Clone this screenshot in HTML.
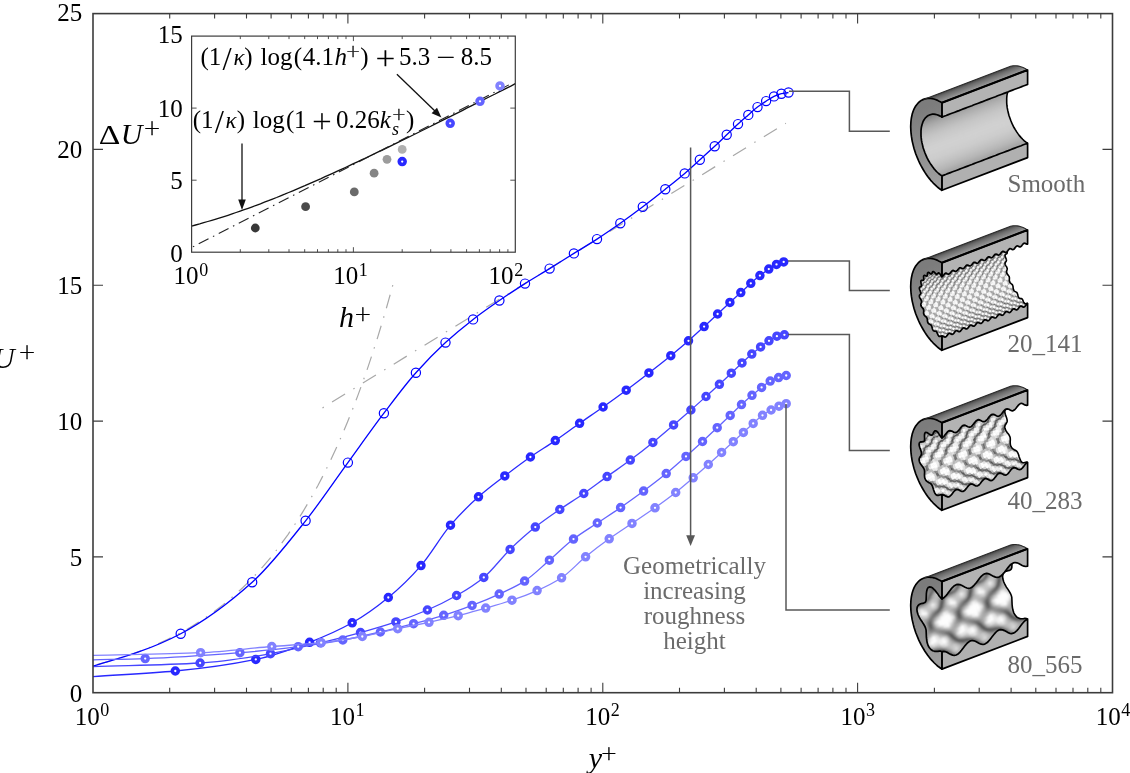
<!DOCTYPE html>
<html><head><meta charset="utf-8"><title>Velocity profiles</title>
<style>html,body{margin:0;padding:0;background:#fff}svg{display:block}</style></head>
<body><svg width="1130" height="773" viewBox="0 0 1130 773">
<defs><filter id="bl5" x="-5%" y="-5%" width="110%" height="110%"><feGaussianBlur stdDeviation="5"/></filter><filter id="bl7" x="-5%" y="-5%" width="110%" height="110%"><feGaussianBlur stdDeviation="7"/></filter><filter id="bl10" x="-5%" y="-5%" width="110%" height="110%"><feGaussianBlur stdDeviation="10"/></filter></defs>
<rect width="1130" height="773" fill="#fff"/>
<g transform="translate(941.9 146.5)">
<defs>
<linearGradient id="sa" gradientUnits="userSpaceOnUse" x1="-18.3" y1="-47.1" x2="-14.9" y2="-38.1"><stop offset="0" stop-color="#454545"/><stop offset=".3" stop-color="#6c6c6c"/><stop offset="1" stop-color="#a2a2a2"/></linearGradient>
<linearGradient id="fa" gradientUnits="userSpaceOnUse" x1="-30" y1="-35" x2="-5" y2="40"><stop offset="0" stop-color="#7c7c7c"/><stop offset="1" stop-color="#a0a0a0"/></linearGradient>
<clipPath id="ca"><path d="M0 -29.4L2.1 -30.2L4.3 -31L6.4 -31.9L8.6 -32.7L10.7 -33.5L12.9 -34.3L15 -35.1L17.1 -35.9L19.3 -36.8L21.4 -37.6L23.6 -38.4L25.7 -39.2L27.9 -40L30 -40.8L32.1 -41.7L34.3 -42.5L36.4 -43.3L38.6 -44.1L40.7 -44.9L42.9 -45.8L45 -46.6L47.1 -47.4L49.3 -48.2L51.4 -49L53.6 -49.8L55.7 -50.7L57.8 -51.5L60 -52.3L62.1 -53.1L64.3 -53.9L66.4 -54.7L68.6 -55.6L70.7 -56.4L72.8 -57.2L75 -58L77.1 -58.8L79.3 -59.6L81.4 -60.5L83.6 -61.3L85.7 -62.1L85.7 -62.1L84.1 -63.1L82.4 -63.8L80.8 -64.4L79.2 -64.8L77.7 -65L76.2 -65L74.8 -64.7L73.4 -64.3L72.1 -63.7L70.9 -62.9L69.8 -61.9L68.8 -60.8L67.9 -59.4L67 -57.9L66.4 -56.3L65.8 -54.5L65.3 -52.5L65 -50.5L64.8 -48.3L64.8 -46L64.8 -43.7L65 -41.3L65.3 -38.8L65.8 -36.3L66.4 -33.8L67 -31.2L67.9 -28.7L68.8 -26.2L69.8 -23.8L70.9 -21.3L72.1 -19L73.4 -16.8L74.8 -14.6L76.2 -12.6L77.7 -10.6L79.2 -8.9L80.8 -7.2L82.4 -5.7L84.1 -4.4L85.7 -3.3L85.7 -3.3L83.6 -2.5L81.4 -1.7L79.3 -0.8L77.1 0L75 0.8L72.8 1.6L70.7 2.4L68.6 3.2L66.4 4.1L64.3 4.9L62.1 5.7L60 6.5L57.8 7.3L55.7 8.1L53.6 9L51.4 9.8L49.3 10.6L47.1 11.4L45 12.2L42.9 13L40.7 13.9L38.6 14.7L36.4 15.5L34.3 16.3L32.1 17.1L30 18L27.9 18.8L25.7 19.6L23.6 20.4L21.4 21.2L19.3 22L17.1 22.9L15 23.7L12.9 24.5L10.7 25.3L8.6 26.1L6.4 26.9L4.3 27.8L2.1 28.6L0 29.4L0 29.4L-1.6 28.3L-3.3 27L-4.9 25.5L-6.5 23.8L-8 22.1L-9.5 20.1L-10.9 18.1L-12.3 15.9L-13.6 13.7L-14.8 11.4L-15.9 8.9L-16.9 6.5L-17.8 4L-18.7 1.5L-19.3 -1.1L-19.9 -3.6L-20.4 -6.1L-20.7 -8.6L-20.9 -11L-20.9 -13.3L-20.9 -15.6L-20.7 -17.8L-20.4 -19.8L-19.9 -21.8L-19.3 -23.6L-18.7 -25.2L-17.8 -26.7L-16.9 -28.1L-15.9 -29.2L-14.8 -30.2L-13.6 -31L-12.3 -31.6L-10.9 -32L-9.5 -32.3L-8 -32.3L-6.5 -32.1L-4.9 -31.7L-3.3 -31.1L-1.6 -30.4L0 -29.4z"/></clipPath>
</defs>
<path d="M0 -43.8L-1.5 -44.7L-3 -45.5L-4.5 -46.2L-6 -46.8L-7.5 -47.3L-8.9 -47.7L-10.3 -47.9L-11.7 -48.1L-13.1 -48.1L-14.5 -48L-15.8 -47.8L-17.1 -47.5L-18.3 -47.1L67.4 -79.8L68.6 -80.2L69.9 -80.5L71.2 -80.7L72.6 -80.8L74 -80.8L75.4 -80.6L76.8 -80.4L78.2 -80L79.7 -79.5L81.2 -78.9L82.7 -78.2L84.2 -77.4L85.7 -76.5z" fill="url(#sa)"/>
<g clip-path="url(#ca)">
<path d="M0 -29.4L2.1 -30.2L4.3 -31L6.4 -31.9L8.6 -32.7L10.7 -33.5L12.9 -34.3L15 -35.1L17.1 -35.9L19.3 -36.8L21.4 -37.6L23.6 -38.4L25.7 -39.2L27.9 -40L30 -40.8L32.1 -41.7L34.3 -42.5L36.4 -43.3L38.6 -44.1L40.7 -44.9L42.9 -45.8L45 -46.6L47.1 -47.4L49.3 -48.2L51.4 -49L53.6 -49.8L55.7 -50.7L57.8 -51.5L60 -52.3L62.1 -53.1L64.3 -53.9L66.4 -54.7L68.6 -55.6L70.7 -56.4L72.8 -57.2L75 -58L77.1 -58.8L79.3 -59.6L81.4 -60.5L83.6 -61.3L85.7 -62.1L85.7 -62.1L84.1 -63.1L82.4 -63.8L80.8 -64.4L79.2 -64.8L77.7 -65L76.2 -65L74.8 -64.7L73.4 -64.3L72.1 -63.7L70.9 -62.9L69.8 -61.9L68.8 -60.8L67.9 -59.4L67 -57.9L66.4 -56.3L65.8 -54.5L65.3 -52.5L65 -50.5L64.8 -48.3L64.8 -46L64.8 -43.7L65 -41.3L65.3 -38.8L65.8 -36.3L66.4 -33.8L67 -31.2L67.9 -28.7L68.8 -26.2L69.8 -23.8L70.9 -21.3L72.1 -19L73.4 -16.8L74.8 -14.6L76.2 -12.6L77.7 -10.6L79.2 -8.9L80.8 -7.2L82.4 -5.7L84.1 -4.4L85.7 -3.3L85.7 -3.3L83.6 -2.5L81.4 -1.7L79.3 -0.8L77.1 0L75 0.8L72.8 1.6L70.7 2.4L68.6 3.2L66.4 4.1L64.3 4.9L62.1 5.7L60 6.5L57.8 7.3L55.7 8.1L53.6 9L51.4 9.8L49.3 10.6L47.1 11.4L45 12.2L42.9 13L40.7 13.9L38.6 14.7L36.4 15.5L34.3 16.3L32.1 17.1L30 18L27.9 18.8L25.7 19.6L23.6 20.4L21.4 21.2L19.3 22L17.1 22.9L15 23.7L12.9 24.5L10.7 25.3L8.6 26.1L6.4 26.9L4.3 27.8L2.1 28.6L0 29.4L0 29.4L-1.6 28.3L-3.3 27L-4.9 25.5L-6.5 23.8L-8 22.1L-9.5 20.1L-10.9 18.1L-12.3 15.9L-13.6 13.7L-14.8 11.4L-15.9 8.9L-16.9 6.5L-17.8 4L-18.7 1.5L-19.3 -1.1L-19.9 -3.6L-20.4 -6.1L-20.7 -8.6L-20.9 -11L-20.9 -13.3L-20.9 -15.6L-20.7 -17.8L-20.4 -19.8L-19.9 -21.8L-19.3 -23.6L-18.7 -25.2L-17.8 -26.7L-16.9 -28.1L-15.9 -29.2L-14.8 -30.2L-13.6 -31L-12.3 -31.6L-10.9 -32L-9.5 -32.3L-8 -32.3L-6.5 -32.1L-4.9 -31.7L-3.3 -31.1L-1.6 -30.4L0 -29.4z" fill="#b4b4b4"/>
<g transform="scale(.1)" fill="currentColor" stroke="currentColor" stroke-width="5" stroke-linejoin="round" filter="url(#bl10)">
<path color="#d1d1d1" d="m-177 43l857-327 11 29-857 327z"/>
<path color="#d1d1d1" d="m-166 72l857-327 12 29-857 327z"/>
<path color="#d0d0d0" d="m-187 13l857-327 10 30-857 327z"/>
<path color="#cfcfcf" d="m-154 101l857-327 14 27-857 327z"/>
<path color="#cecece" d="m-195-16l857-327 8 29-857 327z"/>
<path color="#cdcdcd" d="m-140 128l857-327 14 27-857 327z"/>
<path color="#cbcbcb" d="m-201-46l857-327 6 30-857 327z"/>
<path color="#c9c9c9" d="m-126 155l857-327 16 25-857 327z"/>
<path color="#c7c7c7" d="m-205-75l857-327 4 29-857 327z"/>
<path color="#c4c4c4" d="m-110 180l857-327 17 24-857 327z"/>
<path color="#c2c2c2" d="m-208-103l857-327 3 28-857 327z"/>
<path color="#bfbfbf" d="m-93 204l857-327 18 22-857 327z"/>
<path color="#bcbcbc" d="m-209-131l857-327 1 28-857 327z"/>
<path color="#b9b9b9" d="m-75 226l857-327 18 21-857 327z"/>
<path color="#b5b5b5" d="m-209-158l857-327 0 27-857 327z"/>
<path color="#b2b2b2" d="m-57 247l857-327 19 18-857 327z"/>
<path color="#aeaeae" d="m-206-183l857-327-3 25-857 327z"/>
<path color="#aaa" d="m-38 265l857-327 19 16-857 327z"/>
<path color="#a7a7a7" d="m-202-206l857-327-4 23-857 327z"/>
<path color="#a3a3a3" d="m-19 281l857-327 19 13-857 327z"/>
<path color="#9f9f9f" d="m-196-228l857-327-6 22-857 327z"/>
<path color="#979797" d="m-188-248l857-327-8 20-857 327z"/>
<path color="#8f8f8f" d="m-179-266l857-327-9 18-857 327z"/>
<path color="#888" d="m-168-282l857-327-11 16-857 327z"/>
<path color="#818181" d="m-156-295l857-327-12 13-857 327z"/>
<path color="#7c7c7c" d="m-143-306l857-327-13 11-857 327z"/>
<path color="#777" d="m-128-314l857-327-15 8-857 327z"/>
<path color="#757575" d="m-113-320l857-327-15 6-857 327z"/>
</g></g>
<path d="M85.7 -62.1L84.1 -63.1L82.4 -63.8L80.8 -64.4L79.2 -64.8L77.7 -65L76.2 -65L74.8 -64.7L73.4 -64.3L72.1 -63.7L70.9 -62.9L69.8 -61.9L68.8 -60.8L67.9 -59.4L67 -57.9L66.4 -56.3L65.8 -54.5L65.3 -52.5L65 -50.5L64.8 -48.3L64.8 -46L64.8 -43.7L65 -41.3L65.3 -38.8L65.8 -36.3L66.4 -33.8L67 -31.2L67.9 -28.7L68.8 -26.2L69.8 -23.8L70.9 -21.3L72.1 -19L73.4 -16.8L74.8 -14.6L76.2 -12.6L77.7 -10.6L79.2 -8.9L80.8 -7.2L82.4 -5.7L84.1 -4.4L85.7 -3.3" fill="none" stroke="#000" stroke-width="1.6"/>
<path d="M0 -43.8L85.7 -76.5L85.7 -62.1L83.6 -61.3L81.4 -60.5L79.3 -59.6L77.1 -58.8L75 -58L72.8 -57.2L70.7 -56.4L68.6 -55.6L66.4 -54.7L64.3 -53.9L62.1 -53.1L60 -52.3L57.8 -51.5L55.7 -50.7L53.6 -49.8L51.4 -49L49.3 -48.2L47.1 -47.4L45 -46.6L42.9 -45.8L40.7 -44.9L38.6 -44.1L36.4 -43.3L34.3 -42.5L32.1 -41.7L30 -40.8L27.9 -40L25.7 -39.2L23.6 -38.4L21.4 -37.6L19.3 -36.8L17.1 -35.9L15 -35.1L12.9 -34.3L10.7 -33.5L8.6 -32.7L6.4 -31.9L4.3 -31L2.1 -30.2L0 -29.4z" fill="#b3b3b3" stroke="#000" stroke-width="1.7" stroke-linejoin="round"/>
<path d="M0 29.4L2.1 28.6L4.3 27.8L6.4 26.9L8.6 26.1L10.7 25.3L12.9 24.5L15 23.7L17.1 22.9L19.3 22L21.4 21.2L23.6 20.4L25.7 19.6L27.9 18.8L30 18L32.1 17.1L34.3 16.3L36.4 15.5L38.6 14.7L40.7 13.9L42.9 13L45 12.2L47.1 11.4L49.3 10.6L51.4 9.8L53.6 9L55.7 8.1L57.8 7.3L60 6.5L62.1 5.7L64.3 4.9L66.4 4.1L68.6 3.2L70.7 2.4L72.8 1.6L75 0.8L77.1 0L79.3 -0.8L81.4 -1.7L83.6 -2.5L85.7 -3.3L85.7 11.1L0 43.8z" fill="#b0b0b0" stroke="#000" stroke-width="1.7" stroke-linejoin="round"/>
<path d="M0 -43.8L-1.6 -44.8L-3.3 -45.6L-4.9 -46.4L-6.5 -47L-8.1 -47.5L-9.6 -47.8L-11.2 -48L-12.7 -48.1L-14.2 -48.1L-15.6 -47.9L-17 -47.6L-18.3 -47.1L-19.6 -46.6L-20.9 -45.9L-22.1 -45L-23.2 -44.1L-24.2 -43L-25.2 -41.8L-26.2 -40.5L-27 -39.1L-27.8 -37.6L-28.5 -36L-29.1 -34.3L-29.7 -32.4L-30.1 -30.5L-30.5 -28.6L-30.8 -26.5L-31 -24.4L-31.1 -22.2L-31.2 -19.9L-31.1 -17.6L-31 -15.2L-30.8 -12.8L-30.5 -10.3L-30.1 -7.9L-29.7 -5.4L-29.1 -2.9L-28.5 -0.4L-27.8 2.2L-27 4.7L-26.2 7.2L-25.2 9.7L-24.2 12.1L-23.2 14.5L-22.1 16.9L-20.9 19.2L-19.6 21.5L-18.3 23.7L-17 25.9L-15.6 28L-14.2 30L-12.7 31.9L-11.2 33.8L-9.6 35.5L-8.1 37.2L-6.5 38.7L-4.9 40.2L-3.3 41.5L-1.6 42.7L0 43.8L0 29.4L-1.6 28.3L-3.3 27L-4.9 25.5L-6.5 23.8L-8 22.1L-9.5 20.1L-10.9 18.1L-12.3 15.9L-13.6 13.7L-14.8 11.4L-15.9 8.9L-16.9 6.5L-17.8 4L-18.7 1.5L-19.3 -1.1L-19.9 -3.6L-20.4 -6.1L-20.7 -8.6L-20.9 -11L-20.9 -13.3L-20.9 -15.6L-20.7 -17.8L-20.4 -19.8L-19.9 -21.8L-19.3 -23.6L-18.7 -25.2L-17.8 -26.7L-16.9 -28.1L-15.9 -29.2L-14.8 -30.2L-13.6 -31L-12.3 -31.6L-10.9 -32L-9.5 -32.3L-8 -32.3L-6.5 -32.1L-4.9 -31.7L-3.3 -31.1L-1.6 -30.4L0 -29.4z" fill="url(#fa)" stroke="#000" stroke-width="1.7" stroke-linejoin="round"/>
<path d="M-18.3 -47.1L67.4 -79.8L68.6 -80.2L69.9 -80.5L71.2 -80.7L72.6 -80.8L74 -80.8L75.4 -80.6L76.8 -80.4L78.2 -80L79.7 -79.5L81.2 -78.9L82.7 -78.2L84.2 -77.4L85.7 -76.5" fill="none" stroke="#2a2a2a" stroke-width="1.1" stroke-linejoin="round"/>
<path d="M0 -43.8L85.7 -76.5" fill="none" stroke="#000" stroke-width="2.1"/>
</g>
<g transform="translate(941.9 306.5)">
<defs>
<linearGradient id="sb" gradientUnits="userSpaceOnUse" x1="-18.3" y1="-47.1" x2="-14.9" y2="-38.1"><stop offset="0" stop-color="#454545"/><stop offset=".3" stop-color="#6c6c6c"/><stop offset="1" stop-color="#a2a2a2"/></linearGradient>
<linearGradient id="fb" gradientUnits="userSpaceOnUse" x1="-30" y1="-35" x2="-5" y2="40"><stop offset="0" stop-color="#7c7c7c"/><stop offset="1" stop-color="#a0a0a0"/></linearGradient>
<clipPath id="cb"><path d="M0 -29.7L0.4 -30L0.9 -30.4L1.3 -30.9L1.8 -31.5L2.2 -32.1L2.7 -32.6L3.1 -33L3.6 -33.3L4 -33.3L4.5 -33.3L4.9 -33.1L5.4 -32.8L5.8 -32.6L6.2 -32.4L6.7 -32.3L7.1 -32.4L7.6 -32.7L8 -33.1L8.5 -33.6L8.9 -34.2L9.4 -34.8L9.8 -35.3L10.3 -35.7L10.7 -36L11.2 -36.1L11.6 -36L12.1 -35.8L12.5 -35.6L12.9 -35.3L13.4 -35.1L13.8 -35.1L14.3 -35.2L14.7 -35.4L15.2 -35.8L15.6 -36.3L16.1 -36.9L16.5 -37.5L17 -38L17.4 -38.4L17.9 -38.7L18.3 -38.8L18.7 -38.7L19.2 -38.5L19.6 -38.3L20.1 -38L20.5 -37.9L21 -37.8L21.4 -37.9L21.9 -38.1L22.3 -38.5L22.8 -39.1L23.2 -39.7L23.7 -40.2L24.1 -40.8L24.5 -41.2L25 -41.4L25.4 -41.5L25.9 -41.4L26.3 -41.3L26.8 -41L27.2 -40.8L27.7 -40.6L28.1 -40.5L28.6 -40.6L29 -40.9L29.5 -41.3L29.9 -41.8L30.4 -42.4L30.8 -43L31.2 -43.5L31.7 -43.9L32.1 -44.2L32.6 -44.2L33 -44.2L33.5 -44L33.9 -43.7L34.4 -43.5L34.8 -43.3L35.3 -43.2L35.7 -43.3L36.2 -43.6L36.6 -44L37 -44.5L37.5 -45.1L37.9 -45.7L38.4 -46.2L38.8 -46.6L39.3 -46.9L39.7 -47L40.2 -46.9L40.6 -46.7L41.1 -46.5L41.5 -46.2L42 -46L42.4 -46L42.9 -46.1L43.3 -46.3L43.7 -46.7L44.2 -47.2L44.6 -47.8L45.1 -48.4L45.5 -48.9L46 -49.3L46.4 -49.6L46.9 -49.7L47.3 -49.6L47.8 -49.4L48.2 -49.2L48.7 -48.9L49.1 -48.8L49.5 -48.7L50 -48.8L50.4 -49L50.9 -49.4L51.3 -50L51.8 -50.6L52.2 -51.1L52.7 -51.7L53.1 -52.1L53.6 -52.3L54 -52.4L54.5 -52.3L54.9 -52.2L55.3 -51.9L55.8 -51.7L56.2 -51.5L56.7 -51.4L57.1 -51.5L57.6 -51.8L58 -52.2L58.5 -52.7L58.9 -53.3L59.4 -53.9L59.8 -54.4L60.3 -54.8L60.7 -55.1L61.2 -55.1L61.6 -55.1L62 -54.9L62.5 -54.6L62.9 -54.4L63.4 -54.2L63.8 -54.1L64.3 -54.2L64.7 -54.5L65.2 -54.9L65.6 -55.4L66.1 -56L66.5 -56.6L67 -57.1L67.4 -57.5L67.8 -57.8L68.3 -57.9L68.7 -57.8L69.2 -57.6L69.6 -57.4L70.1 -57.1L70.5 -56.9L71 -56.9L71.4 -57L71.9 -57.2L72.3 -57.6L72.8 -58.1L73.2 -58.7L73.6 -59.3L74.1 -59.8L74.5 -60.2L75 -60.5L75.4 -60.6L75.9 -60.5L76.3 -60.3L76.8 -60.1L77.2 -59.8L77.7 -59.7L78.1 -59.6L78.6 -59.7L79 -59.9L79.5 -60.3L79.9 -60.9L80.3 -61.5L80.8 -62L81.2 -62.6L81.7 -63L82.1 -63.2L82.6 -63.3L83 -63.2L83.5 -63.1L83.9 -62.8L84.4 -62.6L84.8 -62.4L85.3 -62.3L85.7 -62.4L85.7 -62.4L85.4 -62.7L85 -63.2L84.6 -63.7L84.3 -64.3L83.9 -65L83.5 -65.5L83.1 -65.9L82.7 -66.2L82.4 -66.3L82 -66.2L81.7 -65.9L81.4 -65.6L81.1 -65.3L80.8 -65L80.5 -64.9L80.2 -64.9L79.9 -65.1L79.5 -65.4L79.1 -65.8L78.7 -66.4L78.2 -66.9L77.8 -67.3L77.4 -67.6L77 -67.7L76.7 -67.6L76.4 -67.4L76.2 -67L76 -66.5L75.8 -66L75.6 -65.6L75.4 -65.3L75.1 -65.2L74.8 -65.2L74.4 -65.4L74 -65.7L73.5 -66.1L73.1 -66.4L72.6 -66.7L72.2 -66.8L71.9 -66.8L71.6 -66.6L71.4 -66.2L71.3 -65.7L71.2 -65.1L71.2 -64.5L71.1 -63.9L70.9 -63.5L70.7 -63.2L70.5 -63.1L70.1 -63.2L69.7 -63.3L69.2 -63.5L68.8 -63.7L68.3 -63.8L68 -63.8L67.7 -63.6L67.5 -63.2L67.4 -62.7L67.4 -62.1L67.5 -61.4L67.5 -60.8L67.5 -60.1L67.5 -59.6L67.4 -59.2L67.2 -59L66.8 -58.9L66.5 -58.9L66 -58.9L65.6 -58.9L65.2 -58.8L64.9 -58.6L64.7 -58.3L64.6 -57.8L64.7 -57.2L64.8 -56.6L64.9 -55.8L65.1 -55.1L65.2 -54.5L65.3 -53.9L65.3 -53.4L65.1 -53.1L64.9 -52.8L64.6 -52.6L64.2 -52.4L63.8 -52.2L63.5 -52L63.3 -51.7L63.2 -51.2L63.2 -50.7L63.3 -50.1L63.5 -49.4L63.8 -48.7L64.1 -48L64.3 -47.3L64.5 -46.7L64.5 -46.2L64.5 -45.7L64.3 -45.3L64.1 -45L63.8 -44.6L63.5 -44.3L63.3 -43.9L63.2 -43.4L63.2 -42.9L63.3 -42.3L63.5 -41.7L63.8 -41.1L64.2 -40.4L64.6 -39.8L64.9 -39.2L65.1 -38.6L65.3 -38L65.3 -37.5L65.2 -37L65.1 -36.5L64.9 -36L64.8 -35.5L64.7 -35L64.6 -34.4L64.7 -33.9L64.9 -33.3L65.2 -32.7L65.6 -32.2L66 -31.6L66.5 -31.1L66.8 -30.6L67.2 -30.1L67.4 -29.5L67.5 -29L67.5 -28.4L67.5 -27.8L67.5 -27.2L67.4 -26.6L67.4 -26L67.5 -25.4L67.7 -24.8L68 -24.2L68.3 -23.8L68.8 -23.3L69.2 -22.9L69.7 -22.5L70.1 -22.1L70.5 -21.7L70.7 -21.2L70.9 -20.7L71.1 -20.1L71.2 -19.5L71.2 -18.8L71.3 -18.1L71.4 -17.4L71.6 -16.8L71.9 -16.2L72.2 -15.8L72.6 -15.4L73.1 -15.1L73.5 -14.9L74 -14.6L74.4 -14.4L74.8 -14.1L75.1 -13.7L75.4 -13.2L75.6 -12.6L75.8 -12L76 -11.3L76.2 -10.5L76.4 -9.9L76.7 -9.3L77 -8.8L77.4 -8.4L77.8 -8.2L78.2 -8.1L78.7 -8L79.1 -8L79.5 -7.9L79.9 -7.8L80.2 -7.5L80.5 -7.1L80.8 -6.6L81.1 -5.9L81.4 -5.2L81.7 -4.5L82 -3.9L82.4 -3.4L82.7 -3L83.1 -2.8L83.5 -2.7L83.9 -2.7L84.3 -2.9L84.6 -3L85 -3.1L85.4 -3.1L85.7 -3L85.7 -3L85.3 -2.7L84.8 -2.3L84.4 -1.8L83.9 -1.2L83.5 -0.6L83 -0.1L82.6 0.3L82.1 0.6L81.7 0.6L81.2 0.6L80.8 0.4L80.3 0.1L79.9 -0.1L79.5 -0.3L79 -0.4L78.6 -0.3L78.1 0L77.7 0.4L77.2 0.9L76.8 1.5L76.3 2.1L75.9 2.6L75.4 3L75 3.3L74.5 3.4L74.1 3.3L73.6 3.1L73.2 2.9L72.8 2.6L72.3 2.4L71.9 2.4L71.4 2.5L71 2.7L70.5 3.1L70.1 3.6L69.6 4.2L69.2 4.8L68.7 5.3L68.3 5.7L67.8 6L67.4 6.1L67 6L66.5 5.8L66.1 5.6L65.6 5.3L65.2 5.2L64.7 5.1L64.3 5.2L63.8 5.4L63.4 5.8L62.9 6.4L62.5 7L62 7.5L61.6 8.1L61.2 8.5L60.7 8.7L60.3 8.8L59.8 8.7L59.4 8.6L58.9 8.3L58.5 8.1L58 7.9L57.6 7.8L57.1 7.9L56.7 8.2L56.2 8.6L55.8 9.1L55.3 9.7L54.9 10.3L54.5 10.8L54 11.2L53.6 11.5L53.1 11.5L52.7 11.5L52.2 11.3L51.8 11L51.3 10.8L50.9 10.6L50.4 10.5L50 10.6L49.5 10.9L49.1 11.3L48.7 11.8L48.2 12.4L47.8 13L47.3 13.5L46.9 13.9L46.4 14.2L46 14.3L45.5 14.2L45.1 14L44.6 13.8L44.2 13.5L43.7 13.3L43.3 13.3L42.9 13.4L42.4 13.6L42 14L41.5 14.5L41.1 15.1L40.6 15.7L40.2 16.2L39.7 16.6L39.3 16.9L38.8 17L38.4 16.9L37.9 16.7L37.5 16.5L37 16.2L36.6 16.1L36.2 16L35.7 16.1L35.3 16.3L34.8 16.7L34.4 17.3L33.9 17.9L33.5 18.4L33 19L32.6 19.4L32.1 19.6L31.7 19.7L31.2 19.6L30.8 19.5L30.4 19.2L29.9 19L29.5 18.8L29 18.7L28.6 18.8L28.1 19.1L27.7 19.5L27.2 20L26.8 20.6L26.3 21.2L25.9 21.7L25.4 22.1L25 22.4L24.5 22.4L24.1 22.4L23.7 22.2L23.2 21.9L22.8 21.7L22.3 21.5L21.9 21.4L21.4 21.5L21 21.8L20.5 22.2L20.1 22.7L19.6 23.3L19.2 23.9L18.7 24.4L18.3 24.8L17.9 25.1L17.4 25.2L17 25.1L16.5 24.9L16.1 24.7L15.6 24.4L15.2 24.2L14.7 24.2L14.3 24.3L13.8 24.5L13.4 24.9L12.9 25.4L12.5 26L12.1 26.6L11.6 27.1L11.2 27.5L10.7 27.8L10.3 27.9L9.8 27.8L9.4 27.6L8.9 27.4L8.5 27.1L8 27L7.6 26.9L7.1 27L6.7 27.2L6.2 27.6L5.8 28.2L5.4 28.8L4.9 29.3L4.5 29.9L4 30.3L3.6 30.5L3.1 30.6L2.7 30.5L2.2 30.4L1.8 30.1L1.3 29.9L0.9 29.7L0.4 29.6L0 29.7L0 29.7L-0.3 29.6L-0.7 29.6L-1.1 29.7L-1.4 29.8L-1.8 30L-2.2 30L-2.6 29.9L-3 29.7L-3.3 29.3L-3.7 28.8L-4 28.2L-4.3 27.5L-4.6 26.8L-4.9 26.1L-5.2 25.6L-5.5 25.2L-5.8 24.9L-6.2 24.8L-6.6 24.7L-7 24.7L-7.5 24.6L-7.9 24.5L-8.3 24.3L-8.7 23.9L-9 23.4L-9.3 22.8L-9.5 22.2L-9.7 21.4L-9.9 20.7L-10.1 20.1L-10.3 19.5L-10.6 19L-10.9 18.6L-11.3 18.3L-11.7 18.1L-12.2 17.8L-12.6 17.6L-13.1 17.3L-13.5 16.9L-13.8 16.5L-14.1 15.9L-14.3 15.3L-14.4 14.6L-14.5 13.9L-14.5 13.2L-14.6 12.6L-14.8 12L-15 11.5L-15.2 11L-15.6 10.6L-16 10.2L-16.5 9.8L-16.9 9.4L-17.4 8.9L-17.7 8.5L-18 7.9L-18.2 7.3L-18.3 6.7L-18.3 6.1L-18.2 5.5L-18.2 4.9L-18.2 4.3L-18.2 3.7L-18.3 3.2L-18.5 2.6L-18.9 2.1L-19.2 1.6L-19.7 1.1L-20.1 0.5L-20.5 0L-20.8 -0.6L-21 -1.2L-21.1 -1.7L-21 -2.3L-20.9 -2.8L-20.8 -3.3L-20.6 -3.8L-20.5 -4.3L-20.4 -4.8L-20.4 -5.3L-20.6 -5.9L-20.8 -6.5L-21.1 -7.1L-21.5 -7.7L-21.9 -8.4L-22.2 -9L-22.4 -9.6L-22.5 -10.2L-22.5 -10.7L-22.4 -11.2L-22.2 -11.6L-21.9 -11.9L-21.6 -12.3L-21.4 -12.6L-21.2 -13L-21.2 -13.5L-21.2 -14L-21.4 -14.6L-21.6 -15.3L-21.9 -16L-22.2 -16.7L-22.4 -17.4L-22.5 -18L-22.5 -18.5L-22.4 -19L-22.2 -19.3L-21.9 -19.5L-21.5 -19.7L-21.1 -19.9L-20.8 -20.1L-20.6 -20.4L-20.4 -20.7L-20.4 -21.2L-20.5 -21.8L-20.6 -22.4L-20.8 -23.1L-20.9 -23.9L-21 -24.5L-21.1 -25.1L-21 -25.6L-20.8 -25.9L-20.5 -26.1L-20.1 -26.2L-19.7 -26.2L-19.2 -26.2L-18.9 -26.2L-18.5 -26.3L-18.3 -26.5L-18.2 -26.9L-18.2 -27.4L-18.2 -28.1L-18.2 -28.7L-18.3 -29.4L-18.3 -30L-18.2 -30.5L-18 -30.9L-17.7 -31.1L-17.4 -31.1L-16.9 -31L-16.5 -30.8L-16 -30.6L-15.6 -30.5L-15.2 -30.4L-15 -30.5L-14.8 -30.8L-14.6 -31.2L-14.5 -31.8L-14.5 -32.4L-14.4 -33L-14.3 -33.5L-14.1 -33.9L-13.8 -34.1L-13.5 -34.1L-13.1 -34L-12.6 -33.7L-12.2 -33.4L-11.7 -33L-11.3 -32.7L-10.9 -32.5L-10.6 -32.5L-10.3 -32.6L-10.1 -32.9L-9.9 -33.3L-9.7 -33.8L-9.5 -34.3L-9.3 -34.7L-9 -34.9L-8.7 -35L-8.3 -34.9L-7.9 -34.6L-7.5 -34.2L-7 -33.7L-6.6 -33.1L-6.2 -32.7L-5.8 -32.4L-5.5 -32.2L-5.2 -32.2L-4.9 -32.3L-4.6 -32.6L-4.3 -32.9L-4 -33.2L-3.7 -33.5L-3.3 -33.6L-3 -33.5L-2.6 -33.2L-2.2 -32.8L-1.8 -32.3L-1.4 -31.6L-1.1 -31L-0.7 -30.5L-0.3 -30L0 -29.7z"/></clipPath>
</defs>
<path d="M0 -43.8L-1.5 -44.7L-3 -45.5L-4.5 -46.2L-6 -46.8L-7.5 -47.3L-8.9 -47.7L-10.3 -47.9L-11.7 -48.1L-13.1 -48.1L-14.5 -48L-15.8 -47.8L-17.1 -47.5L-18.3 -47.1L67.4 -79.8L68.6 -80.2L69.9 -80.5L71.2 -80.7L72.6 -80.8L74 -80.8L75.4 -80.6L76.8 -80.4L78.2 -80L79.7 -79.5L81.2 -78.9L82.7 -78.2L84.2 -77.4L85.7 -76.5z" fill="url(#sb)"/>
<g clip-path="url(#cb)">
<path d="M0 -29.7L0.4 -30L0.9 -30.4L1.3 -30.9L1.8 -31.5L2.2 -32.1L2.7 -32.6L3.1 -33L3.6 -33.3L4 -33.3L4.5 -33.3L4.9 -33.1L5.4 -32.8L5.8 -32.6L6.2 -32.4L6.7 -32.3L7.1 -32.4L7.6 -32.7L8 -33.1L8.5 -33.6L8.9 -34.2L9.4 -34.8L9.8 -35.3L10.3 -35.7L10.7 -36L11.2 -36.1L11.6 -36L12.1 -35.8L12.5 -35.6L12.9 -35.3L13.4 -35.1L13.8 -35.1L14.3 -35.2L14.7 -35.4L15.2 -35.8L15.6 -36.3L16.1 -36.9L16.5 -37.5L17 -38L17.4 -38.4L17.9 -38.7L18.3 -38.8L18.7 -38.7L19.2 -38.5L19.6 -38.3L20.1 -38L20.5 -37.9L21 -37.8L21.4 -37.9L21.9 -38.1L22.3 -38.5L22.8 -39.1L23.2 -39.7L23.7 -40.2L24.1 -40.8L24.5 -41.2L25 -41.4L25.4 -41.5L25.9 -41.4L26.3 -41.3L26.8 -41L27.2 -40.8L27.7 -40.6L28.1 -40.5L28.6 -40.6L29 -40.9L29.5 -41.3L29.9 -41.8L30.4 -42.4L30.8 -43L31.2 -43.5L31.7 -43.9L32.1 -44.2L32.6 -44.2L33 -44.2L33.5 -44L33.9 -43.7L34.4 -43.5L34.8 -43.3L35.3 -43.2L35.7 -43.3L36.2 -43.6L36.6 -44L37 -44.5L37.5 -45.1L37.9 -45.7L38.4 -46.2L38.8 -46.6L39.3 -46.9L39.7 -47L40.2 -46.9L40.6 -46.7L41.1 -46.5L41.5 -46.2L42 -46L42.4 -46L42.9 -46.1L43.3 -46.3L43.7 -46.7L44.2 -47.2L44.6 -47.8L45.1 -48.4L45.5 -48.9L46 -49.3L46.4 -49.6L46.9 -49.7L47.3 -49.6L47.8 -49.4L48.2 -49.2L48.7 -48.9L49.1 -48.8L49.5 -48.7L50 -48.8L50.4 -49L50.9 -49.4L51.3 -50L51.8 -50.6L52.2 -51.1L52.7 -51.7L53.1 -52.1L53.6 -52.3L54 -52.4L54.5 -52.3L54.9 -52.2L55.3 -51.9L55.8 -51.7L56.2 -51.5L56.7 -51.4L57.1 -51.5L57.6 -51.8L58 -52.2L58.5 -52.7L58.9 -53.3L59.4 -53.9L59.8 -54.4L60.3 -54.8L60.7 -55.1L61.2 -55.1L61.6 -55.1L62 -54.9L62.5 -54.6L62.9 -54.4L63.4 -54.2L63.8 -54.1L64.3 -54.2L64.7 -54.5L65.2 -54.9L65.6 -55.4L66.1 -56L66.5 -56.6L67 -57.1L67.4 -57.5L67.8 -57.8L68.3 -57.9L68.7 -57.8L69.2 -57.6L69.6 -57.4L70.1 -57.1L70.5 -56.9L71 -56.9L71.4 -57L71.9 -57.2L72.3 -57.6L72.8 -58.1L73.2 -58.7L73.6 -59.3L74.1 -59.8L74.5 -60.2L75 -60.5L75.4 -60.6L75.9 -60.5L76.3 -60.3L76.8 -60.1L77.2 -59.8L77.7 -59.7L78.1 -59.6L78.6 -59.7L79 -59.9L79.5 -60.3L79.9 -60.9L80.3 -61.5L80.8 -62L81.2 -62.6L81.7 -63L82.1 -63.2L82.6 -63.3L83 -63.2L83.5 -63.1L83.9 -62.8L84.4 -62.6L84.8 -62.4L85.3 -62.3L85.7 -62.4L85.7 -62.4L85.4 -62.7L85 -63.2L84.6 -63.7L84.3 -64.3L83.9 -65L83.5 -65.5L83.1 -65.9L82.7 -66.2L82.4 -66.3L82 -66.2L81.7 -65.9L81.4 -65.6L81.1 -65.3L80.8 -65L80.5 -64.9L80.2 -64.9L79.9 -65.1L79.5 -65.4L79.1 -65.8L78.7 -66.4L78.2 -66.9L77.8 -67.3L77.4 -67.6L77 -67.7L76.7 -67.6L76.4 -67.4L76.2 -67L76 -66.5L75.8 -66L75.6 -65.6L75.4 -65.3L75.1 -65.2L74.8 -65.2L74.4 -65.4L74 -65.7L73.5 -66.1L73.1 -66.4L72.6 -66.7L72.2 -66.8L71.9 -66.8L71.6 -66.6L71.4 -66.2L71.3 -65.7L71.2 -65.1L71.2 -64.5L71.1 -63.9L70.9 -63.5L70.7 -63.2L70.5 -63.1L70.1 -63.2L69.7 -63.3L69.2 -63.5L68.8 -63.7L68.3 -63.8L68 -63.8L67.7 -63.6L67.5 -63.2L67.4 -62.7L67.4 -62.1L67.5 -61.4L67.5 -60.8L67.5 -60.1L67.5 -59.6L67.4 -59.2L67.2 -59L66.8 -58.9L66.5 -58.9L66 -58.9L65.6 -58.9L65.2 -58.8L64.9 -58.6L64.7 -58.3L64.6 -57.8L64.7 -57.2L64.8 -56.6L64.9 -55.8L65.1 -55.1L65.2 -54.5L65.3 -53.9L65.3 -53.4L65.1 -53.1L64.9 -52.8L64.6 -52.6L64.2 -52.4L63.8 -52.2L63.5 -52L63.3 -51.7L63.2 -51.2L63.2 -50.7L63.3 -50.1L63.5 -49.4L63.8 -48.7L64.1 -48L64.3 -47.3L64.5 -46.7L64.5 -46.2L64.5 -45.7L64.3 -45.3L64.1 -45L63.8 -44.6L63.5 -44.3L63.3 -43.9L63.2 -43.4L63.2 -42.9L63.3 -42.3L63.5 -41.7L63.8 -41.1L64.2 -40.4L64.6 -39.8L64.9 -39.2L65.1 -38.6L65.3 -38L65.3 -37.5L65.2 -37L65.1 -36.5L64.9 -36L64.8 -35.5L64.7 -35L64.6 -34.4L64.7 -33.9L64.9 -33.3L65.2 -32.7L65.6 -32.2L66 -31.6L66.5 -31.1L66.8 -30.6L67.2 -30.1L67.4 -29.5L67.5 -29L67.5 -28.4L67.5 -27.8L67.5 -27.2L67.4 -26.6L67.4 -26L67.5 -25.4L67.7 -24.8L68 -24.2L68.3 -23.8L68.8 -23.3L69.2 -22.9L69.7 -22.5L70.1 -22.1L70.5 -21.7L70.7 -21.2L70.9 -20.7L71.1 -20.1L71.2 -19.5L71.2 -18.8L71.3 -18.1L71.4 -17.4L71.6 -16.8L71.9 -16.2L72.2 -15.8L72.6 -15.4L73.1 -15.1L73.5 -14.9L74 -14.6L74.4 -14.4L74.8 -14.1L75.1 -13.7L75.4 -13.2L75.6 -12.6L75.8 -12L76 -11.3L76.2 -10.5L76.4 -9.9L76.7 -9.3L77 -8.8L77.4 -8.4L77.8 -8.2L78.2 -8.1L78.7 -8L79.1 -8L79.5 -7.9L79.9 -7.8L80.2 -7.5L80.5 -7.1L80.8 -6.6L81.1 -5.9L81.4 -5.2L81.7 -4.5L82 -3.9L82.4 -3.4L82.7 -3L83.1 -2.8L83.5 -2.7L83.9 -2.7L84.3 -2.9L84.6 -3L85 -3.1L85.4 -3.1L85.7 -3L85.7 -3L85.3 -2.7L84.8 -2.3L84.4 -1.8L83.9 -1.2L83.5 -0.6L83 -0.1L82.6 0.3L82.1 0.6L81.7 0.6L81.2 0.6L80.8 0.4L80.3 0.1L79.9 -0.1L79.5 -0.3L79 -0.4L78.6 -0.3L78.1 0L77.7 0.4L77.2 0.9L76.8 1.5L76.3 2.1L75.9 2.6L75.4 3L75 3.3L74.5 3.4L74.1 3.3L73.6 3.1L73.2 2.9L72.8 2.6L72.3 2.4L71.9 2.4L71.4 2.5L71 2.7L70.5 3.1L70.1 3.6L69.6 4.2L69.2 4.8L68.7 5.3L68.3 5.7L67.8 6L67.4 6.1L67 6L66.5 5.8L66.1 5.6L65.6 5.3L65.2 5.2L64.7 5.1L64.3 5.2L63.8 5.4L63.4 5.8L62.9 6.4L62.5 7L62 7.5L61.6 8.1L61.2 8.5L60.7 8.7L60.3 8.8L59.8 8.7L59.4 8.6L58.9 8.3L58.5 8.1L58 7.9L57.6 7.8L57.1 7.9L56.7 8.2L56.2 8.6L55.8 9.1L55.3 9.7L54.9 10.3L54.5 10.8L54 11.2L53.6 11.5L53.1 11.5L52.7 11.5L52.2 11.3L51.8 11L51.3 10.8L50.9 10.6L50.4 10.5L50 10.6L49.5 10.9L49.1 11.3L48.7 11.8L48.2 12.4L47.8 13L47.3 13.5L46.9 13.9L46.4 14.2L46 14.3L45.5 14.2L45.1 14L44.6 13.8L44.2 13.5L43.7 13.3L43.3 13.3L42.9 13.4L42.4 13.6L42 14L41.5 14.5L41.1 15.1L40.6 15.7L40.2 16.2L39.7 16.6L39.3 16.9L38.8 17L38.4 16.9L37.9 16.7L37.5 16.5L37 16.2L36.6 16.1L36.2 16L35.7 16.1L35.3 16.3L34.8 16.7L34.4 17.3L33.9 17.9L33.5 18.4L33 19L32.6 19.4L32.1 19.6L31.7 19.7L31.2 19.6L30.8 19.5L30.4 19.2L29.9 19L29.5 18.8L29 18.7L28.6 18.8L28.1 19.1L27.7 19.5L27.2 20L26.8 20.6L26.3 21.2L25.9 21.7L25.4 22.1L25 22.4L24.5 22.4L24.1 22.4L23.7 22.2L23.2 21.9L22.8 21.7L22.3 21.5L21.9 21.4L21.4 21.5L21 21.8L20.5 22.2L20.1 22.7L19.6 23.3L19.2 23.9L18.7 24.4L18.3 24.8L17.9 25.1L17.4 25.2L17 25.1L16.5 24.9L16.1 24.7L15.6 24.4L15.2 24.2L14.7 24.2L14.3 24.3L13.8 24.5L13.4 24.9L12.9 25.4L12.5 26L12.1 26.6L11.6 27.1L11.2 27.5L10.7 27.8L10.3 27.9L9.8 27.8L9.4 27.6L8.9 27.4L8.5 27.1L8 27L7.6 26.9L7.1 27L6.7 27.2L6.2 27.6L5.8 28.2L5.4 28.8L4.9 29.3L4.5 29.9L4 30.3L3.6 30.5L3.1 30.6L2.7 30.5L2.2 30.4L1.8 30.1L1.3 29.9L0.9 29.7L0.4 29.6L0 29.7L0 29.7L-0.3 29.6L-0.7 29.6L-1.1 29.7L-1.4 29.8L-1.8 30L-2.2 30L-2.6 29.9L-3 29.7L-3.3 29.3L-3.7 28.8L-4 28.2L-4.3 27.5L-4.6 26.8L-4.9 26.1L-5.2 25.6L-5.5 25.2L-5.8 24.9L-6.2 24.8L-6.6 24.7L-7 24.7L-7.5 24.6L-7.9 24.5L-8.3 24.3L-8.7 23.9L-9 23.4L-9.3 22.8L-9.5 22.2L-9.7 21.4L-9.9 20.7L-10.1 20.1L-10.3 19.5L-10.6 19L-10.9 18.6L-11.3 18.3L-11.7 18.1L-12.2 17.8L-12.6 17.6L-13.1 17.3L-13.5 16.9L-13.8 16.5L-14.1 15.9L-14.3 15.3L-14.4 14.6L-14.5 13.9L-14.5 13.2L-14.6 12.6L-14.8 12L-15 11.5L-15.2 11L-15.6 10.6L-16 10.2L-16.5 9.8L-16.9 9.4L-17.4 8.9L-17.7 8.5L-18 7.9L-18.2 7.3L-18.3 6.7L-18.3 6.1L-18.2 5.5L-18.2 4.9L-18.2 4.3L-18.2 3.7L-18.3 3.2L-18.5 2.6L-18.9 2.1L-19.2 1.6L-19.7 1.1L-20.1 0.5L-20.5 0L-20.8 -0.6L-21 -1.2L-21.1 -1.7L-21 -2.3L-20.9 -2.8L-20.8 -3.3L-20.6 -3.8L-20.5 -4.3L-20.4 -4.8L-20.4 -5.3L-20.6 -5.9L-20.8 -6.5L-21.1 -7.1L-21.5 -7.7L-21.9 -8.4L-22.2 -9L-22.4 -9.6L-22.5 -10.2L-22.5 -10.7L-22.4 -11.2L-22.2 -11.6L-21.9 -11.9L-21.6 -12.3L-21.4 -12.6L-21.2 -13L-21.2 -13.5L-21.2 -14L-21.4 -14.6L-21.6 -15.3L-21.9 -16L-22.2 -16.7L-22.4 -17.4L-22.5 -18L-22.5 -18.5L-22.4 -19L-22.2 -19.3L-21.9 -19.5L-21.5 -19.7L-21.1 -19.9L-20.8 -20.1L-20.6 -20.4L-20.4 -20.7L-20.4 -21.2L-20.5 -21.8L-20.6 -22.4L-20.8 -23.1L-20.9 -23.9L-21 -24.5L-21.1 -25.1L-21 -25.6L-20.8 -25.9L-20.5 -26.1L-20.1 -26.2L-19.7 -26.2L-19.2 -26.2L-18.9 -26.2L-18.5 -26.3L-18.3 -26.5L-18.2 -26.9L-18.2 -27.4L-18.2 -28.1L-18.2 -28.7L-18.3 -29.4L-18.3 -30L-18.2 -30.5L-18 -30.9L-17.7 -31.1L-17.4 -31.1L-16.9 -31L-16.5 -30.8L-16 -30.6L-15.6 -30.5L-15.2 -30.4L-15 -30.5L-14.8 -30.8L-14.6 -31.2L-14.5 -31.8L-14.5 -32.4L-14.4 -33L-14.3 -33.5L-14.1 -33.9L-13.8 -34.1L-13.5 -34.1L-13.1 -34L-12.6 -33.7L-12.2 -33.4L-11.7 -33L-11.3 -32.7L-10.9 -32.5L-10.6 -32.5L-10.3 -32.6L-10.1 -32.9L-9.9 -33.3L-9.7 -33.8L-9.5 -34.3L-9.3 -34.7L-9 -34.9L-8.7 -35L-8.3 -34.9L-7.9 -34.6L-7.5 -34.2L-7 -33.7L-6.6 -33.1L-6.2 -32.7L-5.8 -32.4L-5.5 -32.2L-5.2 -32.2L-4.9 -32.3L-4.6 -32.6L-4.3 -32.9L-4 -33.2L-3.7 -33.5L-3.3 -33.6L-3 -33.5L-2.6 -33.2L-2.2 -32.8L-1.8 -32.3L-1.4 -31.6L-1.1 -31L-0.7 -30.5L-0.3 -30L0 -29.7z" fill="#b4b4b4"/>
<g transform="scale(.1)" fill="currentColor" stroke="currentColor" stroke-width="5" stroke-linejoin="round" filter="url(#bl5)">
<path color="#a4a4a4" d="m665-245l11-4 15 19-17 7z"/>
<path color="#adadad" d="m656-266l19-7 1 24-11 4z"/>
<path color="#b0b0b0" d="m636-333l11-7 12 23-17 6z"/>
<path color="#b9b9b9" d="m694-182l18-7 6 26-13 1z"/>
<path color="#949494" d="m631-355l19-7-3 22-11 7z"/>
<path color="#f4f4f4" d="m649-288l24-8 2 23-19 7z"/>
<path color="#fbfbfb" d="m624-280l25-8 7 22-18 7z"/>
<path color="#efefef" d="m674-223l17-7 16 17-23 11z"/>
<path color="#fbfbfb" d="m642-311l17-6 14 21-24 8z"/>
<path color="#fafafa" d="m656-217l18-6 10 21-24 11z"/>
<path color="#ececec" d="m625-304l17-7 7 23-25 8z"/>
<path color="#8a8a8a" d="m705-162l13-1 17 14-18 7z"/>
<path color="#fdfdfd" d="m684-202l23-11 5 24-18 7z"/>
<path color="#ededed" d="m660-191l24-11 10 20-18 8z"/>
<path color="#afafaf" d="m638-259l18-7 9 21-12 5z"/>
<path color="#acacac" d="m653-240l12-5 9 22-18 6z"/>
<path color="#ababab" d="m613-275l11-5 14 21-17 6z"/>
<path color="#b5b5b5" d="m638-209l18-8 4 26-12 3z"/>
<path color="#a2a2a2" d="m606-297l19-7-1 24-11 5z"/>
<path color="#e5e5e5" d="m627-377l25-5-2 20-19 7z"/>
<path color="#989898" d="m648-188l12-3 16 17-18 6z"/>
<path color="#fff" d="m602-372l25-5 4 22-18 7z"/>
<path color="#969696" d="m626-326l10-7 6 22-17 7z"/>
<path color="#949494" d="m676-174l18-8 11 20-13 2z"/>
<path color="#d7d7d7" d="m717-142l18-7 16 11-22 14z"/>
<path color="#acacac" d="m622-420l10-10 9 24-17 7z"/>
<path color="#bdbdbd" d="m613-348l18-7 5 22-10 7z"/>
<path color="#f5f5f5" d="m621-253l17-6 15 19-24 9z"/>
<path color="#fff" d="m624-399l17-7 11 24-25 5z"/>
<path color="#fefefe" d="m699-136l18-6 12 18-22 14z"/>
<path color="#fbfbfb" d="m629-231l24-9 3 23-18 8z"/>
<path color="#f4f4f4" d="m605-221l24-10 9 22-18 7z"/>
<path color="#f3f3f3" d="m603-246l18-7 8 22-24 10z"/>
<path color="#d1d1d1" d="m607-392l17-7 3 22-25 5z"/>
<path color="#b4b4b4" d="m692-160l13-2 12 20-18 6z"/>
<path color="#b6b6b6" d="m742-106l18-7 10 25-15-1z"/>
<path color="#b0b0b0" d="m591-363l11-9 11 24-17 7z"/>
<path color="#fff" d="m729-124l22-14 9 25-18 7z"/>
<path color="#eee" d="m601-319l25-7-1 22-19 7z"/>
<path color="#fdfdfd" d="m576-313l25-6 5 22-18 7z"/>
<path color="#d4d4d4" d="m707-110l22-14 13 18-18 7z"/>
<path color="#e5e5e5" d="m658-168l18-6 16 14-22 12z"/>
<path color="#6d6d6d" d="m620-441l19-6-7 17-10 10z"/>
<path color="#fdfdfd" d="m596-341l17-7 13 22-25 7z"/>
<path color="#fdfdfd" d="m641-161l17-7 12 20-23 12z"/>
<path color="#b9b9b9" d="m681-129l18-7 8 26-14 0z"/>
<path color="#e1e1e1" d="m578-334l18-7 5 22-25 6z"/>
<path color="#a4a4a4" d="m593-217l12-4 15 19-18 6z"/>
<path color="#a2a2a2" d="m602-269l11-6 8 22-18 7z"/>
<path color="#adadad" d="m585-239l18-7 2 25-12 4z"/>
<path color="#a3a3a3" d="m620-202l18-7 10 21-12 2z"/>
<path color="#b8b8b8" d="m588-290l18-7 7 22-11 6z"/>
<path color="#828282" d="m588-385l19-7-5 20-11 9z"/>
<path color="#fefefe" d="m670-148l22-12 7 24-18 7z"/>
<path color="#e3e3e3" d="m647-136l23-12 11 19-18 7z"/>
<path color="#646464" d="m755-89l15 1 16 8-18 6z"/>
<path color="#b2b2b2" d="m636-186l12-2 10 20-17 7z"/>
<path color="#b0b0b0" d="m565-306l11-7 12 23-17 7z"/>
<path color="#787878" d="m693-110l14 0 17 11-18 6z"/>
<path color="#757575" d="m611-410l11-10 2 21-17 7z"/>
<path color="#b9b9b9" d="m623-154l18-7 6 25-13 2z"/>
<path color="#949494" d="m560-328l18-6-2 21-11 7z"/>
<path color="#f4f4f4" d="m577-261l25-8 1 23-18 7z"/>
<path color="#fbfbfb" d="m553-253l24-8 8 22-18 7z"/>
<path color="#efefef" d="m602-196l18-6 16 16-24 11z"/>
<path color="#fbfbfb" d="m571-283l17-7 14 21-25 8z"/>
<path color="#6f6f6f" d="m724-99l18-7 13 17-15-2z"/>
<path color="#fafafa" d="m585-189l17-7 10 21-23 11z"/>
<path color="#ececec" d="m553-277l18-6 6 22-24 8z"/>
<path color="#8a8a8a" d="m634-134l13-2 16 14-17 7z"/>
<path color="#c5c5c5" d="m620-462l25-1-6 16-19 6z"/>
<path color="#878787" d="m581-354l10-9 5 22-18 7z"/>
<path color="#fdfdfd" d="m612-175l24-11 5 25-18 7z"/>
<path color="#bdbdbd" d="m602-435l18-6 2 21-11 10z"/>
<path color="#ededed" d="m589-164l23-11 11 21-18 7z"/>
<path color="#fff" d="m594-460l26-2 0 21-18 6z"/>
<path color="#d7d7d7" d="m586-406l25-4-4 18-19 7z"/>
<path color="#838383" d="m663-122l18-7 12 19-13 0z"/>
<path color="#fff" d="m560-403l26-3 2 21-18 6z"/>
<path color="#afafaf" d="m567-232l18-7 8 22-11 4z"/>
<path color="#bfbfbf" d="m570-379l18-6 3 22-10 9z"/>
<path color="#acacac" d="m582-213l11-4 9 21-17 7z"/>
<path color="#b1b1b1" d="m768-74l18-6 16 5-20 16z"/>
<path color="#ababab" d="m542-248l11-5 14 21-18 6z"/>
<path color="#afafaf" d="m740-91l15 2 13 15-17 7z"/>
<path color="#c7c7c7" d="m706-93l18-6 16 8-21 15z"/>
<path color="#b5b5b5" d="m567-182l18-7 4 25-12 3z"/>
<path color="#fefefe" d="m620-481l17-8 8 26-25 1z"/>
<path color="#a2a2a2" d="m535-270l18-7 0 24-11 5z"/>
<path color="#fff" d="m751-67l17-7 14 15-20 16z"/>
<path color="#e5e5e5" d="m556-350l25-4-3 20-18 6z"/>
<path color="#fff" d="m585-427l17-8 9 25-25 4z"/>
<path color="#fff" d="m688-86l18-7 13 17-21 15z"/>
<path color="#989898" d="m577-161l12-3 16 17-18 6z"/>
<path color="#fff" d="m530-345l26-5 4 22-19 7z"/>
<path color="#b4b4b4" d="m680-110l13 0 13 17-18 7z"/>
<path color="#969696" d="m554-298l11-8 6 23-18 6z"/>
<path color="#a6a6a6" d="m584-448l10-12 8 25-17 8z"/>
<path color="#a7a7a7" d="m604-474l16-7 0 19-26 2z"/>
<path color="#9d9d9d" d="m622-501l10-13 5 25-17 8z"/>
<path color="#949494" d="m605-147l18-7 11 20-13 1z"/>
<path color="#bebebe" d="m568-420l17-7 1 21-26 3z"/>
<path color="#d7d7d7" d="m646-115l17-7 17 12-22 13z"/>
<path color="#acacac" d="m550-393l10-10 10 24-18 8z"/>
<path color="#bdbdbd" d="m541-321l19-7 5 22-11 8z"/>
<path color="#f5f5f5" d="m549-226l18-6 15 19-24 9z"/>
<path color="#fff" d="m552-371l18-8 11 25-25 4z"/>
<path color="#fefefe" d="m628-109l18-6 12 18-22 14z"/>
<path color="#fbfbfb" d="m558-204l24-9 3 24-18 7z"/>
<path color="#f4f4f4" d="m534-194l24-10 9 22-18 7z"/>
<path color="#f3f3f3" d="m532-219l17-7 9 22-24 10z"/>
<path color="#fff" d="m782-59l20-16 12 23-18 6z"/>
<path color="#fff" d="m719-76l21-15 11 24-18 7z"/>
<path color="#d1d1d1" d="m535-364l17-7 4 21-26 5z"/>
<path color="#b4b4b4" d="m621-133l13-1 12 19-18 6z"/>
<path color="#c1c1c1" d="m698-61l21-15 14 16-18 7z"/>
<path color="#afafaf" d="m733-60l18-7 11 24-15-2z"/>
<path color="#ababab" d="m762-43l20-16 14 13-18 7z"/>
<path color="#b6b6b6" d="m670-79l18-7 10 25-14-1z"/>
<path color="#b0b0b0" d="m520-336l10-9 11 24-17 7z"/>
<path color="#fff" d="m658-97l22-13 8 24-18 7z"/>
<path color="#eee" d="m529-292l25-6-1 21-18 7z"/>
<path color="#fdfdfd" d="m504-286l25-6 6 22-18 7z"/>
<path color="#a5a5a5" d="m796-46l18-6 13 22-17-3z"/>
<path color="#d4d4d4" d="m636-83l22-14 12 18-18 7z"/>
<path color="#5b5b5b" d="m585-468l19-6-10 14-10 12z"/>
<path color="#e5e5e5" d="m587-141l18-6 16 14-23 12z"/>
<path color="#6d6d6d" d="m549-414l19-6-8 17-10 10z"/>
<path color="#fdfdfd" d="m524-314l17-7 13 23-25 6z"/>
<path color="#fdfdfd" d="m569-134l18-7 11 20-22 13z"/>
<path color="#b9b9b9" d="m610-101l18-8 8 26-14 0z"/>
<path color="#535353" d="m624-519l19-6-11 11-10 13z"/>
<path color="#e1e1e1" d="m507-307l17-7 5 22-25 6z"/>
<path color="#a4a4a4" d="m522-190l12-4 15 19-18 6z"/>
<path color="#a2a2a2" d="m531-242l11-6 7 22-17 7z"/>
<path color="#adadad" d="m514-212l18-7 2 25-12 4z"/>
<path color="#a3a3a3" d="m549-175l18-7 10 21-13 2z"/>
<path color="#b8b8b8" d="m517-263l18-7 7 22-11 6z"/>
<path color="#828282" d="m517-358l18-6-5 19-10 9z"/>
<path color="#fefefe" d="m598-121l23-12 7 24-18 8z"/>
<path color="#e3e3e3" d="m576-108l22-13 12 20-18 7z"/>
<path color="#646464" d="m684-62l14 1 17 8-18 7z"/>
<path color="#626262" d="m574-436l10-12 1 21-17 7z"/>
<path color="#b2b2b2" d="m564-159l13-2 10 20-18 7z"/>
<path color="#575757" d="m747-45l15 2 16 4-17 7z"/>
<path color="#565656" d="m612-487l10-14-2 20-16 7z"/>
<path color="#b0b0b0" d="m493-278l11-8 13 23-18 7z"/>
<path color="#787878" d="m622-83l14 0 16 11-17 7z"/>
<path color="#757575" d="m540-383l10-10 2 22-17 7z"/>
<path color="#515151" d="m810-33l17 3 16 1-18 7z"/>
<path color="#b9b9b9" d="m551-127l18-7 7 26-14 1z"/>
<path color="#949494" d="m488-300l19-7-3 21-11 8z"/>
<path color="#f4f4f4" d="m506-234l25-8 1 23-18 7z"/>
<path color="#5c5c5c" d="m715-53l18-7 14 15-16-3z"/>
<path color="#fbfbfb" d="m481-226l25-8 8 22-19 7z"/>
<path color="#efefef" d="m531-169l18-6 15 16-23 11z"/>
<path color="#fbfbfb" d="m499-256l18-7 14 21-25 8z"/>
<path color="#6f6f6f" d="m652-72l18-7 14 17-15-2z"/>
<path color="#545454" d="m778-39l18-7 14 13-16-3z"/>
<path color="#fafafa" d="m514-162l17-7 10 21-23 11z"/>
<path color="#b8b8b8" d="m566-462l19-6-1 20-10 12z"/>
<path color="#ececec" d="m482-249l17-7 7 22-25 8z"/>
<path color="#8a8a8a" d="m562-107l14-1 16 14-18 6z"/>
<path color="#c5c5c5" d="m548-434l26-2-6 16-19 6z"/>
<path color="#878787" d="m510-327l10-9 4 22-17 7z"/>
<path color="#fdfdfd" d="m541-148l23-11 5 25-18 7z"/>
<path color="#bdbdbd" d="m530-408l19-6 1 21-10 10z"/>
<path color="#afafaf" d="m586-487l26 0-8 13-19 6z"/>
<path color="#ededed" d="m518-137l23-11 10 21-18 7z"/>
<path color="#afafaf" d="m605-513l19-6-2 18-10 14z"/>
<path color="#fff" d="m523-432l25-2 1 20-19 6z"/>
<path color="#fbfbfb" d="m561-486l25-1-1 19-19 6z"/>
<path color="#d7d7d7" d="m514-379l26-4-5 19-18 6z"/>
<path color="#838383" d="m592-94l18-7 12 18-14 0z"/>
<path color="#fff" d="m489-376l25-3 3 21-19 7z"/>
<path color="#9a9a9a" d="m628-536l25 0-10 11-19 6z"/>
<path color="#afafaf" d="m495-205l19-7 8 22-12 4z"/>
<path color="#bfbfbf" d="m498-351l19-7 3 22-10 9z"/>
<path color="#acacac" d="m510-186l12-4 9 21-17 7z"/>
<path color="#b1b1b1" d="m697-46l18-7 16 5-20 16z"/>
<path color="#ababab" d="m470-220l11-6 14 21-17 7z"/>
<path color="#a9a9a9" d="m731-48l16 3 14 13-18 7z"/>
<path color="#afafaf" d="m669-64l15 2 13 16-18 6z"/>
<path color="#f1f1f1" d="m602-537l26 1-4 17-19 6z"/>
<path color="#c7c7c7" d="m635-65l17-7 17 8-21 15z"/>
<path color="#9b9b9b" d="m761-32l17-7 16 3-19 16z"/>
<path color="#b5b5b5" d="m495-155l19-7 4 25-13 3z"/>
<path color="#fefefe" d="m549-454l17-8 8 26-26 2z"/>
<path color="#a2a2a2" d="m464-242l18-7-1 23-11 6z"/>
<path color="#fff" d="m679-40l18-6 14 14-20 16z"/>
<path color="#e5e5e5" d="m484-322l26-5-3 20-19 7z"/>
<path color="#fff" d="m513-400l17-8 10 25-26 4z"/>
<path color="#9f9f9f" d="m794-36l16 3 15 11-18 7z"/>
<path color="#fff" d="m617-59l18-6 13 16-21 15z"/>
<path color="#989898" d="m505-134l13-3 15 17-17 7z"/>
<path color="#fff" d="m459-318l25-4 4 22-18 6z"/>
<path color="#b4b4b4" d="m608-83l14 0 13 18-18 6z"/>
<path color="#969696" d="m483-271l10-7 6 22-17 7z"/>
<path color="#fbfbfb" d="m589-505l16-8 7 26-26 0z"/>
<path color="#a6a6a6" d="m513-421l10-11 7 24-17 8z"/>
<path color="#fbfbfb" d="m743-25l18-7 14 12-19 17z"/>
<path color="#a7a7a7" d="m532-447l17-7-1 20-25 2z"/>
<path color="#9d9d9d" d="m550-473l11-13 5 24-17 8z"/>
<path color="#888" d="m825-22l18-7 14-1-18 18z"/>
<path color="#949494" d="m533-120l18-7 11 20-13 1z"/>
<path color="#bebebe" d="m496-393l17-7 1 21-25 3z"/>
<path color="#d7d7d7" d="m574-88l18-6 16 11-22 14z"/>
<path color="#acacac" d="m479-366l10-10 9 25-17 7z"/>
<path color="#bdbdbd" d="m470-294l18-6 5 22-10 7z"/>
<path color="#f5f5f5" d="m478-198l17-7 15 19-24 10z"/>
<path color="#fff" d="m481-344l17-7 12 24-26 5z"/>
<path color="#fefefe" d="m556-81l18-7 12 19-21 13z"/>
<path color="#909090" d="m572-498l17-7-3 18-25 1z"/>
<path color="#fbfbfb" d="m486-176l24-10 4 24-19 7z"/>
<path color="#f0f0f0" d="m632-553l17-8 4 25-25 0z"/>
<path color="#f4f4f4" d="m462-167l24-9 9 21-18 7z"/>
<path color="#f3f3f3" d="m461-192l17-6 8 22-24 9z"/>
<path color="#fff" d="m711-32l20-16 12 23-18 7z"/>
<path color="#fff" d="m648-49l21-15 10 24-18 7z"/>
<path color="#909090" d="m592-523l10-14 3 24-16 8z"/>
<path color="#f0f0f0" d="m807-15l18-7 14 10-18 18z"/>
<path color="#d1d1d1" d="m464-337l17-7 3 22-25 4z"/>
<path color="#b4b4b4" d="m549-106l13-1 12 19-18 7z"/>
<path color="#c1c1c1" d="m627-34l21-15 13 16-18 7z"/>
<path color="#afafaf" d="m661-33l18-7 12 24-16-2z"/>
<path color="#ababab" d="m691-16l20-16 14 14-18 7z"/>
<path color="#f8f8f8" d="m775-20l19-16 13 21-18 7z"/>
<path color="#b6b6b6" d="m599-52l18-7 10 25-15-1z"/>
<path color="#b0b0b0" d="m449-309l10-9 11 24-17 7z"/>
<path color="#fff" d="m586-69l22-14 9 24-18 7z"/>
<path color="#eee" d="m458-265l25-6-1 22-18 7z"/>
<path color="#fdfdfd" d="m433-258l25-7 6 23-19 6z"/>
<path color="#858585" d="m615-545l17-8-4 17-26-1z"/>
<path color="#a5a5a5" d="m725-18l18-7 13 22-17-3z"/>
<path color="#d4d4d4" d="m565-56l21-13 13 17-18 7z"/>
<path color="#5b5b5b" d="m513-441l19-6-9 15-10 11z"/>
<path color="#e5e5e5" d="m516-113l17-7 16 14-22 13z"/>
<path color="#6d6d6d" d="m477-387l19-6-7 17-10 10z"/>
<path color="#fdfdfd" d="m453-287l17-7 13 23-25 6z"/>
<path color="#949494" d="m756-3l19-17 14 12-18 6z"/>
<path color="#fdfdfd" d="m498-107l18-6 11 20-23 12z"/>
<path color="#858585" d="m637-569l11-15 1 23-17 8z"/>
<path color="#b9b9b9" d="m538-74l18-7 9 25-14 0z"/>
<path color="#535353" d="m553-492l19-6-11 12-11 13z"/>
<path color="#e1e1e1" d="m436-280l17-7 5 22-25 7z"/>
<path color="#a4a4a4" d="m451-163l11-4 15 19-17 7z"/>
<path color="#a2a2a2" d="m459-215l11-5 8 22-17 6z"/>
<path color="#adadad" d="m442-185l19-7 1 25-11 4z"/>
<path color="#a3a3a3" d="m477-148l18-7 10 21-12 3z"/>
<path color="#b8b8b8" d="m445-236l19-6 6 22-11 5z"/>
<path color="#999" d="m789-8l18-7 14 21-18-5z"/>
<path color="#828282" d="m445-331l19-6-5 19-10 9z"/>
<path color="#fefefe" d="m527-93l22-13 7 25-18 7z"/>
<path color="#e3e3e3" d="m504-81l23-12 11 19-18 7z"/>
<path color="#646464" d="m612-35l15 1 16 8-17 7z"/>
<path color="#626262" d="m503-409l10-12 0 21-17 7z"/>
<path color="#b2b2b2" d="m493-131l12-3 11 21-18 6z"/>
<path color="#575757" d="m675-18l16 2 16 5-18 6z"/>
<path color="#565656" d="m540-460l10-13-1 19-17 7z"/>
<path color="#b0b0b0" d="m422-251l11-7 12 22-17 7z"/>
<path color="#4f4f4f" d="m596-539l19-6-13 8-10 14z"/>
<path color="#787878" d="m551-56l14 0 16 11-18 7z"/>
<path color="#757575" d="m469-355l10-11 2 22-17 7z"/>
<path color="#515151" d="m582-508l10-15-3 18-17 7z"/>
<path color="#515151" d="m739-6l17 3 15 1-18 7z"/>
<path color="#b9b9b9" d="m480-100l18-7 6 26-13 1z"/>
<path color="#949494" d="m417-273l19-7-3 22-11 7z"/>
<path color="#f4f4f4" d="m435-207l24-8 2 23-19 7z"/>
<path color="#5c5c5c" d="m643-26l18-7 14 15-16-3z"/>
<path color="#fbfbfb" d="m410-199l25-8 7 22-18 7z"/>
<path color="#efefef" d="m460-141l17-7 16 17-24 11z"/>
<path color="#fbfbfb" d="m428-229l17-7 14 21-24 8z"/>
<path color="#6f6f6f" d="m581-45l18-7 13 17-15-1z"/>
<path color="#545454" d="m707-11l18-7 14 12-17-3z"/>
<path color="#fafafa" d="m442-135l18-6 9 21-23 11z"/>
<path color="#b8b8b8" d="m494-434l19-7 0 20-10 12z"/>
<path color="#ececec" d="m411-222l17-7 7 22-25 8z"/>
<path color="#8a8a8a" d="m491-80l13-1 16 14-17 6z"/>
<path color="#c5c5c5" d="m477-407l26-2-7 16-19 6z"/>
<path color="#878787" d="m438-300l11-9 4 22-17 7z"/>
<path color="#fdfdfd" d="m469-120l24-11 5 24-18 7z"/>
<path color="#bdbdbd" d="m459-380l18-7 2 21-10 11z"/>
<path color="#afafaf" d="m515-460l25 0-8 13-19 6z"/>
<path color="#4c4c4c" d="m643-583l19-6-14 5-11 15z"/>
<path color="#ededed" d="m446-109l23-11 11 20-18 7z"/>
<path color="#4e4e4e" d="m626-553l11-16-5 16-17 8z"/>
<path color="#afafaf" d="m534-486l19-6-3 19-10 13z"/>
<path color="#fff" d="m451-405l26-2 0 20-18 7z"/>
<path color="#fbfbfb" d="m489-459l26-1-2 19-19 7z"/>
<path color="#d7d7d7" d="m443-352l26-3-5 18-19 6z"/>
<path color="#4f4f4f" d="m771-2l18-6 14 9-17-4z"/>
<path color="#838383" d="m520-67l18-7 13 18-14 0z"/>
<path color="#fff" d="m418-349l25-3 2 21-18 7z"/>
<path color="#9a9a9a" d="m556-509l26 1-10 10-19 6z"/>
<path color="#afafaf" d="m424-178l18-7 9 22-12 4z"/>
<path color="#bfbfbf" d="m427-324l18-7 4 22-11 9z"/>
<path color="#acacac" d="m439-159l12-4 9 22-18 6z"/>
<path color="#a4a4a4" d="m577-534l19-5-4 16-10 15z"/>
<path color="#b1b1b1" d="m626-19l17-7 16 5-20 16z"/>
<path color="#ababab" d="m399-193l11-6 14 21-18 7z"/>
<path color="#a9a9a9" d="m659-21l16 3 14 13-18 7z"/>
<path color="#afafaf" d="m597-36l15 1 14 16-18 6z"/>
<path color="#f1f1f1" d="m531-510l25 1-3 17-19 6z"/>
<path color="#c7c7c7" d="m563-38l18-7 16 9-21 15z"/>
<path color="#9b9b9b" d="m689-5l18-6 15 2-19 17z"/>
<path color="#b5b5b5" d="m424-128l18-7 4 26-12 2z"/>
<path color="#fefefe" d="m478-427l16-7 9 25-26 2z"/>
<path color="#a2a2a2" d="m392-215l19-7-1 23-11 6z"/>
<path color="#fff" d="m608-13l18-6 13 14-19 16z"/>
<path color="#e5e5e5" d="m413-295l25-5-2 20-19 7z"/>
<path color="#fff" d="m442-373l17-7 10 25-26 3z"/>
<path color="#9f9f9f" d="m722-9l17 3 14 11-18 7z"/>
<path color="#fff" d="m546-32l17-6 13 17-20 15z"/>
<path color="#989898" d="m434-107l12-2 16 16-18 7z"/>
<path color="#fff" d="m388-290l25-5 4 22-19 7z"/>
<path color="#8e8e8e" d="m601-555l25 2-11 8-19 6z"/>
<path color="#b4b4b4" d="m537-56l14 0 12 18-17 6z"/>
<path color="#969696" d="m411-244l11-7 6 22-17 7z"/>
<path color="#fbfbfb" d="m517-478l17-8 6 26-25 0z"/>
<path color="#a6a6a6" d="m441-393l10-12 8 25-17 7z"/>
<path color="#fbfbfb" d="m671 2l18-7 14 13-19 17z"/>
<path color="#a7a7a7" d="m461-419l17-8-1 20-26 2z"/>
<path color="#9d9d9d" d="m479-446l10-13 5 25-16 7z"/>
<path color="#888" d="m753 5l18-7 15-1-18 18z"/>
<path color="#949494" d="m462-93l18-7 11 20-13 1z"/>
<path color="#bebebe" d="m425-366l17-7 1 21-25 3z"/>
<path color="#d7d7d7" d="m503-61l17-6 17 11-22 14z"/>
<path color="#acacac" d="m407-338l11-11 9 25-17 7z"/>
<path color="#bdbdbd" d="m398-266l19-7 5 22-11 7z"/>
<path color="#979797" d="m624-578l19-5-6 14-11 16z"/>
<path color="#f5f5f5" d="m406-171l18-7 15 19-24 10z"/>
<path color="#e3e3e3" d="m576-557l25 2-5 16-19 5z"/>
<path color="#fff" d="m410-317l17-7 11 24-25 5z"/>
<path color="#fefefe" d="m485-54l18-7 12 19-22 14z"/>
<path color="#909090" d="m500-470l17-8-2 18-26 1z"/>
<path color="#fbfbfb" d="m415-149l24-10 3 24-18 7z"/>
<path color="#f0f0f0" d="m560-526l17-8 5 26-26-1z"/>
<path color="#f4f4f4" d="m391-140l24-9 9 21-18 7z"/>
<path color="#f3f3f3" d="m389-164l17-7 9 22-24 9z"/>
<path color="#fff" d="m639-5l20-16 12 23-18 7z"/>
<path color="#fff" d="m576-21l21-15 11 23-18 7z"/>
<path color="#909090" d="m521-496l10-14 3 24-17 8z"/>
<path color="#f0f0f0" d="m735 12l18-7 15 10-18 18z"/>
<path color="#d1d1d1" d="m393-310l17-7 3 22-25 5z"/>
<path color="#b4b4b4" d="m478-79l13-1 12 19-18 7z"/>
<path color="#c1c1c1" d="m556-6l20-15 14 15-18 7z"/>
<path color="#afafaf" d="m590-6l18-7 12 24-16-2z"/>
<path color="#7c7c7c" d="m650-597l24 3-12 5-19 6z"/>
<path color="#ababab" d="m620 11l19-16 14 14-17 7z"/>
<path color="#f8f8f8" d="m703 8l19-17 13 21-17 7z"/>
<path color="#b6b6b6" d="m528-24l18-8 10 26-15-2z"/>
<path color="#b0b0b0" d="m377-282l11-8 10 24-17 6z"/>
<path color="#fff" d="m515-42l22-14 9 24-18 8z"/>
<path color="#eee" d="m386-237l25-7 0 22-19 7z"/>
<path color="#fdfdfd" d="m361-231l25-6 6 22-18 7z"/>
<path color="#858585" d="m544-518l16-8-4 17-25-1z"/>
<path color="#a5a5a5" d="m653 9l18-7 13 23-16-4z"/>
<path color="#d4d4d4" d="m493-28l22-14 13 18-18 7z"/>
<path color="#5b5b5b" d="m442-413l19-6-10 14-10 12z"/>
<path color="#e5e5e5" d="m444-86l18-7 16 14-23 13z"/>
<path color="#6d6d6d" d="m406-359l19-7-7 17-11 11z"/>
<path color="#fdfdfd" d="m381-260l17-6 13 22-25 7z"/>
<path color="#dfdfdf" d="m607-570l17-8 2 25-25-2z"/>
<path color="#949494" d="m684 25l19-17 15 11-18 7z"/>
<path color="#fdfdfd" d="m427-80l17-6 11 20-22 12z"/>
<path color="#858585" d="m566-541l10-16 1 23-17 8z"/>
<path color="#cecece" d="m625-599l25 2-7 14-19 5z"/>
<path color="#b9b9b9" d="m467-47l18-7 8 26-14 0z"/>
<path color="#535353" d="m481-464l19-6-11 11-10 13z"/>
<path color="#e1e1e1" d="m364-253l17-7 5 23-25 6z"/>
<path color="#a4a4a4" d="m379-136l12-4 15 19-18 7z"/>
<path color="#a2a2a2" d="m388-187l11-6 7 22-17 7z"/>
<path color="#adadad" d="m371-157l18-7 2 24-12 4z"/>
<path color="#a3a3a3" d="m406-121l18-7 10 21-13 3z"/>
<path color="#b8b8b8" d="m374-208l18-7 7 22-11 6z"/>
<path color="#999" d="m718 19l17-7 15 21-18-4z"/>
<path color="#828282" d="m374-303l19-7-5 20-11 8z"/>
<path color="#fefefe" d="m455-66l23-13 7 25-18 7z"/>
<path color="#e3e3e3" d="m433-54l22-12 12 19-18 7z"/>
<path color="#646464" d="m541-8l15 2 16 7-18 7z"/>
<path color="#626262" d="m431-382l10-11 1 20-17 7z"/>
<path color="#b2b2b2" d="m421-104l13-3 10 21-17 6z"/>
<path color="#575757" d="m604 9l16 2 16 5-18 7z"/>
<path color="#565656" d="m469-433l10-13-1 19-17 8z"/>
<path color="#757575" d="m591-561l16-9-6 15-25-2z"/>
<path color="#b0b0b0" d="m351-224l10-7 13 23-18 6z"/>
<path color="#4f4f4f" d="m525-512l19-6-13 8-10 14z"/>
<path color="#787878" d="m479-28l14 0 17 11-18 6z"/>
<path color="#757575" d="m397-328l10-10 3 21-17 7z"/>
<path color="#515151" d="m510-481l11-15-4 18-17 8z"/>
<path color="#cacaca" d="m658-609l16-8 0 23-24-3z"/>
<path color="#515151" d="m668 21l16 4 16 1-18 6z"/>
<path color="#b9b9b9" d="m409-73l18-7 6 26-13 1z"/>
<path color="#7e7e7e" d="m614-583l11-16-1 21-17 8z"/>
<path color="#949494" d="m346-246l18-7-3 22-10 7z"/>
<path color="#f4f4f4" d="m363-179l25-8 1 23-18 7z"/>
<path color="#5c5c5c" d="m572 1l18-7 14 15-16-2z"/>
<path color="#fbfbfb" d="m339-171l24-8 8 22-19 7z"/>
<path color="#efefef" d="m388-114l18-7 15 17-23 11z"/>
<path color="#fbfbfb" d="m356-202l18-6 14 21-25 8z"/>
<path color="#6f6f6f" d="m510-17l18-7 13 16-15-1z"/>
<path color="#545454" d="m636 16l17-7 15 12-17-3z"/>
<path color="#fafafa" d="m371-108l17-6 10 21-23 11z"/>
<path color="#b8b8b8" d="m423-407l19-6-1 20-10 11z"/>
<path color="#ececec" d="m339-195l17-7 7 23-24 8z"/>
<path color="#8a8a8a" d="m420-53l13-1 16 14-18 7z"/>
<path color="#c5c5c5" d="m406-380l25-2-6 16-19 7z"/>
<path color="#878787" d="m367-273l10-9 4 22-17 7z"/>
<path color="#fdfdfd" d="m398-93l23-11 6 24-18 7z"/>
<path color="#bdbdbd" d="m387-353l19-6 1 21-10 10z"/>
<path color="#afafaf" d="m443-432l26-1-8 14-19 6z"/>
<path color="#4c4c4c" d="m572-556l19-5-15 4-10 16z"/>
<path color="#ededed" d="m375-82l23-11 11 20-19 8z"/>
<path color="#4e4e4e" d="m555-526l11-15-6 15-16 8z"/>
<path color="#afafaf" d="m463-459l18-5-2 18-10 13z"/>
<path color="#696969" d="m641-600l17-9-8 12-25-2z"/>
<path color="#fff" d="m380-378l26-2 0 21-19 6z"/>
<path color="#fbfbfb" d="m418-432l25 0-1 19-19 6z"/>
<path color="#d7d7d7" d="m372-325l25-3-4 18-19 7z"/>
<path color="#4f4f4f" d="m700 26l18-7 14 10-18-4z"/>
<path color="#838383" d="m449-40l18-7 12 19-14-1z"/>
<path color="#fff" d="m346-321l26-4 2 22-19 6z"/>
<path color="#9a9a9a" d="m485-482l25 1-10 11-19 6z"/>
<path color="#afafaf" d="m352-150l19-7 8 21-12 5z"/>
<path color="#bfbfbf" d="m355-297l19-6 3 21-10 9z"/>
<path color="#acacac" d="m367-131l12-5 9 22-17 6z"/>
<path color="#a4a4a4" d="m506-507l19-5-4 16-11 15z"/>
<path color="#b1b1b1" d="m554 8l18-7 16 6-20 16z"/>
<path color="#ababab" d="m327-166l12-5 13 21-17 6z"/>
<path color="#a9a9a9" d="m588 7l16 2 14 14-18 6z"/>
<path color="#afafaf" d="m526-9l15 1 13 16-18 7z"/>
<path color="#7a7a7a" d="m666-620l12-17-4 20-16 8z"/>
<path color="#f1f1f1" d="m460-483l25 1-4 18-18 5z"/>
<path color="#c7c7c7" d="m492-11l18-6 16 8-21 15z"/>
<path color="#9b9b9b" d="m618 23l18-7 15 2-19 17z"/>
<path color="#b5b5b5" d="m353-100l18-8 4 26-13 3z"/>
<path color="#fefefe" d="m406-400l17-7 8 25-25 2z"/>
<path color="#a2a2a2" d="m321-188l18-7 0 24-12 5z"/>
<path color="#fff" d="m536 15l18-7 14 15-20 16z"/>
<path color="#4c4c4c" d="m603-566l11-17-7 13-16 9z"/>
<path color="#e5e5e5" d="m341-268l26-5-3 20-18 7z"/>
<path color="#fff" d="m370-346l17-7 10 25-25 3z"/>
<path color="#9f9f9f" d="m651 18l17 3 14 11-18 7z"/>
<path color="#fff" d="m474-4l18-7 13 17-21 15z"/>
<path color="#989898" d="m362-79l13-3 15 17-17 6z"/>
<path color="#fff" d="m316-263l25-5 5 22-19 7z"/>
<path color="#8e8e8e" d="m530-528l25 2-11 8-19 6z"/>
<path color="#b4b4b4" d="m465-29l14 1 13 17-18 7z"/>
<path color="#969696" d="m340-217l11-7 5 22-17 7z"/>
<path color="#fbfbfb" d="m446-451l17-8 6 26-26 1z"/>
<path color="#4c4c4c" d="m622-595l19-5-16 1-11 16z"/>
<path color="#a6a6a6" d="m370-366l10-12 7 25-17 7z"/>
<path color="#fbfbfb" d="m600 29l18-6 14 12-19 17z"/>
<path color="#a7a7a7" d="m389-392l17-8 0 20-26 2z"/>
<path color="#9d9d9d" d="m408-419l10-13 5 25-17 7z"/>
<path color="#888" d="m682 32l18-6 14-1-18 17z"/>
<path color="#949494" d="m390-65l19-8 11 20-14 2z"/>
<path color="#bebebe" d="m353-338l17-8 2 21-26 4z"/>
<path color="#d7d7d7" d="m431-33l18-7 16 11-21 14z"/>
<path color="#acacac" d="m336-311l10-10 9 24-17 7z"/>
<path color="#bdbdbd" d="m327-239l19-7 5 22-11 7z"/>
<path color="#979797" d="m553-551l19-5-6 15-11 15z"/>
<path color="#f5f5f5" d="m335-144l17-6 15 19-24 9z"/>
<path color="#e3e3e3" d="m505-530l25 2-5 16-19 5z"/>
<path color="#fff" d="m338-290l17-7 12 24-26 5z"/>
<path color="#fefefe" d="m414-27l17-6 13 18-22 14z"/>
<path color="#909090" d="m429-443l17-8-3 19-25 0z"/>
<path color="#fbfbfb" d="m343-122l24-9 4 23-18 8z"/>
<path color="#f0f0f0" d="m489-499l17-8 4 26-25-1z"/>
<path color="#f4f4f4" d="m319-112l24-10 10 22-19 7z"/>
<path color="#f3f3f3" d="m318-137l17-7 8 22-24 10z"/>
<path color="#fff" d="m568 23l20-16 12 22-18 7z"/>
<path color="#fff" d="m505 6l21-15 10 24-18 7z"/>
<path color="#909090" d="m449-468l11-15 3 24-17 8z"/>
<path color="#f0f0f0" d="m664 39l18-7 14 10-18 18z"/>
<path color="#d1d1d1" d="m321-283l17-7 3 22-25 5z"/>
<path color="#b4b4b4" d="m406-51l14-2 11 20-17 6z"/>
<path color="#c1c1c1" d="m484 21l21-15 13 16-17 7z"/>
<path color="#afafaf" d="m518 22l18-7 12 24-16-3z"/>
<path color="#7c7c7c" d="m579-569l24 3-12 5-19 5z"/>
<path color="#ababab" d="m548 39l20-16 14 13-18 7z"/>
<path color="#f8f8f8" d="m632 35l19-17 13 21-18 7z"/>
<path color="#4c4c4c" d="m654-602l12-18-8 11-17 9z"/>
<path color="#b6b6b6" d="m456 3l18-7 10 25-15-1z"/>
<path color="#b0b0b0" d="m306-254l10-9 11 24-17 7z"/>
<path color="#fff" d="m444-15l21-14 9 25-18 7z"/>
<path color="#eee" d="m315-210l25-7-1 22-18 7z"/>
<path color="#fdfdfd" d="m290-204l25-6 6 22-19 7z"/>
<path color="#858585" d="m472-491l17-8-4 17-25-1z"/>
<path color="#a5a5a5" d="m582 36l18-7 13 23-17-3z"/>
<path color="#d4d4d4" d="m422-1l22-14 12 18-18 7z"/>
<path color="#5b5b5b" d="m370-386l19-6-9 14-10 12z"/>
<path color="#e5e5e5" d="m373-59l17-6 16 14-22 12z"/>
<path color="#6d6d6d" d="m335-332l18-6-7 17-10 10z"/>
<path color="#fdfdfd" d="m310-232l17-7 13 22-25 7z"/>
<path color="#dfdfdf" d="m536-542l17-9 2 25-25-2z"/>
<path color="#919191" d="m603-590l19-5-8 12-11 17z"/>
<path color="#949494" d="m613 52l19-17 14 11-18 7z"/>
<path color="#fdfdfd" d="m355-52l18-7 11 20-23 12z"/>
<path color="#858585" d="m494-514l11-16 1 23-17 8z"/>
<path color="#cecece" d="m554-572l25 3-7 13-19 5z"/>
<path color="#b9b9b9" d="m396-20l18-7 8 26-14 0z"/>
<path color="#535353" d="m410-437l19-6-11 11-10 13z"/>
<path color="#e1e1e1" d="m293-225l17-7 5 22-25 6z"/>
<path color="#a4a4a4" d="m308-108l11-4 15 19-17 6z"/>
<path color="#a2a2a2" d="m316-160l11-6 8 22-17 7z"/>
<path color="#adadad" d="m299-130l19-7 1 25-11 4z"/>
<path color="#a3a3a3" d="m334-93l19-7 9 21-12 2z"/>
<path color="#b8b8b8" d="m302-181l19-7 6 22-11 6z"/>
<path color="#999" d="m646 46l18-7 14 21-17-4z"/>
<path color="#828282" d="m303-276l18-7-5 20-10 9z"/>
<path color="#fefefe" d="m384-39l22-12 8 24-18 7z"/>
<path color="#e3e3e3" d="m361-27l23-12 12 19-18 7z"/>
<path color="#646464" d="m469 20l15 1 17 8-18 6z"/>
<path color="#626262" d="m360-354l10-12 0 20-17 8z"/>
<path color="#b2b2b2" d="m350-77l12-2 11 20-18 7z"/>
<path color="#575757" d="m532 36l16 3 16 4-18 7z"/>
<path color="#747474" d="m630-606l24 4-13 2-19 5z"/>
<path color="#565656" d="m397-406l11-13-2 19-17 8z"/>
<path color="#757575" d="m519-534l17-8-6 14-25-2z"/>
<path color="#b0b0b0" d="m279-197l11-7 12 23-17 7z"/>
<path color="#4f4f4f" d="m453-485l19-6-12 8-11 15z"/>
<path color="#787878" d="m408-1l14 0 16 11-18 6z"/>
<path color="#757575" d="m326-301l10-10 2 21-17 7z"/>
<path color="#515151" d="m439-454l10-14-3 17-17 8z"/>
<path color="#cacaca" d="m586-582l17-8 0 24-24-3z"/>
<path color="#515151" d="m596 49l17 3 15 1-17 7z"/>
<path color="#b9b9b9" d="m337-45l18-7 6 25-13 2z"/>
<path color="#7e7e7e" d="m543-556l11-16-1 21-17 9z"/>
<path color="#818181" d="m656-624l19-5-9 9-12 18z"/>
<path color="#949494" d="m274-219l19-6-3 21-11 7z"/>
<path color="#f4f4f4" d="m292-152l24-8 2 23-19 7z"/>
<path color="#5c5c5c" d="m501 29l17-7 14 14-16-2z"/>
<path color="#fbfbfb" d="m267-144l25-8 7 22-18 7z"/>
<path color="#efefef" d="m317-87l17-6 16 16-23 11z"/>
<path color="#b7b7b7" d="m607-610l23 4-8 11-19 5z"/>
<path color="#fbfbfb" d="m285-174l17-7 14 21-24 8z"/>
<path color="#6f6f6f" d="m438 10l18-7 13 17-15-2z"/>
<path color="#545454" d="m564 43l18-7 14 13-17-4z"/>
<path color="#fafafa" d="m299-80l18-7 10 21-24 11z"/>
<path color="#b8b8b8" d="m352-380l18-6 0 20-10 12z"/>
<path color="#ececec" d="m268-168l17-6 7 22-25 8z"/>
<path color="#8a8a8a" d="m348-25l13-2 17 14-18 7z"/>
<path color="#c5c5c5" d="m334-353l26-1-7 16-18 6z"/>
<path color="#878787" d="m295-245l11-9 4 22-17 7z"/>
<path color="#fdfdfd" d="m327-66l23-11 5 25-18 7z"/>
<path color="#bdbdbd" d="m316-326l19-6 1 21-10 10z"/>
<path color="#afafaf" d="m372-405l25-1-8 14-19 6z"/>
<path color="#4c4c4c" d="m500-529l19-5-14 4-11 16z"/>
<path color="#ededed" d="m303-55l24-11 10 21-18 7z"/>
<path color="#4e4e4e" d="m483-499l11-15-5 15-17 8z"/>
<path color="#afafaf" d="m391-431l19-6-2 18-11 13z"/>
<path color="#696969" d="m569-573l17-9-7 13-25-3z"/>
<path color="#fff" d="m309-351l25-2 1 21-19 6z"/>
<path color="#626262" d="m685-638l23 5-14-1-19 5z"/>
<path color="#fbfbfb" d="m346-405l26 0-2 19-18 6z"/>
<path color="#d7d7d7" d="m300-297l26-4-5 18-18 7z"/>
<path color="#4f4f4f" d="m628 53l18-7 15 10-18-4z"/>
<path color="#838383" d="m378-13l18-7 12 19-14 0z"/>
<path color="#fff" d="m275-294l25-3 3 21-19 6z"/>
<path color="#9a9a9a" d="m413-455l26 1-10 11-19 6z"/>
<path color="#afafaf" d="m281-123l18-7 9 22-12 4z"/>
<path color="#bfbfbf" d="m284-270l19-6 3 22-11 9z"/>
<path color="#b4b4b4" d="m640-616l16-8-2 22-24-4z"/>
<path color="#acacac" d="m296-104l12-4 9 21-18 7z"/>
<path color="#a4a4a4" d="m434-479l19-6-4 17-10 14z"/>
<path color="#b1b1b1" d="m483 35l18-6 15 5-19 16z"/>
<path color="#ababab" d="m256-139l11-5 14 21-17 6z"/>
<path color="#a9a9a9" d="m516 34l16 2 14 14-18 7z"/>
<path color="#afafaf" d="m454 18l15 2 14 15-18 7z"/>
<path color="#7a7a7a" d="m595-592l12-18-4 20-17 8z"/>
<path color="#f1f1f1" d="m388-456l25 1-3 18-19 6z"/>
<path color="#c7c7c7" d="m420 16l18-6 16 8-20 15z"/>
<path color="#9b9b9b" d="m546 50l18-7 15 2-19 17z"/>
<path color="#b5b5b5" d="m281-73l18-7 4 25-12 3z"/>
<path color="#fefefe" d="m335-372l17-8 8 26-26 1z"/>
<path color="#a2a2a2" d="m249-161l19-7-1 24-11 5z"/>
<path color="#fff" d="m465 42l18-7 14 15-20 16z"/>
<path color="#4c4c4c" d="m532-539l11-17-7 14-17 8z"/>
<path color="#e5e5e5" d="m270-241l25-4-2 20-19 6z"/>
<path color="#fff" d="m299-318l17-8 10 25-26 4z"/>
<path color="#9f9f9f" d="m579 45l17 4 15 11-18 6z"/>
<path color="#fff" d="m403 23l17-7 14 17-21 15z"/>
<path color="#9f9f9f" d="m662-642l23 4-10 9-19 5z"/>
<path color="#989898" d="m291-52l12-3 16 17-18 6z"/>
<path color="#fff" d="m245-236l25-5 4 22-18 7z"/>
<path color="#8e8e8e" d="m459-501l24 2-11 8-19 6z"/>
<path color="#b4b4b4" d="m394-1l14 0 12 17-17 7z"/>
<path color="#969696" d="m268-189l11-8 6 23-17 6z"/>
<path color="#fbfbfb" d="m374-424l17-7 6 25-25 1z"/>
<path color="#4c4c4c" d="m551-568l18-5-15 1-11 16z"/>
<path color="#a6a6a6" d="m298-339l11-12 7 25-17 8z"/>
<path color="#fbfbfb" d="m528 57l18-7 14 12-18 17z"/>
<path color="#a7a7a7" d="m318-365l17-7-1 19-25 2z"/>
<path color="#9d9d9d" d="m336-392l10-13 6 25-17 8z"/>
<path color="#888" d="m611 60l17-7 15-1-18 18z"/>
<path color="#949494" d="m319-38l18-7 11 20-13 1z"/>
<path color="#bebebe" d="m282-311l17-7 1 21-25 3z"/>
<path color="#d7d7d7" d="m360-6l18-7 16 12-22 13z"/>
<path color="#acacac" d="m265-284l10-10 9 24-17 8z"/>
<path color="#5c5c5c" d="m623-607l17-9-10 10-23-4z"/>
<path color="#bdbdbd" d="m256-212l18-7 5 22-11 8z"/>
<path color="#979797" d="m481-523l19-6-6 15-11 15z"/>
<path color="#f5f5f5" d="m264-117l17-6 15 19-24 9z"/>
<path color="#e3e3e3" d="m434-502l25 1-6 16-19 6z"/>
<path color="#fff" d="m267-262l17-8 11 25-25 4z"/>
<path color="#fefefe" d="m342 0l18-6 12 18-22 14z"/>
<path color="#909090" d="m358-416l16-8-2 19-26 0z"/>
<path color="#fbfbfb" d="m272-95l24-9 3 24-18 7z"/>
<path color="#f0f0f0" d="m418-471l16-8 5 25-26-1z"/>
<path color="#f4f4f4" d="m248-85l24-10 9 22-18 7z"/>
<path color="#f3f3f3" d="m246-110l18-7 8 22-24 10z"/>
<path color="#fff" d="m497 50l19-16 12 23-17 6z"/>
<path color="#fff" d="m434 33l20-15 11 24-18 7z"/>
<path color="#909090" d="m378-441l10-15 3 25-17 7z"/>
<path color="#f0f0f0" d="m593 66l18-6 14 10-18 17z"/>
<path color="#d1d1d1" d="m250-255l17-7 3 21-25 5z"/>
<path color="#b4b4b4" d="m335-24l13-1 12 19-18 6z"/>
<path color="#9c9c9c" d="m696-645l17-9-5 21-23-5z"/>
<path color="#c1c1c1" d="m413 48l21-15 13 16-18 7z"/>
<path color="#afafaf" d="m447 49l18-7 12 24-16-2z"/>
<path color="#7c7c7c" d="m507-542l25 3-13 5-19 5z"/>
<path color="#ababab" d="m477 66l20-16 14 13-18 7z"/>
<path color="#f8f8f8" d="m560 62l19-17 14 21-18 7z"/>
<path color="#4c4c4c" d="m583-575l12-17-9 10-17 9z"/>
<path color="#b6b6b6" d="m385 30l18-7 10 25-15-1z"/>
<path color="#6e6e6e" d="m650-624l12-18-6 18-16 8z"/>
<path color="#b0b0b0" d="m234-227l11-9 11 24-18 7z"/>
<path color="#fff" d="m372 12l22-13 9 24-18 7z"/>
<path color="#eee" d="m243-183l25-6 0 21-19 7z"/>
<path color="#fdfdfd" d="m218-177l25-6 6 22-18 7z"/>
<path color="#858585" d="m401-463l17-8-5 16-25-1z"/>
<path color="#a5a5a5" d="m511 63l17-6 14 22-17-3z"/>
<path color="#d4d4d4" d="m350 26l22-14 13 18-18 7z"/>
<path color="#5b5b5b" d="m299-359l19-6-9 14-11 12z"/>
<path color="#e5e5e5" d="m301-32l18-6 16 14-23 12z"/>
<path color="#6d6d6d" d="m263-305l19-6-7 17-10 10z"/>
<path color="#fdfdfd" d="m238-205l18-7 12 23-25 6z"/>
<path color="#dfdfdf" d="m465-515l16-8 2 24-24-2z"/>
<path color="#919191" d="m532-563l19-5-8 12-11 17z"/>
<path color="#949494" d="m542 79l18-17 15 11-18 7z"/>
<path color="#fdfdfd" d="m284-25l17-7 11 20-22 13z"/>
<path color="#858585" d="m423-487l11-15 0 23-16 8z"/>
<path color="#cecece" d="m483-545l24 3-7 13-19 6z"/>
<path color="#b9b9b9" d="m324 8l18-8 8 26-14 0z"/>
<path color="#535353" d="m339-410l19-6-12 11-10 13z"/>
<path color="#e1e1e1" d="m221-198l17-7 5 22-25 6z"/>
<path color="#a4a4a4" d="m236-81l12-4 15 19-18 6z"/>
<path color="#a2a2a2" d="m245-133l11-6 8 22-18 7z"/>
<path color="#adadad" d="m228-103l18-7 2 25-12 4z"/>
<path color="#a3a3a3" d="m263-66l18-7 10 21-12 2z"/>
<path color="#b8b8b8" d="m231-154l18-7 7 22-11 6z"/>
<path color="#999" d="m575 73l18-7 14 21-18-4z"/>
<path color="#828282" d="m231-249l19-6-5 19-11 9z"/>
<path color="#595959" d="m679-636l17-9-11 7-23-4z"/>
<path color="#fefefe" d="m312-12l23-12 7 24-18 8z"/>
<path color="#e3e3e3" d="m290 1l22-13 12 20-18 7z"/>
<path color="#646464" d="m398 47l15 1 16 8-18 7z"/>
<path color="#626262" d="m288-327l10-12 1 21-17 7z"/>
<path color="#b2b2b2" d="m279-50l12-2 10 20-17 7z"/>
<path color="#575757" d="m461 64l16 2 16 4-18 7z"/>
<path color="#747474" d="m559-579l24 4-14 2-18 5z"/>
<path color="#565656" d="m326-378l10-14-1 20-17 7z"/>
<path color="#757575" d="m448-507l17-8-6 14-25-1z"/>
<path color="#b0b0b0" d="m208-169l10-8 13 23-17 7z"/>
<path color="#4f4f4f" d="m382-458l19-5-13 7-10 15z"/>
<path color="#787878" d="m336 26l14 0 17 11-18 7z"/>
<path color="#757575" d="m254-274l11-10 2 22-17 7z"/>
<path color="#515151" d="m367-427l11-14-4 17-16 8z"/>
<path color="#cacaca" d="m515-554l17-9 0 24-25-3z"/>
<path color="#515151" d="m525 76l17 3 15 1-18 7z"/>
<path color="#b9b9b9" d="m266-18l18-7 6 26-13 1z"/>
<path color="#656565" d="m707-650l13-19-7 15-17 9z"/>
<path color="#7e7e7e" d="m471-528l12-17-2 22-16 8z"/>
<path color="#818181" d="m585-597l19-5-9 10-12 17z"/>
<path color="#949494" d="m203-191l18-7-3 21-10 8z"/>
<path color="#f4f4f4" d="m220-125l25-8 1 23-18 7z"/>
<path color="#5c5c5c" d="m429 56l18-7 14 15-16-3z"/>
<path color="#fbfbfb" d="m196-117l24-8 8 22-18 7z"/>
<path color="#efefef" d="m245-60l18-6 16 16-24 11z"/>
<path color="#b7b7b7" d="m535-582l24 3-8 11-19 5z"/>
<path color="#fbfbfb" d="m214-147l17-7 14 21-25 8z"/>
<path color="#6f6f6f" d="m367 37l18-7 13 17-15-2z"/>
<path color="#545454" d="m493 70l18-7 14 13-17-3z"/>
<path color="#fafafa" d="m228-53l17-7 10 21-23 11z"/>
<path color="#b8b8b8" d="m280-353l19-6-1 20-10 12z"/>
<path color="#ececec" d="m196-140l18-7 6 22-24 8z"/>
<path color="#8a8a8a" d="m277 2l13-1 16 14-18 6z"/>
<path color="#c5c5c5" d="m263-325l25-2-6 16-19 6z"/>
<path color="#878787" d="m224-218l10-9 4 22-17 7z"/>
<path color="#fdfdfd" d="m255-39l24-11 5 25-18 7z"/>
<path color="#bdbdbd" d="m244-299l19-6 2 21-11 10z"/>
<path color="#afafaf" d="m301-378l25 0-8 13-19 6z"/>
<path color="#4c4c4c" d="m429-501l19-6-14 5-11 15z"/>
<path color="#ededed" d="m232-28l23-11 11 21-18 7z"/>
<path color="#4e4e4e" d="m412-471l11-16-5 16-17 8z"/>
<path color="#afafaf" d="m320-404l19-6-3 18-10 14z"/>
<path color="#696969" d="m498-546l17-8-8 12-24-3z"/>
<path color="#fff" d="m237-323l26-2 0 20-19 6z"/>
<path color="#626262" d="m614-610l23 4-14-1-19 5z"/>
<path color="#fbfbfb" d="m275-377l26-1-2 19-19 6z"/>
<path color="#d7d7d7" d="m229-270l25-4-4 19-19 6z"/>
<path color="#4f4f4f" d="m557 80l18-7 14 10-18-4z"/>
<path color="#838383" d="m306 15l18-7 12 18-14 0z"/>
<path color="#fff" d="m203-267l26-3 2 21-19 7z"/>
<path color="#9a9a9a" d="m342-427l25 0-9 11-19 6z"/>
<path color="#afafaf" d="m210-96l18-7 8 22-11 4z"/>
<path color="#bfbfbf" d="m212-242l19-7 3 22-10 9z"/>
<path color="#b4b4b4" d="m568-589l17-8-2 22-24-4z"/>
<path color="#acacac" d="m225-77l11-4 9 21-17 7z"/>
<path color="#a4a4a4" d="m363-452l19-6-4 17-11 14z"/>
<path color="#b1b1b1" d="m411 63l18-7 16 5-20 16z"/>
<path color="#ababab" d="m185-111l11-6 14 21-18 7z"/>
<path color="#a9a9a9" d="m445 61l16 3 14 13-18 7z"/>
<path color="#afafaf" d="m383 45l15 2 13 16-17 6z"/>
<path color="#7a7a7a" d="m523-565l12-17-3 19-17 9z"/>
<path color="#f1f1f1" d="m317-428l25 1-3 17-19 6z"/>
<path color="#c7c7c7" d="m349 44l18-7 16 8-21 15z"/>
<path color="#9b9b9b" d="m475 77l18-7 15 3-19 16z"/>
<path color="#b5b5b5" d="m210-46l18-7 4 25-13 3z"/>
<path color="#757575" d="m641-626l19-5-10 7-13 18z"/>
<path color="#fefefe" d="m263-345l17-8 8 26-25 2z"/>
<path color="#a2a2a2" d="m178-133l18-7 0 23-11 6z"/>
<path color="#fff" d="m394 69l17-6 14 14-20 16z"/>
<path color="#4c4c4c" d="m460-512l11-16-6 13-17 8z"/>
<path color="#e5e5e5" d="m199-213l25-5-3 20-18 7z"/>
<path color="#fff" d="m227-291l17-8 10 25-25 4z"/>
<path color="#9f9f9f" d="m508 73l17 3 14 11-18 7z"/>
<path color="#fff" d="m331 50l18-6 13 16-21 15z"/>
<path color="#9f9f9f" d="m591-615l23 5-10 8-19 5z"/>
<path color="#989898" d="m219-25l13-3 16 17-18 7z"/>
<path color="#fff" d="m173-209l26-4 4 22-19 6z"/>
<path color="#8e8e8e" d="m387-473l25 2-11 8-19 5z"/>
<path color="#b4b4b4" d="m322 26l14 0 13 18-18 6z"/>
<path color="#969696" d="m197-162l11-7 6 22-18 7z"/>
<path color="#fbfbfb" d="m303-396l17-8 6 26-25 0z"/>
<path color="#4c4c4c" d="m479-541l19-5-15 1-12 17z"/>
<path color="#a6a6a6" d="m227-312l10-11 7 24-17 8z"/>
<path color="#fbfbfb" d="m457 84l18-7 14 12-19 17z"/>
<path color="#a7a7a7" d="m246-338l17-7 0 20-26 2z"/>
<path color="#9d9d9d" d="m265-364l10-13 5 24-17 8z"/>
<path color="#888" d="m539 87l18-7 14-1-18 18z"/>
<path color="#949494" d="m248-11l18-7 11 20-13 1z"/>
<path color="#bebebe" d="m210-284l17-7 2 21-26 3z"/>
<path color="#d7d7d7" d="m288 21l18-6 16 11-21 14z"/>
<path color="#acacac" d="m193-257l10-10 9 25-17 7z"/>
<path color="#5c5c5c" d="m551-580l17-9-9 10-24-3z"/>
<path color="#bdbdbd" d="m184-185l19-6 5 22-11 7z"/>
<path color="#979797" d="m410-496l19-5-6 14-11 16z"/>
<path color="#f5f5f5" d="m192-89l18-7 15 19-24 10z"/>
<path color="#e3e3e3" d="m362-475l25 2-5 15-19 6z"/>
<path color="#fff" d="m195-235l17-7 12 24-25 5z"/>
<path color="#565656" d="m671-637l23 5-15-4-19 5z"/>
<path color="#fefefe" d="m271 28l17-7 13 19-22 13z"/>
<path color="#909090" d="m286-389l17-7-2 18-26 1z"/>
<path color="#fbfbfb" d="m201-67l24-10 3 24-18 7z"/>
<path color="#f0f0f0" d="m346-444l17-8 4 25-25 0z"/>
<path color="#f4f4f4" d="m177-58l24-9 9 21-19 7z"/>
<path color="#f3f3f3" d="m175-83l17-6 9 22-24 9z"/>
<path color="#fff" d="m425 77l20-16 12 23-18 7z"/>
<path color="#fff" d="m362 60l21-15 11 24-18 7z"/>
<path color="#909090" d="m306-414l11-14 3 24-17 8z"/>
<path color="#f0f0f0" d="m521 94l18-7 14 10-17 18z"/>
<path color="#d1d1d1" d="m178-228l17-7 4 22-26 4z"/>
<path color="#b4b4b4" d="m264 3l13-1 11 19-17 7z"/>
<path color="#9c9c9c" d="m624-617l17-9-4 20-23-4z"/>
<path color="#c1c1c1" d="m341 75l21-15 14 16-18 7z"/>
<path color="#afafaf" d="m376 76l18-7 11 24-16-2z"/>
<path color="#7c7c7c" d="m436-515l24 3-12 5-19 6z"/>
<path color="#ababab" d="m405 93l20-16 14 14-18 7z"/>
<path color="#f8f8f8" d="m489 89l19-16 13 21-18 7z"/>
<path color="#4c4c4c" d="m511-548l12-17-8 11-17 8z"/>
<path color="#b6b6b6" d="m313 57l18-7 10 25-15-1z"/>
<path color="#6e6e6e" d="m578-597l13-18-6 18-17 8z"/>
<path color="#b0b0b0" d="m163-200l10-9 11 24-17 7z"/>
<path color="#fff" d="m301 40l21-14 9 24-18 7z"/>
<path color="#eee" d="m172-156l25-6-1 22-18 7z"/>
<path color="#fdfdfd" d="m147-149l25-7 6 23-19 6z"/>
<path color="#858585" d="m329-436l17-8-4 17-25-1z"/>
<path color="#a5a5a5" d="m439 91l18-7 13 22-17-3z"/>
<path color="#6a6a6a" d="m700-650l19-4-12 4-13 18z"/>
<path color="#d4d4d4" d="m279 53l22-13 12 17-18 7z"/>
<path color="#5b5b5b" d="m228-332l18-6-9 15-10 11z"/>
<path color="#e5e5e5" d="m230-4l18-7 16 14-23 13z"/>
<path color="#6d6d6d" d="m192-278l18-6-7 17-10 10z"/>
<path color="#fdfdfd" d="m167-178l17-7 13 23-25 6z"/>
<path color="#dfdfdf" d="m393-488l17-8 2 25-25-2z"/>
<path color="#919191" d="m460-536l19-5-8 13-11 16z"/>
<path color="#949494" d="m470 106l19-17 14 12-17 6z"/>
<path color="#fdfdfd" d="m212 2l18-6 11 20-23 12z"/>
<path color="#868686" d="m649-641l22 4-11 6-19 5z"/>
<path color="#858585" d="m351-460l11-15 1 23-17 8z"/>
<path color="#cecece" d="m411-518l25 3-7 14-19 5z"/>
<path color="#b9b9b9" d="m253 35l18-7 8 25-14 0z"/>
<path color="#535353" d="m267-383l19-6-11 12-10 13z"/>
<path color="#e1e1e1" d="m150-171l17-7 5 22-25 7z"/>
<path color="#a4a4a4" d="m165-54l12-4 14 19-17 7z"/>
<path color="#a2a2a2" d="m174-106l11-5 7 22-17 6z"/>
<path color="#adadad" d="m157-76l18-7 2 25-12 4z"/>
<path color="#a3a3a3" d="m191-39l19-7 9 21-12 3z"/>
<path color="#b8b8b8" d="m159-127l19-6 7 22-11 5z"/>
<path color="#999" d="m503 101l18-7 15 21-18-5z"/>
<path color="#828282" d="m160-222l18-6-5 19-10 9z"/>
<path color="#595959" d="m607-609l17-8-10 7-23-5z"/>
<path color="#fefefe" d="m241 16l23-13 7 25-18 7z"/>
<path color="#515151" d="m731-657l22 5-16-7-18 5z"/>
<path color="#e3e3e3" d="m218 28l23-12 12 19-18 7z"/>
<path color="#646464" d="m326 74l15 1 17 8-18 7z"/>
<path color="#626262" d="m217-300l10-12 0 21-17 7z"/>
<path color="#b2b2b2" d="m207-22l12-3 11 21-18 6z"/>
<path color="#575757" d="m389 91l16 2 16 5-18 6z"/>
<path color="#747474" d="m488-552l23 4-13 2-19 5z"/>
<path color="#565656" d="m255-351l10-13-2 19-17 7z"/>
<path color="#757575" d="m376-480l17-8-6 15-25-2z"/>
<path color="#b0b0b0" d="m136-142l11-7 12 22-17 7z"/>
<path color="#4f4f4f" d="m311-430l18-6-12 8-11 14z"/>
<path color="#848484" d="m683-641l17-9-6 18-23-5z"/>
<path color="#787878" d="m265 53l14 0 16 11-17 7z"/>
<path color="#757575" d="m183-246l10-11 2 22-17 7z"/>
<path color="#515151" d="m296-399l10-15-3 18-17 7z"/>
<path color="#cacaca" d="m443-527l17-9 0 24-24-3z"/>
<path color="#515151" d="m453 103l17 3 16 1-18 7z"/>
<path color="#b9b9b9" d="m194 9l18-7 6 26-13 1z"/>
<path color="#656565" d="m636-623l13-18-8 15-17 9z"/>
<path color="#7e7e7e" d="m400-501l11-17-1 22-17 8z"/>
<path color="#818181" d="m514-570l18-5-9 10-12 17z"/>
<path color="#949494" d="m131-164l19-7-3 22-11 7z"/>
<path color="#f4f4f4" d="m149-98l25-8 1 23-18 7z"/>
<path color="#5c5c5c" d="m358 83l18-7 13 15-15-3z"/>
<path color="#fbfbfb" d="m124-90l25-8 8 22-19 7z"/>
<path color="#efefef" d="m174-32l17-7 16 17-23 11z"/>
<path color="#b7b7b7" d="m464-555l24 3-9 11-19 5z"/>
<path color="#fbfbfb" d="m142-120l17-7 15 21-25 8z"/>
<path color="#6f6f6f" d="m295 64l18-7 13 17-14-1z"/>
<path color="#545454" d="m421 98l18-7 14 12-16-3z"/>
<path color="#fafafa" d="m156-26l18-6 10 21-24 11z"/>
<path color="#b8b8b8" d="m209-325l19-7-1 20-10 12z"/>
<path color="#ececec" d="m125-113l17-7 7 22-25 8z"/>
<path color="#8a8a8a" d="m205 29l13-1 17 14-18 6z"/>
<path color="#6f6f6f" d="m709-662l22 5-12 3-19 4z"/>
<path color="#c5c5c5" d="m191-298l26-2-7 16-18 6z"/>
<path color="#878787" d="m152-191l11-9 4 22-17 7z"/>
<path color="#fdfdfd" d="m184-11l23-11 5 24-18 7z"/>
<path color="#bdbdbd" d="m173-271l19-7 1 21-10 11z"/>
<path color="#afafaf" d="m229-351l26 0-9 13-18 6z"/>
<path color="#4c4c4c" d="m357-474l19-6-14 5-11 15z"/>
<path color="#ededed" d="m160 0l24-11 10 20-18 7z"/>
<path color="#4e4e4e" d="m341-444l10-16-5 16-17 8z"/>
<path color="#afafaf" d="m248-377l19-6-2 19-10 13z"/>
<path color="#696969" d="m427-519l16-8-7 12-25-3z"/>
<path color="#fff" d="m166-296l25-2 1 20-19 7z"/>
<path color="#505050" d="m666-632l17-9-12 4-22-4z"/>
<path color="#626262" d="m542-583l24 4-15-1-19 5z"/>
<path color="#fbfbfb" d="m204-350l25-1-1 19-19 7z"/>
<path color="#d7d7d7" d="m157-243l26-3-5 18-18 6z"/>
<path color="#4f4f4f" d="m486 107l17-6 15 9-18-4z"/>
<path color="#838383" d="m235 42l18-7 12 18-14 0z"/>
<path color="#fff" d="m132-240l25-3 3 21-19 7z"/>
<path color="#9a9a9a" d="m271-400l25 1-10 10-19 6z"/>
<path color="#afafaf" d="m138-69l19-7 8 22-12 4z"/>
<path color="#bfbfbf" d="m141-215l19-7 3 22-11 9z"/>
<path color="#6c6c6c" d="m744-658l17-10-8 16-22-5z"/>
<path color="#b4b4b4" d="m497-561l17-9-3 22-23-4z"/>
<path color="#acacac" d="m153-50l12-4 9 22-18 6z"/>
<path color="#a4a4a4" d="m292-425l19-5-5 16-10 15z"/>
<path color="#b1b1b1" d="m340 90l18-7 16 5-20 16z"/>
<path color="#ababab" d="m113-84l11-6 14 21-17 7z"/>
<path color="#a9a9a9" d="m374 88l15 3 14 13-17 7z"/>
<path color="#afafaf" d="m312 73l14 1 14 16-18 6z"/>
<path color="#7a7a7a" d="m452-538l12-17-4 19-17 9z"/>
<path color="#f1f1f1" d="m245-401l26 1-4 17-19 6z"/>
<path color="#c7c7c7" d="m278 71l17-7 17 9-21 15z"/>
<path color="#9b9b9b" d="m403 104l18-6 16 2-19 17z"/>
<path color="#b5b5b5" d="m138-19l18-7 4 26-12 2z"/>
<path color="#757575" d="m570-599l19-5-11 7-12 18z"/>
<path color="#fefefe" d="m192-318l17-7 8 25-26 2z"/>
<path color="#a2a2a2" d="m106-106l19-7-1 23-11 6z"/>
<path color="#5e5e5e" d="m695-643l14-19-9 12-17 9z"/>
<path color="#fff" d="m322 96l18-6 14 14-20 16z"/>
<path color="#4c4c4c" d="m389-485l11-16-7 13-17 8z"/>
<path color="#e5e5e5" d="m127-186l25-5-2 20-19 7z"/>
<path color="#fff" d="m156-264l17-7 10 25-26 3z"/>
<path color="#9f9f9f" d="m437 100l16 3 15 11-18 7z"/>
<path color="#fff" d="m260 77l18-6 13 17-21 15z"/>
<path color="#9f9f9f" d="m519-587l23 4-10 8-18 5z"/>
<path color="#989898" d="m148 2l12-2 16 16-17 7z"/>
<path color="#fff" d="m102-181l25-5 4 22-18 7z"/>
<path color="#8e8e8e" d="m316-446l25 2-12 8-18 6z"/>
<path color="#b4b4b4" d="m251 53l14 0 13 18-18 6z"/>
<path color="#969696" d="m126-135l10-7 6 22-17 7z"/>
<path color="#fbfbfb" d="m232-369l16-8 7 26-26 0z"/>
<path color="#4c4c4c" d="m408-513l19-6-16 1-11 17z"/>
<path color="#a6a6a6" d="m156-284l10-12 7 25-17 7z"/>
<path color="#fbfbfb" d="m386 111l17-7 15 13-19 17z"/>
<path color="#a7a7a7" d="m175-310l17-8-1 20-25 2z"/>
<path color="#9d9d9d" d="m193-337l11-13 5 25-17 7z"/>
<path color="#888" d="m468 114l18-7 14-1-18 18z"/>
<path color="#949494" d="m176 16l18-7 11 20-13 1z"/>
<path color="#bebebe" d="m139-257l17-7 1 21-25 3z"/>
<path color="#d7d7d7" d="m217 48l18-6 16 11-22 14z"/>
<path color="#acacac" d="m122-229l10-11 9 25-17 7z"/>
<path color="#5c5c5c" d="m480-553l17-8-9 9-24-3z"/>
<path color="#bdbdbd" d="m113-157l18-7 5 22-10 7z"/>
<path color="#979797" d="m339-469l18-5-6 14-10 16z"/>
<path color="#f5f5f5" d="m121-62l17-7 15 19-24 10z"/>
<path color="#e3e3e3" d="m291-448l25 2-5 16-19 5z"/>
<path color="#fff" d="m124-208l17-7 11 24-25 5z"/>
<path color="#565656" d="m600-609l22 4-15-4-18 5z"/>
<path color="#fefefe" d="m199 55l18-7 12 19-21 14z"/>
<path color="#909090" d="m215-361l17-8-3 18-25 1z"/>
<path color="#fbfbfb" d="m129-40l24-10 3 24-18 7z"/>
<path color="#4c4c4c" d="m727-649l17-9-13 1-22-5z"/>
<path color="#f0f0f0" d="m275-417l17-8 4 26-25-1z"/>
<path color="#f4f4f4" d="m105-31l24-9 9 21-18 7z"/>
<path color="#f3f3f3" d="m103-55l18-7 8 22-24 9z"/>
<path color="#fff" d="m354 104l20-16 12 23-18 7z"/>
<path color="#fff" d="m291 88l21-15 10 23-18 7z"/>
<path color="#909090" d="m235-387l10-14 3 24-16 8z"/>
<path color="#f0f0f0" d="m450 121l18-7 14 10-18 18z"/>
<path color="#d1d1d1" d="m107-201l17-7 3 22-25 5z"/>
<path color="#b4b4b4" d="m192 30l13-1 12 19-18 7z"/>
<path color="#9c9c9c" d="m553-590l17-9-4 20-24-4z"/>
<path color="#c1c1c1" d="m270 103l21-15 13 15-18 7z"/>
<path color="#afafaf" d="m304 103l18-7 12 24-16-2z"/>
<path color="#7c7c7c" d="m364-488l25 3-13 5-19 6z"/>
<path color="#ababab" d="m334 120l20-16 14 14-18 7z"/>
<path color="#f8f8f8" d="m418 117l19-17 13 21-18 7z"/>
<path color="#4c4c4c" d="m440-521l12-17-9 11-16 8z"/>
<path color="#b6b6b6" d="m242 85l18-8 10 26-15-2z"/>
<path color="#6e6e6e" d="m507-570l12-17-5 17-17 9z"/>
<path color="#b0b0b0" d="m91-173l11-8 11 24-17 6z"/>
<path color="#fff" d="m229 67l22-14 9 24-18 8z"/>
<path color="#eee" d="m101-128l25-7-1 22-19 7z"/>
<path color="#fdfdfd" d="m76-122l25-6 5 22-18 7z"/>
<path color="#858585" d="m258-409l17-8-4 17-26-1z"/>
<path color="#a5a5a5" d="m368 118l18-7 13 23-17-4z"/>
<path color="#6a6a6a" d="m629-623l18-4-11 4-14 18z"/>
<path color="#d4d4d4" d="m208 81l21-14 13 18-18 7z"/>
<path color="#5b5b5b" d="m156-304l19-6-9 14-10 12z"/>
<path color="#e5e5e5" d="m159 23l17-7 16 14-22 13z"/>
<path color="#6d6d6d" d="m120-250l19-7-7 17-10 11z"/>
<path color="#555" d="m757-658l15-19-11 9-17 10z"/>
<path color="#fdfdfd" d="m96-151l17-6 13 22-25 7z"/>
<path color="#dfdfdf" d="m322-461l17-8 2 25-25-2z"/>
<path color="#919191" d="m389-508l19-5-8 12-11 16z"/>
<path color="#949494" d="m399 134l19-17 14 11-18 7z"/>
<path color="#fdfdfd" d="m141 29l18-6 11 20-23 12z"/>
<path color="#868686" d="m577-614l23 5-11 5-19 5z"/>
<path color="#858585" d="m280-432l11-16 1 23-17 8z"/>
<path color="#cecece" d="m340-490l24 2-7 14-18 5z"/>
<path color="#b9b9b9" d="m181 62l18-7 9 26-14 0z"/>
<path color="#535353" d="m196-355l19-6-11 11-11 13z"/>
<path color="#e1e1e1" d="m78-144l18-7 5 23-25 6z"/>
<path color="#a4a4a4" d="m93-27l12-4 15 19-17 7z"/>
<path color="#a2a2a2" d="m102-78l11-6 8 22-18 7z"/>
<path color="#adadad" d="m85-48l18-7 2 24-12 4z"/>
<path color="#a3a3a3" d="m120-12l18-7 10 21-12 3z"/>
<path color="#b8b8b8" d="m88-99l18-7 7 22-11 6z"/>
<path color="#999" d="m432 128l18-7 14 21-18-4z"/>
<path color="#828282" d="m88-194l19-7-5 20-11 8z"/>
<path color="#595959" d="m536-581l17-9-11 7-23-4z"/>
<path color="#fefefe" d="m170 43l22-13 7 25-18 7z"/>
<path color="#515151" d="m660-630l21 5-15-7-19 5z"/>
<path color="#e3e3e3" d="m147 55l23-12 11 19-18 7z"/>
<path color="#646464" d="m255 101l15 2 16 7-17 7z"/>
<path color="#626262" d="m145-273l11-11 0 20-17 7z"/>
<path color="#b2b2b2" d="m136 5l12-3 11 21-18 6z"/>
<path color="#575757" d="m318 118l16 2 16 5-18 7z"/>
<path color="#747474" d="m416-524l24 3-13 2-19 6z"/>
<path color="#565656" d="m183-324l10-13-1 19-17 8z"/>
<path color="#757575" d="m305-452l17-9-6 15-25-2z"/>
<path color="#b0b0b0" d="m65-115l11-7 12 23-17 6z"/>
<path color="#4f4f4f" d="m239-403l19-6-13 8-10 14z"/>
<path color="#848484" d="m612-614l17-9-7 18-22-4z"/>
<path color="#787878" d="m194 81l14 0 16 11-18 6z"/>
<path color="#757575" d="m111-219l11-10 2 21-17 7z"/>
<path color="#515151" d="m224-372l11-15-3 18-17 8z"/>
<path color="#cacaca" d="m372-500l17-8 0 23-25-3z"/>
<path color="#515151" d="m382 130l17 4 15 1-18 6z"/>
<path color="#b9b9b9" d="m123 36l18-7 6 26-13 1z"/>
<path color="#656565" d="m564-596l13-18-7 15-17 9z"/>
<path color="#7e7e7e" d="m329-474l11-16-1 21-17 8z"/>
<path color="#5d5d5d" d="m690-640l18-5-13 2-14 18z"/>
<path color="#818181" d="m442-543l19-5-9 10-12 17z"/>
<path color="#949494" d="m60-137l18-7-2 22-11 7z"/>
<path color="#f4f4f4" d="m78-70l24-8 1 23-18 7z"/>
<path color="#5c5c5c" d="m286 110l18-7 14 15-16-2z"/>
<path color="#fbfbfb" d="m53-62l25-8 7 22-18 7z"/>
<path color="#efefef" d="m103-5l17-7 16 17-24 11z"/>
<path color="#b7b7b7" d="m392-528l24 4-8 11-19 5z"/>
<path color="#fbfbfb" d="m71-93l17-6 14 21-24 8z"/>
<path color="#6f6f6f" d="m224 92l18-7 13 16-15-1z"/>
<path color="#545454" d="m350 125l18-7 14 12-17-3z"/>
<path color="#fafafa" d="m85 1l18-6 9 21-23 11z"/>
<path color="#b8b8b8" d="m137-298l19-6 0 20-11 11z"/>
<path color="#ececec" d="m54-86l17-7 7 23-25 8z"/>
<path color="#8a8a8a" d="m134 56l13-1 16 14-17 7z"/>
<path color="#6f6f6f" d="m638-635l22 5-13 3-18 4z"/>
<path color="#c5c5c5" d="m120-271l25-2-6 16-19 7z"/>
<path color="#878787" d="m81-164l10-9 5 22-18 7z"/>
<path color="#fdfdfd" d="m112 16l24-11 5 24-18 7z"/>
<path color="#bdbdbd" d="m102-244l18-6 2 21-11 10z"/>
<path color="#afafaf" d="m158-323l25-1-8 14-19 6z"/>
<path color="#4c4c4c" d="m286-447l19-5-14 4-11 16z"/>
<path color="#ededed" d="m89 27l23-11 11 20-18 8z"/>
<path color="#4e4e4e" d="m269-417l11-15-5 15-17 8z"/>
<path color="#afafaf" d="m177-350l19-5-3 18-10 13z"/>
<path color="#4c4c4c" d="m721-645l21 5-15-9-19 4z"/>
<path color="#696969" d="m355-491l17-9-8 12-24-2z"/>
<path color="#fff" d="m94-269l26-2 0 21-18 6z"/>
<path color="#505050" d="m595-604l17-10-12 5-23-5z"/>
<path color="#626262" d="m471-556l23 4-14-1-19 5z"/>
<path color="#fbfbfb" d="m132-323l26 0-2 19-19 6z"/>
<path color="#d7d7d7" d="m86-216l25-3-4 18-19 7z"/>
<path color="#4f4f4f" d="m414 135l18-7 14 10-18-4z"/>
<path color="#838383" d="m163 69l18-7 13 19-14-1z"/>
<path color="#fff" d="m60-212l26-4 2 22-18 6z"/>
<path color="#9a9a9a" d="m199-373l25 1-9 11-19 6z"/>
<path color="#afafaf" d="m67-41l18-7 8 21-11 5z"/>
<path color="#bfbfbf" d="m70-188l18-6 3 21-10 9z"/>
<path color="#6c6c6c" d="m672-631l18-9-9 15-21-5z"/>
<path color="#b4b4b4" d="m425-534l17-9-2 22-24-3z"/>
<path color="#acacac" d="m82-22l11-5 10 22-18 6z"/>
<path color="#a4a4a4" d="m220-398l19-5-4 16-11 15z"/>
<path color="#b1b1b1" d="m269 117l17-7 16 6-20 16z"/>
<path color="#ababab" d="m42-57l11-5 14 21-18 6z"/>
<path color="#a9a9a9" d="m302 116l16 2 14 14-18 6z"/>
<path color="#afafaf" d="m240 100l15 1 14 16-18 7z"/>
<path color="#7a7a7a" d="m380-511l12-17-3 20-17 8z"/>
<path color="#f1f1f1" d="m174-374l25 1-3 18-19 5z"/>
<path color="#c7c7c7" d="m206 98l18-6 16 8-21 15z"/>
<path color="#9b9b9b" d="m332 132l18-7 15 2-19 17z"/>
<path color="#b5b5b5" d="m67 9l18-8 4 26-12 3z"/>
<path color="#757575" d="m498-572l19-5-10 7-13 18z"/>
<path color="#fefefe" d="m120-291l17-7 8 25-25 2z"/>
<path color="#a2a2a2" d="m35-79l19-7-1 24-11 5z"/>
<path color="#5e5e5e" d="m624-616l14-19-9 12-17 9z"/>
<path color="#fff" d="m251 124l18-7 13 15-20 16z"/>
<path color="#4c4c4c" d="m317-457l12-17-7 13-17 9z"/>
<path color="#e5e5e5" d="m56-159l25-5-3 20-18 7z"/>
<path color="#fff" d="m85-237l17-7 9 25-25 3z"/>
<path color="#9f9f9f" d="m365 127l17 3 14 11-18 7z"/>
<path color="#fff" d="m189 105l17-7 13 17-20 15z"/>
<path color="#9f9f9f" d="m448-560l23 4-10 8-19 5z"/>
<path color="#989898" d="m77 30l12-3 16 17-18 6z"/>
<path color="#fff" d="m30-154l26-5 4 22-19 7z"/>
<path color="#8e8e8e" d="m244-419l25 2-11 8-19 6z"/>
<path color="#b4b4b4" d="m180 80l14 1 12 17-17 7z"/>
<path color="#969696" d="m54-108l11-7 6 22-17 7z"/>
<path color="#fbfbfb" d="m160-342l17-8 6 26-25 1z"/>
<path color="#4c4c4c" d="m336-486l19-5-15 1-11 16z"/>
<path color="#a6a6a6" d="m84-257l10-12 8 25-17 7z"/>
<path color="#fbfbfb" d="m314 138l18-6 14 12-19 17z"/>
<path color="#a7a7a7" d="m104-283l16-8 0 20-26 2z"/>
<path color="#9d9d9d" d="m122-310l10-13 5 25-17 7z"/>
<path color="#888" d="m396 141l18-6 14-1-17 17z"/>
<path color="#949494" d="m105 44l18-8 11 20-13 2z"/>
<path color="#bebebe" d="m68-229l17-8 1 21-26 4z"/>
<path color="#5d5d5d" d="m701-649l20 4-13 0-18 5z"/>
<path color="#d7d7d7" d="m146 76l17-7 17 11-22 14z"/>
<path color="#acacac" d="m50-202l10-10 10 24-17 7z"/>
<path color="#5c5c5c" d="m409-525l16-9-9 10-24-4z"/>
<path color="#bdbdbd" d="m41-130l19-7 5 22-11 7z"/>
<path color="#979797" d="m267-442l19-5-6 15-11 15z"/>
<path color="#f5f5f5" d="m49-35l18-6 15 19-24 9z"/>
<path color="#e3e3e3" d="m219-421l25 2-5 16-19 5z"/>
<path color="#fff" d="m53-181l17-7 11 24-25 5z"/>
<path color="#565656" d="m528-582l23 5-15-4-19 4z"/>
<path color="#fefefe" d="m128 82l18-6 12 18-22 14z"/>
<path color="#909090" d="m143-334l17-8-2 19-26 0z"/>
<path color="#fbfbfb" d="m58-13l24-9 3 23-18 8z"/>
<path color="#4c4c4c" d="m655-622l17-9-12 1-22-5z"/>
<path color="#f0f0f0" d="m203-390l17-8 4 26-25-1z"/>
<path color="#f4f4f4" d="m34-3l24-10 9 22-18 7z"/>
<path color="#f3f3f3" d="m32-28l17-7 9 22-24 10z"/>
<path color="#fff" d="m282 132l20-16 12 22-18 7z"/>
<path color="#fff" d="m219 115l21-15 11 24-18 7z"/>
<path color="#909090" d="m163-359l11-15 3 24-17 8z"/>
<path color="#f0f0f0" d="m378 148l18-7 15 10-18 18z"/>
<path color="#d1d1d1" d="m35-174l18-7 3 22-26 5z"/>
<path color="#b4b4b4" d="m121 58l13-2 12 20-18 6z"/>
<path color="#9c9c9c" d="m482-563l16-9-4 20-23-4z"/>
<path color="#c1c1c1" d="m199 130l20-15 14 16-18 7z"/>
<path color="#afafaf" d="m233 131l18-7 11 24-15-3z"/>
<path color="#7c7c7c" d="m293-460l24 3-12 5-19 5z"/>
<path color="#ababab" d="m262 148l20-16 14 13-18 7z"/>
<path color="#f8f8f8" d="m346 144l19-17 13 21-17 7z"/>
<path color="#4c4c4c" d="m369-493l11-18-8 11-17 9z"/>
<path color="#b6b6b6" d="m171 112l18-7 10 25-15-1z"/>
<path color="#6e6e6e" d="m435-542l13-18-6 17-17 9z"/>
<path color="#b0b0b0" d="m20-145l10-9 11 24-17 7z"/>
<path color="#fff" d="m158 94l22-14 9 25-18 7z"/>
<path color="#eee" d="m29-101l25-7 0 22-19 7z"/>
<path color="#fdfdfd" d="m4-95l25-6 6 22-18 7z"/>
<path color="#858585" d="m187-382l16-8-4 17-25-1z"/>
<path color="#a5a5a5" d="m296 145l18-7 13 23-16-3z"/>
<path color="#6a6a6a" d="m557-595l19-5-12 4-13 19z"/>
<path color="#d4d4d4" d="m136 108l22-14 13 18-18 7z"/>
<path color="#5b5b5b" d="m85-277l19-6-10 14-10 12z"/>
<path color="#e5e5e5" d="m87 50l18-6 16 14-23 12z"/>
<path color="#6d6d6d" d="m49-223l19-6-8 17-10 10z"/>
<path color="#555" d="m686-631l15-18-11 9-18 9z"/>
<path color="#fdfdfd" d="m24-123l17-7 13 22-25 7z"/>
<path color="#dfdfdf" d="m250-433l17-9 2 25-25-2z"/>
<path color="#919191" d="m317-481l19-5-7 12-12 17z"/>
<path color="#949494" d="m327 161l19-17 15 11-18 7z"/>
<path color="#fdfdfd" d="m70 57l17-7 11 20-22 12z"/>
<path color="#868686" d="m506-587l22 5-11 5-19 5z"/>
<path color="#858585" d="m209-405l10-16 1 23-17 8z"/>
<path color="#cecece" d="m268-463l25 3-7 13-19 5z"/>
<path color="#b9b9b9" d="m110 89l18-7 8 26-14 0z"/>
<path color="#535353" d="m124-328l19-6-11 11-10 13z"/>
<path color="#e1e1e1" d="m7-116l17-7 5 22-25 6z"/>
<path color="#a4a4a4" d="m22 1l12-4 15 19-18 6z"/>
<path color="#a2a2a2" d="m31-51l11-6 7 22-17 7z"/>
<path color="#adadad" d="m14-21l18-7 2 25-12 4z"/>
<path color="#a3a3a3" d="m49 16l18-7 10 21-13 2z"/>
<path color="#b8b8b8" d="m17-72l18-7 7 22-11 6z"/>
<path color="#999" d="m361 155l17-7 15 21-18-4z"/>
<path color="#828282" d="m17-167l18-7-5 20-10 9z"/>
<path color="#595959" d="m465-554l17-9-11 7-23-4z"/>
<path color="#fefefe" d="m98 70l23-12 7 24-18 7z"/>
<path color="#515151" d="m588-603l22 5-15-6-19 4z"/>
<path color="#e3e3e3" d="m76 82l22-12 12 19-18 7z"/>
<path color="#646464" d="m184 129l15 1 16 8-18 6z"/>
<path color="#626262" d="m74-245l10-12 1 20-17 8z"/>
<path color="#b2b2b2" d="m64 32l13-2 10 20-17 7z"/>
<path color="#575757" d="m247 145l15 3 16 4-17 7z"/>
<path color="#747474" d="m345-497l24 4-14 2-19 5z"/>
<path color="#565656" d="m112-297l10-13-2 19-16 8z"/>
<path color="#757575" d="m234-425l16-8-6 14-25-2z"/>
<path color="#b0b0b0" d="m-7-88l11-7 13 23-18 7z"/>
<path color="#4f4f4f" d="m168-376l19-6-13 8-11 15z"/>
<path color="#848484" d="m540-586l17-9-6 18-23-5z"/>
<path color="#787878" d="m122 108l14 0 17 11-18 6z"/>
<path color="#757575" d="m40-192l10-10 3 21-18 7z"/>
<path color="#515151" d="m153-345l10-14-3 17-17 8z"/>
<path color="#cacaca" d="m301-473l16-8 0 24-24-3z"/>
<path color="#515151" d="m311 158l16 3 16 1-18 7z"/>
<path color="#b9b9b9" d="m51 64l19-7 6 25-13 2z"/>
<path color="#656565" d="m493-569l13-18-8 15-16 9z"/>
<path color="#7e7e7e" d="m257-447l11-16-1 21-17 9z"/>
<path color="#5d5d5d" d="m618-613l19-4-13 1-14 18z"/>
<path color="#818181" d="m371-515l19-5-10 9-11 18z"/>
<path color="#949494" d="m-12-110l19-6-3 21-11 7z"/>
<path color="#f4f4f4" d="m6-43l25-8 1 23-18 7z"/>
<path color="#5c5c5c" d="m215 138l18-7 14 14-16-2z"/>
<path color="#fbfbfb" d="m-18-35l24-8 8 22-19 7z"/>
<path color="#efefef" d="m31 22l18-6 15 16-23 11z"/>
<path color="#b7b7b7" d="m321-501l24 4-9 11-19 5z"/>
<path color="#fbfbfb" d="m-1-65l18-7 14 21-25 8z"/>
<path color="#6f6f6f" d="m153 119l18-7 13 17-15-2z"/>
<path color="#545454" d="m278 152l18-7 15 13-17-4z"/>
<path color="#fafafa" d="m14 29l17-7 10 21-23 11z"/>
<path color="#b8b8b8" d="m66-271l19-6-1 20-10 12z"/>
<path color="#ececec" d="m-18-59l17-6 7 22-24 8z"/>
<path color="#8a8a8a" d="m63 84l13-2 16 14-18 7z"/>
<path color="#6f6f6f" d="m567-607l21 4-12 3-19 5z"/>
<path color="#c5c5c5" d="m49-244l25-1-6 16-19 6z"/>
<path color="#878787" d="m10-136l10-9 4 22-17 7z"/>
<path color="#fdfdfd" d="m41 43l23-11 6 25-19 7z"/>
<path color="#bdbdbd" d="m30-217l19-6 1 21-10 10z"/>
<path color="#afafaf" d="m86-296l26-1-8 14-19 6z"/>
<path color="#4c4c4c" d="m215-420l19-5-15 4-10 16z"/>
<path color="#ededed" d="m18 54l23-11 10 21-18 7z"/>
<path color="#4e4e4e" d="m198-390l11-15-6 15-16 8z"/>
<path color="#afafaf" d="m106-322l18-6-2 18-10 13z"/>
<path color="#4c4c4c" d="m650-617l21 5-16-10-18 5z"/>
<path color="#696969" d="m284-464l17-9-8 13-25-3z"/>
<path color="#fff" d="m23-242l26-2 0 21-19 6z"/>
<path color="#505050" d="m523-577l17-9-12 4-22-5z"/>
<path color="#626262" d="m400-529l23 5-14-1-19 5z"/>
<path color="#fbfbfb" d="m61-296l25 0-1 19-19 6z"/>
<path color="#d7d7d7" d="m15-188l25-4-5 18-18 7z"/>
<path color="#4f4f4f" d="m343 162l18-7 14 10-18-4z"/>
<path color="#838383" d="m92 96l18-7 12 19-14 0z"/>
<path color="#fff" d="m-11-185l26-3 2 21-19 6z"/>
<path color="#9a9a9a" d="m128-346l25 1-10 11-19 6z"/>
<path color="#afafaf" d="m-5-14l19-7 8 22-12 4z"/>
<path color="#bfbfbf" d="m-2-161l19-6 3 22-10 9z"/>
<path color="#6c6c6c" d="m601-604l17-9-8 15-22-5z"/>
<path color="#b4b4b4" d="m354-507l17-8-2 22-24-4z"/>
<path color="#acacac" d="m10 5l12-4 9 21-17 7z"/>
<path color="#a4a4a4" d="m149-370l19-6-5 17-10 14z"/>
<path color="#b1b1b1" d="m197 144l18-6 16 5-20 16z"/>
<path color="#ababab" d="m-30-30l12-5 13 21-17 6z"/>
<path color="#a9a9a9" d="m231 143l16 2 14 14-18 7z"/>
<path color="#afafaf" d="m169 127l15 2 13 15-18 7z"/>
<path color="#7a7a7a" d="m309-483l12-18-4 20-16 8z"/>
<path color="#f1f1f1" d="m102-347l26 1-4 18-18 6z"/>
<path color="#c7c7c7" d="m135 125l18-6 16 8-21 15z"/>
<path color="#9b9b9b" d="m261 159l17-7 16 2-19 17z"/>
<path color="#b5b5b5" d="m-5 36l19-7 4 25-13 3z"/>
<path color="#757575" d="m427-545l19-4-11 7-12 18z"/>
<path color="#fefefe" d="m49-263l17-8 8 26-25 1z"/>
<path color="#a2a2a2" d="m-36-52l18-7 0 24-12 5z"/>
<path color="#5e5e5e" d="m553-589l14-18-10 12-17 9z"/>
<path color="#fff" d="m179 151l18-7 14 15-20 16z"/>
<path color="#4c4c4c" d="m246-430l11-17-7 14-16 8z"/>
<path color="#e5e5e5" d="m-16-132l26-4-3 20-19 6z"/>
<path color="#fff" d="m13-209l17-8 10 25-25 4z"/>
<path color="#9f9f9f" d="m294 154l17 4 14 11-18 6z"/>
<path color="#fff" d="m117 132l18-7 13 17-21 15z"/>
<path color="#9f9f9f" d="m376-533l24 4-10 9-19 5z"/>
<path color="#989898" d="m5 57l13-3 15 17-17 6z"/>
<path color="#fff" d="m-41-127l25-5 4 22-18 7z"/>
<path color="#8e8e8e" d="m173-392l25 2-11 8-19 6z"/>
<path color="#b4b4b4" d="m108 108l14 0 13 17-18 7z"/>
<path color="#969696" d="m-17-80l10-8 6 23-17 6z"/>
<path color="#fbfbfb" d="m89-315l17-7 6 25-26 1z"/>
<path color="#4c4c4c" d="m265-459l19-5-16 1-11 16z"/>
<path color="#a6a6a6" d="m13-230l10-12 7 25-17 8z"/>
<path color="#fbfbfb" d="m243 166l18-7 14 12-19 17z"/>
<path color="#a7a7a7" d="m32-256l17-7 0 19-26 2z"/>
<path color="#9d9d9d" d="m51-283l10-13 5 25-17 8z"/>
<path color="#888" d="m325 169l18-7 14-1-18 18z"/>
<path color="#949494" d="m33 71l18-7 12 20-14 1z"/>
<path color="#bebebe" d="m-4-202l17-7 2 21-26 3z"/>
<path color="#5d5d5d" d="m629-622l21 5-13 0-19 4z"/>
<path color="#d7d7d7" d="m74 103l18-7 16 12-22 13z"/>
<path color="#acacac" d="m-21-175l10-10 9 24-17 8z"/>
<path color="#5c5c5c" d="m337-498l17-9-9 10-24-4z"/>
<path color="#bdbdbd" d="m-30-103l18-7 5 22-10 8z"/>
<path color="#979797" d="m196-414l19-6-6 15-11 15z"/>
<path color="#f5f5f5" d="m-22-8l17-6 15 19-24 9z"/>
<path color="#e3e3e3" d="m148-393l25 1-5 16-19 6z"/>
<path color="#fff" d="m-19-153l17-8 12 25-26 4z"/>
<path color="#565656" d="m457-555l23 5-15-4-19 5z"/>
<path color="#fefefe" d="m57 109l17-6 12 18-21 14z"/>
<path color="#909090" d="m72-307l17-8-3 19-25 0z"/>
<path color="#fbfbfb" d="m-14 14l24-9 4 24-19 7z"/>
<path color="#4c4c4c" d="m584-595l17-9-13 1-21-4z"/>
<path color="#f0f0f0" d="m132-362l17-8 4 25-25-1z"/>
<path color="#f4f4f4" d="m-38 24l24-10 9 22-18 7z"/>
<path color="#f3f3f3" d="m-39-1l17-7 8 22-24 10z"/>
<path color="#fff" d="m211 159l20-16 12 23-18 6z"/>
<path color="#fff" d="m148 142l21-15 10 24-18 7z"/>
<path color="#909090" d="m92-332l10-15 4 25-17 7z"/>
<path color="#f0f0f0" d="m307 175l18-6 14 10-18 17z"/>
<path color="#d1d1d1" d="m-36-146l17-7 3 21-25 5z"/>
<path color="#b4b4b4" d="m49 85l14-1 11 19-17 6z"/>
<path color="#9c9c9c" d="m410-536l17-9-4 21-23-5z"/>
<path color="#c1c1c1" d="m127 157l21-15 13 16-18 7z"/>
<path color="#afafaf" d="m161 158l18-7 12 24-16-2z"/>
<path color="#7c7c7c" d="m221-433l25 3-12 5-19 5z"/>
<path color="#ababab" d="m191 175l20-16 14 13-18 7z"/>
<path color="#f8f8f8" d="m275 171l19-17 13 21-18 7z"/>
<path color="#4c4c4c" d="m297-466l12-17-8 10-17 9z"/>
<path color="#b6b6b6" d="m99 139l18-7 10 25-15-1z"/>
<path color="#6e6e6e" d="m364-515l12-18-5 18-17 8z"/>
<path color="#b0b0b0" d="m-51-118l10-9 11 24-17 7z"/>
<path color="#fff" d="m86 121l22-13 9 24-18 7z"/>
<path color="#eee" d="m-42-74l25-6-1 21-18 7z"/>
<path color="#fdfdfd" d="m-67-68l25-6 6 22-19 7z"/>
<path color="#858585" d="m115-354l17-8-4 16-26-1z"/>
<path color="#a5a5a5" d="m225 172l18-6 13 22-17-3z"/>
<path color="#6a6a6a" d="m486-568l19-5-12 4-13 19z"/>
<path color="#d4d4d4" d="m65 135l21-14 13 18-18 7z"/>
<path color="#5b5b5b" d="m13-250l19-6-9 14-10 12z"/>
<path color="#e5e5e5" d="m16 77l17-6 16 14-22 12z"/>
<path color="#6d6d6d" d="m-22-196l18-6-7 17-10 10z"/>
<path color="#555" d="m614-604l15-18-11 9-17 9z"/>
<path color="#fdfdfd" d="m-47-96l17-7 13 23-25 6z"/>
<path color="#dfdfdf" d="m179-406l17-8 2 24-25-2z"/>
<path color="#919191" d="m246-454l19-5-8 12-11 17z"/>
<path color="#949494" d="m256 188l19-17 14 11-18 7z"/>
<path color="#fdfdfd" d="m-2 84l18-7 11 20-23 13z"/>
<path color="#868686" d="m435-560l22 5-11 6-19 4z"/>
<path color="#858585" d="m137-378l11-15 1 23-17 8z"/>
<path color="#cecece" d="m197-436l24 3-6 13-19 6z"/>
<path color="#b9b9b9" d="m39 117l18-8 8 26-14 0z"/>
<path color="#535353" d="m53-301l19-6-11 11-10 13z"/>
<path color="#e1e1e1" d="m-64-89l17-7 5 22-25 6z"/>
<path color="#a4a4a4" d="m-49 28l11-4 15 19-17 6z"/>
<path color="#a2a2a2" d="m-41-24l11-6 8 22-17 7z"/>
<path color="#adadad" d="m-58 6l19-7 1 25-11 4z"/>
<path color="#a3a3a3" d="m-23 43l18-7 10 21-12 2z"/>
<path color="#b8b8b8" d="m-55-45l19-7 6 22-11 6z"/>
<path color="#999" d="m289 182l18-7 14 21-17-4z"/>
<path color="#828282" d="m-55-140l19-6-5 19-10 9z"/>
<path color="#595959" d="m393-527l17-9-10 7-24-4z"/>
<path color="#fefefe" d="m27 97l22-12 8 24-18 8z"/>
<path color="#515151" d="m517-575l21 5-15-7-18 4z"/>
<path color="#e3e3e3" d="m4 110l23-13 12 20-19 7z"/>
<path color="#646464" d="m112 156l15 1 16 8-17 7z"/>
<path color="#626262" d="m3-218l10-12 0 21-17 7z"/>
<path color="#b2b2b2" d="m-7 59l12-2 11 20-18 7z"/>
<path color="#575757" d="m175 173l16 2 16 4-18 7z"/>
<path color="#747474" d="m273-470l24 4-13 2-19 5z"/>
<path color="#565656" d="m40-269l11-14-2 20-17 7z"/>
<path color="#757575" d="m162-398l17-8-6 14-25-1z"/>
<path color="#b0b0b0" d="m-78-60l11-8 12 23-17 7z"/>
<path color="#4f4f4f" d="m96-349l19-5-13 7-10 15z"/>
<path color="#848484" d="m469-559l17-9-6 18-23-5z"/>
<path color="#787878" d="m51 135l14 0 16 11-18 7z"/>
<path color="#757575" d="m-31-165l10-10 2 22-17 7z"/>
<path color="#515151" d="m82-318l10-14-3 17-17 8z"/>
<path color="#cacaca" d="m229-445l17-9 0 24-25-3z"/>
<path color="#515151" d="m239 185l17 3 15 1-18 7z"/>
<path color="#b9b9b9" d="m-20 91l18-7 6 26-13 1z"/>
<path color="#656565" d="m421-541l14-19-8 15-17 9z"/>
<path color="#7e7e7e" d="m186-419l11-17-1 22-17 8z"/>
<path color="#5d5d5d" d="m547-586l18-4-12 1-15 19z"/>
<path color="#818181" d="m299-488l19-5-9 10-12 17z"/>
<path color="#949494" d="m-83-82l19-7-3 21-11 8z"/>
<path color="#f4f4f4" d="m-65-16l24-8 2 23-19 7z"/>
<path color="#5c5c5c" d="m143 165l18-7 14 15-16-3z"/>
<path color="#fbfbfb" d="m-90-8l25-8 7 22-18 7z"/>
<path color="#efefef" d="m-40 49l17-6 16 16-23 11z"/>
<path color="#b7b7b7" d="m249-473l24 3-8 11-19 5z"/>
<path color="#fbfbfb" d="m-72-38l17-7 14 21-24 8z"/>
<path color="#6f6f6f" d="m81 146l18-7 13 17-15-2z"/>
<path color="#545454" d="m207 179l18-7 14 13-17-3z"/>
<path color="#fafafa" d="m-58 56l18-7 10 21-24 11z"/>
<path color="#b8b8b8" d="m-5-244l18-6 0 20-10 12z"/>
<path color="#ececec" d="m-89-31l17-7 7 22-25 8z"/>
<path color="#8a8a8a" d="m-9 111l13-1 16 14-17 6z"/>
<path color="#6f6f6f" d="m495-580l22 5-12 2-19 5z"/>
<path color="#c5c5c5" d="m-23-216l26-2-7 16-18 6z"/>
<path color="#878787" d="m-62-109l11-9 4 22-17 7z"/>
<path color="#fdfdfd" d="m-30 70l23-11 5 25-18 7z"/>
<path color="#bdbdbd" d="m-41-190l19-6 1 21-10 10z"/>
<path color="#afafaf" d="m15-269l25 0-8 13-19 6z"/>
<path color="#4c4c4c" d="m143-392l19-6-14 5-11 15z"/>
<path color="#ededed" d="m-54 81l24-11 10 21-18 7z"/>
<path color="#4e4e4e" d="m126-362l11-16-5 16-17 8z"/>
<path color="#afafaf" d="m34-295l19-6-2 18-11 14z"/>
<path color="#4c4c4c" d="m578-590l21 5-15-10-19 5z"/>
<path color="#696969" d="m212-437l17-8-8 12-24-3z"/>
<path color="#fff" d="m-48-214l25-2 1 20-19 6z"/>
<path color="#505050" d="m452-550l17-9-12 4-22-5z"/>
<path color="#626262" d="m328-501l23 4-14-1-19 5z"/>
<path color="#fbfbfb" d="m-11-268l26-1-2 19-18 6z"/>
<path color="#d7d7d7" d="m-57-161l26-4-5 19-19 6z"/>
<path color="#4f4f4f" d="m271 189l18-7 15 10-18-4z"/>
<path color="#838383" d="m20 124l19-7 12 18-14 0z"/>
<path color="#fff" d="m-82-158l25-3 2 21-18 7z"/>
<path color="#9a9a9a" d="m56-318l26 0-10 11-19 6z"/>
<path color="#afafaf" d="m-76 13l18-7 9 22-12 4z"/>
<path color="#bfbfbf" d="m-73-133l18-7 4 22-11 9z"/>
<path color="#6c6c6c" d="m530-577l17-9-9 16-21-5z"/>
<path color="#b4b4b4" d="m283-480l16-8-2 22-24-4z"/>
<path color="#acacac" d="m-61 32l12-4 9 21-18 7z"/>
<path color="#a4a4a4" d="m77-343l19-6-4 17-10 14z"/>
<path color="#b1b1b1" d="m126 172l17-7 16 5-20 16z"/>
<path color="#ababab" d="m-101-2l11-6 14 21-17 7z"/>
<path color="#a9a9a9" d="m159 170l16 3 14 13-18 7z"/>
<path color="#afafaf" d="m97 154l15 2 14 16-18 6z"/>
<path color="#7a7a7a" d="m238-456l11-17-3 19-17 9z"/>
<path color="#f1f1f1" d="m31-319l25 1-3 17-19 6z"/>
<path color="#c7c7c7" d="m63 153l18-7 16 8-20 15z"/>
<path color="#9b9b9b" d="m189 186l18-7 15 3-19 16z"/>
<path color="#b5b5b5" d="m-76 63l18-7 4 25-12 3z"/>
<path color="#757575" d="m356-517l18-5-10 7-13 18z"/>
<path color="#fefefe" d="m-22-236l17-8 8 26-26 2z"/>
<path color="#a2a2a2" d="m-108-24l19-7-1 23-11 6z"/>
<path color="#5e5e5e" d="m481-562l14-18-9 12-17 9z"/>
<path color="#fff" d="m108 178l18-6 13 14-19 16z"/>
<path color="#4c4c4c" d="m175-403l11-16-7 13-17 8z"/>
<path color="#e5e5e5" d="m-87-104l25-5-2 20-19 7z"/>
<path color="#fff" d="m-58-182l17-8 10 25-26 4z"/>
<path color="#9f9f9f" d="m222 182l17 3 14 11-17 7z"/>
<path color="#fff" d="m46 159l17-6 14 16-21 15z"/>
<path color="#9f9f9f" d="m305-506l23 5-10 8-19 5z"/>
<path color="#989898" d="m-66 84l12-3 16 17-18 7z"/>
<path color="#fff" d="m-112-100l25-4 4 22-19 6z"/>
<path color="#8e8e8e" d="m101-364l25 2-11 8-19 5z"/>
<path color="#b4b4b4" d="m37 135l14 0 12 18-17 6z"/>
<path color="#969696" d="m-89-53l11-7 6 22-17 7z"/>
<path color="#fbfbfb" d="m17-287l17-8 6 26-25 0z"/>
<path color="#4c4c4c" d="m193-432l19-5-15 1-11 17z"/>
<path color="#a6a6a6" d="m-59-203l11-11 7 24-17 8z"/>
<path color="#fbfbfb" d="m171 193l18-7 14 12-18 17z"/>
<path color="#a7a7a7" d="m-39-229l17-7-1 20-25 2z"/>
<path color="#9d9d9d" d="m-21-255l10-13 6 24-17 8z"/>
<path color="#888" d="m253 196l18-7 15-1-18 18z"/>
<path color="#949494" d="m-38 98l18-7 11 20-13 1z"/>
<path color="#bebebe" d="m-75-175l17-7 1 21-25 3z"/>
<path color="#5d5d5d" d="m558-595l20 5-13 0-18 4z"/>
<path color="#d7d7d7" d="m3 130l17-6 17 11-22 14z"/>
<path color="#acacac" d="m-93-148l11-10 9 25-17 7z"/>
<path color="#5c5c5c" d="m266-471l17-9-10 10-24-3z"/>
<path color="#bdbdbd" d="m-102-76l19-6 5 22-11 7z"/>
<path color="#979797" d="m124-387l19-5-6 14-11 16z"/>
<path color="#f5f5f5" d="m-93 20l17-7 15 19-24 10z"/>
<path color="#e3e3e3" d="m77-366l24 2-5 15-19 6z"/>
<path color="#fff" d="m-90-126l17-7 11 24-25 5z"/>
<path color="#565656" d="m386-528l22 5-15-4-19 5z"/>
<path color="#fefefe" d="m-15 137l18-7 12 19-22 13z"/>
<path color="#909090" d="m0-280l17-7-2 18-26 1z"/>
<path color="#fbfbfb" d="m-85 42l24-10 3 24-18 7z"/>
<path color="#4c4c4c" d="m512-567l18-10-13 2-22-5z"/>
<path color="#f0f0f0" d="m61-335l16-8 5 25-26 0z"/>
<path color="#f4f4f4" d="m-109 51l24-9 9 21-18 7z"/>
<path color="#f3f3f3" d="m-111 26l18-6 8 22-24 9z"/>
<path color="#fff" d="m139 186l20-16 12 23-18 7z"/>
<path color="#fff" d="m77 169l20-15 11 24-18 7z"/>
<path color="#909090" d="m21-305l10-14 3 24-17 8z"/>
<path color="#f0f0f0" d="m236 203l17-7 15 10-18 18z"/>
<path color="#d1d1d1" d="m-107-119l17-7 3 22-25 4z"/>
<path color="#b4b4b4" d="m-22 112l13-1 12 19-18 7z"/>
<path color="#9c9c9c" d="m339-508l17-9-5 20-23-4z"/>
<path color="#c1c1c1" d="m56 184l21-15 13 16-18 7z"/>
<path color="#afafaf" d="m90 185l18-7 12 24-16-2z"/>
<path color="#7c7c7c" d="m150-406l25 3-13 5-19 6z"/>
<path color="#ababab" d="m120 202l19-16 14 14-17 7z"/>
<path color="#f8f8f8" d="m203 198l19-16 14 21-18 7z"/>
<path color="#4c4c4c" d="m226-439l12-17-9 11-17 8z"/>
<path color="#b6b6b6" d="m28 166l18-7 10 25-15-1z"/>
<path color="#6e6e6e" d="m292-488l13-18-6 18-16 8z"/>
<path color="#b0b0b0" d="m-123-91l11-9 10 24-17 7z"/>
<path color="#fff" d="m15 149l22-14 9 24-18 7z"/>
<path color="#eee" d="m-114-47l25-6 0 22-19 7z"/>
<path color="#fdfdfd" d="m-139-40l25-7 6 23-18 6z"/>
<path color="#858585" d="m44-327l17-8-5 17-25-1z"/>
<path color="#a5a5a5" d="m153 200l18-7 14 22-17-3z"/>
<path color="#6a6a6a" d="m414-541l19-4-12 4-13 18z"/>
<path color="#d4d4d4" d="m-7 162l22-13 13 17-18 7z"/>
<path color="#5b5b5b" d="m-58-223l19-6-9 15-11 11z"/>
<path color="#e5e5e5" d="m-56 105l18-7 16 14-23 13z"/>
<path color="#6d6d6d" d="m-94-169l19-6-7 17-11 10z"/>
<path color="#555" d="m543-576l15-19-11 9-17 9z"/>
<path color="#fdfdfd" d="m-119-69l17-7 13 23-25 6z"/>
<path color="#dfdfdf" d="m107-379l17-8 2 25-25-2z"/>
<path color="#919191" d="m175-427l18-5-7 13-11 16z"/>
<path color="#949494" d="m185 215l18-17 15 12-18 6z"/>
<path color="#fdfdfd" d="m-73 111l17-6 11 20-22 12z"/>
<path color="#868686" d="m363-532l23 4-12 6-18 5z"/>
<path color="#858585" d="m66-351l11-15 0 23-16 8z"/>
<path color="#cecece" d="m126-409l24 3-7 14-19 5z"/>
<path color="#b9b9b9" d="m-33 144l18-7 8 25-14 0z"/>
<path color="#535353" d="m-18-274l18-6-11 12-10 13z"/>
<path color="#e1e1e1" d="m-136-62l17-7 5 22-25 7z"/>
<path color="#a4a4a4" d="m-121 55l12-4 15 19-18 7z"/>
<path color="#a2a2a2" d="m-112 3l11-5 8 22-18 6z"/>
<path color="#adadad" d="m-129 33l18-7 2 25-12 4z"/>
<path color="#a3a3a3" d="m-94 70l18-7 10 21-13 3z"/>
<path color="#b8b8b8" d="m-126-18l18-6 7 22-11 5z"/>
<path color="#999" d="m218 210l18-7 14 21-18-5z"/>
<path color="#828282" d="m-126-113l19-6-5 19-11 9z"/>
<path color="#595959" d="m322-500l17-8-11 7-23-5z"/>
<path color="#fefefe" d="m-45 125l23-13 7 25-18 7z"/>
<path color="#515151" d="m445-548l22 5-15-7-19 5z"/>
<path color="#e3e3e3" d="m-67 137l22-12 12 19-18 7z"/>
<path color="#646464" d="m41 183l15 1 16 8-18 7z"/>
<path color="#626262" d="m-69-191l10-12 1 21-17 7z"/>
<path color="#b2b2b2" d="m-79 87l13-3 10 21-17 6z"/>
<path color="#575757" d="m104 200l16 2 16 5-18 6z"/>
<path color="#747474" d="m202-443l24 4-14 2-19 5z"/>
<path color="#565656" d="m-31-242l10-13-1 19-17 7z"/>
<path color="#757575" d="m91-371l16-8-6 15-24-2z"/>
<path color="#b0b0b0" d="m-149-33l10-7 13 22-17 7z"/>
<path color="#4f4f4f" d="m25-321l19-6-13 8-10 14z"/>
<path color="#848484" d="m397-532l17-9-6 18-22-5z"/>
<path color="#787878" d="m-21 162l14 0 17 11-18 7z"/>
<path color="#757575" d="m-103-137l10-11 3 22-17 7z"/>
<path color="#515151" d="m10-290l11-15-4 18-17 7z"/>
<path color="#cacaca" d="m158-418l17-9 0 24-25-3z"/>
<path color="#515151" d="m168 212l17 3 15 1-18 7z"/>
<path color="#b9b9b9" d="m-91 118l18-7 6 26-13 1z"/>
<path color="#656565" d="m350-514l13-18-7 15-17 9z"/>
<path color="#7e7e7e" d="m114-392l12-17-2 22-17 8z"/>
<path color="#5d5d5d" d="m475-559l19-4-13 1-14 19z"/>
<path color="#818181" d="m228-461l19-5-9 10-12 17z"/>
<path color="#949494" d="m-154-55l18-7-3 22-10 7z"/>
<path color="#f4f4f4" d="m-137 11l25-8 1 23-18 7z"/>
<path color="#5c5c5c" d="m72 192l18-7 14 15-16-3z"/>
<path color="#fbfbfb" d="m-161 19l24-8 8 22-18 7z"/>
<path color="#efefef" d="m-112 77l18-7 15 17-23 11z"/>
<path color="#b7b7b7" d="m178-446l24 3-9 11-18 5z"/>
<path color="#fbfbfb" d="m-143-11l17-7 14 21-25 8z"/>
<path color="#6f6f6f" d="m10 173l18-7 13 17-15-1z"/>
<path color="#545454" d="m136 207l17-7 15 12-17-3z"/>
<path color="#fafafa" d="m-129 83l17-6 10 21-23 11z"/>
<path color="#b8b8b8" d="m-77-216l19-7-1 20-10 12z"/>
<path color="#ececec" d="m-161-4l18-7 6 22-24 8z"/>
<path color="#8a8a8a" d="m-80 138l13-1 16 14-18 6z"/>
<path color="#6f6f6f" d="m424-553l21 5-12 3-19 4z"/>
<path color="#c5c5c5" d="m-94-189l25-2-6 16-19 6z"/>
<path color="#878787" d="m-133-82l10-9 4 22-17 7z"/>
<path color="#fdfdfd" d="m-102 98l23-11 6 24-18 7z"/>
<path color="#bdbdbd" d="m-113-162l19-7 1 21-10 11z"/>
<path color="#afafaf" d="m-57-242l26 0-8 13-19 6z"/>
<path color="#4c4c4c" d="m72-365l19-6-14 5-11 15z"/>
<path color="#ededed" d="m-125 109l23-11 11 20-19 7z"/>
<path color="#4e4e4e" d="m55-335l11-16-5 16-17 8z"/>
<path color="#afafaf" d="m-37-268l19-6-3 19-10 13z"/>
<path color="#4c4c4c" d="m507-563l21 5-16-9-18 4z"/>
<path color="#696969" d="m141-410l17-8-8 12-24-3z"/>
<path color="#fff" d="m-120-187l26-2 0 20-19 7z"/>
<path color="#505050" d="m380-523l17-9-11 4-23-4z"/>
<path color="#626262" d="m257-474l23 4-14-1-19 5z"/>
<path color="#fbfbfb" d="m-82-241l25-1-1 19-19 7z"/>
<path color="#d7d7d7" d="m-128-134l25-3-4 18-19 6z"/>
<path color="#4f4f4f" d="m200 216l18-6 14 9-18-4z"/>
<path color="#838383" d="m-51 151l18-7 12 18-14 0z"/>
<path color="#fff" d="m-154-131l26-3 2 21-19 7z"/>
<path color="#9a9a9a" d="m-15-291l25 1-10 10-18 6z"/>
<path color="#afafaf" d="m-147 40l18-7 8 22-12 4z"/>
<path color="#bfbfbf" d="m-145-106l19-7 3 22-10 9z"/>
<path color="#6c6c6c" d="m458-549l17-10-8 16-22-5z"/>
<path color="#b4b4b4" d="m211-452l17-9-2 22-24-4z"/>
<path color="#acacac" d="m-133 59l12-4 9 22-17 6z"/>
<path color="#a4a4a4" d="m6-316l19-5-4 16-11 15z"/>
<path color="#b1b1b1" d="m54 199l18-7 16 5-20 16z"/>
<path color="#ababab" d="m-172 25l11-6 14 21-18 7z"/>
<path color="#a9a9a9" d="m88 197l16 3 14 13-18 7z"/>
<path color="#afafaf" d="m26 182l15 1 13 16-18 6z"/>
<path color="#7a7a7a" d="m166-429l12-17-3 19-17 9z"/>
<path color="#f1f1f1" d="m-40-292l25 1-3 17-19 6z"/>
<path color="#c7c7c7" d="m-8 180l18-7 16 9-21 15z"/>
<path color="#9b9b9b" d="m118 213l18-6 15 2-19 17z"/>
<path color="#b5b5b5" d="m-147 90l18-7 4 26-13 2z"/>
<path color="#757575" d="m284-490l19-5-11 7-12 18z"/>
<path color="#fefefe" d="m-94-209l17-7 8 25-25 2z"/>
<path color="#a2a2a2" d="m-179 3l18-7 0 23-11 6z"/>
<path color="#5e5e5e" d="m410-534l14-19-10 12-17 9z"/>
<path color="#fff" d="m36 205l18-6 14 14-20 16z"/>
<path color="#4c4c4c" d="m103-376l11-16-7 13-16 8z"/>
<path color="#e5e5e5" d="m-158-77l25-5-3 20-18 7z"/>
<path color="#fff" d="m-130-155l17-7 10 25-25 3z"/>
<path color="#9f9f9f" d="m151 209l17 3 14 11-18 7z"/>
<path color="#fff" d="m-26 186l18-6 13 17-21 15z"/>
<path color="#9f9f9f" d="m234-478l23 4-10 8-19 5z"/>
<path color="#989898" d="m-138 111l13-2 15 16-17 7z"/>
<path color="#fff" d="m-184-72l26-5 4 22-19 7z"/>
<path color="#8e8e8e" d="m30-337l25 2-11 8-19 6z"/>
<path color="#b4b4b4" d="m-35 162l14 0 13 18-18 6z"/>
<path color="#969696" d="m-160-26l11-7 6 22-18 7z"/>
<path color="#fbfbfb" d="m-54-260l17-8 6 26-26 0z"/>
<path color="#4c4c4c" d="m122-404l19-6-15 1-12 17z"/>
<path color="#a6a6a6" d="m-130-175l10-12 7 25-17 7z"/>
<path color="#fbfbfb" d="m100 220l18-7 14 13-19 17z"/>
<path color="#a7a7a7" d="m-111-201l17-8 0 20-26 2z"/>
<path color="#9d9d9d" d="m-92-228l10-13 5 25-17 7z"/>
<path color="#888" d="m182 223l18-7 14-1-18 18z"/>
<path color="#949494" d="m-110 125l19-7 11 20-13 1z"/>
<path color="#bebebe" d="m-147-148l17-7 2 21-26 3z"/>
<path color="#5d5d5d" d="m486-568l21 5-13 0-19 4z"/>
<path color="#d7d7d7" d="m-69 157l18-6 16 11-21 14z"/>
<path color="#acacac" d="m-164-120l10-11 9 25-17 7z"/>
<path color="#5c5c5c" d="m194-444l17-8-9 9-24-3z"/>
<path color="#bdbdbd" d="m-173-48l19-7 5 22-11 7z"/>
<path color="#979797" d="m53-360l19-5-6 14-11 16z"/>
<path color="#f5f5f5" d="m-165 47l18-7 14 19-24 10z"/>
<path color="#e3e3e3" d="m5-339l25 2-5 16-19 5z"/>
<path color="#fff" d="m-162-99l17-7 12 24-25 5z"/>
<path color="#565656" d="m314-500l23 4-15-4-19 5z"/>
<path color="#fefefe" d="m-86 164l17-7 13 19-22 14z"/>
<path color="#909090" d="m-71-252l17-8-3 18-25 1z"/>
<path color="#fbfbfb" d="m-157 69l24-10 4 24-18 7z"/>
<path color="#4c4c4c" d="m441-540l17-9-13 1-21-5z"/>
<path color="#f0f0f0" d="m-11-308l17-8 4 26-25-1z"/>
<path color="#f4f4f4" d="m-181 78l24-9 10 21-19 7z"/>
<path color="#f3f3f3" d="m-182 54l17-7 8 22-24 9z"/>
<path color="#fff" d="m68 213l20-16 12 23-18 7z"/>
<path color="#fff" d="m5 197l21-15 10 23-17 7z"/>
<path color="#909090" d="m-51-278l11-14 3 24-17 8z"/>
<path color="#f0f0f0" d="m164 230l18-7 14 10-17 18z"/>
<path color="#d1d1d1" d="m-179-92l17-7 4 22-26 5z"/>
<path color="#b4b4b4" d="m-93 139l13-1 11 19-17 7z"/>
<path color="#9c9c9c" d="m267-481l17-9-4 20-23-4z"/>
<path color="#c1c1c1" d="m-16 212l21-15 14 15-18 7z"/>
<path color="#afafaf" d="m19 212l17-7 12 24-16-2z"/>
<path color="#7c7c7c" d="m79-379l24 3-12 5-19 6z"/>
<path color="#ababab" d="m48 229l20-16 14 14-18 7z"/>
<path color="#f8f8f8" d="m132 226l19-17 13 21-18 7z"/>
<path color="#4c4c4c" d="m154-412l12-17-8 11-17 8z"/>
<path color="#b6b6b6" d="m-44 194l18-8 10 26-15-2z"/>
<path color="#6e6e6e" d="m221-461l13-17-6 17-17 9z"/>
<path color="#b0b0b0" d="m-194-64l10-8 11 24-17 6z"/>
<path color="#fff" d="m-56 176l21-14 9 24-18 8z"/>
<path color="#eee" d="m-185-19l25-7-1 22-18 7z"/>
<path color="#fdfdfd" d="m-210-13l25-6 6 22-19 7z"/>
<path color="#858585" d="m-28-300l17-8-4 17-25-1z"/>
<path color="#a5a5a5" d="m82 227l18-7 13 23-17-4z"/>
<path color="#6a6a6a" d="m343-514l19-4-12 4-13 18z"/>
<path color="#d4d4d4" d="m-78 190l22-14 12 18-18 7z"/>
<path color="#5b5b5b" d="m-129-195l18-6-9 14-10 12z"/>
<path color="#e5e5e5" d="m-127 132l17-7 17 14-23 13z"/>
<path color="#6d6d6d" d="m-165-141l18-7-7 17-10 11z"/>
<path color="#555" d="m471-549l15-19-11 9-17 10z"/>
<path color="#fdfdfd" d="m-190-42l17-6 13 22-25 7z"/>
<path color="#dfdfdf" d="m36-352l17-8 2 25-25-2z"/>
<path color="#919191" d="m103-399l19-5-8 12-11 16z"/>
<path color="#949494" d="m113 243l19-17 14 11-18 7z"/>
<path color="#fdfdfd" d="m-145 138l18-6 11 20-23 12z"/>
<path color="#868686" d="m292-505l22 5-11 5-19 5z"/>
<path color="#858585" d="m-6-323l11-16 1 23-17 8z"/>
<path color="#cecece" d="m54-381l25 2-7 14-19 5z"/>
<path color="#b9b9b9" d="m-104 171l18-7 8 26-14 0z"/>
<path color="#535353" d="m-90-246l19-6-11 11-10 13z"/>
<path color="#e1e1e1" d="m-207-35l17-7 5 23-25 6z"/>
<path color="#a2a2a2" d="m-184 31l12-6 7 22-17 7z"/>
<path color="#a3a3a3" d="m-166 97l19-7 9 21-12 3z"/>
<path color="#b8b8b8" d="m-198 10l19-7 7 22-12 6z"/>
<path color="#999" d="m146 237l18-7 15 21-18-4z"/>
<path color="#828282" d="m-197-85l18-7-5 20-10 8z"/>
<path color="#595959" d="m250-472l17-9-10 7-23-4z"/>
<path color="#fefefe" d="m-116 152l23-13 7 25-18 7z"/>
<path color="#515151" d="m374-521l22 5-16-7-18 5z"/>
<path color="#e3e3e3" d="m-139 164l23-12 12 19-18 7z"/>
<path color="#646464" d="m-31 210l15 2 17 7-18 7z"/>
<path color="#626262" d="m-140-164l10-11 0 20-17 7z"/>
<path color="#b2b2b2" d="m-150 114l12-3 11 21-18 6z"/>
<path color="#575757" d="m32 227l16 2 16 5-18 7z"/>
<path color="#747474" d="m130-415l24 3-13 2-19 6z"/>
<path color="#565656" d="m-103-215l11-13-2 19-17 8z"/>
<path color="#757575" d="m19-343l17-9-6 15-25-2z"/>
<path color="#4f4f4f" d="m-47-294l19-6-12 8-11 14z"/>
<path color="#848484" d="m326-505l17-9-6 18-23-4z"/>
<path color="#787878" d="m-92 190l14 0 16 11-17 6z"/>
<path color="#757575" d="m-174-110l10-10 2 21-17 7z"/>
<path color="#515151" d="m-61-263l10-15-3 18-17 8z"/>
<path color="#cacaca" d="m86-391l17-8 0 23-24-3z"/>
<path color="#515151" d="m96 239l17 4 15 1-17 6z"/>
<path color="#656565" d="m279-487l13-18-8 15-17 9z"/>
<path color="#7e7e7e" d="m43-365l11-16-1 21-17 8z"/>
<path color="#5d5d5d" d="m404-531l18-5-12 2-14 18z"/>
<path color="#818181" d="m157-434l18-5-9 10-12 17z"/>
<path color="#5c5c5c" d="m1 219l18-7 13 15-16-2z"/>
<path color="#b7b7b7" d="m107-419l23 4-8 11-19 5z"/>
<path color="#6f6f6f" d="m-62 201l18-7 13 16-14-1z"/>
<path color="#545454" d="m64 234l18-7 14 12-17-3z"/>
<path color="#b8b8b8" d="m-148-189l19-6-1 20-10 11z"/>
<path color="#6f6f6f" d="m352-526l22 5-12 3-19 4z"/>
<path color="#c5c5c5" d="m-166-162l26-2-7 16-18 7z"/>
<path color="#878787" d="m-205-55l11-9 4 22-17 7z"/>
<path color="#bdbdbd" d="m-184-135l19-6 1 21-10 10z"/>
<path color="#afafaf" d="m-128-214l25-1-8 14-18 6z"/>
<path color="#4c4c4c" d="m0-338l19-5-14 4-11 16z"/>
<path color="#4e4e4e" d="m-16-308l10-15-5 15-17 8z"/>
<path color="#afafaf" d="m-109-241l19-5-2 18-11 13z"/>
<path color="#4c4c4c" d="m436-536l20 5-15-9-19 4z"/>
<path color="#696969" d="m70-382l16-9-7 12-25-2z"/>
<path color="#fff" d="m-191-160l25-2 1 21-19 6z"/>
<path color="#505050" d="m309-495l17-10-12 5-22-5z"/>
<path color="#626262" d="m185-447l24 4-15-1-19 5z"/>
<path color="#fbfbfb" d="m-153-214l25 0-1 19-19 6z"/>
<path color="#d7d7d7" d="m-200-107l26-3-5 18-18 7z"/>
<path color="#4f4f4f" d="m128 244l18-7 15 10-18-4z"/>
<path color="#838383" d="m-122 178l18-7 12 19-14-1z"/>
<path color="#fff" d="m-225-103l25-4 3 22-19 6z"/>
<path color="#9a9a9a" d="m-87-264l26 1-10 11-19 6z"/>
<path color="#bfbfbf" d="m-216-79l19-6 3 21-11 9z"/>
<path color="#6c6c6c" d="m387-522l17-9-8 15-22-5z"/>
<path color="#b4b4b4" d="m140-425l17-9-3 22-24-3z"/>
<path color="#a4a4a4" d="m-65-289l18-5-4 16-10 15z"/>
<path color="#b1b1b1" d="m-17 226l18-7 15 6-19 16z"/>
<path color="#a9a9a9" d="m16 225l16 2 14 14-17 6z"/>
<path color="#afafaf" d="m-45 209l14 1 14 16-18 7z"/>
<path color="#7a7a7a" d="m95-402l12-17-4 20-17 8z"/>
<path color="#f1f1f1" d="m-112-265l25 1-3 18-19 5z"/>
<path color="#c7c7c7" d="m-79 207l17-6 17 8-21 15z"/>
<path color="#9b9b9b" d="m46 241l18-7 15 2-18 17z"/>
<path color="#757575" d="m213-463l19-5-11 7-12 18z"/>
<path color="#fefefe" d="m-165-182l17-7 8 25-26 2z"/>
<path color="#5e5e5e" d="m338-507l14-19-9 12-17 9z"/>
<path color="#fff" d="m-35 233l18-7 14 15-20 16z"/>
<path color="#4c4c4c" d="m32-348l11-17-7 13-17 9z"/>
<path color="#fff" d="m-201-128l17-7 10 25-26 3z"/>
<path color="#9f9f9f" d="m79 236l17 3 15 11-18 7z"/>
<path color="#fff" d="m-97 214l18-7 13 17-21 15z"/>
<path color="#9f9f9f" d="m162-451l23 4-10 8-18 5z"/>
<path color="#8e8e8e" d="m-41-310l25 2-12 8-19 6z"/>
<path color="#b4b4b4" d="m-106 189l14 1 13 17-18 7z"/>
<path color="#fbfbfb" d="m-126-233l17-8 6 26-25 1z"/>
<path color="#4c4c4c" d="m51-377l19-5-16 1-11 16z"/>
<path color="#a6a6a6" d="m-201-148l10-12 7 25-17 7z"/>
<path color="#fbfbfb" d="m29 247l17-6 15 12-19 17z"/>
<path color="#a7a7a7" d="m-182-174l17-8-1 20-25 2z"/>
<path color="#9d9d9d" d="m-164-201l11-13 5 25-17 7z"/>
<path color="#888" d="m111 250l17-6 15-1-18 17z"/>
<path color="#bebebe" d="m-218-120l17-8 1 21-25 4z"/>
<path color="#5d5d5d" d="m415-540l21 4-14 0-18 5z"/>
<path color="#5c5c5c" d="m123-416l17-9-10 10-23-4z"/>
<path color="#979797" d="m-19-333l19-5-6 15-10 15z"/>
<path color="#e3e3e3" d="m-66-312l25 2-6 16-18 5z"/>
<path color="#565656" d="m243-473l22 5-15-4-18 4z"/>
<path color="#909090" d="m-142-225l16-8-2 19-25 0z"/>
<path color="#4c4c4c" d="m370-513l17-9-13 1-22-5z"/>
<path color="#f0f0f0" d="m-82-281l17-8 4 26-26-1z"/>
<path color="#fff" d="m-3 241l19-16 13 22-18 7z"/>
<path color="#fff" d="m-66 224l21-15 10 24-18 7z"/>
<path color="#909090" d="m-122-250l10-15 3 24-17 8z"/>
<path color="#f0f0f0" d="m93 257l18-7 14 10-18 18z"/>
<path color="#9c9c9c" d="m196-454l17-9-4 20-24-4z"/>
<path color="#c1c1c1" d="m-87 239l21-15 13 16-18 7z"/>
<path color="#afafaf" d="m-53 240l18-7 12 24-16-3z"/>
<path color="#7c7c7c" d="m7-351l25 3-13 5-19 5z"/>
<path color="#ababab" d="m-23 257l20-16 14 13-18 7z"/>
<path color="#f8f8f8" d="m61 253l18-17 14 21-18 7z"/>
<path color="#4c4c4c" d="m83-384l12-18-9 11-16 9z"/>
<path color="#6e6e6e" d="m150-433l12-18-5 17-17 9z"/>
<path color="#858585" d="m-99-273l17-8-5 17-25-1z"/>
<path color="#a5a5a5" d="m11 254l18-7 13 23-17-3z"/>
<path color="#6a6a6a" d="m272-486l18-5-11 4-14 19z"/>
<path color="#5b5b5b" d="m-201-168l19-6-9 14-10 12z"/>
<path color="#555" d="m400-522l15-18-11 9-17 9z"/>
<path color="#dfdfdf" d="m-35-324l16-9 3 25-25-2z"/>
<path color="#919191" d="m32-372l19-5-8 12-11 17z"/>
<path color="#949494" d="m42 270l19-17 14 11-18 7z"/>
<path color="#868686" d="m220-478l23 5-11 5-19 5z"/>
<path color="#858585" d="m-77-296l11-16 1 23-17 8z"/>
<path color="#cecece" d="m-17-354l24 3-7 13-19 5z"/>
<path color="#535353" d="m-161-219l19-6-11 11-11 13z"/>
<path color="#999" d="m75 264l18-7 14 21-18-4z"/>
<path color="#595959" d="m179-445l17-9-11 7-23-4z"/>
<path color="#515151" d="m303-494l21 5-15-6-19 4z"/>
<path color="#626262" d="m-212-136l11-12 0 20-17 8z"/>
<path color="#575757" d="m-39 254l16 3 16 4-18 7z"/>
<path color="#747474" d="m59-388l24 4-13 2-19 5z"/>
<path color="#565656" d="m-174-188l10-13-1 19-17 8z"/>
<path color="#757575" d="m-52-316l17-8-6 14-25-2z"/>
<path color="#4f4f4f" d="m-118-267l19-6-13 8-10 15z"/>
<path color="#848484" d="m255-477l17-9-7 18-22-5z"/>
<path color="#515151" d="m-133-236l11-14-4 17-16 8z"/>
<path color="#cacaca" d="m15-364l17-8 0 24-25-3z"/>
<path color="#515151" d="m25 267l17 3 15 1-18 7z"/>
<path color="#656565" d="m207-460l13-18-7 15-17 9z"/>
<path color="#7e7e7e" d="m-28-338l11-16-2 21-16 9z"/>
<path color="#5d5d5d" d="m333-504l18-4-13 1-14 18z"/>
<path color="#818181" d="m85-406l19-5-9 9-12 18z"/>
<path color="#5c5c5c" d="m-71 247l18-7 14 14-16-2z"/>
<path color="#b7b7b7" d="m35-392l24 4-8 11-19 5z"/>
<path color="#545454" d="m-7 261l18-7 14 13-17-4z"/>
<path color="#b8b8b8" d="m-220-162l19-6 0 20-11 12z"/>
<path color="#6f6f6f" d="m281-498l22 4-13 3-18 5z"/>
<path color="#afafaf" d="m-199-187l25-1-8 14-19 6z"/>
<path color="#4c4c4c" d="m-71-311l19-5-14 4-11 16z"/>
<path color="#4e4e4e" d="m-88-281l11-15-5 15-17 8z"/>
<path color="#afafaf" d="m-180-213l19-6-3 18-10 13z"/>
<path color="#4c4c4c" d="m364-508l21 5-15-10-19 5z"/>
<path color="#696969" d="m-2-355l17-9-8 13-24-3z"/>
<path color="#505050" d="m238-468l17-9-12 4-23-5z"/>
<path color="#626262" d="m114-420l23 5-14-1-19 5z"/>
<path color="#fbfbfb" d="m-225-187l26 0-2 19-19 6z"/>
<path color="#4f4f4f" d="m57 271l18-7 14 10-18-4z"/>
<path color="#9a9a9a" d="m-158-237l25 1-9 11-19 6z"/>
<path color="#6c6c6c" d="m315-495l18-9-9 15-21-5z"/>
<path color="#b4b4b4" d="m68-398l17-8-2 22-24-4z"/>
<path color="#a4a4a4" d="m-137-261l19-6-4 17-11 14z"/>
<path color="#a9a9a9" d="m-55 252l16 2 14 14-18 7z"/>
<path color="#7a7a7a" d="m23-374l12-18-3 20-17 8z"/>
<path color="#f1f1f1" d="m-183-238l25 1-3 18-19 6z"/>
<path color="#9b9b9b" d="m-25 268l18-7 15 2-19 17z"/>
<path color="#757575" d="m141-436l19-4-10 7-13 18z"/>
<path color="#5e5e5e" d="m267-480l14-18-9 12-17 9z"/>
<path color="#4c4c4c" d="m-40-321l12-17-7 14-17 8z"/>
<path color="#9f9f9f" d="m8 263l17 4 14 11-18 6z"/>
<path color="#9f9f9f" d="m91-424l23 4-10 9-19 5z"/>
<path color="#8e8e8e" d="m-113-283l25 2-11 8-19 6z"/>
<path color="#fbfbfb" d="m-197-206l17-7 6 25-25 1z"/>
<path color="#4c4c4c" d="m-21-350l19-5-15 1-11 16z"/>
<path color="#fbfbfb" d="m-43 275l18-7 14 12-19 17z"/>
<path color="#888" d="m39 278l18-7 14-1-17 18z"/>
<path color="#5d5d5d" d="m344-513l20 5-13 0-18 4z"/>
<path color="#5c5c5c" d="m51-389l17-9-9 10-24-4z"/>
<path color="#979797" d="m-90-305l19-6-6 15-11 15z"/>
<path color="#e3e3e3" d="m-138-284l25 1-5 16-19 6z"/>
<path color="#565656" d="m171-446l23 5-15-4-19 5z"/>
<path color="#909090" d="m-214-198l17-8-2 19-26 0z"/>
<path color="#4c4c4c" d="m298-486l17-9-12 1-22-4z"/>
<path color="#f0f0f0" d="m-154-253l17-8 4 25-25-1z"/>
<path color="#909090" d="m-194-223l11-15 3 25-17 7z"/>
<path color="#f0f0f0" d="m21 284l18-6 15 10-18 17z"/>
<path color="#9c9c9c" d="m124-427l17-9-4 21-23-5z"/>
<path color="#7c7c7c" d="m-64-324l24 3-12 5-19 5z"/>
<path color="#f8f8f8" d="m-11 280l19-17 13 21-18 7z"/>
<path color="#4c4c4c" d="m12-357l11-17-8 10-17 9z"/>
<path color="#6e6e6e" d="m78-406l13-18-6 18-17 8z"/>
<path color="#858585" d="m-170-245l16-8-4 16-25-1z"/>
<path color="#6a6a6a" d="m200-459l19-5-12 4-13 19z"/>
<path color="#555" d="m328-495l16-18-11 9-18 9z"/>
<path color="#dfdfdf" d="m-107-297l17-8 2 24-25-2z"/>
<path color="#919191" d="m-40-345l19-5-7 12-12 17z"/>
<path color="#949494" d="m-30 297l19-17 14 11-17 7z"/>
<path color="#868686" d="m149-451l22 5-11 6-19 4z"/>
<path color="#858585" d="m-149-269l11-15 1 23-17 8z"/>
<path color="#cecece" d="m-89-327l25 3-7 13-19 6z"/>
<path color="#999" d="m3 291l18-7 15 21-18-4z"/>
<path color="#595959" d="m108-418l16-9-10 7-23-4z"/>
<path color="#515151" d="m231-466l22 5-15-7-19 4z"/>
<path color="#747474" d="m-12-361l24 4-14 2-19 5z"/>
<path color="#757575" d="m-124-289l17-8-6 14-25-1z"/>
<path color="#4f4f4f" d="m-189-240l19-5-13 7-11 15z"/>
<path color="#848484" d="m183-450l17-9-6 18-23-5z"/>
<path color="#515151" d="m-204-209l10-14-3 17-17 8z"/>
<path color="#cacaca" d="m-57-336l17-9 0 24-24-3z"/>
<path color="#656565" d="m136-432l13-19-8 15-17 9z"/>
<path color="#7e7e7e" d="m-100-310l11-17-1 22-17 8z"/>
<path color="#5d5d5d" d="m261-477l19-4-13 1-14 19z"/>
<path color="#818181" d="m14-379l19-5-10 10-11 17z"/>
<path color="#b7b7b7" d="m-36-364l24 3-9 11-19 5z"/>
<path color="#6f6f6f" d="m210-471l21 5-12 2-19 5z"/>
<path color="#4c4c4c" d="m-142-283l18-6-14 5-11 15z"/>
<path color="#4e4e4e" d="m-159-253l10-16-5 16-16 8z"/>
<path color="#4c4c4c" d="m293-481l20 5-15-10-18 5z"/>
<path color="#696969" d="m-73-328l16-8-7 12-25-3z"/>
<path color="#505050" d="m166-441l17-9-12 4-22-5z"/>
<path color="#626262" d="m42-392l24 4-15-1-18 5z"/>
<path color="#4f4f4f" d="m-14 298l17-7 15 10-18-4z"/>
<path color="#6c6c6c" d="m244-468l17-9-8 16-22-5z"/>
<path color="#b4b4b4" d="m-3-371l17-8-2 22-24-4z"/>
<path color="#a4a4a4" d="m-208-234l19-6-5 17-10 14z"/>
<path color="#7a7a7a" d="m-48-347l12-17-4 19-17 9z"/>
<path color="#757575" d="m70-408l19-5-11 7-12 18z"/>
<path color="#5e5e5e" d="m195-453l15-18-10 12-17 9z"/>
<path color="#4c4c4c" d="m-111-294l11-16-7 13-17 8z"/>
<path color="#9f9f9f" d="m19-397l23 5-9 8-19 5z"/>
<path color="#8e8e8e" d="m-184-255l25 2-11 8-19 5z"/>
<path color="#4c4c4c" d="m-92-323l19-5-16 1-11 17z"/>
<path color="#5d5d5d" d="m272-486l21 5-13 0-19 4z"/>
<path color="#5c5c5c" d="m-20-362l17-9-9 10-24-3z"/>
<path color="#979797" d="m-161-278l19-5-7 14-10 16z"/>
<path color="#e3e3e3" d="m-209-257l25 2-5 15-19 6z"/>
<path color="#565656" d="m100-419l22 5-14-4-19 5z"/>
<path color="#4c4c4c" d="m227-458l17-10-13 2-21-5z"/>
<path color="#9c9c9c" d="m53-399l17-9-4 20-24-4z"/>
<path color="#7c7c7c" d="m-136-297l25 3-13 5-18 6z"/>
<path color="#4c4c4c" d="m-60-330l12-17-9 11-16 8z"/>
<path color="#6e6e6e" d="m7-379l12-18-5 18-17 8z"/>
<path color="#6a6a6a" d="m129-432l18-4-11 4-14 18z"/>
<path color="#555" d="m257-467l15-19-11 9-17 9z"/>
<path color="#dfdfdf" d="m-178-270l17-8 2 25-25-2z"/>
<path color="#919191" d="m-111-318l19-5-8 13-11 16z"/>
<path color="#868686" d="m78-423l22 4-11 6-19 5z"/>
<path color="#cecece" d="m-160-300l24 3-6 14-19 5z"/>
<path color="#595959" d="m36-391l17-8-11 7-23-5z"/>
<path color="#515151" d="m160-439l21 5-15-7-19 5z"/>
<path color="#747474" d="m-84-334l24 4-13 2-19 5z"/>
<path color="#757575" d="m-195-262l17-8-6 15-25-2z"/>
<path color="#848484" d="m112-423l17-9-7 18-22-5z"/>
<path color="#cacaca" d="m-128-309l17-9 0 24-25-3z"/>
<path color="#656565" d="m64-405l14-18-8 15-17 9z"/>
<path color="#7e7e7e" d="m-171-283l11-17-1 22-17 8z"/>
<path color="#5d5d5d" d="m190-450l18-4-13 1-14 19z"/>
<path color="#818181" d="m-58-352l19-5-9 10-12 17z"/>
<path color="#b7b7b7" d="m-108-337l24 3-8 11-19 5z"/>
<path color="#6f6f6f" d="m138-444l22 5-13 3-18 4z"/>
<path color="#4c4c4c" d="m221-454l21 5-15-9-19 4z"/>
<path color="#696969" d="m-145-301l17-8-8 12-24-3z"/>
<path color="#505050" d="m95-414l17-9-12 4-22-4z"/>
<path color="#626262" d="m-29-365l23 4-14-1-19 5z"/>
<path color="#6c6c6c" d="m172-440l18-10-9 16-21-5z"/>
<path color="#b4b4b4" d="m-75-343l17-9-2 22-24-4z"/>
<path color="#7a7a7a" d="m-119-320l11-17-3 19-17 9z"/>
<path color="#757575" d="m-1-381l18-5-10 7-13 18z"/>
<path color="#5e5e5e" d="m124-425l14-19-9 12-17 9z"/>
<path color="#4c4c4c" d="m-183-267l12-16-7 13-17 8z"/>
<path color="#9f9f9f" d="m-52-369l23 4-10 8-19 5z"/>
<path color="#4c4c4c" d="m-164-295l19-6-15 1-11 17z"/>
<path color="#5d5d5d" d="m201-459l20 5-13 0-18 4z"/>
<path color="#5c5c5c" d="m-91-335l16-8-9 9-24-3z"/>
<path color="#565656" d="m29-391l22 4-15-4-19 5z"/>
<path color="#4c4c4c" d="m155-431l17-9-12 1-22-5z"/>
<path color="#9c9c9c" d="m-18-372l17-9-5 20-23-4z"/>
<path color="#4c4c4c" d="m-131-303l12-17-9 11-17 8z"/>
<path color="#6e6e6e" d="m-65-352l13-17-6 17-17 9z"/>
<path color="#6a6a6a" d="m57-405l19-4-12 4-13 18z"/>
<path color="#555" d="m186-440l15-19-11 9-18 10z"/>
<path color="#919191" d="m-183-290l19-5-7 12-12 16z"/>
<path color="#868686" d="m6-396l23 5-12 5-18 5z"/>
<path color="#595959" d="m-35-363l17-9-11 7-23-4z"/>
<path color="#515151" d="m88-412l22 5-15-7-19 5z"/>
<path color="#747474" d="m-155-306l24 3-14 2-19 6z"/>
<path color="#848484" d="m40-396l17-9-6 18-22-4z"/>
<path color="#656565" d="m-7-378l13-18-7 15-17 9z"/>
<path color="#5d5d5d" d="m118-422l19-5-13 2-14 18z"/>
<path color="#818181" d="m-129-325l19-5-9 10-12 17z"/>
<path color="#b7b7b7" d="m-179-310l24 4-9 11-19 5z"/>
<path color="#6f6f6f" d="m67-417l21 5-12 3-19 4z"/>
<path color="#4c4c4c" d="m150-427l21 5-16-9-18 4z"/>
<path color="#505050" d="m23-386l17-10-11 5-23-5z"/>
<path color="#626262" d="m-100-338l23 4-14-1-19 5z"/>
<path color="#6c6c6c" d="m101-413l17-9-8 15-22-5z"/>
<path color="#b4b4b4" d="m-146-316l17-9-2 22-24-3z"/>
<path color="#757575" d="m-73-354l19-5-11 7-12 18z"/>
<path color="#5e5e5e" d="m53-398l14-19-10 12-17 9z"/>
<path color="#9f9f9f" d="m-124-342l24 4-10 8-19 5z"/>
<path color="#5d5d5d" d="m129-431l21 4-13 0-19 5z"/>
<path color="#5c5c5c" d="m-163-307l17-9-9 10-24-4z"/>
<path color="#565656" d="m-43-364l23 5-15-4-19 4z"/>
<path color="#4c4c4c" d="m84-404l17-9-13 1-21-5z"/>
<path color="#9c9c9c" d="m-90-345l17-9-4 20-23-4z"/>
<path color="#6e6e6e" d="m-136-324l12-18-5 17-17 9z"/>
<path color="#6a6a6a" d="m-14-377l19-5-12 4-13 19z"/>
<path color="#555" d="m114-413l15-18-11 9-17 9z"/>
<path color="#868686" d="m-65-369l22 5-11 5-19 5z"/>
<path color="#595959" d="m-107-336l17-9-10 7-24-4z"/>
<path color="#515151" d="m17-385l22 5-16-6-18 4z"/>
<path color="#848484" d="m-31-368l17-9-6 18-23-5z"/>
<path color="#656565" d="m-79-351l14-18-8 15-17 9z"/>
<path color="#5d5d5d" d="m47-395l18-4-12 1-14 18z"/>
<path color="#6f6f6f" d="m-5-389l22 4-12 3-19 5z"/>
<path color="#4c4c4c" d="m79-399l20 5-15-10-19 5z"/>
<path color="#505050" d="m-48-359l17-9-12 4-22-5z"/>
<path color="#6c6c6c" d="m30-386l17-9-8 15-22-5z"/>
<path color="#757575" d="m-144-327l19-4-11 7-13 18z"/>
<path color="#5e5e5e" d="m-19-371l14-18-9 12-17 9z"/>
<path color="#5d5d5d" d="m58-404l21 5-14 0-18 4z"/>
<path color="#565656" d="m-114-337l22 5-15-4-18 5z"/>
<path color="#4c4c4c" d="m12-377l18-9-13 1-22-4z"/>
<path color="#6a6a6a" d="m-85-350l18-5-12 4-13 19z"/>
<path color="#555" d="m43-386l15-18-11 9-17 9z"/>
<path color="#868686" d="m-137-342l23 5-11 6-19 4z"/>
<path color="#515151" d="m-55-357l22 5-15-7-19 4z"/>
<path color="#848484" d="m-102-341l17-9-7 18-22-5z"/>
<path color="#5d5d5d" d="m-25-368l19-4-13 1-14 19z"/>
<path color="#6f6f6f" d="m-76-362l21 5-12 2-18 5z"/>
<path color="#4c4c4c" d="m7-372l21 5-16-10-18 5z"/>
<path color="#505050" d="m-120-332l18-9-12 4-23-5z"/>
<path color="#6c6c6c" d="m-42-359l17-9-8 16-22-5z"/>
<path color="#5e5e5e" d="m-90-344l14-18-9 12-17 9z"/>
<path color="#5d5d5d" d="m-14-377l21 5-13 0-19 4z"/>
<path color="#4c4c4c" d="m-59-349l17-10-13 2-21-5z"/>
<path color="#555" d="m-29-358l15-19-11 9-17 9z"/>
<path color="#5d5d5d" d="m-96-341l19-4-13 1-14 19z"/>
<path color="#4c4c4c" d="m-64-345l20 5-15-9-18 4z"/>
<path color="#5d5d5d" d="m-85-350l21 5-13 0-19 4z"/>
</g></g>
<path d="M85.7 -62.4L85.4 -62.7L85 -63.2L84.6 -63.7L84.3 -64.3L83.9 -65L83.5 -65.5L83.1 -65.9L82.7 -66.2L82.4 -66.3L82 -66.2L81.7 -65.9L81.4 -65.6L81.1 -65.3L80.8 -65L80.5 -64.9L80.2 -64.9L79.9 -65.1L79.5 -65.4L79.1 -65.8L78.7 -66.4L78.2 -66.9L77.8 -67.3L77.4 -67.6L77 -67.7L76.7 -67.6L76.4 -67.4L76.2 -67L76 -66.5L75.8 -66L75.6 -65.6L75.4 -65.3L75.1 -65.2L74.8 -65.2L74.4 -65.4L74 -65.7L73.5 -66.1L73.1 -66.4L72.6 -66.7L72.2 -66.8L71.9 -66.8L71.6 -66.6L71.4 -66.2L71.3 -65.7L71.2 -65.1L71.2 -64.5L71.1 -63.9L70.9 -63.5L70.7 -63.2L70.5 -63.1L70.1 -63.2L69.7 -63.3L69.2 -63.5L68.8 -63.7L68.3 -63.8L68 -63.8L67.7 -63.6L67.5 -63.2L67.4 -62.7L67.4 -62.1L67.5 -61.4L67.5 -60.8L67.5 -60.1L67.5 -59.6L67.4 -59.2L67.2 -59L66.8 -58.9L66.5 -58.9L66 -58.9L65.6 -58.9L65.2 -58.8L64.9 -58.6L64.7 -58.3L64.6 -57.8L64.7 -57.2L64.8 -56.6L64.9 -55.8L65.1 -55.1L65.2 -54.5L65.3 -53.9L65.3 -53.4L65.1 -53.1L64.9 -52.8L64.6 -52.6L64.2 -52.4L63.8 -52.2L63.5 -52L63.3 -51.7L63.2 -51.2L63.2 -50.7L63.3 -50.1L63.5 -49.4L63.8 -48.7L64.1 -48L64.3 -47.3L64.5 -46.7L64.5 -46.2L64.5 -45.7L64.3 -45.3L64.1 -45L63.8 -44.6L63.5 -44.3L63.3 -43.9L63.2 -43.4L63.2 -42.9L63.3 -42.3L63.5 -41.7L63.8 -41.1L64.2 -40.4L64.6 -39.8L64.9 -39.2L65.1 -38.6L65.3 -38L65.3 -37.5L65.2 -37L65.1 -36.5L64.9 -36L64.8 -35.5L64.7 -35L64.6 -34.4L64.7 -33.9L64.9 -33.3L65.2 -32.7L65.6 -32.2L66 -31.6L66.5 -31.1L66.8 -30.6L67.2 -30.1L67.4 -29.5L67.5 -29L67.5 -28.4L67.5 -27.8L67.5 -27.2L67.4 -26.6L67.4 -26L67.5 -25.4L67.7 -24.8L68 -24.2L68.3 -23.8L68.8 -23.3L69.2 -22.9L69.7 -22.5L70.1 -22.1L70.5 -21.7L70.7 -21.2L70.9 -20.7L71.1 -20.1L71.2 -19.5L71.2 -18.8L71.3 -18.1L71.4 -17.4L71.6 -16.8L71.9 -16.2L72.2 -15.8L72.6 -15.4L73.1 -15.1L73.5 -14.9L74 -14.6L74.4 -14.4L74.8 -14.1L75.1 -13.7L75.4 -13.2L75.6 -12.6L75.8 -12L76 -11.3L76.2 -10.5L76.4 -9.9L76.7 -9.3L77 -8.8L77.4 -8.4L77.8 -8.2L78.2 -8.1L78.7 -8L79.1 -8L79.5 -7.9L79.9 -7.8L80.2 -7.5L80.5 -7.1L80.8 -6.6L81.1 -5.9L81.4 -5.2L81.7 -4.5L82 -3.9L82.4 -3.4L82.7 -3L83.1 -2.8L83.5 -2.7L83.9 -2.7L84.3 -2.9L84.6 -3L85 -3.1L85.4 -3.1L85.7 -3" fill="none" stroke="#000" stroke-width="1.6"/>
<path d="M0 -43.8L85.7 -76.5L85.7 -62.4L85.3 -62.3L84.8 -62.4L84.4 -62.6L83.9 -62.8L83.5 -63.1L83 -63.2L82.6 -63.3L82.1 -63.2L81.7 -63L81.2 -62.6L80.8 -62L80.3 -61.5L79.9 -60.9L79.5 -60.3L79 -59.9L78.6 -59.7L78.1 -59.6L77.7 -59.7L77.2 -59.8L76.8 -60.1L76.3 -60.3L75.9 -60.5L75.4 -60.6L75 -60.5L74.5 -60.2L74.1 -59.8L73.6 -59.3L73.2 -58.7L72.8 -58.1L72.3 -57.6L71.9 -57.2L71.4 -57L71 -56.9L70.5 -56.9L70.1 -57.1L69.6 -57.4L69.2 -57.6L68.7 -57.8L68.3 -57.9L67.8 -57.8L67.4 -57.5L67 -57.1L66.5 -56.6L66.1 -56L65.6 -55.4L65.2 -54.9L64.7 -54.5L64.3 -54.2L63.8 -54.1L63.4 -54.2L62.9 -54.4L62.5 -54.6L62 -54.9L61.6 -55.1L61.2 -55.1L60.7 -55.1L60.3 -54.8L59.8 -54.4L59.4 -53.9L58.9 -53.3L58.5 -52.7L58 -52.2L57.6 -51.8L57.1 -51.5L56.7 -51.4L56.2 -51.5L55.8 -51.7L55.3 -51.9L54.9 -52.2L54.5 -52.3L54 -52.4L53.6 -52.3L53.1 -52.1L52.7 -51.7L52.2 -51.1L51.8 -50.6L51.3 -50L50.9 -49.4L50.4 -49L50 -48.8L49.5 -48.7L49.1 -48.8L48.7 -48.9L48.2 -49.2L47.8 -49.4L47.3 -49.6L46.9 -49.7L46.4 -49.6L46 -49.3L45.5 -48.9L45.1 -48.4L44.6 -47.8L44.2 -47.2L43.7 -46.7L43.3 -46.3L42.9 -46.1L42.4 -46L42 -46L41.5 -46.2L41.1 -46.5L40.6 -46.7L40.2 -46.9L39.7 -47L39.3 -46.9L38.8 -46.6L38.4 -46.2L37.9 -45.7L37.5 -45.1L37 -44.5L36.6 -44L36.2 -43.6L35.7 -43.3L35.3 -43.2L34.8 -43.3L34.4 -43.5L33.9 -43.7L33.5 -44L33 -44.2L32.6 -44.2L32.1 -44.2L31.7 -43.9L31.2 -43.5L30.8 -43L30.4 -42.4L29.9 -41.8L29.5 -41.3L29 -40.9L28.6 -40.6L28.1 -40.5L27.7 -40.6L27.2 -40.8L26.8 -41L26.3 -41.3L25.9 -41.4L25.4 -41.5L25 -41.4L24.5 -41.2L24.1 -40.8L23.7 -40.2L23.2 -39.7L22.8 -39.1L22.3 -38.5L21.9 -38.1L21.4 -37.9L21 -37.8L20.5 -37.9L20.1 -38L19.6 -38.3L19.2 -38.5L18.7 -38.7L18.3 -38.8L17.9 -38.7L17.4 -38.4L17 -38L16.5 -37.5L16.1 -36.9L15.6 -36.3L15.2 -35.8L14.7 -35.4L14.3 -35.2L13.8 -35.1L13.4 -35.1L12.9 -35.3L12.5 -35.6L12.1 -35.8L11.6 -36L11.2 -36.1L10.7 -36L10.3 -35.7L9.8 -35.3L9.4 -34.8L8.9 -34.2L8.5 -33.6L8 -33.1L7.6 -32.7L7.1 -32.4L6.7 -32.3L6.2 -32.4L5.8 -32.6L5.4 -32.8L4.9 -33.1L4.5 -33.3L4 -33.3L3.6 -33.3L3.1 -33L2.7 -32.6L2.2 -32.1L1.8 -31.5L1.3 -30.9L0.9 -30.4L0.4 -30L0 -29.7z" fill="#b3b3b3" stroke="#000" stroke-width="1.7" stroke-linejoin="round"/>
<path d="M0 29.7L0.4 29.6L0.9 29.7L1.3 29.9L1.8 30.1L2.2 30.4L2.7 30.5L3.1 30.6L3.6 30.5L4 30.3L4.5 29.9L4.9 29.3L5.4 28.8L5.8 28.2L6.2 27.6L6.7 27.2L7.1 27L7.6 26.9L8 27L8.5 27.1L8.9 27.4L9.4 27.6L9.8 27.8L10.3 27.9L10.7 27.8L11.2 27.5L11.6 27.1L12.1 26.6L12.5 26L12.9 25.4L13.4 24.9L13.8 24.5L14.3 24.3L14.7 24.2L15.2 24.2L15.6 24.4L16.1 24.7L16.5 24.9L17 25.1L17.4 25.2L17.9 25.1L18.3 24.8L18.7 24.4L19.2 23.9L19.6 23.3L20.1 22.7L20.5 22.2L21 21.8L21.4 21.5L21.9 21.4L22.3 21.5L22.8 21.7L23.2 21.9L23.7 22.2L24.1 22.4L24.5 22.4L25 22.4L25.4 22.1L25.9 21.7L26.3 21.2L26.8 20.6L27.2 20L27.7 19.5L28.1 19.1L28.6 18.8L29 18.7L29.5 18.8L29.9 19L30.4 19.2L30.8 19.5L31.2 19.6L31.7 19.7L32.1 19.6L32.6 19.4L33 19L33.5 18.4L33.9 17.9L34.4 17.3L34.8 16.7L35.3 16.3L35.7 16.1L36.2 16L36.6 16.1L37 16.2L37.5 16.5L37.9 16.7L38.4 16.9L38.8 17L39.3 16.9L39.7 16.6L40.2 16.2L40.6 15.7L41.1 15.1L41.5 14.5L42 14L42.4 13.6L42.9 13.4L43.3 13.3L43.7 13.3L44.2 13.5L44.6 13.8L45.1 14L45.5 14.2L46 14.3L46.4 14.2L46.9 13.9L47.3 13.5L47.8 13L48.2 12.4L48.7 11.8L49.1 11.3L49.5 10.9L50 10.6L50.4 10.5L50.9 10.6L51.3 10.8L51.8 11L52.2 11.3L52.7 11.5L53.1 11.5L53.6 11.5L54 11.2L54.5 10.8L54.9 10.3L55.3 9.7L55.8 9.1L56.2 8.6L56.7 8.2L57.1 7.9L57.6 7.8L58 7.9L58.5 8.1L58.9 8.3L59.4 8.6L59.8 8.7L60.3 8.8L60.7 8.7L61.2 8.5L61.6 8.1L62 7.5L62.5 7L62.9 6.4L63.4 5.8L63.8 5.4L64.3 5.2L64.7 5.1L65.2 5.2L65.6 5.3L66.1 5.6L66.5 5.8L67 6L67.4 6.1L67.8 6L68.3 5.7L68.7 5.3L69.2 4.8L69.6 4.2L70.1 3.6L70.5 3.1L71 2.7L71.4 2.5L71.9 2.4L72.3 2.4L72.8 2.6L73.2 2.9L73.6 3.1L74.1 3.3L74.5 3.4L75 3.3L75.4 3L75.9 2.6L76.3 2.1L76.8 1.5L77.2 0.9L77.7 0.4L78.1 0L78.6 -0.3L79 -0.4L79.5 -0.3L79.9 -0.1L80.3 0.1L80.8 0.4L81.2 0.6L81.7 0.6L82.1 0.6L82.6 0.3L83 -0.1L83.5 -0.6L83.9 -1.2L84.4 -1.8L84.8 -2.3L85.3 -2.7L85.7 -3L85.7 11.1L0 43.8z" fill="#b0b0b0" stroke="#000" stroke-width="1.7" stroke-linejoin="round"/>
<path d="M0 -43.8L-1.6 -44.8L-3.3 -45.6L-4.9 -46.4L-6.5 -47L-8.1 -47.5L-9.6 -47.8L-11.2 -48L-12.7 -48.1L-14.2 -48.1L-15.6 -47.9L-17 -47.6L-18.3 -47.1L-19.6 -46.6L-20.9 -45.9L-22.1 -45L-23.2 -44.1L-24.2 -43L-25.2 -41.8L-26.2 -40.5L-27 -39.1L-27.8 -37.6L-28.5 -36L-29.1 -34.3L-29.7 -32.4L-30.1 -30.5L-30.5 -28.6L-30.8 -26.5L-31 -24.4L-31.1 -22.2L-31.2 -19.9L-31.1 -17.6L-31 -15.2L-30.8 -12.8L-30.5 -10.3L-30.1 -7.9L-29.7 -5.4L-29.1 -2.9L-28.5 -0.4L-27.8 2.2L-27 4.7L-26.2 7.2L-25.2 9.7L-24.2 12.1L-23.2 14.5L-22.1 16.9L-20.9 19.2L-19.6 21.5L-18.3 23.7L-17 25.9L-15.6 28L-14.2 30L-12.7 31.9L-11.2 33.8L-9.6 35.5L-8.1 37.2L-6.5 38.7L-4.9 40.2L-3.3 41.5L-1.6 42.7L0 43.8L0 29.7L-0.3 29.6L-0.7 29.6L-1.1 29.7L-1.4 29.8L-1.8 30L-2.2 30L-2.6 29.9L-3 29.7L-3.3 29.3L-3.7 28.8L-4 28.2L-4.3 27.5L-4.6 26.8L-4.9 26.1L-5.2 25.6L-5.5 25.2L-5.8 24.9L-6.2 24.8L-6.6 24.7L-7 24.7L-7.5 24.6L-7.9 24.5L-8.3 24.3L-8.7 23.9L-9 23.4L-9.3 22.8L-9.5 22.2L-9.7 21.4L-9.9 20.7L-10.1 20.1L-10.3 19.5L-10.6 19L-10.9 18.6L-11.3 18.3L-11.7 18.1L-12.2 17.8L-12.6 17.6L-13.1 17.3L-13.5 16.9L-13.8 16.5L-14.1 15.9L-14.3 15.3L-14.4 14.6L-14.5 13.9L-14.5 13.2L-14.6 12.6L-14.8 12L-15 11.5L-15.2 11L-15.6 10.6L-16 10.2L-16.5 9.8L-16.9 9.4L-17.4 8.9L-17.7 8.5L-18 7.9L-18.2 7.3L-18.3 6.7L-18.3 6.1L-18.2 5.5L-18.2 4.9L-18.2 4.3L-18.2 3.7L-18.3 3.2L-18.5 2.6L-18.9 2.1L-19.2 1.6L-19.7 1.1L-20.1 0.5L-20.5 0L-20.8 -0.6L-21 -1.2L-21.1 -1.7L-21 -2.3L-20.9 -2.8L-20.8 -3.3L-20.6 -3.8L-20.5 -4.3L-20.4 -4.8L-20.4 -5.3L-20.6 -5.9L-20.8 -6.5L-21.1 -7.1L-21.5 -7.7L-21.9 -8.4L-22.2 -9L-22.4 -9.6L-22.5 -10.2L-22.5 -10.7L-22.4 -11.2L-22.2 -11.6L-21.9 -11.9L-21.6 -12.3L-21.4 -12.6L-21.2 -13L-21.2 -13.5L-21.2 -14L-21.4 -14.6L-21.6 -15.3L-21.9 -16L-22.2 -16.7L-22.4 -17.4L-22.5 -18L-22.5 -18.5L-22.4 -19L-22.2 -19.3L-21.9 -19.5L-21.5 -19.7L-21.1 -19.9L-20.8 -20.1L-20.6 -20.4L-20.4 -20.7L-20.4 -21.2L-20.5 -21.8L-20.6 -22.4L-20.8 -23.1L-20.9 -23.9L-21 -24.5L-21.1 -25.1L-21 -25.6L-20.8 -25.9L-20.5 -26.1L-20.1 -26.2L-19.7 -26.2L-19.2 -26.2L-18.9 -26.2L-18.5 -26.3L-18.3 -26.5L-18.2 -26.9L-18.2 -27.4L-18.2 -28.1L-18.2 -28.7L-18.3 -29.4L-18.3 -30L-18.2 -30.5L-18 -30.9L-17.7 -31.1L-17.4 -31.1L-16.9 -31L-16.5 -30.8L-16 -30.6L-15.6 -30.5L-15.2 -30.4L-15 -30.5L-14.8 -30.8L-14.6 -31.2L-14.5 -31.8L-14.5 -32.4L-14.4 -33L-14.3 -33.5L-14.1 -33.9L-13.8 -34.1L-13.5 -34.1L-13.1 -34L-12.6 -33.7L-12.2 -33.4L-11.7 -33L-11.3 -32.7L-10.9 -32.5L-10.6 -32.5L-10.3 -32.6L-10.1 -32.9L-9.9 -33.3L-9.7 -33.8L-9.5 -34.3L-9.3 -34.7L-9 -34.9L-8.7 -35L-8.3 -34.9L-7.9 -34.6L-7.5 -34.2L-7 -33.7L-6.6 -33.1L-6.2 -32.7L-5.8 -32.4L-5.5 -32.2L-5.2 -32.2L-4.9 -32.3L-4.6 -32.6L-4.3 -32.9L-4 -33.2L-3.7 -33.5L-3.3 -33.6L-3 -33.5L-2.6 -33.2L-2.2 -32.8L-1.8 -32.3L-1.4 -31.6L-1.1 -31L-0.7 -30.5L-0.3 -30L0 -29.7z" fill="url(#fb)" stroke="#000" stroke-width="1.7" stroke-linejoin="round"/>
<path d="M-18.3 -47.1L67.4 -79.8L68.6 -80.2L69.9 -80.5L71.2 -80.7L72.6 -80.8L74 -80.8L75.4 -80.6L76.8 -80.4L78.2 -80L79.7 -79.5L81.2 -78.9L82.7 -78.2L84.2 -77.4L85.7 -76.5" fill="none" stroke="#2a2a2a" stroke-width="1.1" stroke-linejoin="round"/>
<path d="M0 -43.8L85.7 -76.5" fill="none" stroke="#000" stroke-width="2.1"/>
</g>
<g transform="translate(941.9 466.5)">
<defs>
<linearGradient id="sc" gradientUnits="userSpaceOnUse" x1="-18.3" y1="-47.1" x2="-14.9" y2="-38.1"><stop offset="0" stop-color="#454545"/><stop offset=".3" stop-color="#6c6c6c"/><stop offset="1" stop-color="#a2a2a2"/></linearGradient>
<linearGradient id="fc" gradientUnits="userSpaceOnUse" x1="-30" y1="-35" x2="-5" y2="40"><stop offset="0" stop-color="#7c7c7c"/><stop offset="1" stop-color="#a0a0a0"/></linearGradient>
<clipPath id="cc"><path d="M0 -28.6L0.9 -29.1L1.8 -29.9L2.7 -31L3.6 -32.2L4.5 -33.3L5.4 -34.4L6.2 -35.2L7.1 -35.7L8 -35.9L8.9 -35.7L9.8 -35.4L10.7 -34.9L11.6 -34.4L12.5 -34L13.4 -33.9L14.3 -34.1L15.2 -34.6L16.1 -35.4L17 -36.4L17.9 -37.6L18.7 -38.8L19.6 -39.8L20.5 -40.6L21.4 -41.2L22.3 -41.3L23.2 -41.2L24.1 -40.8L25 -40.3L25.9 -39.8L26.8 -39.5L27.7 -39.3L28.6 -39.5L29.5 -40L30.4 -40.8L31.2 -41.9L32.1 -43.1L33 -44.2L33.9 -45.3L34.8 -46.1L35.7 -46.6L36.6 -46.8L37.5 -46.6L38.4 -46.3L39.3 -45.8L40.2 -45.3L41.1 -44.9L42 -44.8L42.9 -45L43.7 -45.5L44.6 -46.3L45.5 -47.3L46.4 -48.5L47.3 -49.7L48.2 -50.7L49.1 -51.5L50 -52.1L50.9 -52.2L51.8 -52.1L52.7 -51.7L53.6 -51.2L54.5 -50.7L55.3 -50.4L56.2 -50.2L57.1 -50.4L58 -50.9L58.9 -51.7L59.8 -52.8L60.7 -54L61.6 -55.1L62.5 -56.2L63.4 -57L64.3 -57.5L65.2 -57.7L66.1 -57.5L67 -57.2L67.8 -56.7L68.7 -56.2L69.6 -55.8L70.5 -55.7L71.4 -55.9L72.3 -56.4L73.2 -57.2L74.1 -58.2L75 -59.4L75.9 -60.6L76.8 -61.6L77.7 -62.4L78.6 -63L79.5 -63.1L80.3 -63L81.2 -62.6L82.1 -62.1L83 -61.6L83.9 -61.3L84.8 -61.1L85.7 -61.3L85.7 -61.3L85 -61.9L84.3 -62.8L83.6 -63.9L82.8 -65.1L82 -66.3L81.2 -67.3L80.4 -68L79.6 -68.4L78.9 -68.4L78.3 -68L77.8 -67.4L77.3 -66.5L76.9 -65.6L76.5 -64.8L76 -64.2L75.5 -64L74.9 -64L74.1 -64.4L73.3 -65L72.4 -65.6L71.4 -66.3L70.5 -66.7L69.7 -66.8L69.1 -66.6L68.6 -66L68.4 -65.1L68.3 -63.9L68.3 -62.5L68.4 -61.2L68.4 -60L68.3 -59L68.1 -58.3L67.6 -57.8L67 -57.6L66.3 -57.5L65.4 -57.4L64.6 -57.3L63.9 -57L63.3 -56.5L63 -55.7L62.9 -54.7L63.1 -53.4L63.5 -52L64 -50.6L64.5 -49.2L64.9 -47.9L65.2 -46.7L65.3 -45.7L65.2 -44.8L64.9 -44L64.5 -43.3L64 -42.5L63.5 -41.7L63.1 -40.8L62.9 -39.8L63 -38.6L63.3 -37.4L63.9 -36.2L64.6 -35L65.4 -33.8L66.3 -32.7L67 -31.7L67.6 -30.7L68.1 -29.6L68.3 -28.6L68.4 -27.5L68.4 -26.3L68.3 -25L68.3 -23.7L68.4 -22.4L68.6 -21.1L69.1 -20L69.7 -18.9L70.5 -18.1L71.4 -17.4L72.4 -16.8L73.3 -16.3L74.1 -15.8L74.9 -15.2L75.5 -14.4L76 -13.5L76.5 -12.3L76.9 -11L77.3 -9.6L77.8 -8.2L78.3 -6.8L78.9 -5.6L79.6 -4.7L80.4 -4.1L81.2 -3.8L82 -3.8L82.8 -4L83.6 -4.2L84.3 -4.4L85 -4.4L85.7 -4.1L85.7 -4.1L84.8 -3.6L83.9 -2.8L83 -1.7L82.1 -0.5L81.2 0.6L80.3 1.7L79.5 2.5L78.6 3L77.7 3.2L76.8 3L75.9 2.7L75 2.2L74.1 1.7L73.2 1.3L72.3 1.2L71.4 1.4L70.5 1.9L69.6 2.7L68.7 3.7L67.8 4.9L67 6.1L66.1 7.1L65.2 7.9L64.3 8.5L63.4 8.6L62.5 8.5L61.6 8.1L60.7 7.6L59.8 7.1L58.9 6.8L58 6.6L57.1 6.8L56.2 7.3L55.3 8.1L54.5 9.2L53.6 10.4L52.7 11.5L51.8 12.6L50.9 13.4L50 13.9L49.1 14.1L48.2 13.9L47.3 13.6L46.4 13.1L45.5 12.6L44.6 12.2L43.7 12.1L42.9 12.3L42 12.8L41.1 13.6L40.2 14.6L39.3 15.8L38.4 17L37.5 18L36.6 18.8L35.7 19.4L34.8 19.5L33.9 19.4L33 19L32.1 18.5L31.2 18L30.4 17.7L29.5 17.5L28.6 17.7L27.7 18.2L26.8 19L25.9 20.1L25 21.3L24.1 22.4L23.2 23.5L22.3 24.3L21.4 24.8L20.5 25L19.6 24.8L18.7 24.5L17.9 24L17 23.5L16.1 23.1L15.2 23L14.3 23.2L13.4 23.7L12.5 24.5L11.6 25.5L10.7 26.7L9.8 27.9L8.9 28.9L8 29.7L7.1 30.3L6.2 30.4L5.4 30.3L4.5 29.9L3.6 29.4L2.7 28.9L1.8 28.6L0.9 28.4L0 28.6L0 28.6L-0.7 28.3L-1.4 28.3L-2.1 28.5L-2.9 28.7L-3.7 28.9L-4.5 28.9L-5.3 28.6L-6.1 28L-6.8 27.1L-7.4 25.9L-7.9 24.5L-8.4 23.1L-8.8 21.7L-9.2 20.4L-9.7 19.2L-10.2 18.3L-10.8 17.5L-11.6 16.9L-12.4 16.4L-13.3 15.9L-14.3 15.3L-15.2 14.6L-16 13.8L-16.6 12.7L-17.1 11.6L-17.3 10.3L-17.4 9L-17.4 7.7L-17.3 6.4L-17.3 5.2L-17.4 4.1L-17.6 3.1L-18.1 2L-18.7 1L-19.4 0L-20.3 -1.1L-21.1 -2.3L-21.8 -3.5L-22.4 -4.7L-22.7 -5.9L-22.8 -7.1L-22.6 -8.1L-22.2 -9L-21.7 -9.8L-21.2 -10.6L-20.8 -11.3L-20.5 -12.1L-20.4 -13L-20.5 -14L-20.8 -15.2L-21.2 -16.5L-21.7 -17.9L-22.2 -19.3L-22.6 -20.7L-22.8 -22L-22.7 -23L-22.4 -23.8L-21.8 -24.3L-21.1 -24.6L-20.3 -24.7L-19.4 -24.8L-18.7 -24.9L-18.1 -25.1L-17.6 -25.6L-17.4 -26.3L-17.3 -27.3L-17.3 -28.5L-17.4 -29.8L-17.4 -31.2L-17.3 -32.4L-17.1 -33.3L-16.6 -33.9L-16 -34.1L-15.2 -34L-14.3 -33.6L-13.3 -32.9L-12.4 -32.3L-11.6 -31.7L-10.8 -31.3L-10.2 -31.3L-9.7 -31.5L-9.2 -32.1L-8.8 -32.9L-8.4 -33.8L-7.9 -34.7L-7.4 -35.3L-6.8 -35.7L-6.1 -35.7L-5.3 -35.3L-4.5 -34.6L-3.7 -33.6L-2.9 -32.4L-2.1 -31.2L-1.4 -30.1L-0.7 -29.2L0 -28.6z"/></clipPath>
</defs>
<path d="M0 -43.8L-1.5 -44.7L-3 -45.5L-4.5 -46.2L-6 -46.8L-7.5 -47.3L-8.9 -47.7L-10.3 -47.9L-11.7 -48.1L-13.1 -48.1L-14.5 -48L-15.8 -47.8L-17.1 -47.5L-18.3 -47.1L67.4 -79.8L68.6 -80.2L69.9 -80.5L71.2 -80.7L72.6 -80.8L74 -80.8L75.4 -80.6L76.8 -80.4L78.2 -80L79.7 -79.5L81.2 -78.9L82.7 -78.2L84.2 -77.4L85.7 -76.5z" fill="url(#sc)"/>
<g clip-path="url(#cc)">
<path d="M0 -28.6L0.9 -29.1L1.8 -29.9L2.7 -31L3.6 -32.2L4.5 -33.3L5.4 -34.4L6.2 -35.2L7.1 -35.7L8 -35.9L8.9 -35.7L9.8 -35.4L10.7 -34.9L11.6 -34.4L12.5 -34L13.4 -33.9L14.3 -34.1L15.2 -34.6L16.1 -35.4L17 -36.4L17.9 -37.6L18.7 -38.8L19.6 -39.8L20.5 -40.6L21.4 -41.2L22.3 -41.3L23.2 -41.2L24.1 -40.8L25 -40.3L25.9 -39.8L26.8 -39.5L27.7 -39.3L28.6 -39.5L29.5 -40L30.4 -40.8L31.2 -41.9L32.1 -43.1L33 -44.2L33.9 -45.3L34.8 -46.1L35.7 -46.6L36.6 -46.8L37.5 -46.6L38.4 -46.3L39.3 -45.8L40.2 -45.3L41.1 -44.9L42 -44.8L42.9 -45L43.7 -45.5L44.6 -46.3L45.5 -47.3L46.4 -48.5L47.3 -49.7L48.2 -50.7L49.1 -51.5L50 -52.1L50.9 -52.2L51.8 -52.1L52.7 -51.7L53.6 -51.2L54.5 -50.7L55.3 -50.4L56.2 -50.2L57.1 -50.4L58 -50.9L58.9 -51.7L59.8 -52.8L60.7 -54L61.6 -55.1L62.5 -56.2L63.4 -57L64.3 -57.5L65.2 -57.7L66.1 -57.5L67 -57.2L67.8 -56.7L68.7 -56.2L69.6 -55.8L70.5 -55.7L71.4 -55.9L72.3 -56.4L73.2 -57.2L74.1 -58.2L75 -59.4L75.9 -60.6L76.8 -61.6L77.7 -62.4L78.6 -63L79.5 -63.1L80.3 -63L81.2 -62.6L82.1 -62.1L83 -61.6L83.9 -61.3L84.8 -61.1L85.7 -61.3L85.7 -61.3L85 -61.9L84.3 -62.8L83.6 -63.9L82.8 -65.1L82 -66.3L81.2 -67.3L80.4 -68L79.6 -68.4L78.9 -68.4L78.3 -68L77.8 -67.4L77.3 -66.5L76.9 -65.6L76.5 -64.8L76 -64.2L75.5 -64L74.9 -64L74.1 -64.4L73.3 -65L72.4 -65.6L71.4 -66.3L70.5 -66.7L69.7 -66.8L69.1 -66.6L68.6 -66L68.4 -65.1L68.3 -63.9L68.3 -62.5L68.4 -61.2L68.4 -60L68.3 -59L68.1 -58.3L67.6 -57.8L67 -57.6L66.3 -57.5L65.4 -57.4L64.6 -57.3L63.9 -57L63.3 -56.5L63 -55.7L62.9 -54.7L63.1 -53.4L63.5 -52L64 -50.6L64.5 -49.2L64.9 -47.9L65.2 -46.7L65.3 -45.7L65.2 -44.8L64.9 -44L64.5 -43.3L64 -42.5L63.5 -41.7L63.1 -40.8L62.9 -39.8L63 -38.6L63.3 -37.4L63.9 -36.2L64.6 -35L65.4 -33.8L66.3 -32.7L67 -31.7L67.6 -30.7L68.1 -29.6L68.3 -28.6L68.4 -27.5L68.4 -26.3L68.3 -25L68.3 -23.7L68.4 -22.4L68.6 -21.1L69.1 -20L69.7 -18.9L70.5 -18.1L71.4 -17.4L72.4 -16.8L73.3 -16.3L74.1 -15.8L74.9 -15.2L75.5 -14.4L76 -13.5L76.5 -12.3L76.9 -11L77.3 -9.6L77.8 -8.2L78.3 -6.8L78.9 -5.6L79.6 -4.7L80.4 -4.1L81.2 -3.8L82 -3.8L82.8 -4L83.6 -4.2L84.3 -4.4L85 -4.4L85.7 -4.1L85.7 -4.1L84.8 -3.6L83.9 -2.8L83 -1.7L82.1 -0.5L81.2 0.6L80.3 1.7L79.5 2.5L78.6 3L77.7 3.2L76.8 3L75.9 2.7L75 2.2L74.1 1.7L73.2 1.3L72.3 1.2L71.4 1.4L70.5 1.9L69.6 2.7L68.7 3.7L67.8 4.9L67 6.1L66.1 7.1L65.2 7.9L64.3 8.5L63.4 8.6L62.5 8.5L61.6 8.1L60.7 7.6L59.8 7.1L58.9 6.8L58 6.6L57.1 6.8L56.2 7.3L55.3 8.1L54.5 9.2L53.6 10.4L52.7 11.5L51.8 12.6L50.9 13.4L50 13.9L49.1 14.1L48.2 13.9L47.3 13.6L46.4 13.1L45.5 12.6L44.6 12.2L43.7 12.1L42.9 12.3L42 12.8L41.1 13.6L40.2 14.6L39.3 15.8L38.4 17L37.5 18L36.6 18.8L35.7 19.4L34.8 19.5L33.9 19.4L33 19L32.1 18.5L31.2 18L30.4 17.7L29.5 17.5L28.6 17.7L27.7 18.2L26.8 19L25.9 20.1L25 21.3L24.1 22.4L23.2 23.5L22.3 24.3L21.4 24.8L20.5 25L19.6 24.8L18.7 24.5L17.9 24L17 23.5L16.1 23.1L15.2 23L14.3 23.2L13.4 23.7L12.5 24.5L11.6 25.5L10.7 26.7L9.8 27.9L8.9 28.9L8 29.7L7.1 30.3L6.2 30.4L5.4 30.3L4.5 29.9L3.6 29.4L2.7 28.9L1.8 28.6L0.9 28.4L0 28.6L0 28.6L-0.7 28.3L-1.4 28.3L-2.1 28.5L-2.9 28.7L-3.7 28.9L-4.5 28.9L-5.3 28.6L-6.1 28L-6.8 27.1L-7.4 25.9L-7.9 24.5L-8.4 23.1L-8.8 21.7L-9.2 20.4L-9.7 19.2L-10.2 18.3L-10.8 17.5L-11.6 16.9L-12.4 16.4L-13.3 15.9L-14.3 15.3L-15.2 14.6L-16 13.8L-16.6 12.7L-17.1 11.6L-17.3 10.3L-17.4 9L-17.4 7.7L-17.3 6.4L-17.3 5.2L-17.4 4.1L-17.6 3.1L-18.1 2L-18.7 1L-19.4 0L-20.3 -1.1L-21.1 -2.3L-21.8 -3.5L-22.4 -4.7L-22.7 -5.9L-22.8 -7.1L-22.6 -8.1L-22.2 -9L-21.7 -9.8L-21.2 -10.6L-20.8 -11.3L-20.5 -12.1L-20.4 -13L-20.5 -14L-20.8 -15.2L-21.2 -16.5L-21.7 -17.9L-22.2 -19.3L-22.6 -20.7L-22.8 -22L-22.7 -23L-22.4 -23.8L-21.8 -24.3L-21.1 -24.6L-20.3 -24.7L-19.4 -24.8L-18.7 -24.9L-18.1 -25.1L-17.6 -25.6L-17.4 -26.3L-17.3 -27.3L-17.3 -28.5L-17.4 -29.8L-17.4 -31.2L-17.3 -32.4L-17.1 -33.3L-16.6 -33.9L-16 -34.1L-15.2 -34L-14.3 -33.6L-13.3 -32.9L-12.4 -32.3L-11.6 -31.7L-10.8 -31.3L-10.2 -31.3L-9.7 -31.5L-9.2 -32.1L-8.8 -32.9L-8.4 -33.8L-7.9 -34.7L-7.4 -35.3L-6.8 -35.7L-6.1 -35.7L-5.3 -35.3L-4.5 -34.6L-3.7 -33.6L-2.9 -32.4L-2.1 -31.2L-1.4 -30.1L-0.7 -29.2L0 -28.6z" fill="#b4b4b4"/>
<g transform="scale(.1)" fill="currentColor" stroke="currentColor" stroke-width="5" stroke-linejoin="round" filter="url(#bl7)">
<path color="#9d9d9d" d="m670-204l17-5 16 26-18 5z"/>
<path color="#b0b0b0" d="m663-233l20-8 4 32-17 5z"/>
<path color="#b5b5b5" d="m616-373l15-9 14 30-19 8z"/>
<path color="#8a8a8a" d="m685-178l18-5 22 16-22 9z"/>
<path color="#cacaca" d="m659-263l25-9-1 31-20 8z"/>
<path color="#828282" d="m614-400l18-9-1 27-15 9z"/>
<path color="#dcdcdc" d="m626-344l19-8 20 28-24 8z"/>
<path color="#828282" d="m645-227l18-6 7 29-12 2z"/>
<path color="#f1f1f1" d="m630-252l29-11 4 30-18 6z"/>
<path color="#fff" d="m589-270l30-10 11 28-26 10z"/>
<path color="#575757" d="m658-202l12-2 15 26-15 1z"/>
<path color="#fff" d="m619-280l34-10 6 27-29 11z"/>
<path color="#f6f6f6" d="m653-290l27-9 4 27-25 9z"/>
<path color="#f7f7f7" d="m587-299l26-9 6 28-30 10z"/>
<path color="#fbfbfb" d="m641-316l24-8 15 25-27 9z"/>
<path color="#fff" d="m613-308l28-8 12 26-34 10z"/>
<path color="#e2e2e2" d="m610-335l16-9 15 28-28 8z"/>
<path color="#9f9f9f" d="m670-177l15-1 18 20-22 8z"/>
<path color="#cecece" d="m570-262l19-8 15 28-21 7z"/>
<path color="#d9d9d9" d="m604-242l26-10 15 25-20 7z"/>
<path color="#a9a9a9" d="m703-158l22-9 21 13-24 13z"/>
<path color="#6d6d6d" d="m608-361l8-12 10 29-16 9z"/>
<path color="#b7b7b7" d="m567-291l20-8 2 29-19 8z"/>
<path color="#646464" d="m620-423l23-7-11 21-18 9z"/>
<path color="#f6f6f6" d="m681-150l22-8 19 17-28 18z"/>
<path color="#525252" d="m602-388l12-12 2 27-8 12z"/>
<path color="#adadad" d="m593-326l17-9 3 27-26 9z"/>
<path color="#fdfdfd" d="m660-141l21-9 13 27-26 16z"/>
<path color="#b5b5b5" d="m583-235l21-7 21 22-22 9z"/>
<path color="#8c8c8c" d="m625-220l20-7 13 25-14 3z"/>
<path color="#fcfcfc" d="m668-107l26-16 16 23-26 17z"/>
<path color="#fff" d="m694-123l28-18 15 21-27 20z"/>
<path color="#f2f2f2" d="m722-141l24-13 15 21-24 13z"/>
<path color="#bfbfbf" d="m654-173l16-4 11 27-21 9z"/>
<path color="#dbdbdb" d="m750-92l21-10 12 35-19 3z"/>
<path color="#fefefe" d="m737-120l24-13 10 31-21 10z"/>
<path color="#9e9e9e" d="m595-416l25-7-6 23-12 12z"/>
<path color="#828282" d="m644-199l14-3 12 25-16 4z"/>
<path color="#707070" d="m559-256l11-6 13 27-14 7z"/>
<path color="#dbdbdb" d="m638-133l22-8 8 34-20 6z"/>
<path color="#bfbfbf" d="m648-101l20-6 16 24-21 6z"/>
<path color="#8f8f8f" d="m764-64l19-3 18 24-20 0z"/>
<path color="#919191" d="m571-318l22-8-6 27-20 8z"/>
<path color="#707070" d="m551-283l16-8 3 29-11 6z"/>
<path color="#fbfbfb" d="m710-100l27-20 13 28-23 10z"/>
<path color="#c3c3c3" d="m569-228l14-7 20 24-24 9z"/>
<path color="#6e6e6e" d="m596-351l12-10 2 26-17 9z"/>
<path color="#8e8e8e" d="m625-444l27-5-9 19-23 7z"/>
<path color="#b3b3b3" d="m684-83l26-17 17 18-22 10z"/>
<path color="#c9c9c9" d="m603-211l22-9 19 21-23 9z"/>
<path color="#e2e2e2" d="m632-164l22-9 6 32-22 8z"/>
<path color="#e8e8e8" d="m590-444l35 0-5 21-25 7z"/>
<path color="#a1a1a1" d="m727-82l23-10 14 28-19-3z"/>
<path color="#bebebe" d="m544-310l27-8-4 27-16 8z"/>
<path color="#fcfcfc" d="m579-202l24-9 18 21-30 15z"/>
<path color="#848484" d="m587-377l15-11 6 27-12 10z"/>
<path color="#fff" d="m555-192l24-10 12 27-30 14z"/>
<path color="#d7d7d7" d="m571-409l24-7 7 28-15 11z"/>
<path color="#fff" d="m560-441l30-3 5 28-24 7z"/>
<path color="#fff" d="m561-161l30-14 13 25-28 14z"/>
<path color="#f0f0f0" d="m621-190l23-9 10 26-22 9z"/>
<path color="#6b6b6b" d="m663-77l21-6 21 11-21 8z"/>
<path color="#a5a5a5" d="m617-125l21-8 10 32-16-1z"/>
<path color="#505050" d="m781-43l20 0 20 5-21 5z"/>
<path color="#e7e7e7" d="m538-152l23-9 15 25-23 10z"/>
<path color="#fdfdfd" d="m604-150l28-14 6 31-21 8z"/>
<path color="#fff" d="m591-175l30-15 11 26-28 14z"/>
<path color="#e1e1e1" d="m533-184l22-8 6 31-23 9z"/>
<path color="#c5c5c5" d="m554-222l15-6 10 26-24 10z"/>
<path color="#5a5a5a" d="m632-102l16 1 15 24-16-2z"/>
<path color="#b5b5b5" d="m572-343l24-8-3 25-22 8z"/>
<path color="#ebebeb" d="m624-469l27-4 1 24-27 5z"/>
<path color="#4f4f4f" d="m745-67l19 3 17 21-19-8z"/>
<path color="#e2e2e2" d="m562-466l29-3-1 25-30 3z"/>
<path color="#dfdfdf" d="m540-432l20-9 11 32-21 8z"/>
<path color="#e1e1e1" d="m576-136l28-14 13 25-21 7z"/>
<path color="#f9f9f9" d="m591-469l33 0 1 25-35 0z"/>
<path color="#fff" d="m505-332l34-6 5 28-26 7z"/>
<path color="#f7f7f7" d="m539-338l33-5-1 25-27 8z"/>
<path color="#e1e1e1" d="m518-303l26-7 7 27-16 8z"/>
<path color="#6c6c6c" d="m549-249l10-7 10 28-15 6z"/>
<path color="#f0f0f0" d="m550-401l21-8 16 32-23 7z"/>
<path color="#5b5b5b" d="m705-72l22-10 18 15-19 0z"/>
<path color="#fefefe" d="m618-498l21-9 12 34-27 4z"/>
<path color="#7c7c7c" d="m535-275l16-8 8 27-10 7z"/>
<path color="#f0f0f0" d="m482-325l23-7 13 29-23 8z"/>
<path color="#f0f0f0" d="m564-370l23-7 9 26-24 8z"/>
<path color="#959595" d="m542-457l20-9-2 25-20 9z"/>
<path color="#f9f9f9" d="m505-359l30-6 4 27-34 6z"/>
<path color="#c7c7c7" d="m614-528l16-13 9 34-21 9z"/>
<path color="#9e9e9e" d="m553-126l23-10 20 18-21 8z"/>
<path color="#606060" d="m647-79l16 2 21 13-21 6z"/>
<path color="#fff" d="m535-365l29-5 8 27-33 5z"/>
<path color="#7a7a7a" d="m523-149l15-3 15 26-16 3z"/>
<path color="#b7b7b7" d="m533-215l21-7 1 30-22 8z"/>
<path color="#9b9b9b" d="m514-177l19-7 5 32-15 3z"/>
<path color="#c5c5c5" d="m482-352l23-7 0 27-23 7z"/>
<path color="#e2e2e2" d="m597-490l21-8 6 29-33 0z"/>
<path color="#505050" d="m762-51l19 8 19 10-21 1z"/>
<path color="#7c7c7c" d="m596-118l21-7 15 23-16-1z"/>
<path color="#f4f4f4" d="m532-391l18-10 14 31-29 5z"/>
<path color="#d5d5d5" d="m495-295l23-8 17 28-20 8z"/>
<path color="#8a8a8a" d="m531-417l9-15 10 31-18 10z"/>
<path color="#575757" d="m684-64l21-8 21 5-22 10z"/>
<path color="#4d4d4d" d="m800-33l21-5 19-5-22 13z"/>
<path color="#7b7b7b" d="m576-482l21-8-6 21-29 3z"/>
<path color="#6b6b6b" d="m618-551l15-14-3 24-16 13z"/>
<path color="#dbdbdb" d="m507-205l26-10 0 31-19 7z"/>
<path color="#969696" d="m470-314l12-11 13 30-17 9z"/>
<path color="#b5b5b5" d="m513-381l19-10 3 26-30 6z"/>
<path color="#8b8b8b" d="m537-123l16-3 22 16-22 9z"/>
<path color="#535353" d="m726-67l19 0 17 16-19-4z"/>
<path color="#c4c4c4" d="m529-241l20-8 5 27-21 7z"/>
<path color="#767676" d="m604-509l10-19 4 30-21 8z"/>
<path color="#575757" d="m616-103l16 1 15 23-16-3z"/>
<path color="#d1d1d1" d="m515-267l20-8 14 26-20 8z"/>
<path color="#e2e2e2" d="m478-286l17-9 20 28-26 8z"/>
<path color="#a9a9a9" d="m663-58l21-6 20 7-24 18z"/>
<path color="#4f4f4f" d="m531-442l11-15-2 25-9 15z"/>
<path color="#666" d="m467-341l15-11 0 27-12 11z"/>
<path color="#fcfcfc" d="m439-213l27-9 12 28-25 9z"/>
<path color="#4f4f4f" d="m554-473l22-9-14 16-20 9z"/>
<path color="#fff" d="m466-222l33-10 8 27-29 11z"/>
<path color="#919191" d="m779-32l21-1 18 3-22 19z"/>
<path color="#828282" d="m575-110l21-8 20 15-20 7z"/>
<path color="#f0f0f0" d="m478-194l29-11 7 28-19 7z"/>
<path color="#989898" d="m631-82l16 3 16 21-20 6z"/>
<path color="#fdfdfd" d="m499-232l30-9 4 26-26 10z"/>
<path color="#fff" d="m461-250l28-9 10 27-33 10z"/>
<path color="#6a6a6a" d="m493-373l20-8-8 22-23 7z"/>
<path color="#eaeaea" d="m437-242l24-8 5 28-27 9z"/>
<path color="#fff" d="m489-259l26-8 14 26-30 9z"/>
<path color="#8f8f8f" d="m743-55l19 4 17 19-21 4z"/>
<path color="#7f7f7f" d="m495-170l19-7 9 28-12 2z"/>
<path color="#f8f8f8" d="m643-52l20-6 17 19-24 19z"/>
<path color="#595959" d="m511-147l12-2 14 26-14 1z"/>
<path color="#d6d6d6" d="m462-277l16-9 11 27-28 9z"/>
<path color="#575757" d="m521-402l10-15 1 26-19 10z"/>
<path color="#a2a2a2" d="m704-57l22-10 17 12-22 11z"/>
<path color="#4c4c4c" d="m609-529l9-22-4 23-10 19z"/>
<path color="#4c4c4c" d="m630-564l20-10-17 9-15 14z"/>
<path color="#c5c5c5" d="m553-101l22-9 21 14-26 15z"/>
<path color="#c9c9c9" d="m453-185l25-9 17 24-20 8z"/>
<path color="#e8e8e8" d="m758-28l21-4 17 21-22 15z"/>
<path color="#ababab" d="m523-122l14-1 16 22-22 9z"/>
<path color="#a8a8a8" d="m423-205l16-8 14 28-18 7z"/>
<path color="#4d4d4d" d="m590-493l14-16-7 19-21 8z"/>
<path color="#777" d="m818-30l22-13 17 2-21 17z"/>
<path color="#f8f8f8" d="m656-20l24-19 17 18-24 23z"/>
<path color="#e2e2e2" d="m680-39l24-18 17 13-24 23z"/>
<path color="#fefefe" d="m531-92l22-9 17 20-28 19z"/>
<path color="#f4f4f4" d="m621-44l22-8 13 32-22 10z"/>
<path color="#565656" d="m532-465l22-8-12 16-11 15z"/>
<path color="#989898" d="m418-234l19-8 2 29-16 8z"/>
<path color="#707070" d="m469-366l24-7-11 21-15 11z"/>
<path color="#b9b9b9" d="m596-96l20-7 15 21-20 7z"/>
<path color="#646464" d="m462-303l8-11 8 28-16 9z"/>
<path color="#c0c0c0" d="m796-11l22-19 18 6-22 28z"/>
<path color="#dadada" d="m634-10l22-10 17 22-22 11z"/>
<path color="#e2e2e2" d="m611-75l20-7 12 30-22 8z"/>
<path color="#efefef" d="m721-44l22-11 15 27-21 9z"/>
<path color="#f9f9f9" d="m510-84l21-8 11 30-24 13z"/>
<path color="#9b9b9b" d="m444-269l18-8-1 27-24 8z"/>
<path color="#e9e9e9" d="m774 4l22-15 18 15-21 22z"/>
<path color="#f6f6f6" d="m518-49l24-13 16 23-24 14z"/>
<path color="#fff" d="m542-62l28-19 15 22-27 20z"/>
<path color="#ebebeb" d="m737-19l21-9 16 32-21 7z"/>
<path color="#b5b5b5" d="m435-178l18-7 22 23-22 8z"/>
<path color="#545454" d="m520-426l11-16 0 25-10 15z"/>
<path color="#fbfbfb" d="m570-81l26-15 15 21-26 16z"/>
<path color="#585858" d="m455-330l12-11 3 27-8 11z"/>
<path color="#fafafa" d="m697-21l24-23 16 25-23 14z"/>
<path color="#4e4e4e" d="m567-487l23-6-14 11-22 9z"/>
<path color="#9c9c9c" d="m475-162l20-8 16 23-17 5z"/>
<path color="#5e5e5e" d="m502-392l19-10-8 21-20 8z"/>
<path color="#4f4f4f" d="m611-553l19-11-12 13-9 22z"/>
<path color="#fff" d="m585-59l26-16 10 31-22 9z"/>
<path color="#ccc" d="m599-35l22-9 13 34-19 0z"/>
<path color="#c8c8c8" d="m505-117l18-5 8 30-21 8z"/>
<path color="#b8b8b8" d="m673 2l24-23 17 16-22 14z"/>
<path color="#afafaf" d="m753 11l21-7 19 22-22 5z"/>
<path color="#b7b7b7" d="m444-359l25-7-2 25-12 11z"/>
<path color="#ebebeb" d="m558-39l27-20 14 24-22 11z"/>
<path color="#505050" d="m596-512l13-17-5 20-14 16z"/>
<path color="#c7c7c7" d="m488-76l22-8 8 35-19 3z"/>
<path color="#999" d="m419-261l25-8-7 27-19 8z"/>
<path color="#9e9e9e" d="m511-457l21-8-1 23-11 16z"/>
<path color="#949494" d="m499-46l19-3 16 24-19 3z"/>
<path color="#a7a7a7" d="m494-142l17-5 12 25-18 5z"/>
<path color="#6e6e6e" d="m615-10l19 0 17 23-19-4z"/>
<path color="#8f8f8f" d="m536-488l31 1-13 14-22 8z"/>
<path color="#6a6a6a" d="m651 13l22-11 19 7-21 10z"/>
<path color="#c0c0c0" d="m714-5l23-14 16 30-21-1z"/>
<path color="#636363" d="m413-199l10-6 12 27-14 6z"/>
<path color="#acacac" d="m471-390l31-2-9 19-24 7z"/>
<path color="#4c4c4c" d="m644-573l26-2-20 1-20 10z"/>
<path color="#979797" d="m534-25l24-14 19 15-22 9z"/>
<path color="#cacaca" d="m421-172l14-6 18 24-25 10z"/>
<path color="#e1e1e1" d="m453-154l22-8 19 20-25 11z"/>
<path color="#6a6a6a" d="m403-226l15-8 5 29-10 6z"/>
<path color="#808080" d="m446-293l16-10 0 26-18 8z"/>
<path color="#f9f9f9" d="m436-389l35-1-2 24-25 7z"/>
<path color="#f0f0f0" d="m480-105l25-12 5 33-22 8z"/>
<path color="#fff" d="m428-144l25-10 16 23-31 15z"/>
<path color="#fefefe" d="m409-103l29-13 13 26-27 13z"/>
<path color="#f2f2f2" d="m504-490l32 2-4 23-21 8z"/>
<path color="#fcfcfc" d="m404-135l24-9 10 28-29 13z"/>
<path color="#b1b1b1" d="m500-417l20-9 1 24-19 10z"/>
<path color="#fff" d="m409-385l27-4 8 30-23 7z"/>
<path color="#fff" d="m438-116l31-15 11 26-29 15z"/>
<path color="#868686" d="m577-24l22-11 16 25-19-4z"/>
<path color="#d1d1d1" d="m392-253l27-8-1 27-15 8z"/>
<path color="#8d8d8d" d="m592-542l19-11-2 24-13 17z"/>
<path color="#fff" d="m469-131l25-11 11 25-25 12z"/>
<path color="#dfdfdf" d="m421-352l23-7 11 29-17 10z"/>
<path color="#7b7b7b" d="m614-576l30 3-14 9-19 11z"/>
<path color="#939393" d="m573-506l23-6-6 19-23 6z"/>
<path color="#fcfcfc" d="m451-90l29-15 8 29-20 8z"/>
<path color="#595959" d="m732 10l21 1 18 20-21-9z"/>
<path color="#a9a9a9" d="m438-320l17-10 7 27-16 10z"/>
<path color="#e6e6e6" d="m489-449l22-8 9 31-20 9z"/>
<path color="#c6c6c6" d="m389-96l20-7 15 26-20 7z"/>
<path color="#5f5f5f" d="m515-22l19-3 21 10-21 7z"/>
<path color="#606060" d="m692 9l22-14 18 15-21-2z"/>
<path color="#4c4c4c" d="m632 9l19 4 20 6-21 3z"/>
<path color="#f1f1f1" d="m481-483l23-7 7 33-22 8z"/>
<path color="#f4f4f4" d="m438-414l33 0 0 24-35 1z"/>
<path color="#c9c9c9" d="m384-127l20-8 5 32-20 7z"/>
<path color="#969696" d="m468-68l20-8 11 30-15-2z"/>
<path color="#f5f5f5" d="m471-414l29-3 2 25-31 2z"/>
<path color="#d0d0d0" d="m419-287l27-6-2 24-25 8z"/>
<path color="#d2d2d2" d="m411-410l27-4-2 25-27 4z"/>
<path color="#bdbdbd" d="m405-166l16-6 7 28-24 9z"/>
<path color="#fff" d="m353-276l31-6 8 29-25 7z"/>
<path color="#fefefe" d="m384-282l35-5 0 26-27 8z"/>
<path color="#c8c8c8" d="m540-509l33 3-6 19-31-1z"/>
<path color="#c9c9c9" d="m424-77l27-13 17 22-21 7z"/>
<path color="#d4d4d4" d="m508-513l32 4-4 21-32-2z"/>
<path color="#c1c1c1" d="m394-373l15-12 12 33-20 9z"/>
<path color="#d8d8d8" d="m587-576l27 0-3 23-19 11z"/>
<path color="#dedede" d="m367-246l25-7 11 27-17 8z"/>
<path color="#4f4f4f" d="m484-48l15 2 16 24-16-4z"/>
<path color="#4c4c4c" d="m596-14l19 4 17 19-19-8z"/>
<path color="#f6f6f6" d="m401-343l20-9 17 32-26 7z"/>
<path color="#fdfdfd" d="m468-441l21-8 11 32-29 3z"/>
<path color="#efefef" d="m354-303l27-6 3 27-31 6z"/>
<path color="#e4e4e4" d="m570-535l22-7 4 30-23 6z"/>
<path color="#6a6a6a" d="m655-585l27-1-12 11-26 2z"/>
<path color="#fff" d="m412-313l26-7 8 27-27 6z"/>
<path color="#515151" d="m555-15l22-9 19 10-20 3z"/>
<path color="#fff" d="m381-309l31-4 7 26-35 5z"/>
<path color="#ababab" d="m484-507l24-6-4 23-23 7z"/>
<path color="#d7d7d7" d="m334-267l19-9 14 30-21 9z"/>
<path color="#4c4c4c" d="m671 19l21-10 19-1-21 7z"/>
<path color="#828282" d="m401-192l12-7 8 27-16 6z"/>
<path color="#919191" d="m404-70l20-7 23 16-22 9z"/>
<path color="#929292" d="m386-218l17-8 10 27-12 7z"/>
<path color="#727272" d="m395-398l16-12-2 25-15 12z"/>
<path color="#aeaeae" d="m467-467l14-16 8 34-21 8z"/>
<path color="#c3c3c3" d="m447-433l21-8 3 27-33 0z"/>
<path color="#bdbdbd" d="m382-157l23-9-1 31-20 8z"/>
<path color="#a1a1a1" d="m622-595l33 10-11 12-30-3z"/>
<path color="#a5a5a5" d="m334-294l20-9-1 27-19 9z"/>
<path color="#eaeaea" d="m383-333l18-10 11 30-31 4z"/>
<path color="#e1e1e1" d="m546-529l24-6 3 29-33-3z"/>
<path color="#d3d3d3" d="m567-566l20-10 5 34-22 7z"/>
<path color="#6e6e6e" d="m499-26l16 4 19 14-20 6z"/>
<path color="#4c4c4c" d="m711 8l21 2 18 12-22-10z"/>
<path color="#8c8c8c" d="m365-120l19-7 5 31-12 2z"/>
<path color="#d6d6d6" d="m346-237l21-9 19 28-22 8z"/>
<path color="#626262" d="m377-94l12-2 15 26-15 2z"/>
<path color="#767676" d="m447-61l21-7 16 20-17 1z"/>
<path color="#5b5b5b" d="m613 1l19 8 18 13-21 2z"/>
<path color="#b9b9b9" d="m592-599l30 4-8 19-27 0z"/>
<path color="#696969" d="m534-8l21-7 21 4-22 14z"/>
<path color="#636363" d="m426-424l21-9-9 19-27 4z"/>
<path color="#555" d="m650 22l21-3 19-4-22 15z"/>
<path color="#848484" d="m522-524l24-5-6 20-32-4z"/>
<path color="#747474" d="m385-357l9-16 7 30-18 10z"/>
<path color="#e9e9e9" d="m354-147l28-10 2 30-19 7z"/>
<path color="#575757" d="m472-489l12-18-3 24-14 16z"/>
<path color="#949494" d="m364-324l19-9-2 24-27 6z"/>
<path color="#c2c2c2" d="m660-606l24-5-2 25-27 1z"/>
<path color="#939393" d="m389-68l15-2 21 18-22 9z"/>
<path color="#fff" d="m313-164l32-10 9 27-28 11z"/>
<path color="#e3e3e3" d="m377-184l24-8 4 26-23 9z"/>
<path color="#ececec" d="m364-210l22-8 15 26-24 8z"/>
<path color="#7e7e7e" d="m324-256l10-11 12 30-16 8z"/>
<path color="#656565" d="m576-11l20-3 17 15-19 1z"/>
<path color="#cecece" d="m514-2l20-6 20 11-25 19z"/>
<path color="#909090" d="m553-547l14-19 3 31-24 6z"/>
<path color="#e6e6e6" d="m330-229l16-8 18 27-27 9z"/>
<path color="#7f7f7f" d="m572-588l20-11-5 23-20 10z"/>
<path color="#5f5f5f" d="m457-448l10-19 1 26-21 8z"/>
<path color="#505050" d="m500-516l22-8-14 11-24 6z"/>
<path color="#fdfdfd" d="m310-193l27-8 8 27-32 10z"/>
<path color="#ececec" d="m289-155l24-9 13 28-22 8z"/>
<path color="#fff" d="m345-174l32-10 5 27-28 10z"/>
<path color="#6d6d6d" d="m467-47l17-1 15 22-17 0z"/>
<path color="#fff" d="m337-201l27-9 13 26-32 10z"/>
<path color="#b9b9b9" d="m629 24l21-2 18 8-22 19z"/>
<path color="#4c4c4c" d="m404-416l22-8-15 14-16 12z"/>
<path color="#e8e8e8" d="m326-136l28-11 11 27-19 7z"/>
<path color="#a1a1a1" d="m634-606l26 0-5 21-33-10z"/>
<path color="#929292" d="m425-52l22-9 20 14-22 10z"/>
<path color="#545454" d="m690 15l21-7 17 4-21 5z"/>
<path color="#d4d4d4" d="m287-185l23-8 3 29-24 9z"/>
<path color="#4c4c4c" d="m385-382l10-16-1 25-9 16z"/>
<path color="#565656" d="m320-283l14-11 0 27-10 11z"/>
<path color="#626262" d="m342-316l22-8-10 21-20 9z"/>
<path color="#b0b0b0" d="m482-26l17 0 15 24-21 7z"/>
<path color="#fafafa" d="m493 5l21-7 15 24-24 17z"/>
<path color="#b2b2b2" d="m594 2l19-1 16 23-21 5z"/>
<path color="#b2b2b2" d="m664-631l19-13 1 33-24 5z"/>
<path color="#5d5d5d" d="m609-603l25-3-12 11-30-4z"/>
<path color="#bfbfbf" d="m554 3l22-14 18 13-23 15z"/>
<path color="#e2e2e2" d="m403-43l22-9 20 15-27 17z"/>
<path color="#c2c2c2" d="m314-220l16-9 7 28-27 8z"/>
<path color="#828282" d="m346-113l19-7 12 26-13 3z"/>
<path color="#f6f6f6" d="m505 39l24-17 17 20-24 20z"/>
<path color="#eee" d="m529 22l25-19 17 14-25 25z"/>
<path color="#bcbcbc" d="m304-128l22-8 20 23-21 8z"/>
<path color="#efefef" d="m608 29l21-5 17 25-22 13z"/>
<path color="#909090" d="m668 30l22-15 17 2-21 23z"/>
<path color="#515151" d="m539-529l14-18-7 18-24 5z"/>
<path color="#4c4c4c" d="m481-506l19-10-16 9-12 18z"/>
<path color="#fff" d="m381-35l22-8 15 23-28 17z"/>
<path color="#515151" d="m373-343l12-14-2 24-19 9z"/>
<path color="#4f4f4f" d="m562-564l10-24-5 22-14 19z"/>
<path color="#b6b6b6" d="m375-66l14-2 14 25-22 8z"/>
<path color="#4c4c4c" d="m462-468l10-21-5 22-10 19z"/>
<path color="#4c4c4c" d="m441-435l16-13-10 15-21 9z"/>
<path color="#676767" d="m364-91l13-3 12 26-14 2z"/>
<path color="#d4d4d4" d="m646 49l22-19 18 10-22 27z"/>
<path color="#878787" d="m276-149l13-6 15 27-16 7z"/>
<path color="#e9e9e9" d="m471 13l22-8 12 34-21 6z"/>
<path color="#fff" d="m390-3l28-17 15 22-27 19z"/>
<path color="#dcdcdc" d="m445-37l22-10 15 21-22 10z"/>
<path color="#848484" d="m318-309l24-7-8 22-14 11z"/>
<path color="#676767" d="m382-408l22-8-9 18-10 16z"/>
<path color="#b8b8b8" d="m484 45l21-6 17 23-21 6z"/>
<path color="#7f7f7f" d="m270-177l17-8 2 30-13 6z"/>
<path color="#fdfdfd" d="m571 17l23-15 14 27-22 11z"/>
<path color="#f4f4f4" d="m460-16l22-10 11 31-22 8z"/>
<path color="#4c4c4c" d="m588-594l21-9-17 4-20 11z"/>
<path color="#e3e3e3" d="m624 62l22-13 18 18-21 18z"/>
<path color="#ececec" d="m360-26l21-9 9 32-22 10z"/>
<path color="#e0e0e0" d="m368 7l22-10 16 24-22 10z"/>
<path color="#fff" d="m418-20l27-17 15 21-27 18z"/>
<path color="#696969" d="m648-613l16-18-4 25-26 0z"/>
<path color="#929292" d="m293-212l21-8-4 27-23 8z"/>
<path color="#656565" d="m315-245l9-11 6 27-16 9z"/>
<path color="#e4e4e4" d="m586 40l22-11 16 33-21 4z"/>
<path color="#ececec" d="m546 42l25-25 15 23-22 15z"/>
<path color="#bababa" d="m288-121l16-7 21 23-23 9z"/>
<path color="#606060" d="m673-648l17-18-7 22-19 13z"/>
<path color="#fff" d="m433 2l27-18 11 29-22 10z"/>
<path color="#575757" d="m414-432l27-3-15 11-22 8z"/>
<path color="#9b9b9b" d="m522 62l24-20 18 13-22 13z"/>
<path color="#676767" d="m371-368l14-14 0 25-12 14z"/>
<path color="#737373" d="m350-336l23-7-9 19-22 8z"/>
<path color="#b1b1b1" d="m325-105l21-8 18 22-20 7z"/>
<path color="#d2d2d2" d="m406 21l27-19 16 21-22 11z"/>
<path color="#696969" d="m307-272l13-11 4 27-9 11z"/>
<path color="#d4d4d4" d="m354-59l21-7 6 31-21 9z"/>
<path color="#5a5a5a" d="m462-494l19-12-9 17-10 21z"/>
<path color="#b9b9b9" d="m449 23l22-10 13 32-18-2z"/>
<path color="#8b8b8b" d="m603 66l21-4 19 23-22-1z"/>
<path color="#4c4c4c" d="m631-597l17-16-14 7-25 3z"/>
<path color="#4c4c4c" d="m551-540l11-24-9 17-14 18z"/>
<path color="#cacaca" d="m293-303l25-6 2 26-13 11z"/>
<path color="#a9a9a9" d="m268-204l25-8-6 27-17 8z"/>
<path color="#b6b6b6" d="m382-435l32 3-10 16-22 8z"/>
<path color="#cdcdcd" d="m316-335l34-1-8 20-24 7z"/>
<path color="#b6b6b6" d="m339-19l21-7 8 33-17 1z"/>
<path color="#5d5d5d" d="m447-454l15-14-5 20-16 13z"/>
<path color="#b9b9b9" d="m361-400l21-8 3 26-14 14z"/>
<path color="#d2d2d2" d="m344-84l20-7 11 25-21 7z"/>
<path color="#595959" d="m501 68l21-6 20 6-21 7z"/>
<path color="#7f7f7f" d="m384 31l22-10 21 13-22 8z"/>
<path color="#a0a0a0" d="m564 55l22-15 17 26-21-3z"/>
<path color="#505050" d="m492-519l27 0-19 3-19 10z"/>
<path color="#f3f3f3" d="m302-96l23-9 19 21-28 13z"/>
<path color="#717171" d="m351 8l17-1 16 24-17 0z"/>
<path color="#fff" d="m283-334l33-1 2 26-25 6z"/>
<path color="#fff" d="m277-86l25-10 14 25-31 14z"/>
<path color="#585858" d="m466 43l18 2 17 23-18-7z"/>
<path color="#fafafa" d="m259-45l26-12 14 26-25 11z"/>
<path color="#cbcbcb" d="m273-116l15-5 14 25-25 10z"/>
<path color="#fff" d="m285-57l31-14 12 25-29 15z"/>
<path color="#f9f9f9" d="m328-46l26-13 6 33-21 7z"/>
<path color="#4c4c4c" d="m662-620l11-28-9 17-16 18z"/>
<path color="#f3f3f3" d="m254-77l23-9 8 29-26 12z"/>
<path color="#fdfdfd" d="m352-434l30-1 0 27-21 8z"/>
<path color="#999" d="m296-236l19-9-1 25-21 8z"/>
<path color="#626262" d="m267-142l9-7 12 28-15 5z"/>
<path color="#fff" d="m316-71l28-13 10 25-26 13z"/>
<path color="#f4f4f4" d="m260-327l23-7 10 31-22 8z"/>
<path color="#d5d5d5" d="m348-361l23-7 2 25-23 7z"/>
<path color="#6e6e6e" d="m255-169l15-8 6 28-9 7z"/>
<path color="#dedede" d="m240-196l28-8 2 27-15 8z"/>
<path color="#f3f3f3" d="m299-31l29-15 11 27-21 8z"/>
<path color="#a2a2a2" d="m462-522l30 3-11 13-19 12z"/>
<path color="#6d6d6d" d="m427 34l22-11 17 20-19-2z"/>
<path color="#adadad" d="m420-452l27-2-6 19-27 3z"/>
<path color="#ececec" d="m285-359l32-1-1 25-33 1z"/>
<path color="#aeaeae" d="m442-485l20-9 0 26-15 14z"/>
<path color="#e7e7e7" d="m271-295l22-8 14 31-20 9z"/>
<path color="#f9f9f9" d="m317-360l31-1 2 25-34 1z"/>
<path color="#535353" d="m531-529l20-11-12 11-20 10z"/>
<path color="#f5f5f5" d="m339-392l22-8 10 32-23 7z"/>
<path color="#fff" d="m230-225l35-5 3 26-28 8z"/>
<path color="#e8e8e8" d="m265-230l31-6-3 24-25 8z"/>
<path color="#515151" d="m542 68l22-13 18 8-21 1z"/>
<path color="#d3d3d3" d="m287-263l20-9 8 27-19 9z"/>
<path color="#cecece" d="m386-457l34 5-6 20-32-3z"/>
<path color="#fefefe" d="m203-219l27-6 10 29-24 7z"/>
<path color="#9d9d9d" d="m242-40l17-5 15 25-18 5z"/>
<path color="#525252" d="m554-564l17-15-9 15-11 24z"/>
<path color="#dfdfdf" d="m332-424l20-10 9 34-22 8z"/>
<path color="#5b5b5b" d="m367 31l17 0 21 11-20 7z"/>
<path color="#b8b8b8" d="m262-352l23-7-2 25-23 7z"/>
<path color="#4f4f4f" d="m582 63l21 3 18 18-21-12z"/>
<path color="#d1d1d1" d="m356-458l30 1-4 22-30 1z"/>
<path color="#b0b0b0" d="m234-70l20-7 5 32-17 5z"/>
<path color="#b1b1b1" d="m274-20l25-11 19 20-21 8z"/>
<path color="#4d4d4d" d="m483 61l18 7 20 7-21 2z"/>
<path color="#b7b7b7" d="m255-108l18-8 4 30-23 9z"/>
<path color="#888" d="m318-11l21-8 12 27-15-2z"/>
<path color="#fefefe" d="m229-252l30-5 6 27-35 5z"/>
<path color="#4c4c4c" d="m582-592l27 1-21-3-17 15z"/>
<path color="#dfdfdf" d="m203-246l26-6 1 27-27 6z"/>
<path color="#dfdfdf" d="m436-519l26-3 0 28-20 9z"/>
<path color="#f6f6f6" d="m318-384l21-8 9 31-31 1z"/>
<path color="#fff" d="m259-257l28-6 9 27-31 6z"/>
<path color="#d9d9d9" d="m216-189l24-7 15 27-18 8z"/>
<path color="#f7f7f7" d="m252-285l19-10 16 32-28 6z"/>
<path color="#a5a5a5" d="m248-313l12-14 11 32-19 10z"/>
<path color="#7d7d7d" d="m501-534l30 5-12 10-27 0z"/>
<path color="#f2f2f2" d="m419-478l23-7 5 31-27 2z"/>
<path color="#8a8a8a" d="m336-448l20-10-4 24-20 10z"/>
<path color="#4f4f4f" d="m405 42l22-8 20 7-21 6z"/>
<path color="#4c4c4c" d="m521 75l21-7 19-4-21 10z"/>
<path color="#b5b5b5" d="m187-209l16-10 13 30-18 9z"/>
<path color="#4d4d4d" d="m447 41l19 2 17 18-19-7z"/>
<path color="#4e4e4e" d="m336 6l15 2 16 23-16-4z"/>
<path color="#9c9c9c" d="m297-375l21-9-1 24-32 1z"/>
<path color="#afafaf" d="m468-543l33 9-9 15-30-3z"/>
<path color="#8a8a8a" d="m256-15l18-5 23 17-22 8z"/>
<path color="#9b9b9b" d="m533-554l21-10-3 24-20 11z"/>
<path color="#cacaca" d="m231-99l24-9-1 31-20 7z"/>
<path color="#929292" d="m321-406l11-18 7 32-21 8z"/>
<path color="#c6c6c6" d="m395-473l24-5 1 26-34-5z"/>
<path color="#a0a0a0" d="m251-135l16-7 6 26-18 8z"/>
<path color="#d4d4d4" d="m234-276l18-9 7 28-30 5z"/>
<path color="#afafaf" d="m237-161l18-8 12 27-16 7z"/>
<path color="#5a5a5a" d="m248-338l14-14-2 25-12 14z"/>
<path color="#4c4c4c" d="m625-592l22-5-16 0-22 6z"/>
<path color="#8b8b8b" d="m556-592l26 0-11 13-17 15z"/>
<path color="#828282" d="m186-236l17-10 0 27-16 10z"/>
<path color="#c3c3c3" d="m419-506l17-13 6 34-23 7z"/>
<path color="#dcdcdc" d="m198-180l18-9 21 28-25 9z"/>
<path color="#b0b0b0" d="m441-543l27 0-6 21-26 3z"/>
<path color="#818181" d="m351 27l16 4 18 18-21 6z"/>
<path color="#4c4c4c" d="m561 64l21-1 18 9-22-5z"/>
<path color="#868686" d="m385 49l20-7 21 5-23 17z"/>
<path color="#555" d="m276-367l21-8-12 16-23 7z"/>
<path color="#696969" d="m372-467l23-6-9 16-30-1z"/>
<path color="#787878" d="m297-3l21-8 18 17-18 4z"/>
<path color="#6c6c6c" d="m500 77l21-2 19-1-22 17z"/>
<path color="#828282" d="m216-63l18-7 8 30-12 1z"/>
<path color="#4f4f4f" d="m656-614l17-17-11 11-15 23z"/>
<path color="#717171" d="m464 54l19 7 17 16-20 2z"/>
<path color="#f1f1f1" d="m202-89l29-10 3 29-18 7z"/>
<path color="#fff" d="m161-106l30-10 11 27-27 10z"/>
<path color="#575757" d="m230-39l12-1 14 25-14 2z"/>
<path color="#7b7b7b" d="m214-267l20-9-5 24-26 6z"/>
<path color="#c2c2c2" d="m509-552l24-2-2 25-30-5z"/>
<path color="#fff" d="m191-116l33-10 7 27-29 10z"/>
<path color="#5c5c5c" d="m594-602l31 10-16 1-27-1z"/>
<path color="#f6f6f6" d="m224-126l27-9 4 27-24 9z"/>
<path color="#f7f7f7" d="m159-136l26-8 6 28-30 10z"/>
<path color="#fbfbfb" d="m212-152l25-9 14 26-27 9z"/>
<path color="#636363" d="m239-297l9-16 4 28-18 9z"/>
<path color="#4e4e4e" d="m326-428l10-20-4 24-11 18z"/>
<path color="#e9e9e9" d="m364 55l21-6 18 15-25 19z"/>
<path color="#bebebe" d="m533-586l23-6-2 28-21 10z"/>
<path color="#fff" d="m185-144l27-8 12 26-33 10z"/>
<path color="#e2e2e2" d="m182-171l16-9 14 28-27 8z"/>
<path color="#9f9f9f" d="m242-13l14-2 19 20-22 9z"/>
<path color="#4c4c4c" d="m685-644l24-2-20-6-16 21z"/>
<path color="#828282" d="m426 47l21-6 17 13-21 6z"/>
<path color="#717171" d="m406-486l13-20 0 28-24 5z"/>
<path color="#656565" d="m425-526l16-17-5 24-17 13z"/>
<path color="#4c4c4c" d="m351-458l21-9-16 9-20 10z"/>
<path color="#cecece" d="m141-99l20-7 14 27-20 8z"/>
<path color="#868686" d="m483-551l26-1-8 18-33-9z"/>
<path color="#525252" d="m310-388l11-18-3 22-21 9z"/>
<path color="#d9d9d9" d="m175-79l27-10 14 26-19 7z"/>
<path color="#d6d6d6" d="m480 79l20-2 18 14-22 18z"/>
<path color="#a9a9a9" d="m275 5l22-8 21 13-25 13z"/>
<path color="#6d6d6d" d="m179-198l8-11 11 29-16 9z"/>
<path color="#4e4e4e" d="m254-359l22-8-14 15-14 14z"/>
<path color="#626262" d="m540 74l21-10 17 3-21 11z"/>
<path color="#b7b7b7" d="m138-128l21-8 2 30-20 7z"/>
<path color="#959595" d="m564-612l30 10-12 10-26 0z"/>
<path color="#767676" d="m634-608l22-6-9 17-22 5z"/>
<path color="#909090" d="m318 10l18-4 15 21-18 3z"/>
<path color="#646464" d="m191-259l23-8-11 21-17 10z"/>
<path color="#fafafa" d="m343 62l21-7 14 28-23 14z"/>
<path color="#c8c8c8" d="m333 30l18-3 13 28-21 7z"/>
<path color="#f6f6f6" d="m253 14l22-9 18 18-27 18z"/>
<path color="#4c4c4c" d="m726-641l25 1-20-11-22 5z"/>
<path color="#f5f5f5" d="m378 83l25-19 17 16-25 24z"/>
<path color="#d3d3d3" d="m403 64l23-17 17 13-23 20z"/>
<path color="#4d4d4d" d="m238-322l10-16 0 25-9 16z"/>
<path color="#545454" d="m459-546l24-5-15 8-27 0z"/>
<path color="#9e9e9e" d="m516-570l17-16 0 32-24 2z"/>
<path color="#525252" d="m174-224l12-12 1 27-8 11z"/>
<path color="#d6d6d6" d="m443 60l21-6 16 25-22 7z"/>
<path color="#efefef" d="m355 97l23-14 17 21-23 16z"/>
<path color="#aaa" d="m518 91l22-17 17 4-21 26z"/>
<path color="#adadad" d="m165-163l17-8 3 27-26 8z"/>
<path color="#6f6f6f" d="m661-641l24-3-12 13-17 17z"/>
<path color="#fdfdfd" d="m231 23l22-9 13 27-27 15z"/>
<path color="#b5b5b5" d="m155-71l20-8 22 23-22 8z"/>
<path color="#efefef" d="m458 86l22-7 16 30-22 10z"/>
<path color="#e2e2e2" d="m496 109l22-18 18 13-22 25z"/>
<path color="#4c4c4c" d="m391-470l15-16-11 13-23 6z"/>
<path color="#8c8c8c" d="m197-56l19-7 14 24-15 4z"/>
<path color="#fcfcfc" d="m239 56l27-15 15 23-26 16z"/>
<path color="#888" d="m541-607l23-5-8 20-23 6z"/>
<path color="#858585" d="m607-611l27 3-9 16-31-10z"/>
<path color="#4c4c4c" d="m332-447l19-11-15 10-10 20z"/>
<path color="#535353" d="m224-285l15-12-5 21-20 9z"/>
<path color="#4c4c4c" d="m291-379l19-9-13 13-21 8z"/>
<path color="#fff" d="m266 41l27-18 15 21-27 20z"/>
<path color="#f2f2f2" d="m293 23l25-13 15 20-25 14z"/>
<path color="#bfbfbf" d="m226-10l16-3 11 27-22 9z"/>
<path color="#dbdbdb" d="m321 71l22-9 12 35-20 3z"/>
<path color="#4c4c4c" d="m416-501l9-25-6 20-13 20z"/>
<path color="#fff" d="m420 80l23-20 15 26-22 13z"/>
<path color="#4c4c4c" d="m315-408l11-20-5 22-11 18z"/>
<path color="#fefefe" d="m308 44l25-14 10 32-22 9z"/>
<path color="#9e9e9e" d="m167-253l24-6-5 23-12 12z"/>
<path color="#cfcfcf" d="m474 119l22-10 18 20-21 12z"/>
<path color="#4f4f4f" d="m698-654l28 13-17-5-24 2z"/>
<path color="#828282" d="m215-35l15-4 12 26-16 3z"/>
<path color="#818181" d="m232-351l22-8-6 21-10 16z"/>
<path color="#707070" d="m131-92l10-7 14 28-15 6z"/>
<path color="#4c4c4c" d="m440-535l19-11-18 3-16 17z"/>
<path color="#dbdbdb" d="m210 31l21-8 8 33-20 7z"/>
<path color="#bfbfbf" d="m219 63l20-7 16 24-20 7z"/>
<path color="#8f8f8f" d="m335 100l20-3 17 23-20 1z"/>
<path color="#575757" d="m500-552l16-18-7 18-26 1z"/>
<path color="#d4d4d4" d="m395 104l25-24 16 19-22 15z"/>
<path color="#919191" d="m142-155l23-8-6 27-21 8z"/>
<path color="#999" d="m640-632l21-9-5 27-22 6z"/>
<path color="#707070" d="m123-120l15-8 3 29-10 7z"/>
<path color="#fbfbfb" d="m281 64l27-20 13 27-22 10z"/>
<path color="#d6d6d6" d="m436 99l22-13 16 33-21 0z"/>
<path color="#5c5c5c" d="m581-614l26 3-13 9-30-10z"/>
<path color="#818181" d="m372 120l23-16 19 10-22 11z"/>
<path color="#c3c3c3" d="m140-65l15-6 20 23-24 10z"/>
<path color="#6e6e6e" d="m167-187l12-11 3 27-17 8z"/>
<path color="#6d6d6d" d="m261-378l30-1-15 12-22 8z"/>
<path color="#4c4c4c" d="m368-463l23-7-19 3-21 9z"/>
<path color="#535353" d="m740-646l24-1-13 7-25-1z"/>
<path color="#545454" d="m526-585l15-22-8 21-17 16z"/>
<path color="#8e8e8e" d="m196-281l28-4-10 18-23 8z"/>
<path color="#b3b3b3" d="m255 80l26-16 18 17-22 10z"/>
<path color="#c9c9c9" d="m175-48l22-8 18 21-23 9z"/>
<path color="#e2e2e2" d="m203-1l23-9 5 33-21 8z"/>
<path color="#888" d="m222-310l16-12 1 25-15 12z"/>
<path color="#777" d="m671-660l27 6-13 10-24 3z"/>
<path color="#e8e8e8" d="m162-280l34-1-5 22-24 6z"/>
<path color="#a1a1a1" d="m299 81l22-10 14 29-18-4z"/>
<path color="#dadada" d="m228-381l33 3-7 19-22 8z"/>
<path color="#6f6f6f" d="m313-436l19-11-6 19-11 20z"/>
<path color="#bebebe" d="m116-147l26-8-4 27-15 8z"/>
<path color="#fcfcfc" d="m151-38l24-10 17 22-30 14z"/>
<path color="#6d6d6d" d="m453 119l21 0 19 22-22-6z"/>
<path color="#848484" d="m159-214l15-10 5 26-12 11z"/>
<path color="#fff" d="m126-29l25-9 11 26-30 14z"/>
<path color="#6c6c6c" d="m621-618l19-14-6 24-27-3z"/>
<path color="#d7d7d7" d="m143-246l24-7 7 29-15 10z"/>
<path color="#fff" d="m131-278l31-2 5 27-24 7z"/>
<path color="#fff" d="m132 2l30-14 13 26-28 14z"/>
<path color="#4c4c4c" d="m403-480l13-21-10 15-15 16z"/>
<path color="#4c4c4c" d="m559-608l22-6-17 2-23 5z"/>
<path color="#4c4c4c" d="m423-519l17-16-15 9-9 25z"/>
<path color="#767676" d="m296-397l19-11-5 20-19 9z"/>
<path color="#f0f0f0" d="m192-26l23-9 11 25-23 9z"/>
<path color="#5d5d5d" d="m339-466l29 3-17 5-19 11z"/>
<path color="#d0d0d0" d="m211-343l21-8 6 29-16 12z"/>
<path color="#6b6b6b" d="m235 87l20-7 22 11-21 8z"/>
<path color="#a5a5a5" d="m189 38l21-7 9 32-16-1z"/>
<path color="#505050" d="m352 121l20-1 20 5-21 5z"/>
<path color="#7c7c7c" d="m414 114l22-15 17 20-20-2z"/>
<path color="#e7e7e7" d="m109 12l23-10 15 26-22 9z"/>
<path color="#fdfdfd" d="m175 14l28-15 7 32-21 7z"/>
<path color="#fff" d="m162-12l30-14 11 25-28 15z"/>
<path color="#e1e1e1" d="m105-20l21-9 6 31-23 10z"/>
<path color="#4f4f4f" d="m714-654l26 8-14 5-28-13z"/>
<path color="#fcfcfc" d="m201-377l27-4 4 30-21 8z"/>
<path color="#c5c5c5" d="m125-59l15-6 11 27-25 9z"/>
<path color="#5a5a5a" d="m203 62l16 1 16 24-16-3z"/>
<path color="#b5b5b5" d="m144-179l23-8-2 24-23 8z"/>
<path color="#ebebeb" d="m196-305l26-5 2 25-28 4z"/>
<path color="#4f4f4f" d="m317 96l18 4 17 21-18-9z"/>
<path color="#e2e2e2" d="m133-303l30-2-1 25-31 2z"/>
<path color="#626262" d="m651-649l20-11-10 19-21 9z"/>
<path color="#dfdfdf" d="m112-268l19-10 12 32-21 9z"/>
<path color="#e1e1e1" d="m147 28l28-14 14 24-21 8z"/>
<path color="#f9f9f9" d="m163-305l33 0 0 24-34 1z"/>
<path color="#bebebe" d="m266-399l30 2-5 18-30 1z"/>
<path color="#fff" d="m77-169l33-5 6 27-27 8z"/>
<path color="#c4c4c4" d="m310-468l29 2-7 19-19 11z"/>
<path color="#f7f7f7" d="m110-174l34-5-2 24-26 8z"/>
<path color="#e1e1e1" d="m89-139l27-8 7 27-16 9z"/>
<path color="#4c4c4c" d="m602-603l19-15-14 7-26-3z"/>
<path color="#d2d2d2" d="m232-404l34 5-5 21-33-3z"/>
<path color="#6c6c6c" d="m120-86l11-6 9 27-15 6z"/>
<path color="#676767" d="m753-658l21-9-10 20-24 1z"/>
<path color="#f0f0f0" d="m122-237l21-9 16 32-23 8z"/>
<path color="#ccc" d="m292-428l21-8 2 28-19 11z"/>
<path color="#5b5b5b" d="m277 91l22-10 18 15-19 0z"/>
<path color="#fefefe" d="m190-335l21-8 11 33-26 5z"/>
<path color="#7c7c7c" d="m107-111l16-9 8 28-11 6z"/>
<path color="#5c5c5c" d="m379-475l24-5-12 10-23 7z"/>
<path color="#f0f0f0" d="m53-161l24-8 12 30-22 8z"/>
<path color="#4c4c4c" d="m392 125l22-11 19 3-22 3z"/>
<path color="#f0f0f0" d="m136-206l23-8 8 27-23 8z"/>
<path color="#c4c4c4" d="m205-401l27-3-4 23-27 4z"/>
<path color="#959595" d="m114-294l19-9-2 25-19 10z"/>
<path color="#f9f9f9" d="m76-196l30-5 4 27-33 5z"/>
<path color="#c7c7c7" d="m185-364l16-13 10 34-21 8z"/>
<path color="#9e9e9e" d="m125 37l22-9 21 18-21 8z"/>
<path color="#606060" d="m405-505l18-14-7 18-13 21z"/>
<path color="#4d4d4d" d="m689-658l25 4-16 0-27-6z"/>
<path color="#606060" d="m219 84l16 3 21 12-21 6z"/>
<path color="#fff" d="m106-201l30-5 8 27-34 5z"/>
<path color="#7a7a7a" d="m95 15l14-3 16 25-17 4z"/>
<path color="#b7b7b7" d="m105-51l20-8 1 30-21 9z"/>
<path color="#4c4c4c" d="m433 117l20 2 18 16-21-11z"/>
<path color="#9b9b9b" d="m85-13l20-7 4 32-14 3z"/>
<path color="#c5c5c5" d="m54-188l22-8 1 27-24 8z"/>
<path color="#4c4c4c" d="m636-622l15-27-11 17-19 14z"/>
<path color="#e2e2e2" d="m168-326l22-9 6 30-33 0z"/>
<path color="#dcdcdc" d="m287-462l23-6 3 32-21 8z"/>
<path color="#575757" d="m430-538l27 2-17 1-17 16z"/>
<path color="#505050" d="m334 112l18 9 19 9-20 2z"/>
<path color="#909090" d="m347-482l32 7-11 12-29-3z"/>
<path color="#7c7c7c" d="m168 46l21-8 14 24-15-1z"/>
<path color="#f4f4f4" d="m103-228l19-9 14 31-30 5z"/>
<path color="#f1f1f1" d="m268-422l24-6 4 31-30-2z"/>
<path color="#d5d5d5" d="m67-131l22-8 18 28-21 8z"/>
<path color="#4e4e4e" d="m732-648l21-10-13 12-26-8z"/>
<path color="#8a8a8a" d="m102-253l10-15 10 31-19 9z"/>
<path color="#575757" d="m256 99l21-8 21 5-22 10z"/>
<path color="#4c4c4c" d="m525-570l16-21-15 6-11 29z"/>
<path color="#b7b7b7" d="m315-490l32 8-8 16-29-2z"/>
<path color="#4d4d4d" d="m371 130l21-5 19-5-21 13z"/>
<path color="#7b7b7b" d="m147-318l21-8-5 21-30 2z"/>
<path color="#6b6b6b" d="m189-387l16-14-4 24-16 13z"/>
<path color="#a5a5a5" d="m244-417l24-5-2 23-34-5z"/>
<path color="#dbdbdb" d="m78-41l27-10 0 31-20 7z"/>
<path color="#969696" d="m41-151l12-10 14 30-18 8z"/>
<path color="#b5b5b5" d="m383-498l22-7-2 25-24 5z"/>
<path color="#b5b5b5" d="m85-218l18-10 3 27-30 5z"/>
<path color="#8b8b8b" d="m108 41l17-4 22 17-22 9z"/>
<path color="#4c4c4c" d="m669-647l20-11-18-2-20 11z"/>
<path color="#535353" d="m298 96l19 0 17 16-19-3z"/>
<path color="#4e4e4e" d="m472-540l26 1-17 0-24 3z"/>
<path color="#c4c4c4" d="m101-78l19-8 5 27-20 8z"/>
<path color="#767676" d="m175-345l10-19 5 29-22 9z"/>
<path color="#a7a7a7" d="m405-537l25-1-7 19-18 14z"/>
<path color="#575757" d="m188 61l15 1 16 22-16-2z"/>
<path color="#d1d1d1" d="m86-103l21-8 13 25-19 8z"/>
<path color="#acacac" d="m272-445l15-17 5 34-24 6z"/>
<path color="#9b9b9b" d="m292-484l23-6-5 22-23 6z"/>
<path color="#e2e2e2" d="m49-123l18-8 19 28-26 8z"/>
<path color="#a9a9a9" d="m235 105l21-6 20 7-25 19z"/>
<path color="#4f4f4f" d="m102-278l12-16-2 26-10 15z"/>
<path color="#595959" d="m222-410l22-7-12 13-27 3z"/>
<path color="#666" d="m39-178l15-10-1 27-12 10z"/>
<path color="#fcfcfc" d="m10-49l27-9 13 27-25 10z"/>
<path color="#4f4f4f" d="m126-310l21-8-14 15-19 9z"/>
<path color="#fff" d="m37-58l34-10 7 27-28 10z"/>
<path color="#919191" d="m351 132l20-2 19 3-22 19z"/>
<path color="#4e4e4e" d="m411 120l22-3 17 7-22-1z"/>
<path color="#828282" d="m147 54l21-8 20 15-21 6z"/>
<path color="#f0f0f0" d="m50-31l28-10 7 28-18 7z"/>
<path color="#989898" d="m203 82l16 2 16 21-21 6z"/>
<path color="#b6b6b6" d="m357-497l26-1-4 23-32-7z"/>
<path color="#585858" d="m506-556l19-14-10 14-17 17z"/>
<path color="#fdfdfd" d="m71-68l30-10 4 27-27 10z"/>
<path color="#fff" d="m33-87l27-8 11 27-34 10z"/>
<path color="#6a6a6a" d="m64-209l21-9-9 22-22 8z"/>
<path color="#eaeaea" d="m9-79l24-8 4 29-27 9z"/>
<path color="#fff" d="m60-95l26-8 15 25-30 10z"/>
<path color="#6f6f6f" d="m441-552l31 12-15 4-27-2z"/>
<path color="#8f8f8f" d="m315 109l19 3 17 20-21 3z"/>
<path color="#7f7f7f" d="m67-6l18-7 10 28-12 1z"/>
<path color="#f8f8f8" d="m214 111l21-6 16 20-24 18z"/>
<path color="#bcbcbc" d="m384-527l21-10 0 32-22 7z"/>
<path color="#595959" d="m83 16l12-1 13 26-14 1z"/>
<path color="#d6d6d6" d="m34-114l15-9 11 28-27 8z"/>
<path color="#525252" d="m534-589l24-2-17 0-16 21z"/>
<path color="#6e6e6e" d="m331-496l26-1-10 15-32-8z"/>
<path color="#575757" d="m93-238l9-15 1 25-18 10z"/>
<path color="#a2a2a2" d="m276 106l22-10 17 13-22 11z"/>
<path color="#4c4c4c" d="m180-366l9-21-4 23-10 19z"/>
<path color="#5d5d5d" d="m259-425l13-20-4 23-24 5z"/>
<path color="#4c4c4c" d="m201-400l21-10-17 9-16 14z"/>
<path color="#c5c5c5" d="m125 63l22-9 20 13-26 16z"/>
<path color="#c9c9c9" d="m25-21l25-10 17 25-20 7z"/>
<path color="#e8e8e8" d="m330 135l21-3 17 20-22 16z"/>
<path color="#565656" d="m279-464l13-20-5 22-15 17z"/>
<path color="#ababab" d="m94 42l14-1 17 22-22 8z"/>
<path color="#a8a8a8" d="m-6-42l16-7 15 28-18 7z"/>
<path color="#4d4d4d" d="m162-330l13-15-7 19-21 8z"/>
<path color="#777" d="m390 133l21-13 17 3-21 17z"/>
<path color="#9c9c9c" d="m412-558l29 6-11 14-25 1z"/>
<path color="#f8f8f8" d="m227 143l24-18 18 18-25 23z"/>
<path color="#848484" d="m482-554l24-2-8 17-26-1z"/>
<path color="#e2e2e2" d="m251 125l25-19 17 14-24 23z"/>
<path color="#fefefe" d="m103 71l22-8 16 20-27 18z"/>
<path color="#f4f4f4" d="m193 119l21-8 13 32-22 10z"/>
<path color="#565656" d="m104-302l22-8-12 16-12 16z"/>
<path color="#989898" d="m-10-70l19-9 1 30-16 7z"/>
<path color="#707070" d="m40-202l24-7-10 21-15 10z"/>
<path color="#b9b9b9" d="m167 67l21-6 15 21-21 6z"/>
<path color="#646464" d="m33-139l8-12 8 28-15 9z"/>
<path color="#c0c0c0" d="m368 152l22-19 17 7-21 28z"/>
<path color="#4c4c4c" d="m574-590l27 6-20-10-23 3z"/>
<path color="#dadada" d="m205 153l22-10 17 23-22 10z"/>
<path color="#e2e2e2" d="m182 88l21-6 11 29-21 8z"/>
<path color="#4f4f4f" d="m309-489l22-7-16 6-23 6z"/>
<path color="#828282" d="m368-510l16-17-1 29-26 1z"/>
<path color="#efefef" d="m293 120l22-11 15 26-22 10z"/>
<path color="#f9f9f9" d="m81 80l22-9 11 30-25 13z"/>
<path color="#9b9b9b" d="m15-105l19-9-1 27-24 8z"/>
<path color="#e9e9e9" d="m346 168l22-16 18 16-22 22z"/>
<path color="#f6f6f6" d="m89 114l25-13 15 24-24 13z"/>
<path color="#fff" d="m114 101l27-18 16 22-28 20z"/>
<path color="#858585" d="m511-584l23-5-9 19-19 14z"/>
<path color="#ebebeb" d="m308 145l22-10 16 33-22 6z"/>
<path color="#b5b5b5" d="m7-14l18-7 22 22-23 9z"/>
<path color="#545454" d="m91-263l11-15 0 25-9 15z"/>
<path color="#fbfbfb" d="m141 83l26-16 15 21-25 17z"/>
<path color="#585858" d="m26-166l13-12 2 27-8 12z"/>
<path color="#4c4c4c" d="m241-412l18-13-15 8-22 7z"/>
<path color="#727272" d="m392-547l20-11-7 21-21 10z"/>
<path color="#777" d="m455-558l27 4-10 14-31-12z"/>
<path color="#4d4d4d" d="m614-590l20-11-13 6-20 11z"/>
<path color="#fafafa" d="m269 143l24-23 15 25-22 14z"/>
<path color="#4e4e4e" d="m139-323l23-7-15 12-21 8z"/>
<path color="#9c9c9c" d="m47 1l20-7 16 22-17 6z"/>
<path color="#5e5e5e" d="m73-229l20-9-8 20-21 9z"/>
<path color="#4f4f4f" d="m183-389l18-11-12 13-9 21z"/>
<path color="#fff" d="m157 105l25-17 11 31-22 10z"/>
<path color="#ccc" d="m171 129l22-10 12 34-19 0z"/>
<path color="#c8c8c8" d="m76 47l18-5 9 29-22 9z"/>
<path color="#b8b8b8" d="m244 166l25-23 17 16-22 14z"/>
<path color="#4c4c4c" d="m269-438l10-26-7 19-13 20z"/>
<path color="#afafaf" d="m324 174l22-6 18 22-21 5z"/>
<path color="#5a5a5a" d="m546-603l28 13-16-1-24 2z"/>
<path color="#b7b7b7" d="m16-196l24-6-1 24-13 12z"/>
<path color="#ebebeb" d="m129 125l28-20 14 24-22 10z"/>
<path color="#4c4c4c" d="m352-492l16-18-11 13-26 1z"/>
<path color="#505050" d="m167-348l13-18-5 21-13 15z"/>
<path color="#c7c7c7" d="m60 88l21-8 8 34-18 4z"/>
<path color="#999" d="m-9-97l24-8-6 26-19 9z"/>
<path color="#9e9e9e" d="m82-294l22-8-2 24-11 15z"/>
<path color="#949494" d="m71 118l18-4 16 24-19 3z"/>
<path color="#949494" d="m491-573l20-11-5 28-24 2z"/>
<path color="#a7a7a7" d="m66 22l17-6 11 26-18 5z"/>
<path color="#6e6e6e" d="m186 153l19 0 17 23-19-3z"/>
<path color="#4c4c4c" d="m646-618l22-6-16 0-18 23z"/>
<path color="#8f8f8f" d="m107-325l32 2-13 13-22 8z"/>
<path color="#545454" d="m430-559l25 1-14 6-29-6z"/>
<path color="#6a6a6a" d="m222 176l22-10 20 7-22 9z"/>
<path color="#c0c0c0" d="m286 159l22-14 16 29-20-1z"/>
<path color="#636363" d="m-15-36l9-6 13 28-14 5z"/>
<path color="#acacac" d="m42-226l31-3-9 20-24 7z"/>
<path color="#4c4c4c" d="m216-409l25-3-19 2-21 10z"/>
<path color="#979797" d="m105 138l24-13 20 14-22 10z"/>
<path color="#cacaca" d="m-7-9l14-5 17 24-24 10z"/>
<path color="#545454" d="m589-594l25 4-13 6-27-6z"/>
<path color="#e1e1e1" d="m24 10l23-9 19 21-26 11z"/>
<path color="#4e4e4e" d="m380-521l12-26-8 20-16 17z"/>
<path color="#6a6a6a" d="m-25-62l15-8 4 28-9 6z"/>
<path color="#808080" d="m18-130l15-9 1 25-19 9z"/>
<path color="#f9f9f9" d="m8-226l34 0-2 24-24 6z"/>
<path color="#f0f0f0" d="m51 58l25-11 5 33-21 8z"/>
<path color="#fff" d="m0 20l24-10 16 23-31 15z"/>
<path color="#fefefe" d="m-19 61l28-13 14 25-27 13z"/>
<path color="#f2f2f2" d="m75-326l32 1-3 23-22 8z"/>
<path color="#fcfcfc" d="m-24 29l24-9 9 28-28 13z"/>
<path color="#787878" d="m521-604l25 1-12 14-23 5z"/>
<path color="#b1b1b1" d="m72-253l19-10 2 25-20 9z"/>
<path color="#fff" d="m-19-221l27-5 8 30-23 8z"/>
<path color="#fff" d="m9 48l31-15 11 25-28 15z"/>
<path color="#868686" d="m149 139l22-10 15 24-18-3z"/>
<path color="#d1d1d1" d="m-36-90l27-7-1 27-15 8z"/>
<path color="#8d8d8d" d="m163-379l20-10-3 23-13 18z"/>
<path color="#5c5c5c" d="m472-558l19-15-9 19-27-4z"/>
<path color="#fff" d="m40 33l26-11 10 25-25 11z"/>
<path color="#dfdfdf" d="m-7-188l23-8 10 30-17 9z"/>
<path color="#5f5f5f" d="m624-610l22-8-12 17-20 11z"/>
<path color="#7b7b7b" d="m186-412l30 3-15 9-18 11z"/>
<path color="#4c4c4c" d="m409-549l21-10-18 1-20 11z"/>
<path color="#939393" d="m144-342l23-6-5 18-23 7z"/>
<path color="#4c4c4c" d="m253-422l16-16-10 13-18 13z"/>
<path color="#fcfcfc" d="m23 73l28-15 9 30-21 7z"/>
<path color="#595959" d="m304 173l20 1 19 21-22-10z"/>
<path color="#a9a9a9" d="m9-157l17-9 7 27-15 9z"/>
<path color="#e6e6e6" d="m61-286l21-8 9 31-19 10z"/>
<path color="#c6c6c6" d="m-39 68l20-7 15 25-20 7z"/>
<path color="#4c4c4c" d="m274-459l17-16-12 11-10 26z"/>
<path color="#5f5f5f" d="m86 141l19-3 22 11-21 7z"/>
<path color="#606060" d="m264 173l22-14 18 14-21-1z"/>
<path color="#4c4c4c" d="m203 173l19 3 20 6-21 4z"/>
<path color="#f1f1f1" d="m52-320l23-6 7 32-21 8z"/>
<path color="#f4f4f4" d="m9-251l33 0 0 25-34 0z"/>
<path color="#c9c9c9" d="m-45 37l21-8 5 32-20 7z"/>
<path color="#969696" d="m39 95l21-7 11 30-15-2z"/>
<path color="#f5f5f5" d="m42-251l30-2 1 24-31 3z"/>
<path color="#d0d0d0" d="m-10-123l28-7-3 25-24 8z"/>
<path color="#4e4e4e" d="m563-602l26 8-15 4-28-13z"/>
<path color="#d2d2d2" d="m-17-246l26-5-1 25-27 5z"/>
<path color="#bdbdbd" d="m-24-2l17-7 7 29-24 9z"/>
<path color="#fff" d="m-75-112l31-6 8 28-26 8z"/>
<path color="#fefefe" d="m-44-118l34-5 1 26-27 7z"/>
<path color="#c8c8c8" d="m112-346l32 4-5 19-32-2z"/>
<path color="#c9c9c9" d="m-4 86l27-13 16 22-21 8z"/>
<path color="#d4d4d4" d="m79-350l33 4-5 21-32-1z"/>
<path color="#575757" d="m503-586l18-18-10 20-20 11z"/>
<path color="#4c4c4c" d="m306-482l25-1-22-6-18 14z"/>
<path color="#c1c1c1" d="m-35-209l16-12 12 33-20 8z"/>
<path color="#d8d8d8" d="m158-413l28 1-3 23-20 10z"/>
<path color="#dedede" d="m-62-82l26-8 11 28-17 8z"/>
<path color="#4f4f4f" d="m56 116l15 2 15 23-15-4z"/>
<path color="#4c4c4c" d="m168 150l18 3 17 20-18-8z"/>
<path color="#f6f6f6" d="m-27-180l20-8 16 31-25 7z"/>
<path color="#fdfdfd" d="m40-277l21-9 11 33-30 2z"/>
<path color="#efefef" d="m-75-139l28-6 3 27-31 6z"/>
<path color="#5e5e5e" d="m603-600l21-10-10 20-25-4z"/>
<path color="#e4e4e4" d="m141-371l22-8 4 31-23 6z"/>
<path color="#6a6a6a" d="m226-422l27 0-12 10-25 3z"/>
<path color="#fff" d="m-16-150l25-7 9 27-28 7z"/>
<path color="#515151" d="m127 149l22-10 19 11-20 3z"/>
<path color="#fff" d="m-47-145l31-5 6 27-34 5z"/>
<path color="#ababab" d="m56-343l23-7-4 24-23 6z"/>
<path color="#d7d7d7" d="m-95-104l20-8 13 30-20 8z"/>
<path color="#4c4c4c" d="m242 182l22-9 19-1-22 6z"/>
<path color="#828282" d="m-28-29l13-7 8 27-17 7z"/>
<path color="#919191" d="m-24 93l20-7 22 17-21 8z"/>
<path color="#929292" d="m-42-54l17-8 10 26-13 7z"/>
<path color="#727272" d="m-34-234l17-12-2 25-16 12z"/>
<path color="#aeaeae" d="m39-304l13-16 9 34-21 9z"/>
<path color="#7c7c7c" d="m255-448l19-11-5 21-16 16z"/>
<path color="#c3c3c3" d="m18-269l22-8 2 26-33 0z"/>
<path color="#4c4c4c" d="m539-602l24 0-17-1-25-1z"/>
<path color="#bdbdbd" d="m-46 7l22-9 0 31-21 8z"/>
<path color="#a1a1a1" d="m193-431l33 9-10 13-30-3z"/>
<path color="#a5a5a5" d="m-95-131l20-8 0 27-20 8z"/>
<path color="#4c4c4c" d="m488-558l15-28-12 13-19 15z"/>
<path color="#4c4c4c" d="m348-483l19-11-15 2-21 9z"/>
<path color="#eaeaea" d="m-45-170l18-10 11 30-31 5z"/>
<path color="#e1e1e1" d="m117-366l24-5 3 29-32-4z"/>
<path color="#6b6b6b" d="m279-484l27 2-15 7-17 16z"/>
<path color="#d3d3d3" d="m138-403l20-10 5 34-22 8z"/>
<path color="#6e6e6e" d="m71 137l15 4 20 15-21 6z"/>
<path color="#4c4c4c" d="m283 172l21 1 17 12-21-9z"/>
<path color="#8c8c8c" d="m-64 44l19-7 6 31-13 2z"/>
<path color="#d6d6d6" d="m-82-74l20-8 20 28-23 8z"/>
<path color="#626262" d="m-52 70l13-2 15 25-15 2z"/>
<path color="#767676" d="m18 103l21-8 17 21-17 1z"/>
<path color="#5b5b5b" d="m185 165l18 8 18 13-20 1z"/>
<path color="#b9b9b9" d="m163-435l30 4-7 19-28-1z"/>
<path color="#4c4c4c" d="m582-590l21-10-14 6-26-8z"/>
<path color="#696969" d="m106 156l21-7 21 4-23 13z"/>
<path color="#636363" d="m-3-261l21-8-9 18-26 5z"/>
<path color="#555" d="m221 186l21-4 19-4-21 16z"/>
<path color="#4c4c4c" d="m376-510l17-19-13 8-13 27z"/>
<path color="#848484" d="m94-360l23-6-5 20-33-4z"/>
<path color="#747474" d="m-43-193l8-16 8 29-18 10z"/>
<path color="#e9e9e9" d="m-74 17l28-10 1 30-19 7z"/>
<path color="#575757" d="m43-326l13-17-4 23-13 16z"/>
<path color="#949494" d="m-64-160l19-10-2 25-28 6z"/>
<path color="#c2c2c2" d="m232-443l23-5-2 26-27 0z"/>
<path color="#525252" d="m319-489l29 6-17 0-25 1z"/>
<path color="#939393" d="m-39 95l15-2 21 18-22 9z"/>
<path color="#fff" d="m-116 0l32-10 10 27-28 10z"/>
<path color="#e3e3e3" d="m-51-20l23-9 4 27-22 9z"/>
<path color="#b8b8b8" d="m255-480l24-4-5 25-19 11z"/>
<path color="#ececec" d="m-65-46l23-8 14 25-23 9z"/>
<path color="#7e7e7e" d="m-104-92l9-12 13 30-17 9z"/>
<path color="#656565" d="m148 153l20-3 17 15-20 0z"/>
<path color="#cecece" d="m85 162l21-6 19 10-25 20z"/>
<path color="#909090" d="m125-384l13-19 3 32-24 5z"/>
<path color="#e6e6e6" d="m-99-65l17-9 17 28-27 8z"/>
<path color="#7f7f7f" d="m144-424l19-11-5 22-20 10z"/>
<path color="#5f5f5f" d="m29-285l10-19 1 27-22 8z"/>
<path color="#505050" d="m72-353l22-7-15 10-23 7z"/>
<path color="#fdfdfd" d="m-119-30l27-8 8 28-32 10z"/>
<path color="#ececec" d="m-139 8l23-8 14 27-23 9z"/>
<path color="#fff" d="m-84-10l33-10 5 27-28 10z"/>
<path color="#6d6d6d" d="m39 117l17-1 15 21-17 0z"/>
<path color="#fff" d="m-92-38l27-8 14 26-33 10z"/>
<path color="#b9b9b9" d="m201 187l20-1 19 8-23 19z"/>
<path color="#4c4c4c" d="m-24-253l21-8-14 15-17 12z"/>
<path color="#e8e8e8" d="m-102 27l28-10 10 27-18 6z"/>
<path color="#a1a1a1" d="m205-442l27-1-6 21-33-9z"/>
<path color="#929292" d="m-3 111l21-8 21 14-23 9z"/>
<path color="#545454" d="m261 178l22-6 17 4-21 5z"/>
<path color="#d4d4d4" d="m-141-21l22-9 3 30-23 8z"/>
<path color="#666" d="m356-500l20-10-9 16-19 11z"/>
<path color="#4c4c4c" d="m-44-218l10-16-1 25-8 16z"/>
<path color="#565656" d="m-108-119l13-12 0 27-9 12z"/>
<path color="#626262" d="m-86-153l22-7-11 21-20 8z"/>
<path color="#858585" d="m288-501l31 12-13 7-27-2z"/>
<path color="#b0b0b0" d="m54 137l17 0 14 25-21 6z"/>
<path color="#fafafa" d="m64 168l21-6 15 24-23 16z"/>
<path color="#b2b2b2" d="m165 165l20 0 16 22-21 5z"/>
<path color="#b2b2b2" d="m236-467l19-13 0 32-23 5z"/>
<path color="#5d5d5d" d="m181-440l24-2-12 11-30-4z"/>
<path color="#bfbfbf" d="m125 166l23-13 17 12-23 16z"/>
<path color="#e2e2e2" d="m-25 120l22-9 19 15-27 18z"/>
<path color="#c2c2c2" d="m-115-56l16-9 7 27-27 8z"/>
<path color="#828282" d="m-82 50l18-6 12 26-13 2z"/>
<path color="#5d5d5d" d="m383-534l24-2-14 7-17 19z"/>
<path color="#f6f6f6" d="m77 202l23-16 17 19-23 20z"/>
<path color="#eee" d="m100 186l25-20 17 15-25 24z"/>
<path color="#bcbcbc" d="m-125 36l23-9 20 23-21 8z"/>
<path color="#efefef" d="m180 192l21-5 16 26-21 13z"/>
<path color="#909090" d="m240 194l21-16 18 3-22 22z"/>
<path color="#515151" d="m111-365l14-19-8 18-23 6z"/>
<path color="#4c4c4c" d="m52-342l20-11-16 10-13 17z"/>
<path color="#fff" d="m-47 129l22-9 14 24-27 17z"/>
<path color="#515151" d="m-55-180l12-13-2 23-19 10z"/>
<path color="#989898" d="m262-502l26 1-9 17-24 4z"/>
<path color="#4f4f4f" d="m133-401l11-23-6 21-13 19z"/>
<path color="#b6b6b6" d="m-54 97l15-2 14 25-22 9z"/>
<path color="#4c4c4c" d="m485-541l18-20-15 3-16 23z"/>
<path color="#4c4c4c" d="m34-305l9-21-4 22-10 19z"/>
<path color="#4c4c4c" d="m13-272l16-13-11 16-21 8z"/>
<path color="#676767" d="m-65 72l13-2 13 25-15 2z"/>
<path color="#8a8a8a" d="m331-500l25 0-8 17-29-6z"/>
<path color="#d4d4d4" d="m217 213l23-19 17 9-21 28z"/>
<path color="#878787" d="m-152 15l13-7 14 28-16 6z"/>
<path color="#e9e9e9" d="m43 177l21-9 13 34-21 7z"/>
<path color="#fff" d="m-38 161l27-17 16 22-27 19z"/>
<path color="#dcdcdc" d="m16 126l23-9 15 20-23 10z"/>
<path color="#848484" d="m-111-146l25-7-9 22-13 12z"/>
<path color="#676767" d="m-46-245l22-8-10 19-10 16z"/>
<path color="#4c4c4c" d="m422-540l27 10-18-8-24 2z"/>
<path color="#b8b8b8" d="m56 209l21-7 17 23-21 6z"/>
<path color="#7f7f7f" d="m-158-13l17-8 2 29-13 7z"/>
<path color="#fdfdfd" d="m142 181l23-16 15 27-22 12z"/>
<path color="#f4f4f4" d="m31 147l23-10 10 31-21 9z"/>
<path color="#4c4c4c" d="m160-430l21-10-18 5-19 11z"/>
<path color="#e3e3e3" d="m196 226l21-13 19 18-22 17z"/>
<path color="#ececec" d="m-69 137l22-8 9 32-22 10z"/>
<path color="#e0e0e0" d="m-60 171l22-10 16 24-23 10z"/>
<path color="#fff" d="m-11 144l27-18 15 21-26 19z"/>
<path color="#696969" d="m220-449l16-18-4 24-27 1z"/>
<path color="#929292" d="m-135-48l20-8-4 26-22 9z"/>
<path color="#656565" d="m-113-81l9-11 5 27-16 9z"/>
<path color="#949494" d="m361-527l22-7-7 24-20 10z"/>
<path color="#e4e4e4" d="m158 204l22-12 16 34-21 3z"/>
<path color="#ececec" d="m117 205l25-24 16 23-22 14z"/>
<path color="#bababa" d="m-141 42l16-6 22 22-24 10z"/>
<path color="#676767" d="m304-505l27 5-12 11-31-12z"/>
<path color="#515151" d="m463-536l22-5-13 6-23 5z"/>
<path color="#606060" d="m245-485l17-17-7 22-19 13z"/>
<path color="#fff" d="m5 166l26-19 12 30-22 10z"/>
<path color="#575757" d="m-14-268l27-4-16 11-21 8z"/>
<path color="#9b9b9b" d="m94 225l23-20 19 13-22 13z"/>
<path color="#676767" d="m-57-204l13-14 1 25-12 13z"/>
<path color="#737373" d="m-79-173l24-7-9 20-22 7z"/>
<path color="#b1b1b1" d="m-103 58l21-8 17 22-20 7z"/>
<path color="#d2d2d2" d="m-22 185l27-19 16 21-23 10z"/>
<path color="#696969" d="m-121-108l13-11 4 27-9 11z"/>
<path color="#d4d4d4" d="m-74 105l20-8 7 32-22 8z"/>
<path color="#5a5a5a" d="m33-331l19-11-9 16-9 21z"/>
<path color="#b9b9b9" d="m21 187l22-10 13 32-19-3z"/>
<path color="#6a6a6a" d="m394-551l28 11-15 4-24 2z"/>
<path color="#8b8b8b" d="m175 229l21-3 18 22-21-1z"/>
<path color="#4c4c4c" d="m202-434l18-15-15 7-24 2z"/>
<path color="#4c4c4c" d="m122-377l11-24-8 17-14 19z"/>
<path color="#cacaca" d="m-135-139l24-7 3 27-13 11z"/>
<path color="#a9a9a9" d="m-161-40l26-8-6 27-17 8z"/>
<path color="#b6b6b6" d="m-47-271l33 3-10 15-22 8z"/>
<path color="#838383" d="m342-514l19-13-5 27-25 0z"/>
<path color="#cdcdcd" d="m-112-171l33-2-7 20-25 7z"/>
<path color="#b6b6b6" d="m-90 145l21-8 9 34-17 1z"/>
<path color="#5d5d5d" d="m18-290l16-15-5 20-16 13z"/>
<path color="#b9b9b9" d="m-68-237l22-8 2 27-13 14z"/>
<path color="#4f4f4f" d="m496-561l22-7-15 7-18 20z"/>
<path color="#505050" d="m280-502l24-3-16 4-26-1z"/>
<path color="#d2d2d2" d="m-85 79l20-7 11 25-20 8z"/>
<path color="#595959" d="m73 231l21-6 20 6-22 7z"/>
<path color="#7f7f7f" d="m-45 195l23-10 20 12-21 9z"/>
<path color="#a0a0a0" d="m136 218l22-14 17 25-21-2z"/>
<path color="#505050" d="m63-355l28 0-19 2-20 11z"/>
<path color="#f3f3f3" d="m-127 68l24-10 18 21-28 13z"/>
<path color="#717171" d="m-77 172l17-1 15 24-17 0z"/>
<path color="#fff" d="m-145-170l33-1 1 25-24 7z"/>
<path color="#fff" d="m-151 77l24-9 14 24-31 15z"/>
<path color="#585858" d="m37 206l19 3 17 22-19-7z"/>
<path color="#525252" d="m437-542l26 6-14 6-27-10z"/>
<path color="#fafafa" d="m-170 118l26-11 14 26-24 11z"/>
<path color="#cbcbcb" d="m-155 48l14-6 14 26-24 9z"/>
<path color="#fff" d="m-144 107l31-15 12 26-29 15z"/>
<path color="#f9f9f9" d="m-101 118l27-13 5 32-21 8z"/>
<path color="#4c4c4c" d="m233-456l12-29-9 18-16 18z"/>
<path color="#f3f3f3" d="m-174 86l23-9 7 30-26 11z"/>
<path color="#fdfdfd" d="m-76-271l29 0 1 26-22 8z"/>
<path color="#999" d="m-133-73l20-8-2 25-20 8z"/>
<path color="#626262" d="m-161 21l9-6 11 27-14 6z"/>
<path color="#fff" d="m-113 92l28-13 11 26-27 13z"/>
<path color="#6f6f6f" d="m371-546l23-5-11 17-22 7z"/>
<path color="#f4f4f4" d="m-169-163l24-7 10 31-22 8z"/>
<path color="#d5d5d5" d="m-80-197l23-7 2 24-24 7z"/>
<path color="#6e6e6e" d="m-173-5l15-8 6 28-9 6z"/>
<path color="#dedede" d="m-188-33l27-7 3 27-15 8z"/>
<path color="#f3f3f3" d="m-130 133l29-15 11 27-21 7z"/>
<path color="#515151" d="m323-499l19-15-11 14-27-5z"/>
<path color="#a2a2a2" d="m33-359l30 4-11 13-19 11z"/>
<path color="#6d6d6d" d="m-2 197l23-10 16 19-18-2z"/>
<path color="#adadad" d="m-9-288l27-2-5 18-27 4z"/>
<path color="#ececec" d="m-144-195l32-1 0 25-33 1z"/>
<path color="#686868" d="m474-553l22-8-11 20-22 5z"/>
<path color="#aeaeae" d="m13-321l20-10 1 26-16 15z"/>
<path color="#e7e7e7" d="m-157-131l22-8 14 31-20 9z"/>
<path color="#f9f9f9" d="m-112-196l32-1 1 24-33 2z"/>
<path color="#535353" d="m103-366l19-11-11 12-20 10z"/>
<path color="#f5f5f5" d="m-89-229l21-8 11 33-23 7z"/>
<path color="#fff" d="m-198-62l34-5 3 27-27 7z"/>
<path color="#e8e8e8" d="m-164-67l31-6-2 25-26 8z"/>
<path color="#515151" d="m114 231l22-13 18 9-21 0z"/>
<path color="#d3d3d3" d="m-141-99l20-9 8 27-20 8z"/>
<path color="#cecece" d="m-43-293l34 5-5 20-33-3z"/>
<path color="#fefefe" d="m-226-55l28-7 10 29-24 8z"/>
<path color="#525252" d="m126-400l17-15-10 14-11 24z"/>
<path color="#dfdfdf" d="m-96-261l20-10 8 34-21 8z"/>
<path color="#5b5b5b" d="m-62 195l17 0 22 11-21 6z"/>
<path color="#b8b8b8" d="m-167-189l23-6-1 25-24 7z"/>
<path color="#4f4f4f" d="m154 227l21 2 18 18-22-11z"/>
<path color="#d1d1d1" d="m-73-294l30 1-4 22-29 0z"/>
<path color="#b1b1b1" d="m-154 144l24-11 19 19-21 8z"/>
<path color="#4e4e4e" d="m412-549l25 7-15 2-28-11z"/>
<path color="#4d4d4d" d="m54 224l19 7 19 7-20 2z"/>
<path color="#b7b7b7" d="m-173 55l18-7 4 29-23 9z"/>
<path color="#888" d="m-111 152l21-7 13 27-15-2z"/>
<path color="#505050" d="m355-523l16-23-10 19-19 13z"/>
<path color="#fefefe" d="m-200-89l31-5 5 27-34 5z"/>
<path color="#4c4c4c" d="m154-428l26 1-20-3-17 15z"/>
<path color="#dfdfdf" d="m-225-82l25-7 2 27-28 7z"/>
<path color="#dfdfdf" d="m8-356l25-3 0 28-20 10z"/>
<path color="#f6f6f6" d="m-110-220l21-9 9 32-32 1z"/>
<path color="#fff" d="m-169-94l28-5 8 26-31 6z"/>
<path color="#d9d9d9" d="m-212-25l24-8 15 28-19 8z"/>
<path color="#f7f7f7" d="m-176-122l19-9 16 32-28 5z"/>
<path color="#a5a5a5" d="m-181-150l12-13 12 32-19 9z"/>
<path color="#7d7d7d" d="m73-370l30 4-12 11-28 0z"/>
<path color="#f2f2f2" d="m-9-315l22-6 5 31-27 2z"/>
<path color="#555" d="m453-542l21-11-11 17-26-6z"/>
<path color="#8a8a8a" d="m-92-284l19-10-3 23-20 10z"/>
<path color="#4f4f4f" d="m-23 206l21-9 21 7-21 7z"/>
<path color="#4c4c4c" d="m92 238l22-7 19-4-22 10z"/>
<path color="#4d4d4d" d="m19 204l18 2 17 18-18-6z"/>
<path color="#4e4e4e" d="m-92 170l15 2 15 23-15-4z"/>
<path color="#9c9c9c" d="m-131-212l21-8-2 24-32 1z"/>
<path color="#afafaf" d="m40-379l33 9-10 15-30-4z"/>
<path color="#9b9b9b" d="m105-391l21-9-4 23-19 11z"/>
<path color="#4c4c4c" d="m389-543l23-6-18-2-23 5z"/>
<path color="#929292" d="m-107-243l11-18 7 32-21 9z"/>
<path color="#c6c6c6" d="m-33-310l24-5 0 27-34-5z"/>
<path color="#a0a0a0" d="m-177 28l16-7 6 27-18 7z"/>
<path color="#d4d4d4" d="m-194-112l18-10 7 28-31 5z"/>
<path color="#afafaf" d="m-192 3l19-8 12 26-16 7z"/>
<path color="#5a5a5a" d="m-180-175l13-14-2 26-12 13z"/>
<path color="#4c4c4c" d="m196-429l23-5-17 0-22 7z"/>
<path color="#8b8b8b" d="m127-429l27 1-11 13-17 15z"/>
<path color="#c3c3c3" d="m-10-343l18-13 5 35-22 6z"/>
<path color="#b0b0b0" d="m13-379l27 0-7 20-25 3z"/>
<path color="#818181" d="m-77 191l15 4 18 17-21 6z"/>
<path color="#4c4c4c" d="m133 227l21 0 17 9-21-6z"/>
<path color="#868686" d="m-44 212l21-6 21 5-24 16z"/>
<path color="#555" d="m-153-204l22-8-13 17-23 6z"/>
<path color="#696969" d="m-57-304l24-6-10 17-30-1z"/>
<path color="#4c4c4c" d="m433-532l20-10-16 0-25-7z"/>
<path color="#787878" d="m-132 160l21-8 19 18-19 3z"/>
<path color="#6c6c6c" d="m72 240l20-2 19-1-22 18z"/>
<path color="#4f4f4f" d="m227-451l18-17-12 12-14 22z"/>
<path color="#717171" d="m36 218l18 6 18 16-21 3z"/>
<path color="#7b7b7b" d="m-214-103l20-9-6 23-25 7z"/>
<path color="#c2c2c2" d="m80-388l25-3-2 25-30-4z"/>
<path color="#5c5c5c" d="m166-439l30 10-16 2-26-1z"/>
<path color="#636363" d="m-189-134l8-16 5 28-18 10z"/>
<path color="#4e4e4e" d="m-103-264l11-20-4 23-11 18z"/>
<path color="#e9e9e9" d="m-65 218l21-6 18 15-25 20z"/>
<path color="#bebebe" d="m105-422l22-7-1 29-21 9z"/>
<path color="#4c4c4c" d="m256-481l24-1-19-6-16 20z"/>
<path color="#828282" d="m-2 211l21-7 17 14-21 5z"/>
<path color="#717171" d="m-22-323l12-20 1 28-24 5z"/>
<path color="#656565" d="m-3-363l16-16-5 23-18 13z"/>
<path color="#4c4c4c" d="m-78-295l21-9-16 10-19 10z"/>
<path color="#868686" d="m54-388l26 0-7 18-33-9z"/>
<path color="#525252" d="m-118-225l11-18-3 23-21 8z"/>
<path color="#d6d6d6" d="m51 243l21-3 17 15-22 17z"/>
<path color="#4e4e4e" d="m-174-196l21-8-14 15-13 14z"/>
<path color="#626262" d="m111 237l22-10 17 3-21 11z"/>
<path color="#959595" d="m135-449l31 10-12 11-27-1z"/>
<path color="#767676" d="m205-444l22-7-8 17-23 5z"/>
<path color="#909090" d="m-111 173l19-3 15 21-19 3z"/>
<path color="#fafafa" d="m-86 225l21-7 14 29-23 13z"/>
<path color="#c8c8c8" d="m-96 194l19-3 12 27-21 7z"/>
<path color="#4c4c4c" d="m298-478l24 2-19-11-23 5z"/>
<path color="#f5f5f5" d="m-51 247l25-20 17 16-25 25z"/>
<path color="#d3d3d3" d="m-26 227l24-16 17 12-24 20z"/>
<path color="#4d4d4d" d="m-190-158l10-17-1 25-8 16z"/>
<path color="#545454" d="m30-383l24-5-14 9-27 0z"/>
<path color="#9e9e9e" d="m87-407l18-15 0 31-25 3z"/>
<path color="#d6d6d6" d="m15 223l21-5 15 25-21 7z"/>
<path color="#efefef" d="m-74 260l23-13 17 21-22 16z"/>
<path color="#aaa" d="m89 255l22-18 18 4-22 26z"/>
<path color="#6f6f6f" d="m233-478l23-3-11 13-18 17z"/>
<path color="#efefef" d="m30 250l21-7 16 29-21 10z"/>
<path color="#e2e2e2" d="m67 272l22-17 18 12-21 26z"/>
<path color="#4c4c4c" d="m-38-306l16-17-11 13-24 6z"/>
<path color="#888" d="m112-444l23-5-8 20-22 7z"/>
<path color="#4c4c4c" d="m335-483l20-16-14 5-19 18z"/>
<path color="#858585" d="m179-447l26 3-9 15-30-10z"/>
<path color="#4c4c4c" d="m-97-284l19-11-14 11-11 20z"/>
<path color="#535353" d="m-205-122l16-12-5 22-20 9z"/>
<path color="#4c4c4c" d="m-138-215l20-10-13 13-22 8z"/>
<path color="#4c4c4c" d="m-13-337l10-26-7 20-12 20z"/>
<path color="#fff" d="m-9 243l24-20 15 27-22 13z"/>
<path color="#4c4c4c" d="m-113-244l10-20-4 21-11 18z"/>
<path color="#cfcfcf" d="m46 282l21-10 19 21-22 11z"/>
<path color="#4f4f4f" d="m269-490l29 12-18-4-24 1z"/>
<path color="#818181" d="m-196-188l22-8-6 21-10 17z"/>
<path color="#4c4c4c" d="m11-371l19-12-17 4-16 16z"/>
<path color="#575757" d="m72-389l15-18-7 19-26 0z"/>
<path color="#d4d4d4" d="m-34 268l25-25 17 20-23 14z"/>
<path color="#999" d="m212-468l21-10-6 27-22 7z"/>
<path color="#d6d6d6" d="m8 263l22-13 16 32-21 1z"/>
<path color="#4c4c4c" d="m367-511l22-6-18-6-16 24z"/>
<path color="#5c5c5c" d="m152-451l27 4-13 8-31-10z"/>
<path color="#818181" d="m-56 284l22-16 19 9-21 12z"/>
<path color="#6d6d6d" d="m-168-215l30 0-15 11-21 8z"/>
<path color="#4c4c4c" d="m-60-300l22-6-19 2-21 9z"/>
<path color="#535353" d="m312-483l23 0-13 7-24-2z"/>
<path color="#545454" d="m98-421l14-23-7 22-18 15z"/>
<path color="#888" d="m-206-146l16-12 1 24-16 12z"/>
<path color="#777" d="m243-497l26 7-13 9-23 3z"/>
<path color="#dadada" d="m-200-217l32 2-6 19-22 8z"/>
<path color="#6f6f6f" d="m-116-273l19-11-6 20-10 20z"/>
<path color="#6d6d6d" d="m25 283l21-1 18 22-21-6z"/>
<path color="#6c6c6c" d="m193-454l19-14-7 24-26-3z"/>
<path color="#4c4c4c" d="m-26-317l13-20-9 14-16 17z"/>
<path color="#555" d="m346-504l21-7-12 12-20 16z"/>
<path color="#4c4c4c" d="m130-444l22-7-17 2-23 5z"/>
<path color="#4c4c4c" d="m-6-355l17-16-14 8-10 26z"/>
<path color="#767676" d="m-133-234l20-10-5 19-20 10z"/>
<path color="#5d5d5d" d="m-90-302l30 2-18 5-19 11z"/>
<path color="#d0d0d0" d="m-218-180l22-8 6 30-16 12z"/>
<path color="#7c7c7c" d="m-15 277l23-14 17 20-21-2z"/>
<path color="#4f4f4f" d="m286-491l26 8-14 5-29-12z"/>
<path color="#fcfcfc" d="m-227-214l27-3 4 29-22 8z"/>
<path color="#626262" d="m223-485l20-12-10 19-21 10z"/>
<path color="#bebebe" d="m-163-235l30 1-5 19-30 0z"/>
<path color="#c4c4c4" d="m-119-304l29 2-7 18-19 11z"/>
<path color="#4c4c4c" d="m174-440l19-14-14 7-27-4z"/>
<path color="#d2d2d2" d="m-196-240l33 5-5 20-32-2z"/>
<path color="#676767" d="m325-495l21-9-11 21-23 0z"/>
<path color="#ccc" d="m-137-264l21-9 3 29-20 10z"/>
<path color="#5c5c5c" d="m-49-311l23-6-12 11-22 6z"/>
<path color="#4c4c4c" d="m-36 289l21-12 19 4-21 3z"/>
<path color="#c4c4c4" d="m-224-238l28-2-4 23-27 3z"/>
<path color="#606060" d="m-24-342l18-13-7 18-13 20z"/>
<path color="#4d4d4d" d="m261-494l25 3-17 1-26-7z"/>
<path color="#4c4c4c" d="m4 281l21 2 18 15-22-11z"/>
<path color="#4c4c4c" d="m207-458l16-27-11 17-19 14z"/>
<path color="#dcdcdc" d="m-142-298l23-6 3 31-21 9z"/>
<path color="#575757" d="m2-374l27 2-18 1-17 16z"/>
<path color="#909090" d="m-81-319l32 8-11 11-30-2z"/>
<path color="#f1f1f1" d="m-160-258l23-6 4 30-30-1z"/>
<path color="#4e4e4e" d="m304-484l21-11-13 12-26-8z"/>
<path color="#4c4c4c" d="m97-407l16-20-15 6-12 28z"/>
<path color="#b7b7b7" d="m-113-326l32 7-9 17-29-2z"/>
<path color="#a5a5a5" d="m-184-253l24-5-3 23-33-5z"/>
<path color="#b5b5b5" d="m-46-335l22-7-2 25-23 6z"/>
<path color="#4c4c4c" d="m240-484l21-10-18-3-20 12z"/>
<path color="#4e4e4e" d="m44-377l26 1-17 0-24 4z"/>
<path color="#a7a7a7" d="m-24-373l26-1-8 19-18 13z"/>
<path color="#acacac" d="m-157-282l15-16 5 34-23 6z"/>
<path color="#9b9b9b" d="m-137-321l24-5-6 22-23 6z"/>
<path color="#595959" d="m-207-247l23-6-12 13-28 2z"/>
<path color="#4e4e4e" d="m-17 284l21-3 17 6-21-1z"/>
<path color="#b6b6b6" d="m-71-333l25-2-3 24-32-8z"/>
<path color="#585858" d="m78-393l19-14-11 14-16 17z"/>
<path color="#6f6f6f" d="m12-388l32 11-15 5-27-2z"/>
<path color="#bcbcbc" d="m-44-364l20-9 0 31-22 7z"/>
<path color="#525252" d="m105-426l24-1-16 0-16 20z"/>
<path color="#6e6e6e" d="m-97-332l26-1-10 14-32-7z"/>
<path color="#5d5d5d" d="m-170-262l13-20-3 24-24 5z"/>
<path color="#565656" d="m-150-300l13-21-5 23-15 16z"/>
<path color="#9c9c9c" d="m-16-395l28 7-10 14-26 1z"/>
<path color="#848484" d="m54-390l24-3-8 17-26-1z"/>
<path color="#4c4c4c" d="m146-427l26 7-19-11-24 4z"/>
<path color="#4f4f4f" d="m-119-325l22-7-16 6-24 5z"/>
<path color="#828282" d="m-61-346l17-18-2 29-25 2z"/>
<path color="#858585" d="m83-421l22-5-8 19-19 14z"/>
<path color="#4c4c4c" d="m-187-248l17-14-14 9-23 6z"/>
<path color="#727272" d="m-36-383l20-12-8 22-20 9z"/>
<path color="#777" d="m27-395l27 5-10 13-32-11z"/>
<path color="#4d4d4d" d="m185-427l21-11-14 6-20 12z"/>
<path color="#4c4c4c" d="m-159-275l9-25-7 18-13 20z"/>
<path color="#5a5a5a" d="m117-439l29 12-17 0-24 1z"/>
<path color="#4c4c4c" d="m-77-329l16-17-10 13-26 1z"/>
<path color="#949494" d="m62-409l21-12-5 28-24 3z"/>
<path color="#4c4c4c" d="m217-454l22-7-16 0-17 23z"/>
<path color="#545454" d="m2-395l25 0-15 7-28-7z"/>
<path color="#545454" d="m160-430l25 3-13 7-26-7z"/>
<path color="#4e4e4e" d="m-49-357l13-26-8 19-17 18z"/>
<path color="#787878" d="m93-440l24 1-12 13-22 5z"/>
<path color="#5c5c5c" d="m44-395l18-14-8 19-27-5z"/>
<path color="#5f5f5f" d="m196-447l21-7-11 16-21 11z"/>
<path color="#4c4c4c" d="m-19-385l21-10-18 0-20 12z"/>
<path color="#4c4c4c" d="m-175-259l16-16-11 13-17 14z"/>
<path color="#4c4c4c" d="m-154-296l17-16-13 12-9 25z"/>
<path color="#4e4e4e" d="m134-439l26 9-14 3-29-12z"/>
<path color="#575757" d="m74-423l19-17-10 19-21 12z"/>
<path color="#4c4c4c" d="m-123-318l25-1-21-6-18 13z"/>
<path color="#5e5e5e" d="m175-437l21-10-11 20-25-3z"/>
<path color="#7c7c7c" d="m-173-284l19-12-5 21-16 16z"/>
<path color="#4c4c4c" d="m111-438l23-1-17 0-24-1z"/>
<path color="#4c4c4c" d="m60-394l14-29-12 14-18 14z"/>
<path color="#4c4c4c" d="m-81-319l20-12-16 2-21 10z"/>
<path color="#6b6b6b" d="m-150-320l27 2-14 6-17 16z"/>
<path color="#4c4c4c" d="m154-426l21-11-15 7-26-9z"/>
<path color="#4c4c4c" d="m-52-346l16-20-13 9-12 26z"/>
<path color="#525252" d="m-109-326l28 7-17 0-25 1z"/>
<path color="#b8b8b8" d="m-174-317l24-3-4 24-19 12z"/>
<path color="#666" d="m-73-336l21-10-9 15-20 12z"/>
<path color="#858585" d="m-141-337l32 11-14 8-27-2z"/>
<path color="#5d5d5d" d="m-45-370l23-2-14 6-16 20z"/>
<path color="#989898" d="m-167-339l26 2-9 17-24 3z"/>
<path color="#4c4c4c" d="m57-378l18-20-15 4-17 23z"/>
<path color="#8a8a8a" d="m-98-337l25 1-8 17-28-7z"/>
<path color="#4c4c4c" d="m-7-377l28 11-19-8-24 2z"/>
<path color="#949494" d="m-67-363l22-7-7 24-21 10z"/>
<path color="#676767" d="m-125-341l27 4-11 11-32-11z"/>
<path color="#515151" d="m34-372l23-6-14 7-22 5z"/>
<path color="#6a6a6a" d="m-34-387l27 10-15 5-23 2z"/>
<path color="#838383" d="m-87-350l20-13-6 27-25-1z"/>
<path color="#4f4f4f" d="m67-398l22-6-14 6-18 20z"/>
<path color="#505050" d="m-149-339l24-2-16 4-26-2z"/>
<path color="#525252" d="m9-379l25 7-13 6-28-11z"/>
<path color="#6f6f6f" d="m-57-382l23-5-11 17-22 7z"/>
<path color="#515151" d="m-106-335l19-15-11 13-27-4z"/>
<path color="#686868" d="m46-389l21-9-10 20-23 6z"/>
<path color="#4e4e4e" d="m-17-385l26 6-16 2-27-10z"/>
<path color="#505050" d="m-73-359l16-23-10 19-20 13z"/>
<path color="#555" d="m25-379l21-10-12 17-25-7z"/>
<path color="#4c4c4c" d="m-39-380l22-5-17-2-23 5z"/>
<path color="#4c4c4c" d="m4-369l21-10-16 0-26-6z"/>
<path color="#4c4c4c" d="m-93-320l19-15-14 4-18 18z"/>
<path color="#4c4c4c" d="m-61-348l22-6-18-6-17 25z"/>
<path color="#555" d="m-83-340l22-8-13 13-19 15z"/>
</g></g>
<path d="M85.7 -61.3L85 -61.9L84.3 -62.8L83.6 -63.9L82.8 -65.1L82 -66.3L81.2 -67.3L80.4 -68L79.6 -68.4L78.9 -68.4L78.3 -68L77.8 -67.4L77.3 -66.5L76.9 -65.6L76.5 -64.8L76 -64.2L75.5 -64L74.9 -64L74.1 -64.4L73.3 -65L72.4 -65.6L71.4 -66.3L70.5 -66.7L69.7 -66.8L69.1 -66.6L68.6 -66L68.4 -65.1L68.3 -63.9L68.3 -62.5L68.4 -61.2L68.4 -60L68.3 -59L68.1 -58.3L67.6 -57.8L67 -57.6L66.3 -57.5L65.4 -57.4L64.6 -57.3L63.9 -57L63.3 -56.5L63 -55.7L62.9 -54.7L63.1 -53.4L63.5 -52L64 -50.6L64.5 -49.2L64.9 -47.9L65.2 -46.7L65.3 -45.7L65.2 -44.8L64.9 -44L64.5 -43.3L64 -42.5L63.5 -41.7L63.1 -40.8L62.9 -39.8L63 -38.6L63.3 -37.4L63.9 -36.2L64.6 -35L65.4 -33.8L66.3 -32.7L67 -31.7L67.6 -30.7L68.1 -29.6L68.3 -28.6L68.4 -27.5L68.4 -26.3L68.3 -25L68.3 -23.7L68.4 -22.4L68.6 -21.1L69.1 -20L69.7 -18.9L70.5 -18.1L71.4 -17.4L72.4 -16.8L73.3 -16.3L74.1 -15.8L74.9 -15.2L75.5 -14.4L76 -13.5L76.5 -12.3L76.9 -11L77.3 -9.6L77.8 -8.2L78.3 -6.8L78.9 -5.6L79.6 -4.7L80.4 -4.1L81.2 -3.8L82 -3.8L82.8 -4L83.6 -4.2L84.3 -4.4L85 -4.4L85.7 -4.1" fill="none" stroke="#000" stroke-width="1.6"/>
<path d="M0 -43.8L85.7 -76.5L85.7 -61.3L84.8 -61.1L83.9 -61.3L83 -61.6L82.1 -62.1L81.2 -62.6L80.3 -63L79.5 -63.1L78.6 -63L77.7 -62.4L76.8 -61.6L75.9 -60.6L75 -59.4L74.1 -58.2L73.2 -57.2L72.3 -56.4L71.4 -55.9L70.5 -55.7L69.6 -55.8L68.7 -56.2L67.8 -56.7L67 -57.2L66.1 -57.5L65.2 -57.7L64.3 -57.5L63.4 -57L62.5 -56.2L61.6 -55.1L60.7 -54L59.8 -52.8L58.9 -51.7L58 -50.9L57.1 -50.4L56.2 -50.2L55.3 -50.4L54.5 -50.7L53.6 -51.2L52.7 -51.7L51.8 -52.1L50.9 -52.2L50 -52.1L49.1 -51.5L48.2 -50.7L47.3 -49.7L46.4 -48.5L45.5 -47.3L44.6 -46.3L43.7 -45.5L42.9 -45L42 -44.8L41.1 -44.9L40.2 -45.3L39.3 -45.8L38.4 -46.3L37.5 -46.6L36.6 -46.8L35.7 -46.6L34.8 -46.1L33.9 -45.3L33 -44.2L32.1 -43.1L31.2 -41.9L30.4 -40.8L29.5 -40L28.6 -39.5L27.7 -39.3L26.8 -39.5L25.9 -39.8L25 -40.3L24.1 -40.8L23.2 -41.2L22.3 -41.3L21.4 -41.2L20.5 -40.6L19.6 -39.8L18.7 -38.8L17.9 -37.6L17 -36.4L16.1 -35.4L15.2 -34.6L14.3 -34.1L13.4 -33.9L12.5 -34L11.6 -34.4L10.7 -34.9L9.8 -35.4L8.9 -35.7L8 -35.9L7.1 -35.7L6.2 -35.2L5.4 -34.4L4.5 -33.3L3.6 -32.2L2.7 -31L1.8 -29.9L0.9 -29.1L0 -28.6z" fill="#b3b3b3" stroke="#000" stroke-width="1.7" stroke-linejoin="round"/>
<path d="M0 28.6L0.9 28.4L1.8 28.6L2.7 28.9L3.6 29.4L4.5 29.9L5.4 30.3L6.2 30.4L7.1 30.3L8 29.7L8.9 28.9L9.8 27.9L10.7 26.7L11.6 25.5L12.5 24.5L13.4 23.7L14.3 23.2L15.2 23L16.1 23.1L17 23.5L17.9 24L18.7 24.5L19.6 24.8L20.5 25L21.4 24.8L22.3 24.3L23.2 23.5L24.1 22.4L25 21.3L25.9 20.1L26.8 19L27.7 18.2L28.6 17.7L29.5 17.5L30.4 17.7L31.2 18L32.1 18.5L33 19L33.9 19.4L34.8 19.5L35.7 19.4L36.6 18.8L37.5 18L38.4 17L39.3 15.8L40.2 14.6L41.1 13.6L42 12.8L42.9 12.3L43.7 12.1L44.6 12.2L45.5 12.6L46.4 13.1L47.3 13.6L48.2 13.9L49.1 14.1L50 13.9L50.9 13.4L51.8 12.6L52.7 11.5L53.6 10.4L54.5 9.2L55.3 8.1L56.2 7.3L57.1 6.8L58 6.6L58.9 6.8L59.8 7.1L60.7 7.6L61.6 8.1L62.5 8.5L63.4 8.6L64.3 8.5L65.2 7.9L66.1 7.1L67 6.1L67.8 4.9L68.7 3.7L69.6 2.7L70.5 1.9L71.4 1.4L72.3 1.2L73.2 1.3L74.1 1.7L75 2.2L75.9 2.7L76.8 3L77.7 3.2L78.6 3L79.5 2.5L80.3 1.7L81.2 0.6L82.1 -0.5L83 -1.7L83.9 -2.8L84.8 -3.6L85.7 -4.1L85.7 11.1L0 43.8z" fill="#b0b0b0" stroke="#000" stroke-width="1.7" stroke-linejoin="round"/>
<path d="M0 -43.8L-1.6 -44.8L-3.3 -45.6L-4.9 -46.4L-6.5 -47L-8.1 -47.5L-9.6 -47.8L-11.2 -48L-12.7 -48.1L-14.2 -48.1L-15.6 -47.9L-17 -47.6L-18.3 -47.1L-19.6 -46.6L-20.9 -45.9L-22.1 -45L-23.2 -44.1L-24.2 -43L-25.2 -41.8L-26.2 -40.5L-27 -39.1L-27.8 -37.6L-28.5 -36L-29.1 -34.3L-29.7 -32.4L-30.1 -30.5L-30.5 -28.6L-30.8 -26.5L-31 -24.4L-31.1 -22.2L-31.2 -19.9L-31.1 -17.6L-31 -15.2L-30.8 -12.8L-30.5 -10.3L-30.1 -7.9L-29.7 -5.4L-29.1 -2.9L-28.5 -0.4L-27.8 2.2L-27 4.7L-26.2 7.2L-25.2 9.7L-24.2 12.1L-23.2 14.5L-22.1 16.9L-20.9 19.2L-19.6 21.5L-18.3 23.7L-17 25.9L-15.6 28L-14.2 30L-12.7 31.9L-11.2 33.8L-9.6 35.5L-8.1 37.2L-6.5 38.7L-4.9 40.2L-3.3 41.5L-1.6 42.7L0 43.8L0 28.6L-0.7 28.3L-1.4 28.3L-2.1 28.5L-2.9 28.7L-3.7 28.9L-4.5 28.9L-5.3 28.6L-6.1 28L-6.8 27.1L-7.4 25.9L-7.9 24.5L-8.4 23.1L-8.8 21.7L-9.2 20.4L-9.7 19.2L-10.2 18.3L-10.8 17.5L-11.6 16.9L-12.4 16.4L-13.3 15.9L-14.3 15.3L-15.2 14.6L-16 13.8L-16.6 12.7L-17.1 11.6L-17.3 10.3L-17.4 9L-17.4 7.7L-17.3 6.4L-17.3 5.2L-17.4 4.1L-17.6 3.1L-18.1 2L-18.7 1L-19.4 0L-20.3 -1.1L-21.1 -2.3L-21.8 -3.5L-22.4 -4.7L-22.7 -5.9L-22.8 -7.1L-22.6 -8.1L-22.2 -9L-21.7 -9.8L-21.2 -10.6L-20.8 -11.3L-20.5 -12.1L-20.4 -13L-20.5 -14L-20.8 -15.2L-21.2 -16.5L-21.7 -17.9L-22.2 -19.3L-22.6 -20.7L-22.8 -22L-22.7 -23L-22.4 -23.8L-21.8 -24.3L-21.1 -24.6L-20.3 -24.7L-19.4 -24.8L-18.7 -24.9L-18.1 -25.1L-17.6 -25.6L-17.4 -26.3L-17.3 -27.3L-17.3 -28.5L-17.4 -29.8L-17.4 -31.2L-17.3 -32.4L-17.1 -33.3L-16.6 -33.9L-16 -34.1L-15.2 -34L-14.3 -33.6L-13.3 -32.9L-12.4 -32.3L-11.6 -31.7L-10.8 -31.3L-10.2 -31.3L-9.7 -31.5L-9.2 -32.1L-8.8 -32.9L-8.4 -33.8L-7.9 -34.7L-7.4 -35.3L-6.8 -35.7L-6.1 -35.7L-5.3 -35.3L-4.5 -34.6L-3.7 -33.6L-2.9 -32.4L-2.1 -31.2L-1.4 -30.1L-0.7 -29.2L0 -28.6z" fill="url(#fc)" stroke="#000" stroke-width="1.7" stroke-linejoin="round"/>
<path d="M-18.3 -47.1L67.4 -79.8L68.6 -80.2L69.9 -80.5L71.2 -80.7L72.6 -80.8L74 -80.8L75.4 -80.6L76.8 -80.4L78.2 -80L79.7 -79.5L81.2 -78.9L82.7 -78.2L84.2 -77.4L85.7 -76.5" fill="none" stroke="#2a2a2a" stroke-width="1.1" stroke-linejoin="round"/>
<path d="M0 -43.8L85.7 -76.5" fill="none" stroke="#000" stroke-width="2.1"/>
</g>
<g transform="translate(941.9 625.3)">
<defs>
<linearGradient id="sd" gradientUnits="userSpaceOnUse" x1="-18.3" y1="-47.1" x2="-14.9" y2="-38.1"><stop offset="0" stop-color="#454545"/><stop offset=".3" stop-color="#6c6c6c"/><stop offset="1" stop-color="#a2a2a2"/></linearGradient>
<linearGradient id="fd" gradientUnits="userSpaceOnUse" x1="-30" y1="-35" x2="-5" y2="40"><stop offset="0" stop-color="#7c7c7c"/><stop offset="1" stop-color="#a0a0a0"/></linearGradient>
<clipPath id="cd"><path d="M0 -26.4L1.8 -27.5L3.6 -29.1L5.4 -31.2L7.1 -33.5L8.9 -35.9L10.7 -38L12.5 -39.6L14.3 -40.6L16.1 -41L17.9 -40.7L19.6 -40L21.4 -39L23.2 -38L25 -37.3L26.8 -37L28.6 -37.3L30.4 -38.4L32.1 -40L33.9 -42.1L35.7 -44.4L37.5 -46.8L39.3 -48.9L41.1 -50.5L42.9 -51.5L44.6 -51.9L46.4 -51.6L48.2 -50.9L50 -49.9L51.8 -48.9L53.6 -48.2L55.3 -47.9L57.1 -48.2L58.9 -49.3L60.7 -50.9L62.5 -53L64.3 -55.3L66.1 -57.7L67.8 -59.8L69.6 -61.4L71.4 -62.4L73.2 -62.8L75 -62.5L76.8 -61.8L78.6 -60.8L80.3 -59.8L82.1 -59.1L83.9 -58.8L85.7 -59.1L85.7 -59.1L84.5 -60.2L83.1 -61.8L81.7 -63.9L80 -66.1L78.3 -68.2L76.5 -69.9L74.7 -70.9L73.2 -71.1L71.9 -70.4L71 -68.9L70.5 -66.8L70.2 -64.4L70.1 -61.9L70 -59.6L69.9 -57.7L69.4 -56.3L68.6 -55.4L67.5 -54.9L66.1 -54.6L64.5 -54.2L63 -53.5L61.8 -52.4L61 -50.8L60.7 -48.7L61 -46.2L61.8 -43.5L63 -40.8L64.5 -38.2L66.1 -35.9L67.5 -33.7L68.6 -31.8L69.4 -29.9L69.9 -27.9L70 -25.8L70.1 -23.4L70.2 -20.8L70.5 -18L71 -15.2L71.9 -12.5L73.2 -10.2L74.7 -8.5L76.5 -7.3L78.3 -6.7L80 -6.6L81.7 -6.7L83.1 -6.9L84.5 -6.8L85.7 -6.3L85.7 -6.3L83.9 -5.2L82.1 -3.6L80.3 -1.5L78.6 0.8L76.8 3.2L75 5.3L73.2 6.9L71.4 7.9L69.6 8.3L67.8 8L66.1 7.3L64.3 6.3L62.5 5.3L60.7 4.6L58.9 4.3L57.1 4.6L55.3 5.7L53.6 7.3L51.8 9.4L50 11.7L48.2 14.1L46.4 16.2L44.6 17.8L42.9 18.8L41.1 19.2L39.3 18.9L37.5 18.2L35.7 17.2L33.9 16.2L32.1 15.5L30.4 15.2L28.6 15.5L26.8 16.6L25 18.2L23.2 20.3L21.4 22.6L19.6 25L17.9 27.1L16.1 28.7L14.3 29.7L12.5 30.1L10.7 29.8L8.9 29.1L7.1 28.1L5.4 27.1L3.6 26.4L1.8 26.1L0 26.4L0 26.4L-1.2 25.9L-2.6 25.8L-4 26L-5.7 26.1L-7.4 26L-9.2 25.4L-11 24.2L-12.5 22.5L-13.8 20.2L-14.7 17.5L-15.2 14.7L-15.5 11.9L-15.6 9.3L-15.7 6.9L-15.8 4.8L-16.3 2.8L-17.1 0.9L-18.2 -1L-19.6 -3.2L-21.2 -5.5L-22.7 -8.1L-23.9 -10.8L-24.7 -13.5L-25 -16L-24.7 -18.1L-23.9 -19.7L-22.7 -20.8L-21.2 -21.5L-19.6 -21.9L-18.2 -22.2L-17.1 -22.7L-16.3 -23.6L-15.8 -25L-15.7 -26.9L-15.6 -29.2L-15.5 -31.7L-15.2 -34.1L-14.7 -36.2L-13.8 -37.7L-12.5 -38.4L-11 -38.2L-9.2 -37.2L-7.4 -35.5L-5.7 -33.4L-4 -31.2L-2.6 -29.1L-1.2 -27.5L0 -26.4z"/></clipPath>
</defs>
<path d="M0 -43.8L-1.5 -44.7L-3 -45.5L-4.5 -46.2L-6 -46.8L-7.5 -47.3L-8.9 -47.7L-10.3 -47.9L-11.7 -48.1L-13.1 -48.1L-14.5 -48L-15.8 -47.8L-17.1 -47.5L-18.3 -47.1L67.4 -79.8L68.6 -80.2L69.9 -80.5L71.2 -80.7L72.6 -80.8L74 -80.8L75.4 -80.6L76.8 -80.4L78.2 -80L79.7 -79.5L81.2 -78.9L82.7 -78.2L84.2 -77.4L85.7 -76.5z" fill="url(#sd)"/>
<g clip-path="url(#cd)">
<path d="M0 -26.4L1.8 -27.5L3.6 -29.1L5.4 -31.2L7.1 -33.5L8.9 -35.9L10.7 -38L12.5 -39.6L14.3 -40.6L16.1 -41L17.9 -40.7L19.6 -40L21.4 -39L23.2 -38L25 -37.3L26.8 -37L28.6 -37.3L30.4 -38.4L32.1 -40L33.9 -42.1L35.7 -44.4L37.5 -46.8L39.3 -48.9L41.1 -50.5L42.9 -51.5L44.6 -51.9L46.4 -51.6L48.2 -50.9L50 -49.9L51.8 -48.9L53.6 -48.2L55.3 -47.9L57.1 -48.2L58.9 -49.3L60.7 -50.9L62.5 -53L64.3 -55.3L66.1 -57.7L67.8 -59.8L69.6 -61.4L71.4 -62.4L73.2 -62.8L75 -62.5L76.8 -61.8L78.6 -60.8L80.3 -59.8L82.1 -59.1L83.9 -58.8L85.7 -59.1L85.7 -59.1L84.5 -60.2L83.1 -61.8L81.7 -63.9L80 -66.1L78.3 -68.2L76.5 -69.9L74.7 -70.9L73.2 -71.1L71.9 -70.4L71 -68.9L70.5 -66.8L70.2 -64.4L70.1 -61.9L70 -59.6L69.9 -57.7L69.4 -56.3L68.6 -55.4L67.5 -54.9L66.1 -54.6L64.5 -54.2L63 -53.5L61.8 -52.4L61 -50.8L60.7 -48.7L61 -46.2L61.8 -43.5L63 -40.8L64.5 -38.2L66.1 -35.9L67.5 -33.7L68.6 -31.8L69.4 -29.9L69.9 -27.9L70 -25.8L70.1 -23.4L70.2 -20.8L70.5 -18L71 -15.2L71.9 -12.5L73.2 -10.2L74.7 -8.5L76.5 -7.3L78.3 -6.7L80 -6.6L81.7 -6.7L83.1 -6.9L84.5 -6.8L85.7 -6.3L85.7 -6.3L83.9 -5.2L82.1 -3.6L80.3 -1.5L78.6 0.8L76.8 3.2L75 5.3L73.2 6.9L71.4 7.9L69.6 8.3L67.8 8L66.1 7.3L64.3 6.3L62.5 5.3L60.7 4.6L58.9 4.3L57.1 4.6L55.3 5.7L53.6 7.3L51.8 9.4L50 11.7L48.2 14.1L46.4 16.2L44.6 17.8L42.9 18.8L41.1 19.2L39.3 18.9L37.5 18.2L35.7 17.2L33.9 16.2L32.1 15.5L30.4 15.2L28.6 15.5L26.8 16.6L25 18.2L23.2 20.3L21.4 22.6L19.6 25L17.9 27.1L16.1 28.7L14.3 29.7L12.5 30.1L10.7 29.8L8.9 29.1L7.1 28.1L5.4 27.1L3.6 26.4L1.8 26.1L0 26.4L0 26.4L-1.2 25.9L-2.6 25.8L-4 26L-5.7 26.1L-7.4 26L-9.2 25.4L-11 24.2L-12.5 22.5L-13.8 20.2L-14.7 17.5L-15.2 14.7L-15.5 11.9L-15.6 9.3L-15.7 6.9L-15.8 4.8L-16.3 2.8L-17.1 0.9L-18.2 -1L-19.6 -3.2L-21.2 -5.5L-22.7 -8.1L-23.9 -10.8L-24.7 -13.5L-25 -16L-24.7 -18.1L-23.9 -19.7L-22.7 -20.8L-21.2 -21.5L-19.6 -21.9L-18.2 -22.2L-17.1 -22.7L-16.3 -23.6L-15.8 -25L-15.7 -26.9L-15.6 -29.2L-15.5 -31.7L-15.2 -34.1L-14.7 -36.2L-13.8 -37.7L-12.5 -38.4L-11 -38.2L-9.2 -37.2L-7.4 -35.5L-5.7 -33.4L-4 -31.2L-2.6 -29.1L-1.2 -27.5L0 -26.4z" fill="#b4b4b4"/>
<g transform="scale(.1)" fill="currentColor" stroke="currentColor" stroke-width="5" stroke-linejoin="round" filter="url(#bl10)">
<path color="#a7a7a7" d="m689-140l22-7 15 35-22 6z"/>
<path color="#ababab" d="m681-178l23-9 7 40-22 7z"/>
<path color="#8e8e8e" d="m704-106l22-6 21 27-22 5z"/>
<path color="#a9a9a9" d="m677-216l24-9 3 38-23 9z"/>
<path color="#777" d="m671-138l18-2 15 34-18-1z"/>
<path color="#969696" d="m659-171l22-7 8 38-18 2z"/>
<path color="#b0b0b0" d="m593-437l20-11 16 38-22 10z"/>
<path color="#656565" d="m725-80l22-5 25 15-23 6z"/>
<path color="#9b9b9b" d="m587-472l20-12 6 36-20 11z"/>
<path color="#5d5d5d" d="m686-107l18 1 21 26-19-1z"/>
<path color="#b7b7b7" d="m607-400l22-10 21 36-24 9z"/>
<path color="#b3b3b3" d="m651-205l26-11 4 38-22 7z"/>
<path color="#aeaeae" d="m674-249l26-10 1 34-24 9z"/>
<path color="#bdbdbd" d="m626-365l24-9 21 31-26 9z"/>
<path color="#d2d2d2" d="m644-237l30-12 3 33-26 11z"/>
<path color="#6f6f6f" d="m591-501l20-12-4 29-20 12z"/>
<path color="#909090" d="m578-424l15-13 14 37-19 10z"/>
<path color="#b6b6b6" d="m588-390l19-10 19 35-25 9z"/>
<path color="#fff" d="m520-266l33-10 10 33-33 12z"/>
<path color="#bfbfbf" d="m624-194l27-11 8 34-21 6z"/>
<path color="#848484" d="m638-165l21-6 12 33-17 1z"/>
<path color="#fcfcfc" d="m530-231l33-12 16 32-31 12z"/>
<path color="#4f4f4f" d="m706-81l19 1 24 16-22 2z"/>
<path color="#c6c6c6" d="m670-278l27-10 3 29-26 10z"/>
<path color="#fff" d="m563-243l37-12 11 31-32 13z"/>
<path color="#fdfdfd" d="m611-224l33-13 7 32-27 11z"/>
<path color="#fff" d="m553-276l37-10 10 31-37 12z"/>
<path color="#e5e5e5" d="m492-257l28-9 10 35-27 10z"/>
<path color="#d4d4d4" d="m645-334l26-9 16 28-27 10z"/>
<path color="#595959" d="m654-137l17-1 15 31-15-4z"/>
<path color="#686868" d="m575-456l12-16 6 35-15 13z"/>
<path color="#e3e3e3" d="m601-356l25-9 19 31-30 9z"/>
<path color="#fff" d="m600-255l36-12 8 30-33 13z"/>
<path color="#d4d4d4" d="m503-221l27-10 18 32-26 10z"/>
<path color="#f4f4f4" d="m579-211l32-13 13 30-26 11z"/>
<path color="#f7f7f7" d="m636-267l34-11 4 29-30 12z"/>
<path color="#eaeaea" d="m660-305l27-10 10 27-27 10z"/>
<path color="#fff" d="m590-286l37-10 9 29-36 12z"/>
<path color="#fafafa" d="m549-308l33-9 8 31-37 10z"/>
<path color="#4d4d4d" d="m749-64l23-6 25 4-24 9z"/>
<path color="#d7d7d7" d="m518-300l31-8 4 32-33 10z"/>
<path color="#fefefe" d="m615-325l30-9 15 29-33 9z"/>
<path color="#fff" d="m582-317l33-8 12 29-37 10z"/>
<path color="#fff" d="m627-296l33-9 10 27-34 11z"/>
<path color="#c6c6c6" d="m548-199l31-12 19 28-26 10z"/>
<path color="#f5f5f5" d="m575-348l26-8 14 31-33 8z"/>
<path color="#4d4d4d" d="m671-111l15 4 20 26-18-5z"/>
<path color="#b1b1b1" d="m598-183l26-11 14 29-20 6z"/>
<path color="#b2b2b2" d="m492-291l26-9 2 34-28 9z"/>
<path color="#aeaeae" d="m570-378l18-12 13 34-26 8z"/>
<path color="#a1a1a1" d="m472-248l20-9 11 36-21 8z"/>
<path color="#cecece" d="m549-339l26-9 7 31-33 9z"/>
<path color="#4f4f4f" d="m577-484l14-17-4 29-12 16z"/>
<path color="#a0a0a0" d="m482-213l21-8 19 32-21 8z"/>
<path color="#a6a6a6" d="m522-189l26-10 24 26-25 10z"/>
<path color="#727272" d="m567-408l11-16 10 34-18 12z"/>
<path color="#4e4e4e" d="m604-521l22-11-15 19-20 12z"/>
<path color="#767676" d="m618-159l20-6 16 28-17 0z"/>
<path color="#4e4e4e" d="m727-62l22-2 24 7-24 8z"/>
<path color="#a2a2a2" d="m524-330l25-9 0 31-31 8z"/>
<path color="#4e4e4e" d="m688-86l18 5 21 19-20-1z"/>
<path color="#8d8d8d" d="m471-282l21-9 0 34-20 9z"/>
<path color="#969696" d="m572-173l26-10 20 24-22 7z"/>
<path color="#4f4f4f" d="m566-437l9-19 3 32-11 16z"/>
<path color="#939393" d="m553-367l17-11 5 30-26 9z"/>
<path color="#929292" d="m501-181l21-8 25 26-23 8z"/>
<path color="#515151" d="m637-137l17 0 17 26-16-4z"/>
<path color="#858585" d="m500-321l24-9-6 30-26 9z"/>
<path color="#4c4c4c" d="m773-57l24-9 22-1-24 11z"/>
<path color="#6d6d6d" d="m458-239l14-9 10 35-14 7z"/>
<path color="#4c4c4c" d="m586-507l18-14-13 20-14 17z"/>
<path color="#767676" d="m468-206l14-7 19 32-18 6z"/>
<path color="#868686" d="m547-163l25-10 24 21-23 8z"/>
<path color="#676767" d="m707-63l20 1 22 13-23 8z"/>
<path color="#4d4d4d" d="m655-115l16 4 17 25-17-5z"/>
<path color="#4c4c4c" d="m567-465l10-19-2 28-9 19z"/>
<path color="#5c5c5c" d="m556-393l11-15 3 30-17 11z"/>
<path color="#707070" d="m596-152l22-7 19 22-18 3z"/>
<path color="#737373" d="m533-356l20-11-4 28-25 9z"/>
<path color="#757575" d="m476-312l24-9-8 30-21 9z"/>
<path color="#6d6d6d" d="m453-272l18-10 1 34-14 9z"/>
<path color="#575757" d="m749-49l24-8 22 1-24 16z"/>
<path color="#868686" d="m483-175l18-6 23 26-22 8z"/>
<path color="#5e5e5e" d="m671-91l17 5 19 23-21 0z"/>
<path color="#4c4c4c" d="m623-533l24-9-21 10-22 11z"/>
<path color="#878787" d="m524-155l23-8 26 19-24 10z"/>
<path color="#4c4c4c" d="m558-418l8-19 1 29-11 15z"/>
<path color="#5d5d5d" d="m619-134l18-3 18 22-18 0z"/>
<path color="#646464" d="m511-346l22-10-9 26-24 9z"/>
<path color="#8a8a8a" d="m726-41l23-8 22 9-26 17z"/>
<path color="#8c8c8c" d="m686-63l21 0 19 22-24 7z"/>
<path color="#4c4c4c" d="m570-491l16-16-9 23-10 19z"/>
<path color="#767676" d="m573-144l23-8 23 18-22 7z"/>
<path color="#757575" d="m454-303l22-9-5 30-18 10z"/>
<path color="#4e4e4e" d="m795-56l24-11 20-2-24 14z"/>
<path color="#4c4c4c" d="m598-525l25-8-19 12-18 14z"/>
<path color="#525252" d="m542-379l14-14-3 26-20 11z"/>
<path color="#999" d="m502-147l22-8 25 21-26 11z"/>
<path color="#5f5f5f" d="m457-200l11-6 15 31-15 5z"/>
<path color="#525252" d="m447-231l11-8 10 33-11 6z"/>
<path color="#666" d="m637-115l18 0 16 24-19-1z"/>
<path color="#b8b8b8" d="m702-34l24-7 19 18-25 18z"/>
<path color="#4c4c4c" d="m557-446l10-19-1 28-8 19z"/>
<path color="#848484" d="m468-170l15-5 19 28-21 7z"/>
<path color="#696969" d="m486-338l25-8-11 25-24 9z"/>
<path color="#6e6e6e" d="m771-40l24-16 20 1-25 22z"/>
<path color="#5e5e5e" d="m439-262l14-10 5 33-11 8z"/>
<path color="#828282" d="m652-92l19 1 15 28-21 1z"/>
<path color="#8c8c8c" d="m549-134l24-10 24 17-26 11z"/>
<path color="#a8a8a8" d="m665-62l21-1 16 29-23 8z"/>
<path color="#9d9d9d" d="m745-23l26-17 19 7-25 27z"/>
<path color="#b6b6b6" d="m481-140l21-7 21 24-27 12z"/>
<path color="#7f7f7f" d="m597-127l22-7 18 19-22 5z"/>
<path color="#4c4c4c" d="m642-541l26-7-21 6-24 9z"/>
<path color="#ccc" d="m679-26l23-8 18 29-24 16z"/>
<path color="#575757" d="m574-516l24-9-12 18-16 16z"/>
<path color="#828282" d="m432-293l22-10-1 31-14 10z"/>
<path color="#c1c1c1" d="m720-5l25-18 20 17-25 27z"/>
<path color="#4e4e4e" d="m546-402l12-16-2 25-14 14z"/>
<path color="#adadad" d="m523-123l26-11 22 18-29 16z"/>
<path color="#5a5a5a" d="m553-475l17-16-3 26-10 19z"/>
<path color="#595959" d="m521-368l21-11-9 23-22 10z"/>
<path color="#838383" d="m457-331l29-7-10 26-22 9z"/>
<path color="#6f6f6f" d="m815-55l24-14 18 6-24 15z"/>
<path color="#e0e0e0" d="m496-111l27-12 19 23-31 17z"/>
<path color="#d9d9d9" d="m696 11l24-16 20 26-24 22z"/>
<path color="#9a9a9a" d="m615-110l22-5 15 23-22 5z"/>
<path color="#c7c7c7" d="m460-132l21-8 15 29-27 12z"/>
<path color="#fff" d="m469-99l27-12 15 28-31 18z"/>
<path color="#4d4d4d" d="m612-539l30-2-19 8-25 8z"/>
<path color="#c6c6c6" d="m655-17l24-9 17 37-24 11z"/>
<path color="#b9b9b9" d="m642-55l23-7 14 36-24 9z"/>
<path color="#a6a6a6" d="m571-116l26-11 18 17-26 13z"/>
<path color="#888" d="m453-164l15-6 13 30-21 8z"/>
<path color="#909090" d="m790-33l25-22 18 7-24 25z"/>
<path color="#adadad" d="m630-87l22-5 13 30-23 7z"/>
<path color="#fff" d="m451-50l29-15 16 31-30 19z"/>
<path color="#fff" d="m480-65l31-18 17 27-32 22z"/>
<path color="#acacac" d="m427-324l30-7-3 28-22 10z"/>
<path color="#f1f1f1" d="m443-88l26-11 11 34-29 15z"/>
<path color="#5f5f5f" d="m543-429l14-17 1 28-12 16z"/>
<path color="#5e5e5e" d="m446-194l11-6 11 30-15 6z"/>
<path color="#858585" d="m550-508l24-8-4 25-17 16z"/>
<path color="#a4a4a4" d="m765-6l25-27 19 10-23 31z"/>
<path color="#c8c8c8" d="m672 22l24-11 20 32-24 14z"/>
<path color="#727272" d="m494-361l27-7-10 22-25 8z"/>
<path color="#eaeaea" d="m511-83l31-17 18 22-32 22z"/>
<path color="#c6c6c6" d="m542-100l29-16 18 19-29 19z"/>
<path color="#535353" d="m436-223l11-8 10 31-11 6z"/>
<path color="#b0b0b0" d="m740 21l25-27 21 14-24 31z"/>
<path color="#e6e6e6" d="m426-38l25-12 15 35-26 12z"/>
<path color="#666" d="m424-252l15-10 8 31-11 8z"/>
<path color="#727272" d="m580-539l32 0-14 14-24 9z"/>
<path color="#dfdfdf" d="m466-15l30-19 19 26-28 19z"/>
<path color="#b6b6b6" d="m716 43l24-22 22 18-24 25z"/>
<path color="#959595" d="m410-284l22-9 7 31-15 10z"/>
<path color="#e4e4e4" d="m496-34l32-22 17 25-30 23z"/>
<path color="#6d6d6d" d="m526-390l20-12-4 23-21 11z"/>
<path color="#d4d4d4" d="m589-97l26-13 15 23-26 13z"/>
<path color="#b6b6b6" d="m439-125l21-7 9 33-26 11z"/>
<path color="#c7c7c7" d="m418-78l25-10 8 38-25 12z"/>
<path color="#828282" d="m535-462l18-13 4 29-14 17z"/>
<path color="#989898" d="m461-356l33-5-8 23-29 7z"/>
<path color="#bdbdbd" d="m631-8l24-9 17 39-24 7z"/>
<path color="#d2d2d2" d="m397-317l30-7 5 31-22 9z"/>
<path color="#ccc" d="m617-44l25-11 13 38-24 9z"/>
<path color="#bfbfbf" d="m440-3l26-12 21 26-26 13z"/>
<path color="#e2e2e2" d="m604-74l26-13 12 32-25 11z"/>
<path color="#4c4c4c" d="m658-549l27-5-17 6-26 7z"/>
<path color="#efefef" d="m528-56l32-22 16 24-31 23z"/>
<path color="#f6f6f6" d="m560-78l29-19 15 23-28 20z"/>
<path color="#c1c1c1" d="m425-354l36-2-4 25-30 7z"/>
<path color="#a8a8a8" d="m692 57l24-14 22 21-24 15z"/>
<path color="#a7a7a7" d="m648 29l24-7 20 35-24 4z"/>
<path color="#f8f8f8" d="m388-351l37-3 2 30-30 7z"/>
<path color="#a7a7a7" d="m548-539l32 0-6 23-24 8z"/>
<path color="#a8a8a8" d="m526-499l24-9 3 33-18 13z"/>
<path color="#a7a7a7" d="m404-31l22-7 14 35-21 6z"/>
<path color="#fff" d="m576-54l28-20 13 30-26 17z"/>
<path color="#8f8f8f" d="m436-158l17-6 7 32-21 7z"/>
<path color="#fefefe" d="m355-346l33-5 9 34-28 8z"/>
<path color="#f3f3f3" d="m545-31l31-23 15 27-27 19z"/>
<path color="#939393" d="m523-417l20-12 3 27-20 12z"/>
<path color="#c3c3c3" d="m515-8l30-23 19 23-27 19z"/>
<path color="#e6e6e6" d="m591-27l26-17 14 36-24 10z"/>
<path color="#595959" d="m625-552l33 3-16 8-30 2z"/>
<path color="#aaa" d="m416-116l23-9 4 37-25 10z"/>
<path color="#cfcfcf" d="m369-309l28-8 13 33-22 10z"/>
<path color="#979797" d="m498-384l28-6-5 22-27 7z"/>
<path color="#ababab" d="m395-69l23-9 8 40-22 7z"/>
<path color="#a7a7a7" d="m487 11l28-19 22 19-26 16z"/>
<path color="#b0b0b0" d="m607 2l24-10 17 37-23 3z"/>
<path color="#8e8e8e" d="m419 3l21-6 21 27-22 5z"/>
<path color="#dcdcdc" d="m384-383l39 0 2 29-37 3z"/>
<path color="#ededed" d="m349-381l35-2 4 32-33 5z"/>
<path color="#a1a1a1" d="m388-274l22-10 14 32-17 9z"/>
<path color="#bfbfbf" d="m519-537l29-2 2 31-24 9z"/>
<path color="#b3b3b3" d="m463-382l35-2-4 23-33 5z"/>
<path color="#acacac" d="m513-451l22-11 8 33-20 12z"/>
<path color="#c4c4c4" d="m423-383l40 1-2 26-36 2z"/>
<path color="#7d7d7d" d="m668 61l24-4 22 22-24 3z"/>
<path color="#dadada" d="m328-339l27-7 14 37-25 8z"/>
<path color="#848484" d="m588-560l37 8-13 13-32 0z"/>
<path color="#747474" d="m432-187l14-7 7 30-17 6z"/>
<path color="#d2d2d2" d="m564-8l27-19 16 29-24 11z"/>
<path color="#878787" d="m461 24l26-13 24 16-25 12z"/>
<path color="#808080" d="m407-243l17-9 12 29-14 8z"/>
<path color="#b9b9b9" d="m502-490l24-9 9 37-22 11z"/>
<path color="#d0d0d0" d="m321-375l28-6 6 35-27 7z"/>
<path color="#7f7f7f" d="m625 32l23-3 20 32-23-4z"/>
<path color="#6f6f6f" d="m422-215l14-8 10 29-14 7z"/>
<path color="#bdbdbd" d="m344-301l25-8 19 35-23 9z"/>
<path color="#5f5f5f" d="m668-563l28-4-11 13-27 5z"/>
<path color="#c3c3c3" d="m495-411l28-6 3 27-28 6z"/>
<path color="#a7a7a7" d="m552-568l36 8-8 21-32 0z"/>
<path color="#a9a9a9" d="m391-107l25-9 2 38-23 9z"/>
<path color="#9a9a9a" d="m415-150l21-8 3 33-23 9z"/>
<path color="#a1a1a1" d="m537 11l27-19 19 21-24 11z"/>
<path color="#bebebe" d="m493-530l26-7 7 38-24 9z"/>
<path color="#777" d="m385-29l19-2 15 34-18-1z"/>
<path color="#bdbdbd" d="m387-412l37 2-1 27-39 0z"/>
<path color="#969696" d="m374-62l21-7 9 38-19 2z"/>
<path color="#d6d6d6" d="m462-409l33-2 3 27-35 2z"/>
<path color="#969696" d="m583 13l24-11 18 30-22 0z"/>
<path color="#b3b3b3" d="m353-410l34-2-3 29-35 2z"/>
<path color="#d3d3d3" d="m488-443l25-8 10 34-28 6z"/>
<path color="#c8c8c8" d="m424-410l38 1 1 27-40-1z"/>
<path color="#b8b8b8" d="m519-571l33 3-4 29-29 2z"/>
<path color="#b0b0b0" d="m307-328l21-11 16 38-22 10z"/>
<path color="#7c7c7c" d="m635-568l33 5-10 14-33-3z"/>
<path color="#656565" d="m439 29l22-5 25 15-23 6z"/>
<path color="#adadad" d="m365-265l23-9 19 31-21 9z"/>
<path color="#c4c4c4" d="m478-481l24-9 11 39-25 8z"/>
<path color="#9b9b9b" d="m301-363l20-12 7 36-21 11z"/>
<path color="#737373" d="m511 27l26-16 22 13-24 10z"/>
<path color="#5d5d5d" d="m401 2l18 1 20 26-19-1z"/>
<path color="#9b9b9b" d="m326-404l27-6-4 29-28 6z"/>
<path color="#b7b7b7" d="m322-291l22-10 21 36-25 9z"/>
<path color="#535353" d="m645 57l23 4 22 21-23-7z"/>
<path color="#b3b3b3" d="m365-96l26-11 4 38-21 7z"/>
<path color="#efefef" d="m458-439l30-4 7 32-33 2z"/>
<path color="#8d8d8d" d="m598-579l37 11-10 16-37-8z"/>
<path color="#9a9a9a" d="m411-179l21-8 4 29-21 8z"/>
<path color="#aeaeae" d="m389-140l26-10 1 34-25 9z"/>
<path color="#b0b0b0" d="m491-566l28-5 0 34-26 7z"/>
<path color="#b1b1b1" d="m471-519l22-11 9 40-24 9z"/>
<path color="#939393" d="m674-585l26-5-4 23-28 4z"/>
<path color="#a6a6a6" d="m386-234l21-9 15 28-20 9z"/>
<path color="#5a5a5a" d="m603 32l22 0 20 25-22-8z"/>
<path color="#c8c8c8" d="m427-437l31-2 4 30-38-1z"/>
<path color="#959595" d="m561-589l37 10-10 19-36-8z"/>
<path color="#a3a3a3" d="m402-206l20-9 10 28-21 8z"/>
<path color="#6a6a6a" d="m559 24l24-11 20 19-23 0z"/>
<path color="#bdbdbd" d="m340-256l25-9 21 31-27 9z"/>
<path color="#565656" d="m486 39l25-12 24 7-24 9z"/>
<path color="#c7c7c7" d="m455-471l23-10 10 38-30 4z"/>
<path color="#a5a5a5" d="m395-434l32-3-3 27-37-2z"/>
<path color="#d2d2d2" d="m358-128l31-12 2 33-26 11z"/>
<path color="#6f6f6f" d="m306-392l20-12-5 29-20 12z"/>
<path color="#909090" d="m293-315l14-13 15 37-20 10z"/>
<path color="#959595" d="m527-594l34 5-9 21-33-3z"/>
<path color="#b6b6b6" d="m302-281l20-10 18 35-25 9z"/>
<path color="#fff" d="m234-157l33-10 10 33-33 12z"/>
<path color="#bfbfbf" d="m338-85l27-11 9 34-21 6z"/>
<path color="#848484" d="m353-56l21-6 11 33-17 1z"/>
<path color="#9c9c9c" d="m643-588l31 3-6 22-33-5z"/>
<path color="#808080" d="m366-430l29-4-8 22-34 2z"/>
<path color="#fcfcfc" d="m244-122l33-12 16 32-30 12z"/>
<path color="#4f4f4f" d="m420 28l19 1 24 16-21 2z"/>
<path color="#c6c6c6" d="m384-169l27-10 4 29-26 10z"/>
<path color="#fff" d="m277-134l37-12 12 31-33 13z"/>
<path color="#fdfdfd" d="m326-115l32-13 7 32-27 11z"/>
<path color="#909090" d="m471-553l20-13 2 36-22 11z"/>
<path color="#fff" d="m267-167l37-10 10 31-37 12z"/>
<path color="#e5e5e5" d="m207-148l27-9 10 35-27 10z"/>
<path color="#d4d4d4" d="m359-225l27-9 16 28-28 10z"/>
<path color="#595959" d="m368-28l17-1 16 31-16-4z"/>
<path color="#686868" d="m289-347l12-16 6 35-14 13z"/>
<path color="#e3e3e3" d="m315-247l25-9 19 31-30 9z"/>
<path color="#9b9b9b" d="m453-503l18-16 7 38-23 10z"/>
<path color="#fff" d="m314-146l37-12 7 30-32 13z"/>
<path color="#aeaeae" d="m431-462l24-9 3 32-31 2z"/>
<path color="#d4d4d4" d="m217-112l27-10 19 32-27 10z"/>
<path color="#f4f4f4" d="m293-102l33-13 12 30-26 11z"/>
<path color="#f7f7f7" d="m351-158l33-11 5 29-31 12z"/>
<path color="#a2a2a2" d="m676-614l25-7-1 31-26 5z"/>
<path color="#eaeaea" d="m374-196l28-10 9 27-27 10z"/>
<path color="#fff" d="m304-177l37-10 10 29-37 12z"/>
<path color="#fafafa" d="m263-199l33-9 8 31-37 10z"/>
<path color="#4c4c4c" d="m623 49l22 8 22 18-24-12z"/>
<path color="#4d4d4d" d="m463 45l23-6 25 4-24 9z"/>
<path color="#8f8f8f" d="m609-595l34 7-8 20-37-11z"/>
<path color="#d7d7d7" d="m233-191l30-8 4 32-33 10z"/>
<path color="#828282" d="m500-591l27-3-8 23-28 5z"/>
<path color="#5e5e5e" d="m340-423l26-7-13 20-27 6z"/>
<path color="#fefefe" d="m329-216l30-9 15 29-33 9z"/>
<path color="#fff" d="m296-208l33-8 12 29-37 10z"/>
<path color="#4e4e4e" d="m535 34l24-10 21 8-23 3z"/>
<path color="#fff" d="m341-187l33-9 10 27-33 11z"/>
<path color="#c6c6c6" d="m263-90l30-12 19 28-26 10z"/>
<path color="#f5f5f5" d="m289-239l26-8 14 31-33 8z"/>
<path color="#4d4d4d" d="m385-2l16 4 19 26-17-5z"/>
<path color="#4d4d4d" d="m580 32l23 0 20 17-23-9z"/>
<path color="#b1b1b1" d="m312-74l26-11 15 29-21 6z"/>
<path color="#b2b2b2" d="m206-182l27-9 1 34-27 9z"/>
<path color="#aeaeae" d="m285-269l17-12 13 34-26 8z"/>
<path color="#7a7a7a" d="m575-602l34 7-11 16-37-10z"/>
<path color="#7b7b7b" d="m408-452l23-10-4 25-32 3z"/>
<path color="#a1a1a1" d="m186-139l21-9 10 36-20 8z"/>
<path color="#cecece" d="m264-230l25-9 7 31-33 9z"/>
<path color="#a1a1a1" d="m650-611l26-3-2 29-31-3z"/>
<path color="#4f4f4f" d="m292-375l14-17-5 29-12 16z"/>
<path color="#a0a0a0" d="m197-104l20-8 19 32-21 8z"/>
<path color="#646464" d="m457-531l14-22 0 34-18 16z"/>
<path color="#a6a6a6" d="m236-80l27-10 23 26-25 10z"/>
<path color="#727272" d="m282-299l11-16 9 34-17 12z"/>
<path color="#747474" d="m437-485l16-18 2 32-24 9z"/>
<path color="#5b5b5b" d="m480-576l20-15-9 25-20 13z"/>
<path color="#4e4e4e" d="m319-412l21-11-14 19-20 12z"/>
<path color="#767676" d="m332-50l21-6 15 28-16 0z"/>
<path color="#606060" d="m545-605l30 3-14 13-34-5z"/>
<path color="#4e4e4e" d="m442 47l21-2 24 7-23 8z"/>
<path color="#969696" d="m680-646l23-11-2 36-25 7z"/>
<path color="#4c4c4c" d="m511 43l24-9 22 1-23 7z"/>
<path color="#a2a2a2" d="m238-221l26-9-1 31-30 8z"/>
<path color="#4e4e4e" d="m403 23l17 5 22 19-21-1z"/>
<path color="#525252" d="m385-442l23-10-13 18-29 4z"/>
<path color="#8d8d8d" d="m185-173l21-9 1 34-21 9z"/>
<path color="#969696" d="m286-64l26-10 20 24-21 7z"/>
<path color="#838383" d="m622-609l28-2-7 23-34-7z"/>
<path color="#4f4f4f" d="m281-328l8-19 4 32-11 16z"/>
<path color="#939393" d="m267-258l18-11 4 30-25 9z"/>
<path color="#4c4c4c" d="m600 40l23 9 20 14-24-13z"/>
<path color="#929292" d="m215-72l21-8 25 26-23 8z"/>
<path color="#515151" d="m352-28l16 0 17 26-16-4z"/>
<path color="#505050" d="m518-601l27-4-18 11-27 3z"/>
<path color="#4c4c4c" d="m557 35l23-3 20 8-23-4z"/>
<path color="#858585" d="m214-212l24-9-5 30-27 9z"/>
<path color="#515151" d="m422-466l15-19-6 23-23 10z"/>
<path color="#868686" d="m658-634l22-12-4 32-26 3z"/>
<path color="#4c4c4c" d="m487 52l24-9 23-1-24 11z"/>
<path color="#4c4c4c" d="m361-433l24-9-19 12-26 7z"/>
<path color="#4e4e4e" d="m445-505l12-26-4 28-16 18z"/>
<path color="#4c4c4c" d="m466-553l14-23-9 23-14 22z"/>
<path color="#6d6d6d" d="m172-130l14-9 11 35-15 7z"/>
<path color="#575757" d="m594-607l28-2-13 14-34-7z"/>
<path color="#4c4c4c" d="m300-398l19-14-13 20-14 17z"/>
<path color="#767676" d="m182-97l15-7 18 32-17 6z"/>
<path color="#868686" d="m261-54l25-10 25 21-23 8z"/>
<path color="#676767" d="m421 46l21 1 22 13-24 8z"/>
<path color="#4d4d4d" d="m369-6l16 4 18 25-18-5z"/>
<path color="#4c4c4c" d="m281-356l11-19-3 28-8 19z"/>
<path color="#5c5c5c" d="m271-284l11-15 3 30-18 11z"/>
<path color="#707070" d="m311-43l21-7 20 22-19 3z"/>
<path color="#737373" d="m248-247l19-11-3 28-26 9z"/>
<path color="#757575" d="m688-675l22-13-7 31-23 11z"/>
<path color="#4c4c4c" d="m497-587l21-14-18 10-20 15z"/>
<path color="#757575" d="m191-203l23-9-8 30-21 9z"/>
<path color="#6d6d6d" d="m168-163l17-10 1 34-14 9z"/>
<path color="#575757" d="m464 60l23-8 23 1-25 16z"/>
<path color="#4c4c4c" d="m567-604l27-3-19 5-30-3z"/>
<path color="#5e5e5e" d="m636-620l22-14-8 23-28 2z"/>
<path color="#868686" d="m198-66l17-6 23 26-21 8z"/>
<path color="#5e5e5e" d="m385 18l18 5 18 23-20 0z"/>
<path color="#4c4c4c" d="m337-424l24-9-21 10-21 11z"/>
<path color="#4c4c4c" d="m534 42l23-7 20 1-23 4z"/>
<path color="#4c4c4c" d="m404-450l18-16-14 14-23 10z"/>
<path color="#878787" d="m238-46l23-8 27 19-25 10z"/>
<path color="#4c4c4c" d="m577 36l23 4 19 10-24-7z"/>
<path color="#4c4c4c" d="m272-309l9-19 1 29-11 15z"/>
<path color="#4c4c4c" d="m455-524l11-29-9 22-12 26z"/>
<path color="#4c4c4c" d="m434-480l11-25-8 20-15 19z"/>
<path color="#575757" d="m668-654l20-21-8 29-22 12z"/>
<path color="#5d5d5d" d="m333-25l19-3 17 22-18 0z"/>
<path color="#646464" d="m226-237l22-10-10 26-24 9z"/>
<path color="#8a8a8a" d="m440 68l24-8 21 9-25 17z"/>
<path color="#8c8c8c" d="m401 46l20 0 19 22-23 7z"/>
<path color="#4c4c4c" d="m284-382l16-16-8 23-11 19z"/>
<path color="#767676" d="m288-35l23-8 22 18-22 7z"/>
<path color="#4c4c4c" d="m614-607l22-13-14 11-28 2z"/>
<path color="#757575" d="m168-194l23-9-6 30-17 10z"/>
<path color="#4e4e4e" d="m510 53l24-11 20-2-25 14z"/>
<path color="#4c4c4c" d="m313-416l24-8-18 12-19 14z"/>
<path color="#525252" d="m256-270l15-14-4 26-19 11z"/>
<path color="#999" d="m217-38l21-8 25 21-26 11z"/>
<path color="#5f5f5f" d="m171-91l11-6 16 31-15 5z"/>
<path color="#525252" d="m161-122l11-8 10 33-11 6z"/>
<path color="#666" d="m351-6l18 0 16 24-19-1z"/>
<path color="#b8b8b8" d="m417 75l23-7 20 18-25 18z"/>
<path color="#4f4f4f" d="m701-692l22-16-13 20-22 13z"/>
<path color="#4c4c4c" d="m271-337l10-19 0 28-9 19z"/>
<path color="#848484" d="m183-61l15-5 19 28-21 7z"/>
<path color="#4c4c4c" d="m651-629l17-25-10 20-22 14z"/>
<path color="#696969" d="m200-229l26-8-12 25-23 9z"/>
<path color="#6e6e6e" d="m485 69l25-16 19 1-24 22z"/>
<path color="#5e5e5e" d="m153-153l15-10 4 33-11 8z"/>
<path color="#515151" d="m554 40l23-4 18 7-24 3z"/>
<path color="#828282" d="m366 17l19 1 16 28-22 1z"/>
<path color="#8c8c8c" d="m263-25l25-10 23 17-26 11z"/>
<path color="#a8a8a8" d="m379 47l22-1 16 29-24 8z"/>
<path color="#9d9d9d" d="m460 86l25-17 20 7-25 27z"/>
<path color="#b6b6b6" d="m196-31l21-7 20 24-27 12z"/>
<path color="#7f7f7f" d="m311-18l22-7 18 19-21 5z"/>
<path color="#4c4c4c" d="m356-432l26-7-21 6-24 9z"/>
<path color="#ccc" d="m393 83l24-8 18 29-25 16z"/>
<path color="#575757" d="m288-407l25-9-13 18-16 16z"/>
<path color="#828282" d="m147-184l21-10 0 31-15 10z"/>
<path color="#c1c1c1" d="m435 104l25-18 20 17-25 27z"/>
<path color="#4c4c4c" d="m683-667l18-25-13 17-20 21z"/>
<path color="#4e4e4e" d="m260-293l12-16-1 25-15 14z"/>
<path color="#adadad" d="m237-14l26-11 22 18-29 16z"/>
<path color="#5a5a5a" d="m268-366l16-16-3 26-10 19z"/>
<path color="#595959" d="m236-259l20-11-8 23-22 10z"/>
<path color="#838383" d="m172-222l28-7-9 26-23 9z"/>
<path color="#6f6f6f" d="m529 54l25-14 17 6-23 15z"/>
<path color="#e0e0e0" d="m210-2l27-12 19 23-30 17z"/>
<path color="#d9d9d9" d="m410 120l25-16 20 26-25 22z"/>
<path color="#9a9a9a" d="m330-1l21-5 15 23-22 5z"/>
<path color="#c7c7c7" d="m175-23l21-8 14 29-27 12z"/>
<path color="#fff" d="m183 10l27-12 16 28-31 18z"/>
<path color="#4d4d4d" d="m326-430l30-2-19 8-24 8z"/>
<path color="#c6c6c6" d="m369 92l24-9 17 37-24 11z"/>
<path color="#b9b9b9" d="m356 54l23-7 14 36-24 9z"/>
<path color="#a6a6a6" d="m285-7l26-11 19 17-26 13z"/>
<path color="#888" d="m168-55l15-6 13 30-21 8z"/>
<path color="#909090" d="m505 76l24-22 19 7-24 25z"/>
<path color="#adadad" d="m344 22l22-5 13 30-23 7z"/>
<path color="#4c4c4c" d="m399-445l21-13-16 8-22 11z"/>
<path color="#fff" d="m166 59l29-15 15 31-29 19z"/>
<path color="#fff" d="m195 44l31-18 16 27-32 22z"/>
<path color="#acacac" d="m142-215l30-7-4 28-21 10z"/>
<path color="#f1f1f1" d="m157 21l26-11 12 34-29 15z"/>
<path color="#5f5f5f" d="m257-320l14-17 1 28-12 16z"/>
<path color="#5e5e5e" d="m160-85l11-6 12 30-15 6z"/>
<path color="#4c4c4c" d="m721-695l22-16-20 3-22 16z"/>
<path color="#858585" d="m264-399l24-8-4 25-16 16z"/>
<path color="#a4a4a4" d="m480 103l25-27 19 10-24 31z"/>
<path color="#c8c8c8" d="m386 131l24-11 20 32-24 14z"/>
<path color="#727272" d="m209-252l27-7-10 22-26 8z"/>
<path color="#eaeaea" d="m226 26l30-17 18 22-32 22z"/>
<path color="#c6c6c6" d="m256 9l29-16 19 19-30 19z"/>
<path color="#4c4c4c" d="m430-472l14-24-10 16-14 22z"/>
<path color="#535353" d="m151-114l10-8 10 31-11 6z"/>
<path color="#b0b0b0" d="m455 130l25-27 20 14-24 31z"/>
<path color="#4c4c4c" d="m452-515l14-26-11 17-11 28z"/>
<path color="#e6e6e6" d="m140 71l26-12 15 35-26 12z"/>
<path color="#666" d="m138-143l15-10 8 31-10 8z"/>
<path color="#727272" d="m295-430l31 0-13 14-25 9z"/>
<path color="#dfdfdf" d="m181 94l29-19 20 26-29 19z"/>
<path color="#b6b6b6" d="m430 152l25-22 21 18-24 25z"/>
<path color="#959595" d="m125-175l22-9 6 31-15 10z"/>
<path color="#e4e4e4" d="m210 75l32-22 18 25-30 23z"/>
<path color="#6d6d6d" d="m240-281l20-12-4 23-20 11z"/>
<path color="#d4d4d4" d="m304 12l26-13 14 23-26 13z"/>
<path color="#b6b6b6" d="m153-16l22-7 8 33-26 11z"/>
<path color="#c7c7c7" d="m132 31l25-10 9 38-26 12z"/>
<path color="#828282" d="m249-353l19-13 3 29-14 17z"/>
<path color="#989898" d="m175-247l34-5-9 23-28 7z"/>
<path color="#bdbdbd" d="m346 101l23-9 17 39-24 7z"/>
<path color="#d2d2d2" d="m112-208l30-7 5 31-22 9z"/>
<path color="#ccc" d="m332 65l24-11 13 38-23 9z"/>
<path color="#bfbfbf" d="m155 106l26-12 20 26-25 13z"/>
<path color="#e2e2e2" d="m318 35l26-13 12 32-24 11z"/>
<path color="#4c4c4c" d="m372-440l27-5-17 6-26 7z"/>
<path color="#efefef" d="m242 53l32-22 16 24-30 23z"/>
<path color="#f6f6f6" d="m274 31l30-19 14 23-28 20z"/>
<path color="#c1c1c1" d="m139-245l36-2-3 25-30 7z"/>
<path color="#a8a8a8" d="m406 166l24-14 22 21-24 15z"/>
<path color="#a7a7a7" d="m362 138l24-7 20 35-24 4z"/>
<path color="#f8f8f8" d="m102-242l37-3 3 30-30 7z"/>
<path color="#a7a7a7" d="m263-430l32 0-7 23-24 8z"/>
<path color="#a8a8a8" d="m240-390l24-9 4 33-19 13z"/>
<path color="#a7a7a7" d="m118 78l22-7 15 35-22 6z"/>
<path color="#fff" d="m290 55l28-20 14 30-27 17z"/>
<path color="#8f8f8f" d="m150-49l18-6 7 32-22 7z"/>
<path color="#fefefe" d="m69-237l33-5 10 34-29 8z"/>
<path color="#4e4e4e" d="m410-458l20-14-10 14-21 13z"/>
<path color="#f3f3f3" d="m260 78l30-23 15 27-27 19z"/>
<path color="#939393" d="m237-308l20-12 3 27-20 12z"/>
<path color="#c3c3c3" d="m230 101l30-23 18 23-27 19z"/>
<path color="#e6e6e6" d="m305 82l27-17 14 36-24 10z"/>
<path color="#595959" d="m339-443l33 3-16 8-30 2z"/>
<path color="#aaa" d="m130-7l23-9 4 37-25 10z"/>
<path color="#cfcfcf" d="m83-200l29-8 13 33-23 10z"/>
<path color="#979797" d="m212-275l28-6-4 22-27 7z"/>
<path color="#ababab" d="m109 40l23-9 8 40-22 7z"/>
<path color="#4e4e4e" d="m436-494l16-21-8 19-14 24z"/>
<path color="#a7a7a7" d="m201 120l29-19 21 19-26 16z"/>
<path color="#4c4c4c" d="m459-538l20-16-13 13-14 26z"/>
<path color="#b0b0b0" d="m322 111l24-10 16 37-22 3z"/>
<path color="#8e8e8e" d="m133 112l22-6 21 27-22 5z"/>
<path color="#dcdcdc" d="m98-274l40 0 1 29-37 3z"/>
<path color="#ededed" d="m63-272l35-2 4 32-33 5z"/>
<path color="#a1a1a1" d="m102-165l23-10 13 32-17 9z"/>
<path color="#bfbfbf" d="m233-428l30-2 1 31-24 9z"/>
<path color="#b3b3b3" d="m177-273l35-2-3 23-34 5z"/>
<path color="#acacac" d="m228-342l21-11 8 33-20 12z"/>
<path color="#c4c4c4" d="m138-274l39 1-2 26-36 2z"/>
<path color="#7d7d7d" d="m382 170l24-4 22 22-23 3z"/>
<path color="#dadada" d="m42-230l27-7 14 37-25 8z"/>
<path color="#848484" d="m303-451l36 8-13 13-31 0z"/>
<path color="#747474" d="m146-78l14-7 8 30-18 6z"/>
<path color="#d2d2d2" d="m278 101l27-19 17 29-25 11z"/>
<path color="#878787" d="m176 133l25-13 24 16-25 12z"/>
<path color="#808080" d="m121-134l17-9 13 29-15 8z"/>
<path color="#b9b9b9" d="m216-381l24-9 9 37-21 11z"/>
<path color="#d0d0d0" d="m35-266l28-6 6 35-27 7z"/>
<path color="#7f7f7f" d="m340 141l22-3 20 32-22-4z"/>
<path color="#6f6f6f" d="m136-106l15-8 9 29-14 7z"/>
<path color="#4c4c4c" d="m493-566l26-4-20-1-20 17z"/>
<path color="#bdbdbd" d="m58-192l25-8 19 35-23 9z"/>
<path color="#5f5f5f" d="m383-454l27-4-11 13-27 5z"/>
<path color="#c3c3c3" d="m210-302l27-6 3 27-28 6z"/>
<path color="#a7a7a7" d="m266-459l37 8-8 21-32 0z"/>
<path color="#a9a9a9" d="m105 2l25-9 2 38-23 9z"/>
<path color="#9a9a9a" d="m129-41l21-8 3 33-23 9z"/>
<path color="#a1a1a1" d="m251 120l27-19 19 21-24 11z"/>
<path color="#bebebe" d="m207-421l26-7 7 38-24 9z"/>
<path color="#6b6b6b" d="m414-481l22-13-6 22-20 14z"/>
<path color="#777" d="m99 80l19-2 15 34-18-1z"/>
<path color="#bdbdbd" d="m101-303l38 2-1 27-40 0z"/>
<path color="#969696" d="m88 47l21-7 9 38-19 2z"/>
<path color="#d6d6d6" d="m176-300l34-2 2 27-35 2z"/>
<path color="#969696" d="m297 122l25-11 18 30-23 0z"/>
<path color="#616161" d="m438-523l21-15-7 23-16 21z"/>
<path color="#b3b3b3" d="m67-301l34-2-3 29-35 2z"/>
<path color="#d3d3d3" d="m202-334l26-8 9 34-27 6z"/>
<path color="#c8c8c8" d="m139-301l37 1 1 27-39-1z"/>
<path color="#b8b8b8" d="m233-462l33 3-3 29-30 2z"/>
<path color="#b0b0b0" d="m22-219l20-11 16 38-22 10z"/>
<path color="#7c7c7c" d="m349-459l34 5-11 14-33-3z"/>
<path color="#656565" d="m154 138l22-5 24 15-23 6z"/>
<path color="#adadad" d="m79-156l23-9 19 31-21 9z"/>
<path color="#c4c4c4" d="m192-372l24-9 12 39-26 8z"/>
<path color="#9b9b9b" d="m16-254l19-12 7 36-20 11z"/>
<path color="#737373" d="m225 136l26-16 22 13-24 10z"/>
<path color="#555" d="m467-561l26-5-14 12-20 16z"/>
<path color="#5d5d5d" d="m115 111l18 1 21 26-20-1z"/>
<path color="#9b9b9b" d="m40-295l27-6-4 29-28 6z"/>
<path color="#b7b7b7" d="m36-182l22-10 21 36-24 9z"/>
<path color="#535353" d="m360 166l22 4 23 21-24-7z"/>
<path color="#b3b3b3" d="m79 13l26-11 4 38-21 7z"/>
<path color="#efefef" d="m173-330l29-4 8 32-34 2z"/>
<path color="#8d8d8d" d="m312-470l37 11-10 16-36-8z"/>
<path color="#9a9a9a" d="m126-70l20-8 4 29-21 8z"/>
<path color="#aeaeae" d="m103-31l26-10 1 34-25 9z"/>
<path color="#b0b0b0" d="m206-457l27-5 0 34-26 7z"/>
<path color="#b1b1b1" d="m185-410l22-11 9 40-24 9z"/>
<path color="#939393" d="m388-476l26-5-4 23-27 4z"/>
<path color="#a6a6a6" d="m100-125l21-9 15 28-20 9z"/>
<path color="#5a5a5a" d="m317 141l23 0 20 25-23-8z"/>
<path color="#c8c8c8" d="m141-328l32-2 3 30-37-1z"/>
<path color="#959595" d="m275-480l37 10-9 19-37-8z"/>
<path color="#8b8b8b" d="m415-512l23-11-2 29-22 13z"/>
<path color="#a3a3a3" d="m116-97l20-9 10 28-20 8z"/>
<path color="#6a6a6a" d="m273 133l24-11 20 19-23 0z"/>
<path color="#4c4c4c" d="m508-574l31 7-20-3-26 4z"/>
<path color="#bdbdbd" d="m55-147l24-9 21 31-26 9z"/>
<path color="#565656" d="m200 148l25-12 24 7-24 9z"/>
<path color="#c7c7c7" d="m169-362l23-10 10 38-29 4z"/>
<path color="#a5a5a5" d="m110-325l31-3-2 27-38-2z"/>
<path color="#d2d2d2" d="m73-19l30-12 2 33-26 11z"/>
<path color="#7e7e7e" d="m442-555l25-6-8 23-21 15z"/>
<path color="#4c4c4c" d="m627-564l22-16-15 3-22 15z"/>
<path color="#6f6f6f" d="m20-283l20-12-5 29-19 12z"/>
<path color="#909090" d="m7-206l15-13 14 37-19 10z"/>
<path color="#959595" d="m242-485l33 5-9 21-33-3z"/>
<path color="#b6b6b6" d="m17-172l19-10 19 35-25 9z"/>
<path color="#fff" d="m-52-48l34-10 10 33-33 12z"/>
<path color="#bfbfbf" d="m53 24l26-11 9 34-21 6z"/>
<path color="#848484" d="m67 53l21-6 11 33-16 1z"/>
<path color="#9c9c9c" d="m357-479l31 3-5 22-34-5z"/>
<path color="#808080" d="m80-321l30-4-9 22-34 2z"/>
<path color="#fcfcfc" d="m-41-13l33-12 15 32-30 12z"/>
<path color="#4f4f4f" d="m134 137l20 1 23 16-21 2z"/>
<path color="#c6c6c6" d="m98-60l28-10 3 29-26 10z"/>
<path color="#fff" d="m-8-25l36-12 12 31-33 13z"/>
<path color="#fdfdfd" d="m40-6l33-13 6 32-26 11z"/>
<path color="#909090" d="m185-444l21-13 1 36-22 11z"/>
<path color="#fff" d="m-18-58l37-10 9 31-36 12z"/>
<path color="#e5e5e5" d="m-79-39l27-9 11 35-28 10z"/>
<path color="#d4d4d4" d="m74-116l26-9 16 28-27 10z"/>
<path color="#595959" d="m83 81l16-1 16 31-16-4z"/>
<path color="#686868" d="m3-238l13-16 6 35-15 13z"/>
<path color="#4c4c4c" d="m557-566l29 7-19-6-28-2z"/>
<path color="#e3e3e3" d="m30-138l25-9 19 31-31 9z"/>
<path color="#9b9b9b" d="m168-394l17-16 7 38-23 10z"/>
<path color="#fff" d="m28-37l37-12 8 30-33 13z"/>
<path color="#aeaeae" d="m146-353l23-9 4 32-32 2z"/>
<path color="#d4d4d4" d="m-69-3l28-10 18 32-26 10z"/>
<path color="#f4f4f4" d="m7 7l33-13 13 30-27 11z"/>
<path color="#f7f7f7" d="m65-49l33-11 5 29-30 12z"/>
<path color="#a2a2a2" d="m391-505l24-7-1 31-26 5z"/>
<path color="#eaeaea" d="m89-87l27-10 10 27-28 10z"/>
<path color="#636363" d="m478-581l30 7-15 8-26 5z"/>
<path color="#4c4c4c" d="m663-592l21-21-16 7-19 26z"/>
<path color="#fff" d="m19-68l36-10 10 29-37 12z"/>
<path color="#fafafa" d="m-23-90l33-9 9 31-37 10z"/>
<path color="#4c4c4c" d="m337 158l23 8 21 18-24-12z"/>
<path color="#4d4d4d" d="m177 154l23-6 25 4-23 9z"/>
<path color="#8f8f8f" d="m323-486l34 7-8 20-37-11z"/>
<path color="#d7d7d7" d="m-53-82l30-8 5 32-34 10z"/>
<path color="#828282" d="m214-482l28-3-9 23-27 5z"/>
<path color="#5e5e5e" d="m55-314l25-7-13 20-27 6z"/>
<path color="#fefefe" d="m43-107l31-9 15 29-34 9z"/>
<path color="#fff" d="m10-99l33-8 12 29-36 10z"/>
<path color="#4e4e4e" d="m249 143l24-10 21 8-22 3z"/>
<path color="#fff" d="m55-78l34-9 9 27-33 11z"/>
<path color="#c6c6c6" d="m-23 19l30-12 19 28-26 10z"/>
<path color="#4c4c4c" d="m602-562l25-2-15 2-26 3z"/>
<path color="#949494" d="m417-548l25-7-4 32-23 11z"/>
<path color="#f5f5f5" d="m4-130l26-8 13 31-33 8z"/>
<path color="#4d4d4d" d="m99 107l16 4 19 26-17-5z"/>
<path color="#4d4d4d" d="m294 141l23 0 20 17-23-9z"/>
<path color="#b1b1b1" d="m26 35l27-11 14 29-21 6z"/>
<path color="#b2b2b2" d="m-79-73l26-9 1 34-27 9z"/>
<path color="#aeaeae" d="m-1-160l18-12 13 34-26 8z"/>
<path color="#7a7a7a" d="m290-493l33 7-11 16-37-10z"/>
<path color="#7b7b7b" d="m122-343l24-10-5 25-31 3z"/>
<path color="#a1a1a1" d="m-99-30l20-9 10 36-20 8z"/>
<path color="#cecece" d="m-22-121l26-9 6 31-33 9z"/>
<path color="#4d4d4d" d="m525-580l32 14-18-1-31-7z"/>
<path color="#a1a1a1" d="m364-502l27-3-3 29-31-3z"/>
<path color="#4f4f4f" d="m6-266l14-17-4 29-13 16z"/>
<path color="#a0a0a0" d="m-89 5l20-8 20 32-22 8z"/>
<path color="#646464" d="m171-422l14-22 0 34-17 16z"/>
<path color="#4c4c4c" d="m640-578l23-14-14 12-22 16z"/>
<path color="#a6a6a6" d="m-49 29l26-10 23 26-24 10z"/>
<path color="#848484" d="m449-584l29 3-11 20-25 6z"/>
<path color="#727272" d="m-4-190l11-16 10 34-18 12z"/>
<path color="#747474" d="m152-376l16-18 1 32-23 9z"/>
<path color="#5b5b5b" d="m194-467l20-15-8 25-21 13z"/>
<path color="#4e4e4e" d="m33-303l22-11-15 19-20 12z"/>
<path color="#767676" d="m46 59l21-6 16 28-17 0z"/>
<path color="#606060" d="m259-496l31 3-15 13-33-5z"/>
<path color="#4e4e4e" d="m156 156l21-2 25 7-24 8z"/>
<path color="#969696" d="m394-537l23-11-2 36-24 7z"/>
<path color="#4c4c4c" d="m225 152l24-9 23 1-24 7z"/>
<path color="#a2a2a2" d="m-47-112l25-9-1 31-30 8z"/>
<path color="#4d4d4d" d="m573-569l29 7-16 3-29-7z"/>
<path color="#4e4e4e" d="m117 132l17 5 22 19-21-1z"/>
<path color="#525252" d="m99-333l23-10-12 18-30 4z"/>
<path color="#8d8d8d" d="m-101-64l22-9 0 34-20 9z"/>
<path color="#969696" d="m0 45l26-10 20 24-21 7z"/>
<path color="#838383" d="m336-500l28-2-7 23-34-7z"/>
<path color="#4f4f4f" d="m-5-219l8-19 4 32-11 16z"/>
<path color="#939393" d="m-19-149l18-11 5 30-26 9z"/>
<path color="#5f5f5f" d="m493-594l32 14-17 6-30-7z"/>
<path color="#535353" d="m615-574l25-4-13 14-25 2z"/>
<path color="#4c4c4c" d="m314 149l23 9 20 14-24-13z"/>
<path color="#929292" d="m-71 37l22-8 25 26-23 8z"/>
<path color="#878787" d="m424-579l25-5-7 29-25 7z"/>
<path color="#515151" d="m66 81l17 0 16 26-15-4z"/>
<path color="#505050" d="m232-492l27-4-17 11-28 3z"/>
<path color="#4c4c4c" d="m272 144l22-3 20 8-23-4z"/>
<path color="#858585" d="m-72-103l25-9-6 30-26 9z"/>
<path color="#515151" d="m136-357l16-19-6 23-24 10z"/>
<path color="#868686" d="m372-525l22-12-3 32-27 3z"/>
<path color="#4c4c4c" d="m202 161l23-9 23-1-24 11z"/>
<path color="#4c4c4c" d="m75-324l24-9-19 12-25 7z"/>
<path color="#4e4e4e" d="m160-396l11-26-3 28-16 18z"/>
<path color="#4c4c4c" d="m180-444l14-23-9 23-14 22z"/>
<path color="#6d6d6d" d="m-114-21l15-9 10 35-14 7z"/>
<path color="#575757" d="m308-498l28-2-13 14-33-7z"/>
<path color="#4c4c4c" d="m15-289l18-14-13 20-14 17z"/>
<path color="#4d4d4d" d="m542-583l31 14-16 3-32-14z"/>
<path color="#767676" d="m-103 12l14-7 18 32-17 6z"/>
<path color="#868686" d="m-24 55l24-10 25 21-23 8z"/>
<path color="#676767" d="m135 155l21 1 22 13-23 8z"/>
<path color="#4d4d4d" d="m84 103l15 4 18 25-17-5z"/>
<path color="#4c4c4c" d="m-4-247l10-19-3 28-8 19z"/>
<path color="#5c5c5c" d="m-15-175l11-15 3 30-18 11z"/>
<path color="#6b6b6b" d="m463-602l30 8-15 13-29-3z"/>
<path color="#707070" d="m25 66l21-7 20 22-19 3z"/>
<path color="#737373" d="m-38-138l19-11-3 28-25 9z"/>
<path color="#757575" d="m402-566l22-13-7 31-23 11z"/>
<path color="#4c4c4c" d="m211-478l21-14-18 10-20 15z"/>
<path color="#575757" d="m588-576l27 2-13 12-29-7z"/>
<path color="#757575" d="m-95-94l23-9-7 30-22 9z"/>
<path color="#6d6d6d" d="m-118-54l17-10 2 34-15 9z"/>
<path color="#575757" d="m178 169l24-8 22 1-25 16z"/>
<path color="#4c4c4c" d="m282-495l26-3-18 5-31-3z"/>
<path color="#5e5e5e" d="m350-511l22-14-8 23-28 2z"/>
<path color="#868686" d="m-88 43l17-6 24 26-22 8z"/>
<path color="#5e5e5e" d="m100 127l17 5 18 23-20 0z"/>
<path color="#4c4c4c" d="m51-315l24-9-20 10-22 11z"/>
<path color="#4c4c4c" d="m248 151l24-7 19 1-23 4z"/>
<path color="#4c4c4c" d="m118-341l18-16-14 14-23 10z"/>
<path color="#878787" d="m-47 63l23-8 26 19-25 10z"/>
<path color="#4c4c4c" d="m291 145l23 4 19 10-24-7z"/>
<path color="#4f4f4f" d="m512-597l30 14-17 3-32-14z"/>
<path color="#606060" d="m437-599l26-3-14 18-25 5z"/>
<path color="#4c4c4c" d="m-13-200l8-19 1 29-11 15z"/>
<path color="#4c4c4c" d="m169-415l11-29-9 22-11 26z"/>
<path color="#4c4c4c" d="m149-371l11-25-8 20-16 19z"/>
<path color="#575757" d="m383-545l19-21-8 29-22 12z"/>
<path color="#5d5d5d" d="m47 84l19-3 18 22-18 0z"/>
<path color="#646464" d="m-60-128l22-10-9 26-25 9z"/>
<path color="#8a8a8a" d="m155 177l23-8 21 9-25 17z"/>
<path color="#8c8c8c" d="m115 155l20 0 20 22-24 7z"/>
<path color="#4c4c4c" d="m-2-273l17-16-9 23-10 19z"/>
<path color="#4d4d4d" d="m561-583l27 7-15 7-31-14z"/>
<path color="#767676" d="m2 74l23-8 22 18-22 7z"/>
<path color="#4c4c4c" d="m328-498l22-13-14 11-28 2z"/>
<path color="#757575" d="m-117-85l22-9-6 30-17 10z"/>
<path color="#4e4e4e" d="m224 162l24-11 20-2-24 14z"/>
<path color="#4c4c4c" d="m27-307l24-8-18 12-18 14z"/>
<path color="#525252" d="m-29-161l14-14-4 26-19 11z"/>
<path color="#999" d="m-69 71l22-8 24 21-26 11z"/>
<path color="#5f5f5f" d="m-114 18l11-6 15 31-15 5z"/>
<path color="#525252" d="m-124-13l10-8 11 33-11 6z"/>
<path color="#666" d="m66 103l18 0 16 24-20-1z"/>
<path color="#4d4d4d" d="m483-605l29 8-19 3-30-8z"/>
<path color="#b8b8b8" d="m131 184l24-7 19 18-25 18z"/>
<path color="#4f4f4f" d="m416-583l21-16-13 20-22 13z"/>
<path color="#4c4c4c" d="m-15-228l11-19-1 28-8 19z"/>
<path color="#848484" d="m-103 48l15-5 19 28-21 7z"/>
<path color="#4c4c4c" d="m366-520l17-25-11 20-22 14z"/>
<path color="#696969" d="m-86-120l26-8-12 25-23 9z"/>
<path color="#6e6e6e" d="m199 178l25-16 20 1-25 22z"/>
<path color="#5e5e5e" d="m-133-44l15-10 4 33-10 8z"/>
<path color="#515151" d="m268 149l23-4 18 7-23 3z"/>
<path color="#828282" d="m80 126l20 1 15 28-21 1z"/>
<path color="#8c8c8c" d="m-23 84l25-10 23 17-25 11z"/>
<path color="#a8a8a8" d="m94 156l21-1 16 29-23 8z"/>
<path color="#4c4c4c" d="m533-590l28 7-19 0-30-14z"/>
<path color="#9d9d9d" d="m174 195l25-17 20 7-25 27z"/>
<path color="#b6b6b6" d="m-90 78l21-7 20 24-27 12z"/>
<path color="#7f7f7f" d="m25 91l22-7 19 19-22 5z"/>
<path color="#4c4c4c" d="m71-323l25-7-21 6-24 9z"/>
<path color="#ccc" d="m108 192l23-8 18 29-25 16z"/>
<path color="#575757" d="m3-298l24-9-12 18-17 16z"/>
<path color="#828282" d="m-139-75l22-10-1 31-15 10z"/>
<path color="#c1c1c1" d="m149 213l25-18 20 17-25 27z"/>
<path color="#4c4c4c" d="m398-558l18-25-14 17-19 21z"/>
<path color="#4e4e4e" d="m-26-184l13-16-2 25-14 14z"/>
<path color="#adadad" d="m-49 95l26-11 23 18-29 16z"/>
<path color="#4c4c4c" d="m457-602l26-3-20 3-26 3z"/>
<path color="#5a5a5a" d="m-18-257l16-16-2 26-11 19z"/>
<path color="#595959" d="m-50-150l21-11-9 23-22 10z"/>
<path color="#838383" d="m-114-113l28-7-9 26-22 9z"/>
<path color="#6f6f6f" d="m244 163l24-14 18 6-24 15z"/>
<path color="#e0e0e0" d="m-76 107l27-12 20 23-31 17z"/>
<path color="#d9d9d9" d="m124 229l25-16 20 26-25 22z"/>
<path color="#9a9a9a" d="m44 108l22-5 14 23-22 5z"/>
<path color="#c7c7c7" d="m-111 86l21-8 14 29-27 12z"/>
<path color="#fff" d="m-103 119l27-12 16 28-31 18z"/>
<path color="#4d4d4d" d="m41-321l30-2-20 8-24 8z"/>
<path color="#c6c6c6" d="m84 201l24-9 16 37-24 11z"/>
<path color="#b9b9b9" d="m71 163l23-7 14 36-24 9z"/>
<path color="#a6a6a6" d="m0 102l25-11 19 17-26 13z"/>
<path color="#888" d="m-118 54l15-6 13 30-21 8z"/>
<path color="#909090" d="m219 185l25-22 18 7-24 25z"/>
<path color="#4c4c4c" d="m506-593l27 3-21-7-29-8z"/>
<path color="#adadad" d="m58 131l22-5 14 30-23 7z"/>
<path color="#4c4c4c" d="m114-336l20-13-16 8-22 11z"/>
<path color="#fff" d="m-120 168l29-15 16 31-30 19z"/>
<path color="#fff" d="m-91 153l31-18 17 27-32 22z"/>
<path color="#acacac" d="m-144-106l30-7-3 28-22 10z"/>
<path color="#f1f1f1" d="m-129 130l26-11 12 34-29 15z"/>
<path color="#5f5f5f" d="m-28-211l13-17 2 28-13 16z"/>
<path color="#5e5e5e" d="m-125 24l11-6 11 30-15 6z"/>
<path color="#4c4c4c" d="m435-586l22-16-20 3-21 16z"/>
<path color="#858585" d="m-22-290l25-8-5 25-16 16z"/>
<path color="#a4a4a4" d="m194 212l25-27 19 10-24 31z"/>
<path color="#c8c8c8" d="m100 240l24-11 20 32-24 14z"/>
<path color="#727272" d="m-77-143l27-7-10 22-26 8z"/>
<path color="#eaeaea" d="m-60 135l31-17 17 22-31 22z"/>
<path color="#c6c6c6" d="m-29 118l29-16 18 19-30 19z"/>
<path color="#4c4c4c" d="m145-363l14-24-10 16-15 22z"/>
<path color="#535353" d="m-135-5l11-8 10 31-11 6z"/>
<path color="#b0b0b0" d="m169 239l25-27 20 14-24 31z"/>
<path color="#4c4c4c" d="m167-406l14-26-12 17-10 28z"/>
<path color="#e6e6e6" d="m-146 180l26-12 15 35-26 12z"/>
<path color="#666" d="m-147-34l14-10 9 31-11 8z"/>
<path color="#727272" d="m9-321l32 0-14 14-24 9z"/>
<path color="#dfdfdf" d="m-105 203l30-19 19 26-29 19z"/>
<path color="#b6b6b6" d="m144 261l25-22 21 18-23 25z"/>
<path color="#959595" d="m-161-66l22-9 6 31-14 10z"/>
<path color="#e4e4e4" d="m-75 184l32-22 17 25-30 23z"/>
<path color="#6d6d6d" d="m-45-172l19-12-3 23-21 11z"/>
<path color="#d4d4d4" d="m18 121l26-13 14 23-25 13z"/>
<path color="#b6b6b6" d="m-133 93l22-7 8 33-26 11z"/>
<path color="#c7c7c7" d="m-153 140l24-10 9 38-26 12z"/>
<path color="#828282" d="m-36-244l18-13 3 29-13 17z"/>
<path color="#989898" d="m-110-138l33-5-9 23-28 7z"/>
<path color="#bdbdbd" d="m60 210l24-9 16 39-23 7z"/>
<path color="#d2d2d2" d="m-174-99l30-7 5 31-22 9z"/>
<path color="#ccc" d="m46 174l25-11 13 38-24 9z"/>
<path color="#bfbfbf" d="m-131 215l26-12 20 26-25 13z"/>
<path color="#e2e2e2" d="m33 144l25-13 13 32-25 11z"/>
<path color="#4c4c4c" d="m86-331l28-5-18 6-25 7z"/>
<path color="#efefef" d="m-43 162l31-22 16 24-30 23z"/>
<path color="#f6f6f6" d="m-12 140l30-19 15 23-29 20z"/>
<path color="#c1c1c1" d="m-147-136l37-2-4 25-30 7z"/>
<path color="#a8a8a8" d="m120 275l24-14 23 21-24 15z"/>
<path color="#a7a7a7" d="m77 247l23-7 20 35-23 4z"/>
<path color="#f8f8f8" d="m-183-133l36-3 3 30-30 7z"/>
<path color="#a7a7a7" d="m-23-321l32 0-6 23-25 8z"/>
<path color="#a8a8a8" d="m-46-281l24-9 4 33-18 13z"/>
<path color="#fff" d="m4 164l29-20 13 30-26 17z"/>
<path color="#8f8f8f" d="m-135 60l17-6 7 32-22 7z"/>
<path color="#fefefe" d="m-216-128l33-5 9 34-28 8z"/>
<path color="#4e4e4e" d="m124-349l21-14-11 14-20 13z"/>
<path color="#f3f3f3" d="m-26 187l30-23 16 27-27 19z"/>
<path color="#939393" d="m-49-199l21-12 2 27-19 12z"/>
<path color="#c3c3c3" d="m-56 210l30-23 19 23-28 19z"/>
<path color="#e6e6e6" d="m20 191l26-17 14 36-24 10z"/>
<path color="#595959" d="m53-334l33 3-15 8-30 2z"/>
<path color="#aaa" d="m-156 102l23-9 4 37-24 10z"/>
<path color="#cfcfcf" d="m-202-91l28-8 13 33-22 10z"/>
<path color="#979797" d="m-73-166l28-6-5 22-27 7z"/>
<path color="#4e4e4e" d="m150-385l17-21-8 19-14 24z"/>
<path color="#a7a7a7" d="m-85 229l29-19 21 19-26 16z"/>
<path color="#4c4c4c" d="m173-429l20-16-12 13-14 26z"/>
<path color="#b0b0b0" d="m36 220l24-10 17 37-23 3z"/>
<path color="#dcdcdc" d="m-187-165l39 0 1 29-36 3z"/>
<path color="#ededed" d="m-222-163l35-2 4 32-33 5z"/>
<path color="#a1a1a1" d="m-183-56l22-10 14 32-17 9z"/>
<path color="#bfbfbf" d="m-53-319l30-2 1 31-24 9z"/>
<path color="#b3b3b3" d="m-109-164l36-2-4 23-33 5z"/>
<path color="#acacac" d="m-58-233l22-11 8 33-21 12z"/>
<path color="#c4c4c4" d="m-148-165l39 1-1 26-37 2z"/>
<path color="#7d7d7d" d="m97 279l23-4 23 22-24 3z"/>
<path color="#dadada" d="m-244-121l28-7 14 37-26 8z"/>
<path color="#848484" d="m17-342l36 8-12 13-32 0z"/>
<path color="#747474" d="m-140 31l15-7 7 30-17 6z"/>
<path color="#d2d2d2" d="m-7 210l27-19 16 29-24 11z"/>
<path color="#878787" d="m-110 242l25-13 24 16-24 12z"/>
<path color="#808080" d="m-164-25l17-9 12 29-14 8z"/>
<path color="#b9b9b9" d="m-70-272l24-9 10 37-22 11z"/>
<path color="#d0d0d0" d="m-250-157l28-6 6 35-28 7z"/>
<path color="#7f7f7f" d="m54 250l23-3 20 32-23-4z"/>
<path color="#6f6f6f" d="m-149 3l14-8 10 29-15 7z"/>
<path color="#4c4c4c" d="m207-457l26-4-20-1-20 17z"/>
<path color="#bdbdbd" d="m-228-83l26-8 19 35-24 9z"/>
<path color="#5f5f5f" d="m97-345l27-4-10 13-28 5z"/>
<path color="#c3c3c3" d="m-76-193l27-6 4 27-28 6z"/>
<path color="#a7a7a7" d="m-20-350l37 8-8 21-32 0z"/>
<path color="#9a9a9a" d="m-157 68l22-8 2 33-23 9z"/>
<path color="#a1a1a1" d="m-35 229l28-19 19 21-24 11z"/>
<path color="#bebebe" d="m-79-312l26-7 7 38-24 9z"/>
<path color="#6b6b6b" d="m129-372l21-13-5 22-21 14z"/>
<path color="#bdbdbd" d="m-184-194l37 2-1 27-39 0z"/>
<path color="#d6d6d6" d="m-110-191l34-2 3 27-36 2z"/>
<path color="#969696" d="m12 231l24-11 18 30-23 0z"/>
<path color="#616161" d="m153-414l20-15-6 23-17 21z"/>
<path color="#b3b3b3" d="m-218-192l34-2-3 29-35 2z"/>
<path color="#d3d3d3" d="m-84-225l26-8 9 34-27 6z"/>
<path color="#c8c8c8" d="m-147-192l37 1 1 27-39-1z"/>
<path color="#b8b8b8" d="m-53-353l33 3-3 29-30 2z"/>
<path color="#7c7c7c" d="m64-350l33 5-11 14-33-3z"/>
<path color="#adadad" d="m-207-47l24-9 19 31-22 9z"/>
<path color="#c4c4c4" d="m-93-263l23-9 12 39-26 8z"/>
<path color="#737373" d="m-61 245l26-16 23 13-25 10z"/>
<path color="#555" d="m181-452l26-5-14 12-20 16z"/>
<path color="#9b9b9b" d="m-246-186l28-6-4 29-28 6z"/>
<path color="#535353" d="m74 275l23 4 22 21-24-7z"/>
<path color="#efefef" d="m-113-221l29-4 8 32-34 2z"/>
<path color="#8d8d8d" d="m27-361l37 11-11 16-36-8z"/>
<path color="#9a9a9a" d="m-160 39l20-8 5 29-22 8z"/>
<path color="#b0b0b0" d="m-80-348l27-5 0 34-26 7z"/>
<path color="#b1b1b1" d="m-100-301l21-11 9 40-23 9z"/>
<path color="#939393" d="m102-367l27-5-5 23-27 4z"/>
<path color="#a6a6a6" d="m-186-16l22-9 15 28-21 9z"/>
<path color="#5a5a5a" d="m31 250l23 0 20 25-23-8z"/>
<path color="#c8c8c8" d="m-145-219l32-2 3 30-37-1z"/>
<path color="#959595" d="m-10-371l37 10-10 19-37-8z"/>
<path color="#8b8b8b" d="m130-403l23-11-3 29-21 13z"/>
<path color="#a3a3a3" d="m-170 12l21-9 9 28-20 8z"/>
<path color="#6a6a6a" d="m-12 242l24-11 19 19-22 0z"/>
<path color="#4c4c4c" d="m223-465l30 7-20-3-26 4z"/>
<path color="#565656" d="m-85 257l24-12 24 7-23 9z"/>
<path color="#c7c7c7" d="m-117-253l24-10 9 38-29 4z"/>
<path color="#a5a5a5" d="m-176-216l31-3-2 27-37-2z"/>
<path color="#7e7e7e" d="m156-446l25-6-8 23-20 15z"/>
<path color="#4c4c4c" d="m342-455l22-16-16 3-21 15z"/>
<path color="#959595" d="m-44-376l34 5-10 21-33-3z"/>
<path color="#9c9c9c" d="m71-370l31 3-5 22-33-5z"/>
<path color="#808080" d="m-205-212l29-4-8 22-34 2z"/>
<path color="#909090" d="m-100-335l20-13 1 36-21 11z"/>
<path color="#4c4c4c" d="m271-457l30 7-19-6-29-2z"/>
<path color="#9b9b9b" d="m-118-285l18-16 7 38-24 10z"/>
<path color="#aeaeae" d="m-140-244l23-9 4 32-32 2z"/>
<path color="#a2a2a2" d="m105-396l25-7-1 31-27 5z"/>
<path color="#636363" d="m192-472l31 7-16 8-26 5z"/>
<path color="#4c4c4c" d="m377-483l21-21-16 7-18 26z"/>
<path color="#4c4c4c" d="m51 267l23 8 21 18-24-12z"/>
<path color="#8f8f8f" d="m38-377l33 7-7 20-37-11z"/>
<path color="#828282" d="m-71-373l27-3-9 23-27 5z"/>
<path color="#5e5e5e" d="m-231-205l26-7-13 20-28 6z"/>
<path color="#4e4e4e" d="m-37 252l25-10 21 8-23 3z"/>
<path color="#4c4c4c" d="m316-453l26-2-15 2-26 3z"/>
<path color="#949494" d="m132-439l24-7-3 32-23 11z"/>
<path color="#4d4d4d" d="m9 250l22 0 20 17-22-9z"/>
<path color="#7a7a7a" d="m4-384l34 7-11 16-37-10z"/>
<path color="#7b7b7b" d="m-163-234l23-10-5 25-31 3z"/>
<path color="#4d4d4d" d="m239-471l32 14-18-1-30-7z"/>
<path color="#a1a1a1" d="m78-393l27-3-3 29-31-3z"/>
<path color="#646464" d="m-115-313l15-22 0 34-18 16z"/>
<path color="#4c4c4c" d="m354-469l23-14-13 12-22 16z"/>
<path color="#848484" d="m164-475l28 3-11 20-25 6z"/>
<path color="#747474" d="m-134-267l16-18 1 32-23 9z"/>
<path color="#5b5b5b" d="m-92-358l21-15-9 25-20 13z"/>
<path color="#606060" d="m-27-387l31 3-14 13-34-5z"/>
<path color="#969696" d="m108-428l24-11-2 36-25 7z"/>
<path color="#4c4c4c" d="m-60 261l23-9 23 1-24 7z"/>
<path color="#4d4d4d" d="m287-460l29 7-15 3-30-7z"/>
<path color="#525252" d="m-187-224l24-10-13 18-29 4z"/>
<path color="#838383" d="m50-391l28-2-7 23-33-7z"/>
<path color="#5f5f5f" d="m207-485l32 14-16 6-31-7z"/>
<path color="#535353" d="m329-465l25-4-12 14-26 2z"/>
<path color="#4c4c4c" d="m29 258l22 9 20 14-23-13z"/>
<path color="#878787" d="m138-470l26-5-8 29-24 7z"/>
<path color="#505050" d="m-53-383l26-4-17 11-27 3z"/>
<path color="#4c4c4c" d="m-14 253l23-3 20 8-23-4z"/>
<path color="#515151" d="m-150-248l16-19-6 23-23 10z"/>
<path color="#868686" d="m86-416l22-12-3 32-27 3z"/>
<path color="#4c4c4c" d="m-210-215l23-9-18 12-26 7z"/>
<path color="#4e4e4e" d="m-126-287l11-26-3 28-16 18z"/>
<path color="#4c4c4c" d="m-106-335l14-23-8 23-15 22z"/>
<path color="#575757" d="m23-389l27-2-12 14-34-7z"/>
<path color="#4d4d4d" d="m257-474l30 14-16 3-32-14z"/>
<path color="#6b6b6b" d="m178-493l29 8-15 13-28-3z"/>
<path color="#757575" d="m116-457l22-13-6 31-24 11z"/>
<path color="#4c4c4c" d="m-74-369l21-14-18 10-21 15z"/>
<path color="#575757" d="m303-467l26 2-13 12-29-7z"/>
<path color="#4c4c4c" d="m-4-386l27-3-19 5-31-3z"/>
<path color="#5e5e5e" d="m65-402l21-14-8 23-28 2z"/>
<path color="#4c4c4c" d="m-38 260l24-7 20 1-24 4z"/>
<path color="#4c4c4c" d="m-168-232l18-16-13 14-24 10z"/>
<path color="#4c4c4c" d="m6 254l23 4 19 10-24-7z"/>
<path color="#4f4f4f" d="m226-488l31 14-18 3-32-14z"/>
<path color="#606060" d="m152-490l26-3-14 18-26 5z"/>
<path color="#4c4c4c" d="m-116-306l10-29-9 22-11 26z"/>
<path color="#4c4c4c" d="m-137-262l11-25-8 20-16 19z"/>
<path color="#575757" d="m97-436l19-21-8 29-22 12z"/>
<path color="#4d4d4d" d="m275-474l28 7-16 7-30-14z"/>
<path color="#4c4c4c" d="m43-389l22-13-15 11-27 2z"/>
<path color="#4d4d4d" d="m197-496l29 8-19 3-29-8z"/>
<path color="#4f4f4f" d="m130-474l22-16-14 20-22 13z"/>
<path color="#4c4c4c" d="m80-411l17-25-11 20-21 14z"/>
<path color="#515151" d="m-18 258l24-4 18 7-24 3z"/>
<path color="#4c4c4c" d="m247-481l28 7-18 0-31-14z"/>
<path color="#4c4c4c" d="m112-449l18-25-14 17-19 21z"/>
<path color="#4c4c4c" d="m172-493l25-3-19 3-26 3z"/>
<path color="#4c4c4c" d="m221-484l26 3-21-7-29-8z"/>
<path color="#4c4c4c" d="m-172-227l20-13-16 8-21 11z"/>
<path color="#4c4c4c" d="m150-477l22-16-20 3-22 16z"/>
<path color="#4c4c4c" d="m-141-254l14-24-10 16-15 22z"/>
<path color="#4c4c4c" d="m-119-297l14-26-11 17-11 28z"/>
<path color="#4e4e4e" d="m-161-240l20-14-11 14-20 13z"/>
<path color="#4e4e4e" d="m-136-276l17-21-8 19-14 24z"/>
<path color="#4c4c4c" d="m-112-320l20-16-13 13-14 26z"/>
<path color="#4c4c4c" d="m-78-348l26-4-21-1-19 17z"/>
<path color="#6b6b6b" d="m-157-263l21-13-5 22-20 14z"/>
<path color="#616161" d="m-133-305l21-15-7 23-17 21z"/>
<path color="#555" d="m-104-343l26-5-14 12-20 16z"/>
<path color="#8b8b8b" d="m-156-294l23-11-3 29-21 13z"/>
<path color="#4c4c4c" d="m-63-356l30 7-19-3-26 4z"/>
<path color="#7e7e7e" d="m-130-337l26-6-8 23-21 15z"/>
<path color="#4c4c4c" d="m56-346l22-16-15 3-22 15z"/>
<path color="#4c4c4c" d="m-15-348l30 7-19-6-29-2z"/>
<path color="#636363" d="m-93-363l30 7-15 8-26 5z"/>
<path color="#4c4c4c" d="m91-374l21-21-15 7-19 26z"/>
<path color="#4c4c4c" d="m30-344l26-2-15 2-26 3z"/>
<path color="#949494" d="m-154-330l24-7-3 32-23 11z"/>
<path color="#4d4d4d" d="m-47-362l32 14-18-1-30-7z"/>
<path color="#4c4c4c" d="m68-360l23-14-13 12-22 16z"/>
<path color="#848484" d="m-122-366l29 3-11 20-26 6z"/>
<path color="#4d4d4d" d="m2-351l28 7-15 3-30-7z"/>
<path color="#5f5f5f" d="m-78-376l31 14-16 6-30-7z"/>
<path color="#535353" d="m44-356l24-4-12 14-26 2z"/>
<path color="#878787" d="m-147-361l25-5-8 29-24 7z"/>
<path color="#4d4d4d" d="m-29-365l31 14-17 3-32-14z"/>
<path color="#6b6b6b" d="m-108-384l30 8-15 13-29-3z"/>
<path color="#575757" d="m17-358l27 2-14 12-28-7z"/>
<path color="#4f4f4f" d="m-60-379l31 14-18 3-31-14z"/>
<path color="#606060" d="m-134-381l26-3-14 18-25 5z"/>
<path color="#4d4d4d" d="m-11-365l28 7-15 7-31-14z"/>
<path color="#4d4d4d" d="m-88-387l28 8-18 3-30-8z"/>
<path color="#4c4c4c" d="m-38-372l27 7-18 0-31-14z"/>
<path color="#4c4c4c" d="m-114-384l26-3-20 3-26 3z"/>
<path color="#4c4c4c" d="m-65-375l27 3-22-7-28-8z"/>
</g></g>
<path d="M85.7 -59.1L84.5 -60.2L83.1 -61.8L81.7 -63.9L80 -66.1L78.3 -68.2L76.5 -69.9L74.7 -70.9L73.2 -71.1L71.9 -70.4L71 -68.9L70.5 -66.8L70.2 -64.4L70.1 -61.9L70 -59.6L69.9 -57.7L69.4 -56.3L68.6 -55.4L67.5 -54.9L66.1 -54.6L64.5 -54.2L63 -53.5L61.8 -52.4L61 -50.8L60.7 -48.7L61 -46.2L61.8 -43.5L63 -40.8L64.5 -38.2L66.1 -35.9L67.5 -33.7L68.6 -31.8L69.4 -29.9L69.9 -27.9L70 -25.8L70.1 -23.4L70.2 -20.8L70.5 -18L71 -15.2L71.9 -12.5L73.2 -10.2L74.7 -8.5L76.5 -7.3L78.3 -6.7L80 -6.6L81.7 -6.7L83.1 -6.9L84.5 -6.8L85.7 -6.3" fill="none" stroke="#000" stroke-width="1.6"/>
<path d="M0 -43.8L85.7 -76.5L85.7 -59.1L83.9 -58.8L82.1 -59.1L80.3 -59.8L78.6 -60.8L76.8 -61.8L75 -62.5L73.2 -62.8L71.4 -62.4L69.6 -61.4L67.8 -59.8L66.1 -57.7L64.3 -55.3L62.5 -53L60.7 -50.9L58.9 -49.3L57.1 -48.2L55.3 -47.9L53.6 -48.2L51.8 -48.9L50 -49.9L48.2 -50.9L46.4 -51.6L44.6 -51.9L42.9 -51.5L41.1 -50.5L39.3 -48.9L37.5 -46.8L35.7 -44.4L33.9 -42.1L32.1 -40L30.4 -38.4L28.6 -37.3L26.8 -37L25 -37.3L23.2 -38L21.4 -39L19.6 -40L17.9 -40.7L16.1 -41L14.3 -40.6L12.5 -39.6L10.7 -38L8.9 -35.9L7.1 -33.5L5.4 -31.2L3.6 -29.1L1.8 -27.5L0 -26.4z" fill="#b3b3b3" stroke="#000" stroke-width="1.7" stroke-linejoin="round"/>
<path d="M0 26.4L1.8 26.1L3.6 26.4L5.4 27.1L7.1 28.1L8.9 29.1L10.7 29.8L12.5 30.1L14.3 29.7L16.1 28.7L17.9 27.1L19.6 25L21.4 22.6L23.2 20.3L25 18.2L26.8 16.6L28.6 15.5L30.4 15.2L32.1 15.5L33.9 16.2L35.7 17.2L37.5 18.2L39.3 18.9L41.1 19.2L42.9 18.8L44.6 17.8L46.4 16.2L48.2 14.1L50 11.7L51.8 9.4L53.6 7.3L55.3 5.7L57.1 4.6L58.9 4.3L60.7 4.6L62.5 5.3L64.3 6.3L66.1 7.3L67.8 8L69.6 8.3L71.4 7.9L73.2 6.9L75 5.3L76.8 3.2L78.6 0.8L80.3 -1.5L82.1 -3.6L83.9 -5.2L85.7 -6.3L85.7 11.1L0 43.8z" fill="#b0b0b0" stroke="#000" stroke-width="1.7" stroke-linejoin="round"/>
<path d="M0 -43.8L-1.6 -44.8L-3.3 -45.6L-4.9 -46.4L-6.5 -47L-8.1 -47.5L-9.6 -47.8L-11.2 -48L-12.7 -48.1L-14.2 -48.1L-15.6 -47.9L-17 -47.6L-18.3 -47.1L-19.6 -46.6L-20.9 -45.9L-22.1 -45L-23.2 -44.1L-24.2 -43L-25.2 -41.8L-26.2 -40.5L-27 -39.1L-27.8 -37.6L-28.5 -36L-29.1 -34.3L-29.7 -32.4L-30.1 -30.5L-30.5 -28.6L-30.8 -26.5L-31 -24.4L-31.1 -22.2L-31.2 -19.9L-31.1 -17.6L-31 -15.2L-30.8 -12.8L-30.5 -10.3L-30.1 -7.9L-29.7 -5.4L-29.1 -2.9L-28.5 -0.4L-27.8 2.2L-27 4.7L-26.2 7.2L-25.2 9.7L-24.2 12.1L-23.2 14.5L-22.1 16.9L-20.9 19.2L-19.6 21.5L-18.3 23.7L-17 25.9L-15.6 28L-14.2 30L-12.7 31.9L-11.2 33.8L-9.6 35.5L-8.1 37.2L-6.5 38.7L-4.9 40.2L-3.3 41.5L-1.6 42.7L0 43.8L0 26.4L-1.2 25.9L-2.6 25.8L-4 26L-5.7 26.1L-7.4 26L-9.2 25.4L-11 24.2L-12.5 22.5L-13.8 20.2L-14.7 17.5L-15.2 14.7L-15.5 11.9L-15.6 9.3L-15.7 6.9L-15.8 4.8L-16.3 2.8L-17.1 0.9L-18.2 -1L-19.6 -3.2L-21.2 -5.5L-22.7 -8.1L-23.9 -10.8L-24.7 -13.5L-25 -16L-24.7 -18.1L-23.9 -19.7L-22.7 -20.8L-21.2 -21.5L-19.6 -21.9L-18.2 -22.2L-17.1 -22.7L-16.3 -23.6L-15.8 -25L-15.7 -26.9L-15.6 -29.2L-15.5 -31.7L-15.2 -34.1L-14.7 -36.2L-13.8 -37.7L-12.5 -38.4L-11 -38.2L-9.2 -37.2L-7.4 -35.5L-5.7 -33.4L-4 -31.2L-2.6 -29.1L-1.2 -27.5L0 -26.4z" fill="url(#fd)" stroke="#000" stroke-width="1.7" stroke-linejoin="round"/>
<path d="M-18.3 -47.1L67.4 -79.8L68.6 -80.2L69.9 -80.5L71.2 -80.7L72.6 -80.8L74 -80.8L75.4 -80.6L76.8 -80.4L78.2 -80L79.7 -79.5L81.2 -78.9L82.7 -78.2L84.2 -77.4L85.7 -76.5" fill="none" stroke="#2a2a2a" stroke-width="1.1" stroke-linejoin="round"/>
<path d="M0 -43.8L85.7 -76.5" fill="none" stroke="#000" stroke-width="2.1"/>
</g>
<path d="M392.8 285.2L387.8 303.2L382.8 320.4L377.8 336.8L372.8 352.5L367.8 367.6L362.8 381.9L357.8 395.6L352.8 408.7L347.8 421.3L342.8 433.2L337.8 444.7L332.8 455.6L327.8 466.1L322.8 476.1L317.8 485.7L312.8 494.8L307.8 503.5L302.8 511.9L297.8 519.9L292.8 527.5L287.8 534.8L282.8 541.7L277.8 548.4L272.9 554.8L267.9 560.9L262.9 566.7L257.9 572.2L252.9 577.6L247.9 582.6L242.9 587.5L237.9 592.1L232.9 596.6L227.9 600.8L222.9 604.9L217.9 608.7L212.9 612.5L207.9 616L202.9 619.4L197.9 622.6L192.9 625.7L187.9 628.7L182.9 631.5L177.9 634.2L172.9 636.8L167.9 639.2L162.9 641.6L157.9 643.9L153 646L148 648.1L143 650L138 651.9L133 653.7L128 655.4L123 657.1L118 658.7L113 660.2L108 661.6L103 663L98 664.3L93 665.5" fill="none" stroke="#a8a8a8" stroke-width="1.2" stroke-dasharray="1.5 8.4 14 8.4"/>
<path d="M322.5 407.9L785.9 123.2" fill="none" stroke="#a8a8a8" stroke-width="1.2" stroke-dasharray="1.5 9.7 15.3 9.7"/>
<path d="M93 666.1C108 661.5 122.9 657.6 137.9 652.2C152.2 647.1 166.4 641.3 180.7 633.7C204.5 621.1 228.4 603.5 252.2 582.2C270 566.3 287.8 543.2 305.6 520.8C319.7 503.1 333.8 482 347.9 462.6C359.9 446.1 371.9 429 383.9 413.2C394.6 399.2 405.2 384.8 415.9 372.8C425.8 361.7 435.6 351.7 445.5 342.6C454.7 334.1 463.9 326.5 473.1 319.4C481.9 312.6 490.6 306.5 499.4 300.5C507.9 294.6 516.5 289 525 283.6C533.2 278.4 541.4 273.7 549.6 268.6C557.7 263.6 565.8 258.4 573.9 253.4C581.6 248.6 589.3 244.1 597 239.1C604.8 234.1 612.5 228.8 620.3 223.3C627.8 218 635.3 212.5 642.8 206.8C650.3 201.1 657.8 195.2 665.3 189.2C671.8 184 678.2 178.9 684.7 173.4C689.7 169.1 694.8 164.3 699.8 159.8C704.8 155.3 709.7 150.9 714.7 146.3C718.7 142.6 722.7 138.6 726.7 134.8C730.5 131.2 734.2 127.6 738 124.1C741.4 120.9 744.9 117.9 748.3 114.9C751.4 112.2 754.4 109.4 757.5 107.1C760.4 104.9 763.2 102.9 766.1 101.1C768.7 99.4 771.4 97.6 774 96.4C776.5 95.3 778.9 94.3 781.4 93.7C783.8 93.2 786.1 92.9 788.5 92.5" fill="none" stroke="#0000ff" stroke-width="1.3"/>
<g fill="none" stroke="#0000ff" stroke-width="1.2">
<circle cx="180.7" cy="633.7" r="4.6"/>
<circle cx="252.2" cy="582.2" r="4.6"/>
<circle cx="305.6" cy="520.8" r="4.6"/>
<circle cx="347.9" cy="462.6" r="4.6"/>
<circle cx="383.9" cy="413.2" r="4.6"/>
<circle cx="415.9" cy="372.8" r="4.6"/>
<circle cx="445.5" cy="342.6" r="4.6"/>
<circle cx="473.1" cy="319.4" r="4.6"/>
<circle cx="499.4" cy="300.5" r="4.6"/>
<circle cx="525" cy="283.6" r="4.6"/>
<circle cx="549.6" cy="268.6" r="4.6"/>
<circle cx="573.9" cy="253.4" r="4.6"/>
<circle cx="597" cy="239.1" r="4.6"/>
<circle cx="620.3" cy="223.3" r="4.6"/>
<circle cx="642.8" cy="206.8" r="4.6"/>
<circle cx="665.3" cy="189.2" r="4.6"/>
<circle cx="684.7" cy="173.4" r="4.6"/>
<circle cx="699.8" cy="159.8" r="4.6"/>
<circle cx="714.7" cy="146.3" r="4.6"/>
<circle cx="726.7" cy="134.8" r="4.6"/>
<circle cx="738" cy="124.1" r="4.6"/>
<circle cx="748.3" cy="114.9" r="4.6"/>
<circle cx="757.5" cy="107.1" r="4.6"/>
<circle cx="766.1" cy="101.1" r="4.6"/>
<circle cx="774" cy="96.4" r="4.6"/>
<circle cx="781.4" cy="93.7" r="4.6"/>
<circle cx="788.5" cy="92.5" r="4.6"/>
</g>
<path d="M93 676.6C120.4 674.7 147.9 673.5 175.3 671C202.1 668.5 229 664.9 255.8 659.4C273.7 655.8 291.7 649.1 309.6 642.3C323.8 636.9 338 630.7 352.2 622.8C364.2 616.1 376.3 607.3 388.3 597.5C399.2 588.6 410.1 578.1 421 565.6C430.8 554.4 440.7 536.6 450.5 525.2C459.8 514.3 469.2 505.1 478.5 496.8C487.3 489 496 482.6 504.8 475.9C513.3 469.4 521.9 462.9 530.4 457C538.7 451.2 547 446.3 555.3 440.6C563.4 435.1 571.5 429 579.6 423.3C587.4 417.8 595.3 412.6 603.1 407C610.8 401.5 618.5 395.9 626.2 390.2C633.8 384.6 641.3 378.8 648.9 372.9C656.2 367.3 663.5 361.6 670.8 355.7C676.7 350.9 682.6 346 688.5 340.8C693.7 336.2 698.9 331.4 704.1 326.6C708.6 322.5 713.1 318.2 717.6 314C721.7 310.2 725.8 306.2 729.9 302.4C733.5 299.1 737.2 295.9 740.8 292.6C744.1 289.6 747.5 286.3 750.8 283.3C753.8 280.6 756.9 278 759.9 275.6C762.9 273.3 765.8 271.1 768.8 269.1C771.4 267.4 773.9 265.5 776.5 264.4C778.9 263.3 781.3 262.7 783.7 261.9" fill="none" stroke="#2828ff" stroke-width="1.3"/>
<g fill="#fff" stroke="#2828ff" stroke-width="3.6">
<circle cx="175.3" cy="671" r="2.95"/>
<circle cx="255.8" cy="659.4" r="2.95"/>
<circle cx="309.6" cy="642.3" r="2.95"/>
<circle cx="352.2" cy="622.8" r="2.95"/>
<circle cx="388.3" cy="597.5" r="2.95"/>
<circle cx="421" cy="565.6" r="2.95"/>
<circle cx="450.5" cy="525.2" r="2.95"/>
<circle cx="478.5" cy="496.8" r="2.95"/>
<circle cx="504.8" cy="475.9" r="2.95"/>
<circle cx="530.4" cy="457" r="2.95"/>
<circle cx="555.3" cy="440.6" r="2.95"/>
<circle cx="579.6" cy="423.3" r="2.95"/>
<circle cx="603.1" cy="407" r="2.95"/>
<circle cx="626.2" cy="390.2" r="2.95"/>
<circle cx="648.9" cy="372.9" r="2.95"/>
<circle cx="670.8" cy="355.7" r="2.95"/>
<circle cx="688.5" cy="340.8" r="2.95"/>
<circle cx="704.1" cy="326.6" r="2.95"/>
<circle cx="717.6" cy="314" r="2.95"/>
<circle cx="729.9" cy="302.4" r="2.95"/>
<circle cx="740.8" cy="292.6" r="2.95"/>
<circle cx="750.8" cy="283.3" r="2.95"/>
<circle cx="759.9" cy="275.6" r="2.95"/>
<circle cx="768.8" cy="269.1" r="2.95"/>
<circle cx="776.5" cy="264.4" r="2.95"/>
<circle cx="783.7" cy="261.9" r="2.95"/>
</g>
<path d="M93 666.6C128.7 665.4 164.4 665 200.1 663C223.6 661.7 247 657.6 270.5 653.7C287.2 650.9 303.8 646.7 320.5 642.8C333.8 639.7 347.2 636.3 360.5 632.6C372.3 629.3 384.1 625.9 395.9 621.9C406.4 618.4 416.9 614.5 427.4 610C437.1 605.8 446.9 601 456.6 595.5C465.7 590.3 474.7 584.8 483.8 577.4C492.6 570.2 501.3 557.9 510.1 549.4C518.5 541.3 526.9 533.8 535.3 527.1C543.5 520.6 551.6 515.1 559.8 509.5C567.8 504 575.8 499.1 583.8 493.5C591.6 488.1 599.3 482.2 607.1 476.6C614.8 471 622.6 465.9 630.3 460.1C637.8 454.5 645.4 448.5 652.9 442.4C659.8 436.8 666.7 430.8 673.6 424.9C679.4 420 685.1 415.1 690.9 410C695.9 405.6 701 401 706 396.5C710.5 392.5 714.9 388.4 719.4 384.3C723.4 380.6 727.3 377 731.3 373.2C734.9 369.8 738.4 366.2 742 362.9C745.3 359.9 748.5 356.9 751.8 354.1C754.7 351.6 757.7 349.2 760.6 346.9C763.4 344.7 766.2 342.6 769 340.8C771.6 339.1 774.3 336.9 776.9 336.2C779.4 335.5 781.9 335.3 784.4 334.8" fill="none" stroke="#4646ff" stroke-width="1.3"/>
<g fill="#fff" stroke="#4646ff" stroke-width="3.6">
<circle cx="200.1" cy="663" r="2.95"/>
<circle cx="270.5" cy="653.7" r="2.95"/>
<circle cx="320.5" cy="642.8" r="2.95"/>
<circle cx="360.5" cy="632.6" r="2.95"/>
<circle cx="395.9" cy="621.9" r="2.95"/>
<circle cx="427.4" cy="610" r="2.95"/>
<circle cx="456.6" cy="595.5" r="2.95"/>
<circle cx="483.8" cy="577.4" r="2.95"/>
<circle cx="510.1" cy="549.4" r="2.95"/>
<circle cx="535.3" cy="527.1" r="2.95"/>
<circle cx="559.8" cy="509.5" r="2.95"/>
<circle cx="583.8" cy="493.5" r="2.95"/>
<circle cx="607.1" cy="476.6" r="2.95"/>
<circle cx="630.3" cy="460.1" r="2.95"/>
<circle cx="652.9" cy="442.4" r="2.95"/>
<circle cx="673.6" cy="424.9" r="2.95"/>
<circle cx="690.9" cy="410" r="2.95"/>
<circle cx="706" cy="396.5" r="2.95"/>
<circle cx="719.4" cy="384.3" r="2.95"/>
<circle cx="731.3" cy="373.2" r="2.95"/>
<circle cx="742" cy="362.9" r="2.95"/>
<circle cx="751.8" cy="354.1" r="2.95"/>
<circle cx="760.6" cy="346.9" r="2.95"/>
<circle cx="769" cy="340.8" r="2.95"/>
<circle cx="776.9" cy="336.2" r="2.95"/>
<circle cx="784.4" cy="334.8" r="2.95"/>
</g>
<path d="M93 659.8C110.4 659.4 127.8 659.2 145.2 658.6C176.8 657.6 208.3 655.2 239.9 652.7C259.3 651.2 278.8 649.1 298.2 646.7C313.1 644.9 327.9 642.6 342.8 640C355.3 637.8 367.9 634.9 380.4 632C391.5 629.5 402.5 626.6 413.6 623.7C423.6 621.1 433.7 618.4 443.7 615.3C453.2 612.4 462.6 609 472.1 605.4C481.1 602 490.2 598.3 499.2 594.1C507.7 590.2 516.1 586.5 524.6 581.1C532.9 575.8 541.1 567.3 549.4 560.2C557.4 553.3 565.5 545.2 573.5 539.1C581.4 533 589.4 528.3 597.3 523C605.1 517.8 612.8 512.9 620.6 507.6C628.3 502.3 635.9 496.8 643.6 491.1C651.1 485.5 658.7 479.8 666.2 473.6C672.8 468.2 679.4 462.2 686 456.4C691.5 451.5 697 446.6 702.5 441.5C707.4 437 712.3 432.3 717.2 427.7C721.5 423.6 725.9 419.5 730.2 415.4C734 411.8 737.7 408.1 741.5 404.6C745 401.4 748.5 398.3 752 395.3C755.2 392.6 758.4 389.9 761.6 387.4C764.5 385.2 767.3 382.6 770.2 381.1C773 379.6 775.8 378.5 778.6 377.6C781.1 376.8 783.7 376.2 786.2 375.5" fill="none" stroke="#6464ff" stroke-width="1.3"/>
<g fill="#fff" stroke="#6464ff" stroke-width="3.6">
<circle cx="145.2" cy="658.6" r="2.95"/>
<circle cx="239.9" cy="652.7" r="2.95"/>
<circle cx="298.2" cy="646.7" r="2.95"/>
<circle cx="342.8" cy="640" r="2.95"/>
<circle cx="380.4" cy="632" r="2.95"/>
<circle cx="413.6" cy="623.7" r="2.95"/>
<circle cx="443.7" cy="615.3" r="2.95"/>
<circle cx="472.1" cy="605.4" r="2.95"/>
<circle cx="499.2" cy="594.1" r="2.95"/>
<circle cx="524.6" cy="581.1" r="2.95"/>
<circle cx="549.4" cy="560.2" r="2.95"/>
<circle cx="573.5" cy="539.1" r="2.95"/>
<circle cx="597.3" cy="523" r="2.95"/>
<circle cx="620.6" cy="507.6" r="2.95"/>
<circle cx="643.6" cy="491.1" r="2.95"/>
<circle cx="666.2" cy="473.6" r="2.95"/>
<circle cx="686" cy="456.4" r="2.95"/>
<circle cx="702.5" cy="441.5" r="2.95"/>
<circle cx="717.2" cy="427.7" r="2.95"/>
<circle cx="730.2" cy="415.4" r="2.95"/>
<circle cx="741.5" cy="404.6" r="2.95"/>
<circle cx="752" cy="395.3" r="2.95"/>
<circle cx="761.6" cy="387.4" r="2.95"/>
<circle cx="770.2" cy="381.1" r="2.95"/>
<circle cx="778.6" cy="377.6" r="2.95"/>
<circle cx="786.2" cy="375.5" r="2.95"/>
</g>
<path d="M93 655.4C128.9 654.5 164.7 654.2 200.6 652.7C224.3 651.7 248.1 648.4 271.8 646.5C288.3 645.2 304.7 644.4 321.2 642.7C334.9 641.3 348.6 639 362.3 636.5C374.1 634.4 385.9 631.2 397.7 628.7C408.1 626.5 418.6 624.5 429 622.3C438.7 620.2 448.5 618.1 458.2 615.7C467.4 613.4 476.5 610.7 485.7 608.1C494.5 605.6 503.2 603.2 512 600.2C520.4 597.4 528.7 594.3 537.1 590.6C545.3 587 553.4 583.1 561.6 577.8C569.6 572.6 577.6 563.3 585.6 556.8C593.5 550.4 601.3 544.4 609.2 538.8C616.8 533.4 624.4 528.5 632 523.4C639.7 518.2 647.3 513.2 655 507.8C661.9 502.9 668.8 497.9 675.7 492.5C681.5 487.9 687.4 482.8 693.2 477.8C698.2 473.5 703.3 469 708.3 464.5C712.7 460.5 717.2 456.4 721.6 452.4C725.5 448.8 729.4 445.3 733.3 441.7C736.7 438.6 740 435.5 743.4 432.4C746.7 429.4 749.9 426.3 753.2 423.4C756.3 420.6 759.4 417.5 762.5 415.3C765.4 413.2 768.2 411.5 771.1 410C773.7 408.6 776.4 407.3 779 406.2C781.4 405.2 783.8 404.5 786.2 403.7" fill="none" stroke="#8282ff" stroke-width="1.3"/>
<g fill="#fff" stroke="#8282ff" stroke-width="3.6">
<circle cx="200.6" cy="652.7" r="2.95"/>
<circle cx="271.8" cy="646.5" r="2.95"/>
<circle cx="321.2" cy="642.7" r="2.95"/>
<circle cx="362.3" cy="636.5" r="2.95"/>
<circle cx="397.7" cy="628.7" r="2.95"/>
<circle cx="429" cy="622.3" r="2.95"/>
<circle cx="458.2" cy="615.7" r="2.95"/>
<circle cx="485.7" cy="608.1" r="2.95"/>
<circle cx="512" cy="600.2" r="2.95"/>
<circle cx="537.1" cy="590.6" r="2.95"/>
<circle cx="561.6" cy="577.8" r="2.95"/>
<circle cx="585.6" cy="556.8" r="2.95"/>
<circle cx="609.2" cy="538.8" r="2.95"/>
<circle cx="632" cy="523.4" r="2.95"/>
<circle cx="655" cy="507.8" r="2.95"/>
<circle cx="675.7" cy="492.5" r="2.95"/>
<circle cx="693.2" cy="477.8" r="2.95"/>
<circle cx="708.3" cy="464.5" r="2.95"/>
<circle cx="721.6" cy="452.4" r="2.95"/>
<circle cx="733.3" cy="441.7" r="2.95"/>
<circle cx="743.4" cy="432.4" r="2.95"/>
<circle cx="753.2" cy="423.4" r="2.95"/>
<circle cx="762.5" cy="415.3" r="2.95"/>
<circle cx="771.1" cy="410" r="2.95"/>
<circle cx="779" cy="406.2" r="2.95"/>
<circle cx="786.2" cy="403.7" r="2.95"/>
</g>
<g fill="none" stroke="#585858" stroke-width="1.5">
<path d="M690.6 147.5V537"/>
<path d="M789 91.3H849.4V131.3H889.8"/>
<path d="M788 261.1H849.4V290.6H889.8"/>
<path d="M788 334.4H849.4V450.5H889.8"/>
<path d="M786 404V610.1H889.8"/>
</g>
<path d="M686.2 535.3L695 535.3L690.6 546z" fill="#585858"/>
<g fill="none" stroke="#3c3c3c">
<rect x="93" y="13.6" width="1019.5" height="679.1" stroke-width="1.6"/>
<path d="M169.7 692.7v-5M169.7 13.6v5M214.6 692.7v-5M214.6 13.6v5M246.5 692.7v-5M246.5 13.6v5M271.1 692.7v-5M271.1 13.6v5M291.3 692.7v-5M291.3 13.6v5M308.4 692.7v-5M308.4 13.6v5M323.2 692.7v-5M323.2 13.6v5M336.2 692.7v-5M336.2 13.6v5M347.9 692.7v-10M347.9 13.6v10M424.6 692.7v-5M424.6 13.6v5M469.5 692.7v-5M469.5 13.6v5M501.3 692.7v-5M501.3 13.6v5M526 692.7v-5M526 13.6v5M546.2 692.7v-5M546.2 13.6v5M563.3 692.7v-5M563.3 13.6v5M578.1 692.7v-5M578.1 13.6v5M591.1 692.7v-5M591.1 13.6v5M602.8 692.7v-10M602.8 13.6v10M679.5 692.7v-5M679.5 13.6v5M724.4 692.7v-5M724.4 13.6v5M756.2 692.7v-5M756.2 13.6v5M780.9 692.7v-5M780.9 13.6v5M801.1 692.7v-5M801.1 13.6v5M818.1 692.7v-5M818.1 13.6v5M832.9 692.7v-5M832.9 13.6v5M846 692.7v-5M846 13.6v5M857.6 692.7v-10M857.6 13.6v10M934.4 692.7v-5M934.4 13.6v5M979.2 692.7v-5M979.2 13.6v5M1011.1 692.7v-5M1011.1 13.6v5M1035.8 692.7v-5M1035.8 13.6v5M1056 692.7v-5M1056 13.6v5M1073 692.7v-5M1073 13.6v5M1087.8 692.7v-5M1087.8 13.6v5M1100.8 692.7v-5M1100.8 13.6v5M93 556.9h10M1112.5 556.9h-10M93 421.1h10M1112.5 421.1h-10M93 285.2h10M1112.5 285.2h-10M93 149.4h10M1112.5 149.4h-10" stroke-width="1.1"/>
</g>
<g font-family="'Liberation Serif','DejaVu Serif',serif" font-size="25" fill="#000">
<text x="82.2" y="702.3" text-anchor="end">0</text>
<text x="82.2" y="565.7" text-anchor="end">5</text>
<text x="82.2" y="429.9" text-anchor="end">10</text>
<text x="82.2" y="294" text-anchor="end">15</text>
<text x="82.2" y="158.2" text-anchor="end">20</text>
<text x="82.2" y="21.3" text-anchor="end">25</text>
<text x="74.7" y="725.3">10<tspan font-size="18" dx="0.6" dy="-9.2">0</tspan></text>
<text x="329.9" y="725.3">10<tspan font-size="18" dx="0.6" dy="-9.2">1</tspan></text>
<text x="585.2" y="725.3">10<tspan font-size="18" dx="0.6" dy="-9.2">2</tspan></text>
<text x="840.5" y="725.3">10<tspan font-size="18" dx="0.6" dy="-9.2">3</tspan></text>
<text x="1095.7" y="725.3">10<tspan font-size="18" dx="0.6" dy="-9.2">4</tspan></text>
</g>
<text x="-7" y="368.2" font-family="'Liberation Serif','DejaVu Serif',serif" font-size="30" font-style="italic">U</text>
<text x="18.2" y="359.4" font-family="'DejaVu Sans Light','DejaVu Sans',sans-serif" font-size="21" stroke="#000" stroke-width=".35">+</text>
<text x="588.7" y="767.8" font-family="'Liberation Serif','DejaVu Serif',serif" font-size="30" font-style="italic">y</text>
<text x="600.6" y="760.3" font-family="'DejaVu Sans Light','DejaVu Sans',sans-serif" font-size="20" stroke="#000" stroke-width=".35">+</text>
<g font-family="'Liberation Serif','DejaVu Serif',serif" font-size="25" fill="#6b6b6b" text-anchor="middle">
<text x="694.5" y="573.8">Geometrically</text>
<text x="694.5" y="598.8">increasing</text>
<text x="694.5" y="623.7">roughness</text>
<text x="694.5" y="648.6">height</text>
</g>
<g font-family="'Liberation Serif','DejaVu Serif',serif" font-size="25" fill="#6b6b6b">
<text x="1007.5" y="192">Smooth</text>
<text x="1007.5" y="352">20_141</text>
<text x="1007.5" y="508.5">40_283</text>
<text x="1007.5" y="673">80_565</text>
</g>
<rect x="191.6" y="36.1" width="323.7" height="216.1" fill="#fff"/>
<path d="M191.6 226.1L195.6 225L199.7 223.9L203.7 222.7L207.8 221.5L211.8 220.3L215.9 219.1L219.9 217.9L224 216.6L228 215.3L232.1 213.9L236.1 212.5L240.2 211.1L244.2 209.7L248.2 208.3L252.3 206.8L256.3 205.3L260.4 203.8L264.4 202.2L268.5 200.7L272.5 199.1L276.6 197.5L280.6 195.8L284.7 194.2L288.7 192.5L292.8 190.8L296.8 189.1L300.8 187.4L304.9 185.7L308.9 183.9L313 182.1L317 180.4L321.1 178.6L325.1 176.7L329.2 174.9L333.2 173.1L337.3 171.2L341.3 169.4L345.4 167.5L349.4 165.6L353.4 163.7L357.5 161.8L361.5 159.9L365.6 158L369.6 156.1L373.7 154.2L377.7 152.2L381.8 150.3L385.8 148.3L389.9 146.3L393.9 144.4L398 142.4L402 140.4L406.1 138.4L410.1 136.5L414.1 134.5L418.2 132.5L422.2 130.5L426.3 128.5L430.3 126.5L434.4 124.4L438.4 122.4L442.5 120.4L446.5 118.4L450.6 116.4L454.6 114.3L458.7 112.3L462.7 110.3L466.7 108.2L470.8 106.2L474.8 104.2L478.9 102.1L482.9 100.1L487 98L491 96L495.1 94L499.1 91.9L503.2 89.9L507.2 87.8L511.3 85.8L515.3 83.7" fill="none" stroke="#111" stroke-width="1.3"/>
<path d="M191.6 247.5L509.4 84.6" fill="none" stroke="#222" stroke-width="1.1" stroke-dasharray="11 5 1.5 5" stroke-dashoffset="-8"/>
<circle cx="255.3" cy="228" r="4.4" fill="#383838"/>
<circle cx="305.6" cy="206.7" r="4.4" fill="#4a4a4a"/>
<circle cx="354.3" cy="191.9" r="4.4" fill="#6a6a6a"/>
<circle cx="374.1" cy="173.2" r="4.4" fill="#858585"/>
<circle cx="387" cy="159.3" r="4.4" fill="#9c9c9c"/>
<circle cx="402.2" cy="149.4" r="4.4" fill="#b0b0b0"/>
<circle cx="402.2" cy="161.6" r="2.95" fill="#fff" stroke="#2828ff" stroke-width="3.6"/>
<circle cx="450.2" cy="123.3" r="2.95" fill="#fff" stroke="#4646ff" stroke-width="3.6"/>
<circle cx="480" cy="101.3" r="2.95" fill="#fff" stroke="#6464ff" stroke-width="3.6"/>
<circle cx="500" cy="85.9" r="2.95" fill="#fff" stroke="#8282ff" stroke-width="3.6"/>
<g stroke="#111" stroke-width="1.3" fill="none"><path d="M242 143.5V201"/><path d="M396.9 74.2L436 112"/></g>
<path d="M238.2 199.5L245.8 199.5L242 210z" fill="#111"/>
<path d="M441.4 117.6L431.6 113.2L437 107.8z" fill="#111"/>
<g fill="none" stroke="#3c3c3c">
<rect x="191.6" y="36.1" width="323.7" height="216.1" stroke-width="1.2"/>
<path d="M240.3 252.2v-3M240.3 36.1v3M268.8 252.2v-3M268.8 36.1v3M289 252.2v-3M289 36.1v3M304.7 252.2v-3M304.7 36.1v3M317.5 252.2v-3M317.5 36.1v3M328.4 252.2v-3M328.4 36.1v3M337.8 252.2v-3M337.8 36.1v3M346 252.2v-3M346 36.1v3M353.4 252.2v-5M353.4 36.1v5M402.2 252.2v-3M402.2 36.1v3M430.7 252.2v-3M430.7 36.1v3M450.9 252.2v-3M450.9 36.1v3M466.6 252.2v-3M466.6 36.1v3M479.4 252.2v-3M479.4 36.1v3M490.2 252.2v-3M490.2 36.1v3M499.6 252.2v-3M499.6 36.1v3M507.9 252.2v-3M507.9 36.1v3M191.6 180.2h5M515.3 180.2h-5M191.6 108.1h5M515.3 108.1h-5" stroke-width="0.9"/>
</g>
<g font-family="'Liberation Serif','DejaVu Serif',serif" font-size="25" fill="#000">
<text x="182.8" y="261.6" text-anchor="end">0</text>
<text x="182.8" y="189" text-anchor="end">5</text>
<text x="182.8" y="116.9" text-anchor="end">10</text>
<text x="182.8" y="42.9" text-anchor="end">15</text>
<text x="173.6" y="284.2">10<tspan font-size="18" dx="0.6" dy="-8.4">0</tspan></text>
<text x="333.2" y="284.2">10<tspan font-size="18" dx="0.6" dy="-8.4">1</tspan></text>
<text x="488.6" y="284.2">10<tspan font-size="18" dx="0.6" dy="-8.4">2</tspan></text>
</g>
<text x="200.4" y="64.8" font-family="'Liberation Serif','DejaVu Serif',serif" font-size="25">(1</text>
<text x="222.4" y="69.8" font-family="'Liberation Serif','DejaVu Serif',serif" font-size="33">/</text>
<text x="233.6" y="64.8" font-family="'Liberation Serif','DejaVu Serif',serif" font-size="23" font-style="italic">κ</text>
<text x="244.3" y="64.8" font-family="'Liberation Serif','DejaVu Serif',serif" font-size="25">)</text>
<text x="260.5" y="64.8" font-family="'Liberation Serif','DejaVu Serif',serif" font-size="25">log</text>
<text x="293.8" y="64.8" font-family="'Liberation Serif','DejaVu Serif',serif" font-size="25">(</text>
<text x="302.8" y="64.8" font-family="'Liberation Serif','DejaVu Serif',serif" font-size="25">4.1</text>
<text x="334.4" y="64.8" font-family="'Liberation Serif','DejaVu Serif',serif" font-size="25" font-style="italic">h</text>
<text x="345.8" y="56.6" font-family="'DejaVu Sans Light','DejaVu Sans',sans-serif" font-size="17.5" stroke="#000" stroke-width=".35">+</text>
<text x="360.2" y="64.8" font-family="'Liberation Serif','DejaVu Serif',serif" font-size="25">)</text>
<text x="374.7" y="66" font-family="'DejaVu Sans Light','DejaVu Sans',sans-serif" font-size="25.5" stroke="#000" stroke-width=".35">+</text>
<text x="399.1" y="64.8" font-family="'Liberation Serif','DejaVu Serif',serif" font-size="25">5.3</text>
<text x="435.4" y="65" font-family="'DejaVu Sans Light','DejaVu Sans',sans-serif" font-size="24.5" stroke="#000" stroke-width=".35">−</text>
<text x="460.7" y="64.8" font-family="'Liberation Serif','DejaVu Serif',serif" font-size="25">8.5</text>
<text x="192.7" y="127.8" font-family="'Liberation Serif','DejaVu Serif',serif" font-size="25">(1</text>
<text x="214.7" y="132.8" font-family="'Liberation Serif','DejaVu Serif',serif" font-size="33">/</text>
<text x="225.5" y="127.8" font-family="'Liberation Serif','DejaVu Serif',serif" font-size="23" font-style="italic">κ</text>
<text x="236.8" y="127.8" font-family="'Liberation Serif','DejaVu Serif',serif" font-size="25">)</text>
<text x="252.8" y="127.8" font-family="'Liberation Serif','DejaVu Serif',serif" font-size="25">log</text>
<text x="286.1" y="127.8" font-family="'Liberation Serif','DejaVu Serif',serif" font-size="25">(</text>
<text x="293.9" y="127.8" font-family="'Liberation Serif','DejaVu Serif',serif" font-size="25">1</text>
<text x="311.3" y="128.8" font-family="'DejaVu Sans Light','DejaVu Sans',sans-serif" font-size="25.5" stroke="#000" stroke-width=".35">+</text>
<text x="336.1" y="127.8" font-family="'Liberation Serif','DejaVu Serif',serif" font-size="25">0.26</text>
<text x="379.7" y="127.8" font-family="'Liberation Serif','DejaVu Serif',serif" font-size="25" font-style="italic">k</text>
<text x="391.7" y="119.8" font-family="'DejaVu Sans Light','DejaVu Sans',sans-serif" font-size="17" stroke="#000" stroke-width=".35">+</text>
<text x="392" y="135" font-family="'Liberation Serif','DejaVu Serif',serif" font-size="18" font-style="italic">s</text>
<text x="405.9" y="127.8" font-family="'Liberation Serif','DejaVu Serif',serif" font-size="25">)</text>
<text transform="translate(98.8 144.3) scale(1.12 0.94)" font-family="'Liberation Serif','DejaVu Serif',serif" font-size="30">Δ</text>
<text x="120.8" y="144.3" font-family="'Liberation Serif','DejaVu Serif',serif" font-size="30" font-style="italic">U</text>
<text x="143.2" y="134.9" font-family="'DejaVu Sans Light','DejaVu Sans',sans-serif" font-size="21" stroke="#000" stroke-width=".35">+</text>
<text x="339.1" y="327" font-family="'Liberation Serif','DejaVu Serif',serif" font-size="30" font-style="italic">h</text>
<text x="353.9" y="320.8" font-family="'DejaVu Sans Light','DejaVu Sans',sans-serif" font-size="21" stroke="#000" stroke-width=".35">+</text>
</svg></body></html>
